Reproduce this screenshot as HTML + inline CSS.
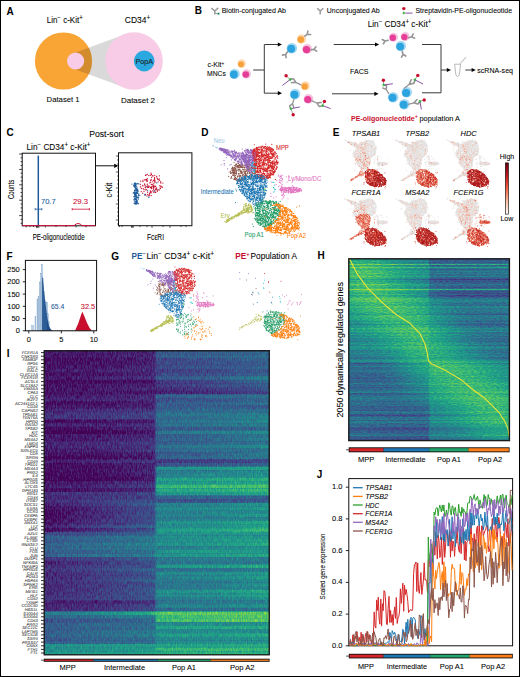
<!DOCTYPE html>
<html><head><meta charset="utf-8"><title>Figure</title>
<style>
html,body{margin:0;padding:0;background:#fff;}
body{width:520px;height:677px;overflow:hidden;}
svg{display:block;font-family:"Liberation Sans", sans-serif;}
</style></head><body>
<svg width="520" height="677" viewBox="0 0 520 677">
<rect x="0" y="0" width="520" height="677" fill="#fff"/>

<text x="6.6" y="15" font-size="10" font-weight="bold" fill="#000">A</text>
<text x="194.8" y="14" font-size="10" font-weight="bold" fill="#000">B</text>
<text x="6.6" y="136" font-size="10" font-weight="bold" fill="#000">C</text>
<text x="201.3" y="136" font-size="10" font-weight="bold" fill="#000">D</text>
<text x="332.8" y="136" font-size="10" font-weight="bold" fill="#000">E</text>
<text x="6.6" y="259.5" font-size="10" font-weight="bold" fill="#000">F</text>
<text x="111.3" y="259.5" font-size="10" font-weight="bold" fill="#000">G</text>
<text x="317.6" y="259" font-size="10" font-weight="bold" fill="#000">H</text>
<text x="6.8" y="357" font-size="10" font-weight="bold" fill="#000">I</text>
<text x="316.8" y="478" font-size="10" font-weight="bold" fill="#000">J</text>
<circle cx="63.5" cy="61" r="28.6" fill="#f8a536"/>
<path d="M75.6 52.4 L122.5 35.2 L122.5 86.8 L75.6 69.6 Z" fill="#000" fill-opacity="0.15"/>
<circle cx="134" cy="61" r="28.8" fill="#f8cce6"/>
<circle cx="75.6" cy="61" r="8.6" fill="#f8cce6"/>
<circle cx="144.2" cy="61" r="10.4" fill="#2ba8e0"/>
<text x="144.2" y="63.6" font-size="7.2" text-anchor="middle" fill="#1a1a1a" stroke="#1a1a1a" stroke-width="0.08">PopA</text>
<text x="46.7" y="22.7" font-size="8.4" stroke="#231f20" stroke-width="0.08" textLength="36" lengthAdjust="spacingAndGlyphs">Lin<tspan dy="-2.8" font-size="6.4">−</tspan><tspan dy="2.8"> </tspan>c-Kit<tspan dy="-2.8" font-size="6.4">+</tspan></text>
<text x="124.8" y="22.7" font-size="8.4" stroke="#231f20" stroke-width="0.08" textLength="25.4" lengthAdjust="spacingAndGlyphs">CD34<tspan dy="-2.8" font-size="6.4">+</tspan></text>
<text x="46.6" y="101.7" font-size="8.0" stroke="#231f20" stroke-width="0.08" textLength="33" lengthAdjust="spacingAndGlyphs">Dataset 1</text>
<text x="121" y="102.8" font-size="8.0" stroke="#231f20" stroke-width="0.08" textLength="34" lengthAdjust="spacingAndGlyphs">Dataset 2</text>
<path d="M211.4 8.2L214.8 11L218.2 7.9M214.8 11V14.4" stroke="#9a9a9a" stroke-width="1.5" fill="none"/>
<path d="M215.4 13.2L217.8 13.7" stroke="#555" stroke-width="0.6"/>
<rect x="217.6" y="12.7" width="1.9" height="1.9" fill="#138a6c"/>
<text x="221.7" y="13.3" font-size="7.4" stroke="#231f20" stroke-width="0.08" textLength="64.3" lengthAdjust="spacingAndGlyphs">Biotin-conjugated Ab</text>
<path d="M317.2 8.3L320.2 11.1L323.3 8.3M320.2 11.1V14.5" stroke="#9a9a9a" stroke-width="1.5" fill="none"/>
<text x="326.8" y="13.3" font-size="7.4" stroke="#231f20" stroke-width="0.08" textLength="52.9" lengthAdjust="spacingAndGlyphs">Unconjugated Ab</text>
<circle cx="403.8" cy="8.6" r="1.7" fill="#c8102e"/>
<rect x="402.7" y="11.9" width="2.2" height="2.2" fill="#3cb64a" transform="rotate(45 403.8 13)"/>
<path d="M405.3 13.1H412.5" stroke="#7e3f98" stroke-width="0.9"/>
<text x="415.5" y="13.3" font-size="7.4" stroke="#231f20" stroke-width="0.08" textLength="96.5" lengthAdjust="spacingAndGlyphs">Streptavidin-PE-oligonucleotide</text>
<text x="207.4" y="67.4" font-size="6.8" stroke="#231f20" stroke-width="0.08" textLength="16.8" lengthAdjust="spacingAndGlyphs">c-Kit<tspan dy="-2.8" font-size="4.5">+</tspan></text>
<text x="207.0" y="76.1" font-size="6.8" stroke="#231f20" stroke-width="0.08" textLength="18.8" lengthAdjust="spacingAndGlyphs">MNCs</text>
<circle cx="241.7" cy="63.6" r="4.3" fill="#fddcb5"/>
<circle cx="241.0" cy="64.2" r="3.0" fill="#f7a13b"/>
<circle cx="234.6" cy="73.9" r="5.2" fill="#a8d8f3"/>
<circle cx="233.9" cy="74.5" r="3.9" fill="#2aa3df"/>
<circle cx="246.5" cy="73.9" r="4.6" fill="#f6c3df"/>
<circle cx="245.8" cy="74.5" r="3.3" fill="#e63d97"/>
<path d="M253.2 70H264.3M264.3 44.5V93.2M264.3 44.5H278M264.3 93.2H278" stroke="#3a3a3a" stroke-width="1" fill="none"/>
<path d="M282 44.5l-4.2 -2.1v4.2z" fill="#000"/>
<path d="M282 93.2l-4.2 -2.1v4.2z" fill="#000"/>
<path d="M333.7 44.5H376M332 93.8H375" stroke="#3a3a3a" stroke-width="1" fill="none"/>
<path d="M379.2 44.5l-4.2 -2.1v4.2z" fill="#000"/>
<path d="M378.6 93.8l-4.2 -2.1v4.2z" fill="#000"/>
<circle cx="301.5" cy="39.0" r="4.7" fill="#fddcb5"/>
<circle cx="300.8" cy="39.6" r="3.4" fill="#f7a13b"/>
<circle cx="291.9" cy="48.2" r="5.3" fill="#a8d8f3"/>
<circle cx="291.2" cy="48.8" r="4.0" fill="#2aa3df"/>
<circle cx="307.2" cy="49.0" r="5.0" fill="#f6c3df"/>
<circle cx="306.5" cy="49.6" r="3.7" fill="#e63d97"/>
<path transform="translate(304.8 36.2) rotate(-38) scale(1.0)" d="M0 0H3.2M3.2 0L5.6-2.2M3.2 0L5.6 2.2" stroke="#959595" stroke-width="1.6" fill="none" stroke-linecap="round"/>
<path transform="translate(287.5 51.8) rotate(125) scale(1.0)" d="M0 0H3.2M3.2 0L5.6-2.2M3.2 0L5.6 2.2" stroke="#959595" stroke-width="1.6" fill="none" stroke-linecap="round"/>
<path transform="translate(310.8 49.8) rotate(-8) scale(1.0)" d="M0 0H3.2M3.2 0L5.6-2.2M3.2 0L5.6 2.2" stroke="#959595" stroke-width="1.6" fill="none" stroke-linecap="round"/>
<text x="367.7" y="27.2" font-size="8.5" stroke="#231f20" stroke-width="0.08" textLength="63.6" lengthAdjust="spacingAndGlyphs">Lin<tspan dy="-2.8" font-size="6.4">−</tspan><tspan dy="2.8"> </tspan>CD34<tspan dy="-2.8" font-size="6.4">+</tspan><tspan dy="2.8"> </tspan>c-Kit<tspan dy="-2.8" font-size="6.4">+</tspan></text>
<circle cx="393.5" cy="37.2" r="4.5" fill="#f6c3df"/>
<circle cx="392.8" cy="37.8" r="3.2" fill="#e63d97"/>
<circle cx="405.1" cy="36.5" r="4.5" fill="#f6c3df"/>
<circle cx="404.4" cy="37.1" r="3.2" fill="#e63d97"/>
<circle cx="400.9" cy="46.0" r="5.2" fill="#a8d8f3"/>
<circle cx="400.2" cy="46.6" r="3.9" fill="#2aa3df"/>
<path transform="translate(388.2 40.2) rotate(165) scale(1.0)" d="M0 0H3.2M3.2 0L5.6-2.2M3.2 0L5.6 2.2" stroke="#959595" stroke-width="1.6" fill="none" stroke-linecap="round"/>
<path transform="translate(408.6 37.8) rotate(-18) scale(1.0)" d="M0 0H3.2M3.2 0L5.6-2.2M3.2 0L5.6 2.2" stroke="#959595" stroke-width="1.6" fill="none" stroke-linecap="round"/>
<path transform="translate(402.2 51.2) rotate(75) scale(1.0)" d="M0 0H3.2M3.2 0L5.6-2.2M3.2 0L5.6 2.2" stroke="#959595" stroke-width="1.6" fill="none" stroke-linecap="round"/>
<text x="350" y="74" font-size="7.4" stroke="#231f20" stroke-width="0.08" textLength="18.5" lengthAdjust="spacingAndGlyphs">FACS</text>
<circle cx="305.4" cy="85.8" r="4.5" fill="#fddcb5"/>
<circle cx="304.7" cy="86.4" r="3.2" fill="#f7a13b"/>
<circle cx="295.1" cy="94.1" r="5.3" fill="#a8d8f3"/>
<circle cx="294.4" cy="94.7" r="4.0" fill="#2aa3df"/>
<circle cx="308.5" cy="98.9" r="4.9" fill="#f6c3df"/>
<circle cx="307.8" cy="99.5" r="3.6" fill="#e63d97"/>
<path transform="translate(300.5 84.6) rotate(-154.1) scale(1.64 1)" d="M0 0H3.2M3.2 0L5.4-2.2M3.2 0L5.4 2.2M5.4 2.2L7 0.3" stroke="#959595" stroke-width="1.3" fill="none" stroke-linecap="round"/>
<path d="M290.2 79.6L282.7 85.2" stroke="#7e3f98" stroke-width="0.9" stroke-linecap="round"/>
<path d="M290.2 79.6L286.1 75.7" stroke="#444" stroke-width="0.5"/>
<circle cx="286.1" cy="75.7" r="1.7" fill="#c8102e"/>
<rect x="289.09999999999997" y="78.5" width="2.2" height="2.2" fill="#3cb64a" transform="rotate(45 290.2 79.6)"/>
<path transform="translate(293.8 99.6) rotate(107.1) scale(1.36 1)" d="M0 0H3.2M3.2 0L5.4-2.2M3.2 0L5.4 2.2M5.4 2.2L7 0.3" stroke="#959595" stroke-width="1.3" fill="none" stroke-linecap="round"/>
<path d="M291.0 108.7L299.5 107.0" stroke="#7e3f98" stroke-width="0.9" stroke-linecap="round"/>
<path d="M291.0 108.7L293.2 114.8" stroke="#444" stroke-width="0.5"/>
<circle cx="293.2" cy="114.8" r="1.7" fill="#c8102e"/>
<rect x="289.9" y="107.60000000000001" width="2.2" height="2.2" fill="#3cb64a" transform="rotate(45 291.0 108.7)"/>
<path transform="translate(312.0 100.8) rotate(24.4) scale(1.66 1)" d="M0 0H3.2M3.2 0L5.4-2.2M3.2 0L5.4 2.2M5.4 2.2L7 0.3" stroke="#959595" stroke-width="1.3" fill="none" stroke-linecap="round"/>
<path d="M322.6 105.6L330.3 108.5" stroke="#7e3f98" stroke-width="0.9" stroke-linecap="round"/>
<path d="M322.6 105.6L324.4 101.4" stroke="#444" stroke-width="0.5"/>
<circle cx="324.4" cy="101.4" r="1.7" fill="#c8102e"/>
<rect x="321.5" y="104.5" width="2.2" height="2.2" fill="#3cb64a" transform="rotate(45 322.6 105.6)"/>
<circle cx="393.2" cy="97.2" r="5.3" fill="#a8d8f3"/>
<circle cx="392.5" cy="97.8" r="4.0" fill="#2aa3df"/>
<circle cx="406.8" cy="92.3" r="5.3" fill="#a8d8f3"/>
<circle cx="406.1" cy="92.9" r="4.0" fill="#2aa3df"/>
<circle cx="404.4" cy="104.2" r="5.3" fill="#a8d8f3"/>
<circle cx="403.7" cy="104.8" r="4.0" fill="#2aa3df"/>
<path transform="translate(388.5 93.2) rotate(-120.9) scale(1.36 1)" d="M0 0H3.2M3.2 0L5.4-2.2M3.2 0L5.4 2.2M5.4 2.2L7 0.3" stroke="#959595" stroke-width="1.3" fill="none" stroke-linecap="round"/>
<path d="M383.6 85.0L392.5 83.8" stroke="#7e3f98" stroke-width="0.9" stroke-linecap="round"/>
<path d="M383.6 85.0L383.4 80.3" stroke="#444" stroke-width="0.5"/>
<circle cx="383.4" cy="80.3" r="1.7" fill="#c8102e"/>
<rect x="382.5" y="83.9" width="2.2" height="2.2" fill="#3cb64a" transform="rotate(45 383.6 85.0)"/>
<path transform="translate(404.6 88.0) rotate(-38.8) scale(1.87 1)" d="M0 0H3.2M3.2 0L5.4-2.2M3.2 0L5.4 2.2M5.4 2.2L7 0.3" stroke="#959595" stroke-width="1.3" fill="none" stroke-linecap="round"/>
<path d="M414.8 79.8L422.7 83.8" stroke="#7e3f98" stroke-width="0.9" stroke-linecap="round"/>
<path d="M414.8 79.8L417.8 75.4" stroke="#444" stroke-width="0.5"/>
<circle cx="417.8" cy="75.4" r="1.7" fill="#c8102e"/>
<rect x="413.7" y="78.7" width="2.2" height="2.2" fill="#3cb64a" transform="rotate(45 414.8 79.8)"/>
<path transform="translate(409.0 104.2) rotate(-15.4) scale(1.62 1)" d="M0 0H3.2M3.2 0L5.4-2.2M3.2 0L5.4 2.2M5.4 2.2L7 0.3" stroke="#959595" stroke-width="1.3" fill="none" stroke-linecap="round"/>
<path d="M419.9 101.2L421.3 109.0" stroke="#7e3f98" stroke-width="0.9" stroke-linecap="round"/>
<path d="M419.9 101.2L424.2 100.0" stroke="#444" stroke-width="0.5"/>
<circle cx="424.2" cy="100.0" r="1.7" fill="#c8102e"/>
<rect x="418.79999999999995" y="100.10000000000001" width="2.2" height="2.2" fill="#3cb64a" transform="rotate(45 419.9 101.2)"/>
<path d="M422 44.5H441M441 44.5V92.8M422 92.8H441M441 70H447" stroke="#3a3a3a" stroke-width="1" fill="none"/>
<path d="M451 70l-4.2 -2.1v4.2z" fill="#000"/>
<path d="M454.6 64.2H460.6L459.4 74.5Q457.6 78.6 455.8 74.5Z" fill="#fff" stroke="#9a9a9a" stroke-width="0.7"/>
<path d="M460.2 63.6L466 57.2" stroke="#9a9a9a" stroke-width="0.8"/>
<path d="M465.3 70H472" stroke="#3a3a3a" stroke-width="1"/>
<path d="M475.8 70l-4.2 -2.1v4.2z" fill="#000"/>
<text x="477.3" y="72.7" font-size="7.2" stroke="#231f20" stroke-width="0.08" textLength="35.7" lengthAdjust="spacingAndGlyphs">scRNA-seq</text>
<text x="351" y="120.8" font-size="7.8" font-weight="bold" fill="#c8102e" textLength="66.8" lengthAdjust="spacingAndGlyphs">PE-oligonucleotide<tspan dy="-2.8" font-size="5.8">+</tspan></text>
<text x="419.5" y="120.8" font-size="7.2" stroke="#231f20" stroke-width="0.08" textLength="40.5" lengthAdjust="spacingAndGlyphs">population A</text>
<path d="M213.1 145.4h0m-.3 .5h0m.8 .1h0m1.9 1h0m.4 .2h0m1.7 0h0m-.9 .7h0m2.3 .7h0m.1 .9h0" stroke="#9ec9e6" stroke-width="1.15" stroke-linecap="round" fill="none"/>
<path d="M234.0 162.3h0m7.3 .1h0m5.1 .1h0m.1 0h0m-8.4 .9h0m.3 0h0m8.5 0h0m0-.6h0m.1 0h0m.2 .7h0m-11.5 .9h0m.5-.3h0m.1 .4h0m.4-.5h0m2.8 .3h0m.8 0h0m1.9-.5h0m3.2 .6h0m1.2-.6h0m1.4 .2h0m.9 0h0m.7 .6h0m2.5-.8h0m.9 .1h0m-18.8 1.4h0m1.8 .1h0m.5-.6h0m2 .4h0m.2 .2h0m.7-.1h0m.1-.4h0m.5 .7h0m0 0h0m2.3-1h0m.4 .3h0m.2-.2h0m0 .9h0m1.4-.2h0m2-.6h0m0 .4h0m.4 0h0m.8 .2h0m.1-.6h0m.2 .1h0m.9 .1h0m.4 .2h0m3.6 0h0m.5 .3h0m.5 0h0m.1-.5h0m1.2 0h0m-19.9 1h0m.1 .1h0m1 .2h0m1.1-.3h0m.3-.4h0m.6 .7h0m.7 0h0m.1-.4h0m1.4 .3h0m.5-.5h0m.3 .3h0m4.9-.4h0m.6 .4h0m1.1 .4h0m.7 .1h0m.9-.3h0m2.7-.3h0m.8 .4h0m2.1-.2h0m-22.5 1.1h0m1.9 .3h0m.6-.1h0m1.7-.5h0m.8 0h0m.1 .2h0m1 .3h0m.2-.3h0m.1 .4h0m1.2 0h0m.2-.6h0m0-.1h0m.2 .1h0m.9 .6h0m0-.9h0m.6 .6h0m.3 .4h0m.5-.9h0m0 .3h0m.8 0h0m.8 .4h0m.5-.6h0m.1 .6h0m1.5-.1h0m.8-.8h0m.4 .4h0m1-.3h0m.1 0h0m2.5 .3h0m.4 0h0m0 0h0m.3 .4h0m1.7 0h0m-21.7 .9h0m.5-.5h0m.4 .4h0m.1 .1h0m.4-.3h0m1-.3h0m.2 .2h0m.3 .4h0m.7 .1h0m.4 .2h0m2.1-.6h0m1.2-.4h0m.5 .1h0m2-.1h0m1.1 .1h0m3.8 .6h0m.9 0h0m.3-.5h0m.6 .1h0m.1 .6h0m1.3-.7h0m.6 .5h0m1-.7h0m0 .7h0m.3-.2h0m.3 .1h0m.7 0h0m2.7 0h0m-24 .7h0m.2 .1h0m1-.3h0m.5 .2h0m.3 .4h0m1.1-.2h0m.4-.2h0m4.3 .3h0m.9 .2h0m2.6 0h0m1.9-.4h0m3 .4h0m.4-.2h0m0-.1h0m1.2 .3h0m.2-.4h0m1.8 .5h0m2.6-.2h0m-21.4 1.2h0m.3-.9h0m.8 .9h0m1-.6h0m.4 .1h0m.5-.1h0m.4 .1h0m.4 .3h0m.6-.2h0m1 0h0m.2-.4h0m.8 .2h0m.5 0h0m3.3-.1h0m1 0h0m.2 .1h0m1.7 0h0m.8 0h0m1.3 .1h0m.9-.2h0m1.3 .7h0m3.4-.5h0m.3-.1h0m1.4-.4h0m.2 .8h0m-24.1 .3h0m1.4 .5h0m.6-.1h0m0 0h0m.9 .4h0m.4-.1h0m.6 .2h0m0-.8h0m1.3 .2h0m2.1 .2h0m1.7-.3h0m.2 .7h0m.6-.5h0m.9 .2h0m2.2 .3h0m.7-.4h0m1 .4h0m.8-.5h0m.2-.1h0m.2 .3h0m.2 .1h0m0 0h0m0-.4h0m1.5 .3h0m.2 .5h0m.9-.8h0m.1 .2h0m1.4-.3h0m.2 .8h0m.5 0h0m3.3 .1h0m-26.1 .4h0m1.4-.3h0m.3 .4h0m1.6 .5h0m.4-.4h0m.2 .3h0m.6-.1h0m.8 .2h0m.6-.4h0m.3 .1h0m.1-.2h0m1.1-.2h0m3.8-.1h0m.8 .4h0m.7-.3h0m.2 0h0m1.6-.1h0m1.3 .4h0m.2-.2h0m.2-.3h0m2.3 .6h0m.2-.3h0m3.8-.2h0m.1 .4h0m.6-.3h0m1.8 .1h0m.6-.3h0m-24.2 1.5h0m.1 .3h0m.8-.4h0m.1-.2h0m.8-.2h0m.2 0h0m1.8 .9h0m.5-.5h0m.1 .3h0m1.1 0h0m.3 0h0m.2-.3h0m2.6 .3h0m1.5-.3h0m.7 0h0m.2 .4h0m.2-.7h0m.6-.1h0m2.1 .1h0m0 .5h0m.5-.6h0m.2 .3h0m.1 .4h0m.4-.1h0m.3 0h0m1.8 .1h0m.2 .2h0m1.6-.2h0m0-.8h0m.1 .8h0m2.6-.8h0m.5 .6h0m.2-.1h0m1.8 .1h0m.6-.4h0m.2 0h0m0 0h0m-22.3 .9h0m.1 0h0m.6-.2h0m0 0h0m.1 .2h0m2.5 .4h0m1.8-.4h0m4.1 .4h0m.5-.1h0m.8 .5h0m1.6-.1h0m.5-.2h0m.4 0h0m1.3-.6h0m2.7 .6h0m.7 .1h0m1.3-.3h0m1.6-.4h0m.4 .3h0m.2-.2h0m.8 .5h0m-22.7 1h0m.8 0h0m.3 .4h0m.2-.2h0m.5-.2h0m.1 .1h0m.6-.4h0m.7 .7h0m2.7-.6h0m1 .1h0m.6 .3h0m.4 0h0m.4 .1h0m1.6 .2h0m.1 0h0m1.5 0h0m.2 0h0m1.1-.5h0m0-.1h0m.4 0h0m.2 .4h0m0 0h0m.1 .3h0m.2-.9h0m.1 .9h0m.5-.3h0m3.2 .1h0m.1-.2h0m4.7 .4h0m.5 0h0m-26.6 .6h0m2.8 .1h0m3.1 .2h0m.3 .2h0m2.5-.7h0m.1 .8h0m0-.7h0m.6 .2h0m1.3 .1h0m.6 0h0m.3 0h0m3.5 .1h0m.2 .4h0m2-.6h0m4.3-.3h0m1.5 .3h0m2.1 .5h0m.3-.5h0m-22.8 .8h0m.5 .8h0m3.3-.8h0m.6 .6h0m5.5-.7h0m3.2 .2h0m.8 .7h0m4.2-.4h0m1 .3h0m.2 .2h0m.7-.5h0m.3-.4h0m-21 1h0m3.5 .3h0m.1 .4h0m.8 .2h0m0-1h0m1.3 .2h0m1.3 .6h0m1.6-.3h0m1.7-.4h0m.2 .4h0m2.1-.1h0m1.2 0h0m-10.7 .9h0m.9-.1h0m.7 .1h0m.2 .1h0m.6 .5h0m.5 .1h0m0-.3h0m1.2-.4h0m.6 .3h0m.9 .2h0m.4 0h0m1.9-.3h0m.7-.2h0m.8 .3h0m.6 .1h0m-5.8 .8h0m.6 0h0m1.1 .2h0m.4-.3h0m.3 .4h0m.8-.1h0m-3.4 .5h0m1-.1h0" stroke="#8c564b" stroke-width="1.15" stroke-linecap="round" fill="none"/>
<path d="M219.7 148.2h0m.4 .2h0m.1-.1h0m.1-.1h0m.6 0h0m1 .2h0m-2.3 1h0m.1-.8h0m.1-.2h0m.1 .6h0m.2 .1h0m.1-.2h0m.8-.3h0m.5 .2h0m.2 .6h0m.2-.2h0m.7-.5h0m.2 0h0m.1 .6h0m.7-.1h0m.1-.3h0m0 0h0m.5 0h0m.8 .4h0m17.3-.3h0m3.7 .2h0m-26 .5h0m.2 0h0m.4 .3h0m.3 .1h0m.3-.6h0m.1-.2h0m0 .6h0m0-.3h0m.3 0h0m.2 .6h0m.7-.6h0m.1 .3h0m.2-.2h0m.1 .1h0m.1 .2h0m.7 .2h0m.6-.1h0m.5-.4h0m0-.2h0m.1 .4h0m.1 0h0m.1-.2h0m.2 .1h0m.1 .4h0m0 0h0m.1-.8h0m1.1 .9h0m0 0h0m.1-.6h0m.3 .3h0m0-.4h0m.8 .5h0m.2 .1h0m.1-.3h0m18.1 .1h0m.1 .3h0m1-.3h0m.1 .3h0m0-.8h0m0 .3h0m.5-.4h0m.2 .4h0m.3 .4h0m.4 .1h0m1.6-.3h0m.1-.4h0m.1 .6h0m.7-.3h0m.3 .4h0m.5-.4h0m1 .3h0m0-.1h0m.2-.3h0m-32 .9h0m.4 0h0m.7-.4h0m.5 .7h0m.5 .2h0m.1-.8h0m.4 0h0m0 .7h0m.3 .2h0m.2-.7h0m.4 0h0m.1 .1h0m0 .5h0m1.1-.1h0m.5-.1h0m.4-.7h0m1 .6h0m2-.1h0m1.3 .4h0m.8 0h0m.4-.1h0m2.2-.7h0m10 .2h0m.1 0h0m1.3 .1h0m1.8 .4h0m.2-.2h0m.4-.2h0m2-.3h0m.7 0h0m.1 .6h0m1.2-.2h0m4 .3h0m-32.8 1.1h0m.2-.8h0m.3 .7h0m1 0h0m0-.1h0m.3-.3h0m.9-.2h0m.1-.2h0m1.2 .3h0m.2 .6h0m1.3-.6h0m.1 .1h0m3.3 .4h0m.8-.8h0m.8 .1h0m.1 .8h0m.2-.4h0m2.2 .2h0m.1 .1h0m5.8 0h0m2.4-.5h0m.8 .5h0m1.4-.9h0m1.9 .8h0m.3-.5h0m.4 .5h0m1.3-.4h0m1.3-.5h0m.3 0h0m1.3 .3h0m1 .5h0m.9 .1h0m-31.8 .5h0m0-.4h0m.4 .5h0m.4 .4h0m.2-.3h0m.2 .1h0m.1-.4h0m.9 0h0m.1 .1h0m.4-.1h0m.7 .3h0m.8-.7h0m0 .9h0m.7 0h0m.1-.6h0m.2-.2h0m2.4 0h0m.2 0h0m0 .1h0m.4 .4h0m.4-.5h0m1.5 0h0m1.1 .7h0m0-.4h0m.1-.1h0m.5-.2h0m.4 .3h0m.4-.3h0m.2 .4h0m2 .3h0m4.5 .1h0m2.2-.7h0m.1 .1h0m1.5 .1h0m.6-.3h0m.2 0h0m.5 0h0m0 .7h0m0-.2h0m1.8-.3h0m.3 .2h0m.4 .3h0m.8-.8h0m.2-.1h0m0 .6h0m.4-.6h0m.4 .7h0m.5-.2h0m.7 .2h0m.2 .1h0m.5-.7h0m1.1 .4h0m.1-.2h0m-29.5 1h0m.2 .3h0m.1-.7h0m0 .7h0m0-.4h0m.6 .1h0m.6-.2h0m1.3 .7h0m1.2-.8h0m2.4 .7h0m.6-.1h0m.1 .2h0m1.5-.2h0m.4 0h0m.5 .1h0m1.3-.2h0m.9 .3h0m.9 .1h0m.6-.8h0m.8 0h0m1 0h0m.6 .7h0m0-.1h0m.7-.6h0m0 0h0m0 .9h0m.8-.1h0m.3-.2h0m.2 .2h0m2.2-.6h0m.7 .3h0m1.8 .1h0m1.1-.7h0m.1 .4h0m1-.3h0m.5 .3h0m.7 .3h0m1.4 0h0m.5 .1h0m.7-.4h0m.9 .5h0m-29.4 .3h0m1.3 .2h0m.7 .5h0m.3-.5h0m.2 .2h0m.4 .2h0m1-.3h0m2.9 .2h0m0-.5h0m.3 .7h0m0 .1h0m.4 0h0m0-.3h0m.7 .1h0m1.3 .2h0m0 .2h0m1.2-.1h0m.6 .1h0m1.6-.2h0m.7-.2h0m1.3 .3h0m0-.5h0m.1 .5h0m2.3-.4h0m.3-.2h0m.7 .7h0m.5 .2h0m.1 0h0m.9-.9h0m.1 .7h0m.1-.1h0m.5-.6h0m.1 .6h0m.1-.2h0m.2 .4h0m.5-.6h0m0-.3h0m.4 .5h0m.2 .3h0m1.9-.8h0m.3 .8h0m.5-.1h0m1.3-.4h0m2.2-.2h0m.5 .3h0m.1 .3h0m.7-.3h0m.8-.2h0m-29.6 .7h0m2.3 .5h0m.1-.3h0m0 0h0m.7-.1h0m.6 .1h0m.5 .5h0m.1-.7h0m0 .2h0m.2 .4h0m.3-.5h0m.3-.2h0m1.4 .8h0m.8-.5h0m.7 .2h0m.1-.3h0m.1 .7h0m0-.7h0m0 .7h0m2.9 0h0m1.4 0h0m.4-.5h0m1.5 .2h0m.2-.5h0m.4 .7h0m.2-.1h0m0 .1h0m.1-.6h0m.9 0h0m.1 .3h0m.1 .5h0m.1-.9h0m.1 0h0m.4 .2h0m.6 .1h0m.1 .5h0m.6-.6h0m.2-.2h0m.4 .5h0m.1 0h0m0-.5h0m0 .3h0m0 .6h0m.5-.7h0m.3 .2h0m.8-.4h0m1.3 .9h0m.1-.9h0m.9 .1h0m.6 .4h0m1.1-.1h0m1.2-.2h0m.5 .4h0m.8-.2h0m.7 .1h0m.5 .2h0m.1-.2h0m-23.8 .7h0m.4 0h0m1.5-.4h0m.9 .7h0m.3-.1h0m.4 .1h0m.2-.4h0m.1 .1h0m.7 .3h0m.5-.2h0m.1-.2h0m.8 0h0m.7-.3h0m.7 .3h0m0 0h0m1.3 .6h0m1.1-.3h0m.2-.6h0m.1 .8h0m.6-.4h0m.8 .6h0m0-.8h0m.2 .1h0m.6-.1h0m.1-.1h0m.1 .9h0m.7-.5h0m.5-.2h0m0 .7h0m.1-.4h0m.3-.1h0m.2 .1h0m.2 0h0m1.2-.6h0m2.8 .6h0m2.2 .2h0m.7-.4h0m.1 0h0m.4 .2h0m.5-.3h0m.4-.3h0m1.3 0h0m-29.2 1.7h0m4.5-.7h0m1.1 0h0m.3 .3h0m.9-.4h0m.4 .2h0m.1-.1h0m.7 .2h0m1.7-.4h0m.5 .1h0m.7 .4h0m1.3 .1h0m1.9-.4h0m.5-.2h0m.4 .3h0m.5 0h0m.4 .1h0m0 .4h0m.5-.8h0m.7 .9h0m1.7-.3h0m.8-.4h0m.1 0h0m.1 .2h0m.3-.5h0m.2 .3h0m.1 .4h0m.1-.7h0m.9 .5h0m.2-.2h0m.4-.4h0m.5 .7h0m0-.4h0m.4 .4h0m.1 .2h0m.4-.5h0m.1 .4h0m.4-.7h0m0 .6h0m.5-.5h0m.1 0h0m.7 .5h0m0 .1h0m.5-.4h0m.9 .6h0m.4-.8h0m.7 .6h0m.6-.3h0m.8 0h0m-22.6 1.1h0m.3 .1h0m2.2-.1h0m.2 0h0m1.1 0h0m1.5 0h0m1.8 .2h0m1.3-.3h0m.8 .2h0m0-.1h0m.9 .4h0m.2-.4h0m.3-.1h0m.6-.3h0m.1 .5h0m.1 .1h0m.2 0h0m.6 0h0m.1 .3h0m.1-.1h0m.3 .1h0m0-.9h0m.1 .7h0m.1-.6h0m1.1 .7h0m.9 .1h0m.7-.7h0m.3 .7h0m1.2-.5h0m.9-.4h0m.3 .1h0m.8-.1h0m.6 .7h0m.3 0h0m.2 0h0m0-.5h0m.2 .7h0m.2-.7h0m0 .1h0m.5 .1h0m0 .5h0m0-.6h0m.6 .1h0m.3 .7h0m-23.3 .9h0m2.9-.4h0m.7-.2h0m0 .2h0m.6-.1h0m.5 .2h0m.2-.2h0m2.8 .6h0m.6-.3h0m0-.3h0m.5-.2h0m.4 .5h0m1.4 0h0m.8-.3h0m.3 .4h0m.1-.3h0m.1 .5h0m.1-.1h0m.1 0h0m.5-.6h0m.2-.1h0m.4 .6h0m.6-.3h0m.1-.1h0m.9 .6h0m.4 0h0m1.7-.4h0m.2-.5h0m.2 .7h0m0-.6h0m.1 .5h0m.5 .2h0m.3-.8h0m.4 .3h0m.1 .4h0m1-.1h0m0 .1h0m.2 .3h0m.6-.7h0m.3 .3h0m0 .2h0m.5 .1h0m.4-.7h0m.1 .5h0m.3 .2h0m.8-.4h0m.3-.5h0m-30.6 1.4h0m10.6-.3h0m.3 .1h0m.7 .4h0m.1-.4h0m3.4-.2h0m1.9 .4h0m2-.2h0m.7 .1h0m.3 0h0m.1 .1h0m.1 .5h0m.1-.2h0m.3-.5h0m.6-.1h0m0 .5h0m.3 .2h0m.2 .1h0m.6-.6h0m.1 .2h0m.1 .3h0m.1-.4h0m.3-.4h0m.9 .6h0m.6-.2h0m.1-.4h0m.1 .8h0m.2-.9h0m.3 .3h0m.1 .2h0m.4 .1h0m.8 .1h0m1.4-.4h0m.1 .1h0m.6 .2h0m.3-.7h0m.2 .2h0m1.1-.2h0m1 0h0m-17.9 1.2h0m.2 .6h0m.1-.4h0m.3 0h0m.7 .5h0m0-.6h0m1.3 .1h0m.3 .3h0m1.4-.2h0m1.5 0h0m.5 0h0m.1 .1h0m.6-.4h0m0 .6h0m0 0h0m.4-.4h0m.2 .6h0m.1-.3h0m.4-.1h0m1.1 .4h0m.8-.5h0m.5 .2h0m.6-.5h0m.1 .5h0m.1-.6h0m.1 .2h0m.1-.2h0m.1 .9h0m.3-.6h0m.2 .4h0m.1-.6h0m.4 .2h0m.2 .5h0m1.3 .1h0m.6 .2h0m.2-.5h0m.1-.3h0m0 .6h0m.1 .3h0m.4-.2h0m.2-.4h0m.1 .6h0m0-.9h0m1.9-.1h0m.2 .2h0m-17.2 1.4h0m1.9-.2h0m.1 0h0m.3 .3h0m.1-.7h0m1.6 .8h0m0-.6h0m2.3 0h0m.4 .1h0m0 .6h0m.5-.9h0m.4 .2h0m.2 .3h0m.6 .3h0m.2-.7h0m.1 .2h0m.1 .5h0m.8-.3h0m.1 .1h0m.1-.6h0m0 .9h0m.1-.1h0m.2-.5h0m0 .4h0m.6-.6h0m0 .2h0m.1-.2h0m.2 0h0m.8-.1h0m.2 1h0m.2-.9h0m1.2 .6h0m.1-.5h0m.3 .4h0m0-.3h0m2.1 .3h0m1.5-.1h0m.2 .3h0m-31.3 .5h0m16.8 .8h0m.4-.8h0m.7 0h0m.2-.1h0m2.7 .7h0m.3-.3h0m.3 .4h0m1.2-.3h0m.9-.6h0m.7 .2h0m.7 .5h0m1.8 0h0m.8-.2h0m.5-.5h0m.1 .6h0m.1-.6h0m0 .6h0m0 .2h0m-31.2 .7h0m8.8 .2h0m1.4-.7h0m9.9 .9h0m.4-.2h0m.2 .2h0m.3-.9h0m4.8 .1h0m.9 .5h0m.1 .1h0m.2-.5h0m1.8 0h0m.7-.1h0m2.9 .1h0m.1 .4h0m2.1 .2h0m-31.6 .1h0m17.5 .3h0m3.2 0h0m.2 .1h0m.6 .2h0m.4-.7h0m.9 .9h0m2.6-.8h0m.6 .6h0m.4-.6h0m.7 .2h0m.1 .5h0m1.1-.5h0m.6 0h0m2.4 .4h0m-9.6 1.1h0m.7 0h0m1.9 .2h0m.5-.5h0m2.2-.3h0m.8 .5h0m.2-.3h0m.4 .3h0m.4-.4h0m1.4 .5h0m1-.3h0m-9.3 .7h0m.4 .4h0m.9 .2h0m.1-.6h0m1.5 .2h0m5.1-.1h0m.1 0h0m-26.6 1.5h0m19.9 0h0m.1-.7h0m.6 .2h0m.3 .4h0m2.2 .2h0m.5-.7h0m.2 .8h0m1.3-.5h0m.7 .4h0m.9-.4h0m.1 .3h0m-6.7 .5h0m.5 0h0m.5 .9h0m2.6-.7h0m1.4 .2h0m1.2-.1h0m0 .6h0m.3-.5h0m-5.6 1.4h0m.4-.5h0m.2 .2h0m1-.4h0m1.4 .7h0m.2-.7h0m1.7 .5h0m.2 .2h0m.5-.3h0m-5.6 .6h0m1.8 .7h0m.8-.3h0m0 .3h0m.4-.3h0m-.8 1h0" stroke="#9467bd" stroke-width="1.15" stroke-linecap="round" fill="none"/>
<path d="M265.8 144.1h0m6 .3h0m-17.5 .3h0m5.8 1.6h0m1.6 0h0m.2-.1h0m0 .2h0m.7 .1h0m.3-.4h0m1.6 .4h0m0 0h0m1.2-.3h0m-9.1 1.2h0m1.1 .1h0m.6-.5h0m1.7-.4h0m1.8 .5h0m2.3-.2h0m.9-.3h0m.8-.1h0m.3 .5h0m1.4-.2h0m1.1 .4h0m.8-.4h0m-13.1 .8h0m.1 .5h0m0-.5h0m.2 .8h0m.4-.2h0m2-.7h0m.3 .2h0m1.4 0h0m0-.2h0m.5 .8h0m.2-.5h0m1.8 .5h0m.1-.2h0m.1-.5h0m.7 .2h0m.3-.1h0m.2 .4h0m.6 0h0m.9 .3h0m.5-.5h0m0 .3h0m.2-.5h0m.7 .8h0m.6-.4h0m.1 .2h0m.3-.6h0m.9 .5h0m0 .1h0m.5-.5h0m.1-.2h0m0 .3h0m.4-.2h0m.6 .2h0m.8 .3h0m.6 .5h0m-18.8 .8h0m.5 0h0m.1-.7h0m.5 .5h0m.6-.5h0m0 .1h0m.6 .1h0m.2 .2h0m.7 .6h0m0-.4h0m.4-.5h0m.3 .7h0m.3-.7h0m.3 .1h0m.1 .7h0m.2-.6h0m.2 .6h0m.4 0h0m.5-.1h0m.4-.2h0m1.2 .3h0m.4-.7h0m.8 .2h0m.4-.2h0m3.5 .5h0m0-.1h0m0 .4h0m.9-.6h0m.6 .2h0m.9 .4h0m.1-.2h0m.8 0h0m.4-.1h0m.2 .4h0m.2-.2h0m0-.6h0m.9 .2h0m0 .2h0m.3 0h0m1.2 .4h0m.3-.7h0m.6 .3h0m-20.4 1.2h0m.1 0h0m.8-.5h0m.8 .1h0m.5 .5h0m.1-.1h0m2.3-.2h0m1.8-.4h0m1.6 .2h0m.7-.2h0m.2 .1h0m.6 .2h0m1.7-.2h0m.2-.2h0m.3 0h0m1.4 .6h0m.9 .1h0m1.5-.1h0m.2 0h0m.1-.3h0m1.2-.4h0m.1 .3h0m1 0h0m.4-.2h0m.7 .3h0m1.2 0h0m-20.5 1.3h0m.9-.7h0m.4 .2h0m.8 .6h0m1.2-.3h0m.8-.6h0m.8 .6h0m3.4-.5h0m.2 .8h0m1.3-.7h0m.1 .4h0m.4-.6h0m.9 .9h0m1.4-.6h0m.7 .3h0m.7-.3h0m2.8 .4h0m.2-.2h0m.2 0h0m.8 .5h0m.4-.3h0m.2 0h0m.5 .1h0m2-.1h0m-21.7 .6h0m.6 0h0m1.2-.3h0m2.5 .3h0m.7 .5h0m.8-.2h0m.6-.2h0m.1 .2h0m1-.3h0m0 .2h0m.4-.5h0m.2 .8h0m1.1 0h0m.1-.5h0m1.2 .2h0m2.6-.2h0m.4-.2h0m.6 0h0m.6-.1h0m3.2 .2h0m.3 .4h0m.5-.6h0m1.3-.1h0m1.5 .7h0m1.6-.3h0m-23.4 1.5h0m1.1-.8h0m2.4 .1h0m0-.1h0m.1 .7h0m1-.7h0m.9 1h0m.4-.2h0m.2 0h0m.7-.1h0m.5-.5h0m1.9 .2h0m.2-.2h0m4.4 0h0m.5 .3h0m2.2-.5h0m.4 1h0m1.6-.1h0m.2-.6h0m.1 .4h0m.4 .2h0m.6-.6h0m1.7 .3h0m1.2-.6h0m.2 .5h0m1.5 .3h0m-23.5 .6h0m.4 .1h0m0-.4h0m.3 .4h0m.5-.5h0m1.5 .9h0m.2-.1h0m.3-.7h0m.1-.1h0m1.3 .1h0m.2 .5h0m.2-.1h0m.2-.1h0m2.8-.5h0m.2 .5h0m.7 0h0m.7 0h0m.2 .1h0m.2-.5h0m1.1 .7h0m.2 .1h0m.5-.8h0m1.9 .8h0m0-.6h0m0-.1h0m.5 .4h0m.3 .3h0m.6-.6h0m.2 .1h0m1.4 .2h0m1.1-.5h0m.4 0h0m.3 .4h0m.1 .3h0m.9-.6h0m.5 .5h0m.5 .2h0m1.4-.5h0m-21.8 1.5h0m.5-.6h0m2.4 .3h0m.4-.6h0m.6 .1h0m.5 .4h0m3.6 .3h0m.3-.6h0m.4 .4h0m.5-.1h0m.8 .1h0m.7-.2h0m.5 0h0m.3 .5h0m.8-.5h0m0-.1h0m.4-.1h0m0 .3h0m1 .1h0m.9-.3h0m.1 0h0m.7 .5h0m.1-.2h0m3.6-.4h0m.4 .2h0m.4 .1h0m.1-.6h0m.3 .4h0m.4 .1h0m.8-.2h0m.5 .1h0m-22.2 .7h0m.7 0h0m0 .1h0m.6 .5h0m1.3-.3h0m1-.4h0m.4 .7h0m0 .1h0m.3-.8h0m1 .4h0m.3 .4h0m0-.6h0m.6-.2h0m.3 .1h0m.3 .4h0m.1-.3h0m.6 .5h0m0-.3h0m1.1 .2h0m.2 .1h0m.8 .1h0m.6 .2h0m.3-.9h0m.3 .2h0m1.2-.2h0m.1 .3h0m.9 .2h0m1.6 .2h0m.8-.5h0m.9 .5h0m.1 .1h0m1 .1h0m1.4-.3h0m.8-.7h0m.7 .9h0m.1-.7h0m1.2 .8h0m2.1-.5h0m.4-.2h0m.1 .1h0m.4-.1h0m.1 .4h0m-23.4 .7h0m.5 .1h0m1.7-.4h0m1 0h0m1.7 .5h0m.4 .2h0m2-.3h0m1.4 .2h0m2.1 .3h0m1-.1h0m.4-.2h0m.2-.5h0m.1 .6h0m.4-.6h0m.6 .5h0m.1-.6h0m.8 .8h0m1.2-.2h0m1-.3h0m.1 .6h0m1.7-.4h0m1.8-.4h0m.9 .9h0m1.3-.4h0m.2 0h0m-23.2 1h0m1.4 .4h0m0-.8h0m1 .1h0m.3-.2h0m.2 .2h0m1.5 .6h0m.6-.2h0m.3-.1h0m1.7-.1h0m.5-.3h0m.9 .9h0m2-.9h0m.2 .6h0m.3-.4h0m.1 .3h0m.2 .4h0m.9-.1h0m0-.6h0m2.2-.2h0m.2 .2h0m.8 .3h0m.6 .1h0m.8 0h0m.1 .1h0m.9-.6h0m.2 0h0m0 .4h0m.1-.5h0m0 .2h0m1-.2h0m2.7 .3h0m2.2-.1h0m.2 .4h0m-23.5 .4h0m1.3 .8h0m.5-.1h0m.7-.2h0m.2 .5h0m.3-.5h0m1 0h0m1.2 .3h0m.1-.3h0m.4 .1h0m.5-.5h0m1.7 .5h0m1.4 .2h0m1.2-.1h0m2.2-.4h0m.5 .4h0m1-.3h0m.7-.1h0m5-.2h0m.1 .1h0m1.6 .5h0m-22.2 .9h0m.1 .1h0m0-.3h0m.7 .5h0m.8 .2h0m.3-.5h0m.6-.1h0m2.2-.3h0m1 .3h0m1.1 .4h0m0 .2h0m.1-.3h0m0-.3h0m1 .4h0m0-.7h0m1.7 .4h0m.3 .2h0m1.2-.3h0m.5-.3h0m.5 .1h0m.8-.1h0m.5 .1h0m.5 .6h0m.3 0h0m.7 0h0m.3-.6h0m.6 .9h0m0-.8h0m.5 .4h0m.5-.1h0m0 .2h0m2.1 .3h0m1.3-.6h0m2.7-.2h0m.2 .6h0m-22.3 .3h0m.3 0h0m0 .2h0m1.7 .5h0m.1-.4h0m.4 .1h0m.2-.2h0m1.8 .6h0m0-.4h0m.2 .2h0m.3-.4h0m0 .3h0m3.3 .1h0m0 .1h0m.4-.1h0m.1 .3h0m.3-.6h0m.4 0h0m.2 .7h0m1.3-.4h0m2.1 .2h0m.4 .1h0m.6 .2h0m.1-.3h0m1 .1h0m1.8 0h0m.7-.5h0m.2 .2h0m.8 .3h0m1-.4h0m.3 .3h0m1.5-.3h0m.2-.2h0m.8 .8h0m0-.5h0m1.2 .3h0m-23.9 1h0m1.1 0h0m1.5-.3h0m0 .3h0m.2-.1h0m.5-.1h0m.7 .4h0m.7-.7h0m.4 .4h0m0 .3h0m.6-.2h0m.8 0h0m.1-.5h0m.2-.1h0m.1-.1h0m1.4 .6h0m.1-.5h0m.3 .4h0m1.1 .1h0m3.7-.4h0m.1-.2h0m.1 .2h0m.2 .5h0m.1-.6h0m.1 .2h0m.7-.3h0m1.2 .5h0m.3 0h0m.2-.3h0m1.3 0h0m.1 .6h0m1.3 .1h0m.2 0h0m.3-.1h0m1.3-.4h0m.7-.3h0m.4 .3h0m.6-.1h0m.6 0h0m.3 .5h0m-24 1.1h0m.8-.5h0m.1-.2h0m.3 0h0m.8 .1h0m.3-.2h0m.1 .1h0m.2 .5h0m.1-.8h0m2.1 .6h0m3.6 0h0m.2 .1h0m.5 .2h0m.4 0h0m1.2 0h0m.2-.7h0m.3 0h0m.1 .1h0m1 .2h0m.3 .1h0m.6 .1h0m.7 .1h0m3.1 .1h0m.9-.8h0m.7 .1h0m.1 .4h0m.1-.5h0m.3 .3h0m.6 .1h0m1.2-.4h0m.1 .1h0m1.9 .6h0m.5-.7h0m-23.1 1.6h0m.5-.5h0m.7 .2h0m1.5-.5h0m1.4 .7h0m.9 0h0m.3-.1h0m2.3 .2h0m.9-.4h0m.9-.3h0m.7 .5h0m2.1 .3h0m.1-.9h0m.1 .1h0m1.4 .2h0m0 .4h0m.2-.1h0m.1 0h0m.5 0h0m.9 .4h0m.3-.1h0m.1-.3h0m.3 .1h0m.3-.1h0m1.9-.3h0m.3 .4h0m0 .2h0m1.5-.8h0m.7 .7h0m.3-.3h0m.2 .3h0m1.5-.5h0m-21.7 1.7h0m.2-.7h0m.3-.1h0m.2-.1h0m.5-.1h0m.4 .5h0m0 .3h0m2.5-.4h0m.7-.5h0m.9 .7h0m1.3-.5h0m.7 .4h0m1.2 .1h0m1.7 0h0m0-.1h0m2.4 .1h0m.4-.6h0m1.4 .2h0m.9 0h0m.2 .1h0m1 .6h0m.5-.9h0m0 .2h0m1.4 .5h0m.4 .2h0m.4-.5h0m-20.1 .8h0m.1 .6h0m2.1 0h0m0-.7h0m.1 .9h0m0-.1h0m.3-.8h0m.4 .7h0m.3-.1h0m.5-.4h0m.2 .5h0m.1-.3h0m.1 0h0m.6 0h0m.2-.2h0m.3-.3h0m0 .5h0m1.1 0h0m1.9 .4h0m0-.7h0m0 .5h0m4.4 .1h0m0 0h0m.4 0h0m.3-.3h0m.5-.1h0m.7 .2h0m.5 .2h0m.3-.6h0m.5 .7h0m.3-.5h0m.3 .2h0m.2-.1h0m.1 .5h0m.5-.3h0m.6-.2h0m0-.1h0m.4 0h0m.5 .4h0m1 .1h0m2.1-.6h0m0-.1h0m.1 .9h0m-24 .8h0m1.5 .1h0m.7-.1h0m.2 .4h0m.6-.2h0m1 0h0m.6-.4h0m.3 .5h0m2.2-.3h0m1.1 .3h0m.5-.2h0m.6 .2h0m1.4-.2h0m.4 .1h0m.8-.4h0m1.2 .1h0m1.3 .1h0m.5-.4h0m0-.3h0m.1 .5h0m0-.4h0m.2 .3h0m.7-.1h0m.2-.1h0m.1-.2h0m2.2 .9h0m.5-.1h0m.7-.4h0m.4 .5h0m.9 0h0m0-.9h0m.3 .3h0m.3-.1h0m2 .6h0m.4-.3h0m.6-.6h0m-22.1 1.8h0m0-.4h0m1.9-.3h0m1.5 .5h0m.4-.2h0m.8-.1h0m.5 .4h0m.1-.8h0m1.4 .8h0m.3-.9h0m.9 .9h0m2.2-.5h0m.3 .3h0m.3-.5h0m1.1 .7h0m.2-.4h0m.4-.1h0m1 .3h0m.8 0h0m2.5-.2h0m.4 .3h0m1.2 .4h0m.3 0h0m1.9-.2h0m.1 .1h0m.7-.1h0m-21.9 1h0m2.6-.1h0m0 .1h0m.1-.2h0m0-.2h0m5.1 .2h0m.6-.4h0m.5 0h0m.2 .1h0m.8 .1h0m.3-.1h0m1.3 .1h0m1.4-.3h0m3.1 .6h0m0 .2h0m2.7-.8h0m.3 .1h0m1.2 .6h0m-19.4 .9h0m.2-.3h0m1.1 .2h0m.2 .1h0m.4-.3h0m.4 .2h0m.2-.6h0m1.5 0h0m.2 .3h0m.2 0h0m.7-.4h0m.2 .7h0m3.2-.4h0m.2 .4h0m.7-.7h0m.3 .8h0m.1 .1h0m.4-.2h0m.3 0h0m0-.3h0m.8-.4h0m.6 .6h0m0 .1h0m.4 .2h0m1.2-.4h0m.6 .4h0m.1-.4h0m1-.3h0m.9 .6h0m.1 0h0m.2-.8h0m.3 .2h0m.1 .6h0m.1 .1h0m.6 0h0m1.3 .1h0m.6-.6h0m.1 .1h0m.2-.1h0m.2 .1h0m-19.5 .6h0m.5 .6h0m1.3-.1h0m0-.3h0m.1-.1h0m.1 .9h0m.7-.4h0m.2 0h0m.9 .4h0m.5 0h0m.1-.6h0m.4-.3h0m2.6 .1h0m2.5-.1h0m.8 .2h0m.4 .4h0m.3-.3h0m.5 .1h0m3 .1h0m.1 .3h0m1.9 .1h0m.3 .1h0m.1-.4h0m.5-.1h0m0 .5h0m0-.2h0m.8 .2h0m.2-.7h0m.6-.1h0m-19.9 1.7h0m.1-.3h0m1.5-.3h0m1.5-.1h0m2.7 .1h0m.1-.2h0m.9 1h0m1.2-.1h0m.1-.7h0m.7 .8h0m.2 0h0m3.5-.4h0m0 .5h0m2.2-.9h0m.4 .8h0m.4-.5h0m.3 .1h0m2.3 .4h0m-16 .8h0m.3 0h0m.9 0h0m.4-.3h0m0 .4h0m2 0h0m1.2-.4h0m0-.1h0m.1 0h0m.1-.2h0m1.5 .3h0m.3-.4h0m.5 .5h0m.3-.3h0m1.8 .3h0m.1 .2h0m1.7-.6h0m.4 .1h0m.1 .2h0m0 .6h0m1.9-.5h0m.3-.3h0m.6 .5h0m.2-.7h0m.1 .7h0m.9 .1h0m.3-.8h0m.1 .6h0m.5-.5h0m-17.6 .9h0m1.1 .9h0m2.5-.5h0m.5 .1h0m.6 0h0m.2 .2h0m.7-.5h0m.3 .3h0m.1 .1h0m1.4 .5h0m.2-.6h0m.4-.3h0m1.1 .7h0m.9 .2h0m1.2-.3h0m1.3-.4h0m.1 .3h0m.6-.5h0m.8-.1h0m.4 .1h0m.2-.1h0m1 0h0m.8-.1h0m.4 .3h0m-16.5 1.2h0m.9-.3h0m.2 0h0m.6 .6h0m.5-.2h0m1.6 .2h0m.5-.3h0m0 0h0m1.2-.4h0m.3 .1h0m0 .4h0m.2-.4h0m1.1 .7h0m1.6-.9h0m.8 .7h0m.3 .1h0m.1-.6h0m1.1 .3h0m.3-.7h0m1 .9h0m.5-.2h0m1-.2h0m.2-.4h0m-13.7 1.1h0m1.1-.1h0m.4 .1h0m.4 .6h0m0-.7h0m1.6 .9h0m.2-.4h0m0 .1h0m.7 .2h0m.2-.6h0m.2 .1h0m2.1 .2h0m1.1 0h0m1.8-.1h0m1 .4h0m.7 .1h0m.6-.4h0m.3 .3h0m-9.6 1h0m.2 .2h0m.2-.7h0m.4 .6h0m.2-.1h0m1.2-.4h0m1.2 .5h0m1.1 0h0m.7-.9h0m1.3 .1h0m.4 .4h0m.4-.2h0m1.1 .6h0m.4-.8h0m1.1-.2h0m.9 .4h0m-9.5 1.2h0m.9-.6h0m.4 .6h0m.8-.4h0m1.3 .5h0m2.6-.7h0m0 .1h0m.5 0h0m7.8 .9h0m-17.7 2.1h0" stroke="#d62728" stroke-width="1.15" stroke-linecap="round" fill="none"/>
<path d="M251.2 173.9h0m.3 1.1h0m.1 .1h0m.4-.2h0m.7-.2h0m1.9 .3h0m1.1 .3h0m.1 .2h0m.3-.7h0m.1 .2h0m.7 0h0m1-.3h0m1.3 .8h0m.9-.2h0m1.5 .1h0m-18.6 1.1h0m1.6 0h0m1.1-.1h0m1.3-.4h0m.4 .1h0m1.1 .2h0m.6 .1h0m.4-.9h0m.1 .4h0m2 0h0m.8-.5h0m.6 .8h0m.4 0h0m.6-.3h0m.8-.2h0m.1 .2h0m.4 .4h0m.4 0h0m1.7-.5h0m.3 .4h0m5.2-.2h0m0 .2h0m.4-.1h0m-21.9 1.1h0m1.1 .1h0m1.6 .1h0m.6-.9h0m.4 .8h0m2.4-.6h0m.3-.1h0m.8 .7h0m0-.7h0m.9-.1h0m.2 .4h0m1.6 0h0m.4-.4h0m1.5 0h0m.4 .2h0m.4-.1h0m1.4 .2h0m.1-.3h0m1.2 .5h0m.5 .3h0m.4-.7h0m.2 .1h0m.5 .5h0m1.1-.4h0m3.1 .5h0m.5 0h0m.5-.7h0m.9 .1h0m2.6 .1h0m-27.5 .9h0m3.1 .3h0m1.4 .1h0m.3 0h0m.1-.7h0m1.2-.1h0m.1 .4h0m.5 .4h0m.7-.1h0m1.2-.4h0m1.4 .6h0m.4-.3h0m1.8 .1h0m.2-.5h0m.2 0h0m.6 .7h0m1 0h0m.3-.3h0m0-.6h0m.9 .4h0m.1 .3h0m.9-.6h0m.3 .7h0m1-.6h0m.1 .5h0m.5 0h0m1-.2h0m.3-.1h0m.5-.5h0m.6 .6h0m.8-.5h0m.4-.1h0m-22.4 1.5h0m2.7-.3h0m.6 .7h0m0-.7h0m2-.2h0m0 .6h0m.4-.4h0m.4 .4h0m.1 .3h0m.2-.5h0m.1 .4h0m3-.3h0m.4 0h0m.3 .4h0m.3-.4h0m1.3-.5h0m2 1h0m.3-.6h0m.2 .3h0m.2 .2h0m1.5-.4h0m.5 0h0m.9 .2h0m.7 .2h0m.8-.1h0m0-.5h0m1.7 .6h0m.2-.7h0m1.2 .1h0m.1 .3h0m1.3 .1h0m2.3 0h0m.1-.7h0m.6 .9h0m1.1-.4h0m-28.5 .8h0m.2 .5h0m1.1-.7h0m.9 .7h0m.2-.5h0m.4 .1h0m1.8 .3h0m.2-.6h0m.2 .7h0m0-.1h0m.1-.4h0m1.3 .3h0m.4-.7h0m.4 .3h0m.3 .4h0m.1-.7h0m1.2 .2h0m.5 .2h0m.6-.1h0m2.6-.1h0m.9-.1h0m1.3 .2h0m.3 .4h0m.1 0h0m1.3 0h0m1.6 .2h0m.7-.9h0m3 .4h0m.3 .2h0m0 .3h0m.4-.5h0m1.1-.1h0m.2 .5h0m.5 0h0m1.5-.3h0m1.3 .4h0m.6-.7h0m1.1 1h0m0 0h0m.3-.1h0m-30 .7h0m.6 0h0m1.7-.3h0m.1 .1h0m.4-.2h0m.8 0h0m1.4 0h0m.4-.2h0m.8 .2h0m1.8-.2h0m1.3 .3h0m0 .4h0m.1-.3h0m2.1 .4h0m2.5-.3h0m.1 .2h0m1.4-.4h0m.6 .5h0m.4-.2h0m1.3-.5h0m1 .9h0m.8-.6h0m.2-.1h0m1.9 .1h0m0 0h0m.1 .5h0m.7-.1h0m.6-.2h0m.5-.2h0m.4 .1h0m.8 .5h0m.2-.8h0m2.7 .2h0m.1 .6h0m.5-.6h0m-27.9 1h0m.5 .2h0m1.9-.1h0m.3 .2h0m.1 .2h0m.8-.4h0m.1 0h0m0-.2h0m.3-.2h0m1.7 .4h0m.7-.2h0m.9 .6h0m.2-.7h0m.2 .8h0m.5-.1h0m1.5-.4h0m.2-.4h0m.2 .5h0m.4 .3h0m4.9-.2h0m.5 .2h0m.2-.3h0m.5 .2h0m1.2 .1h0m1.3-.8h0m.3 .5h0m.7-.4h0m.5 .4h0m1.1-.6h0m.6 .6h0m.8 .2h0m.3-.4h0m.2 .1h0m1.4 .2h0m.3 .3h0m1.4-.1h0m0-.6h0m1.4 0h0m.1-.1h0m1.5 .7h0m-30.4 1.1h0m.2 .1h0m.6-.9h0m.2 .8h0m2.6-.4h0m.1 .2h0m0-.2h0m1.6 .3h0m.6-.1h0m.2-.4h0m2.6 .3h0m.2-.1h0m.6 0h0m1-.1h0m.5 .3h0m.4-.7h0m2.1 .2h0m.4 .2h0m.8 .5h0m.8-.4h0m0 .1h0m.2 0h0m.2 .3h0m0-.5h0m.7-.4h0m0 .8h0m1.2-.5h0m.5 .6h0m1-.8h0m.8 .1h0m.9 .1h0m4.3 .1h0m.1-.2h0m1.5 .2h0m.9 .2h0m.9-.5h0m.2 .5h0m.5 .2h0m-29.5 .8h0m1.2-.4h0m1 0h0m1.3 .5h0m.9-.4h0m.2 .4h0m.5 .4h0m.2-.5h0m.5-.1h0m.5 .2h0m1.5-.2h0m.1 .4h0m.6 .1h0m.2-.5h0m.1 .6h0m.6 .1h0m.1-.8h0m.2 .4h0m.3 .1h0m1.6-.1h0m.6 .1h0m2.3-.2h0m.8 0h0m.3 0h0m0 .2h0m1.3-.6h0m0 .4h0m1.8 .3h0m1.6-.2h0m2-.1h0m1.8-.1h0m.1-.1h0m.1-.2h0m.2 .6h0m1.9 0h0m1.6 .1h0m1.8-.8h0m-27.7 1.9h0m1.7-.7h0m3.7-.1h0m1.9 .1h0m.6 .3h0m.1-.6h0m0 .2h0m.6 .5h0m.7-.1h0m1.6-.2h0m1.1-.1h0m.5-.4h0m.9 .4h0m1.4-.3h0m.1 0h0m.3 .3h0m.1-.2h0m1.6 .5h0m5.2 .2h0m.3 .1h0m4-.6h0m.1 .5h0m1.8-.1h0m0 .1h0m-28.8 .3h0m1.1 .6h0m0-.2h0m.1 0h0m0 .2h0m.2 .1h0m2.3-.4h0m.1-.1h0m.4 .1h0m.2 .5h0m.4-.1h0m.5 .1h0m1.7-.6h0m.8 .2h0m.6 .1h0m.6 .2h0m.7-.2h0m.8 .1h0m.7 0h0m.5-.5h0m.7 .6h0m.1 .3h0m1.4-.9h0m.2 .6h0m1.2-.2h0m2.4-.2h0m.4 .2h0m.6-.1h0m.2-.4h0m.5 .8h0m.3-.5h0m.4 0h0m.1 .3h0m1.5-.3h0m.5 .6h0m1.1-.4h0m.4 .1h0m.6-.4h0m.9 .1h0m1.3-.3h0m.2 .5h0m.2-.1h0m.2 .1h0m.4 .2h0m.2 .3h0m.8-.5h0m-28.2 1.3h0m1.5-.2h0m.7-.5h0m.8 .8h0m.7-.7h0m.4 .5h0m.5-.6h0m1.2 .2h0m4.6 0h0m.2-.1h0m.5 .8h0m3-.8h0m.6 .7h0m3.9-.8h0m2.7 .7h0m.5 0h0m.6 0h0m.6-.6h0m1.1 .6h0m.4-.6h0m.8 .8h0m1.5-.5h0m1.7 .2h0m-25.3 .6h0m.4 .1h0m1.3 .4h0m.6 .3h0m.8-.4h0m.3-.1h0m.2 0h0m.1 .5h0m0-.2h0m.8-.5h0m2.1-.1h0m.2 .8h0m.6-.3h0m.8-.5h0m.1 0h0m.1 .1h0m1.5 .6h0m.3-.5h0m.4-.3h0m.7 0h0m.1 .6h0m.6 .1h0m.2 .2h0m.1 0h0m1.3-.5h0m2 .4h0m.4-.3h0m1.2 .5h0m.1-.7h0m.8 .5h0m.3-.3h0m.4-.2h0m2-.1h0m.3 .5h0m.3 .3h0m.1-.8h0m.4 .1h0m0 .7h0m-27.7 .3h0m3.4 .2h0m0 .3h0m.1-.2h0m1 .2h0m1.1-.4h0m2.6 .1h0m1.8-.1h0m1.3 .1h0m.2-.3h0m1.4 .8h0m.1-.1h0m.4-.3h0m1.2 0h0m1.1 .6h0m0-1h0m.4 .5h0m.2 .4h0m.1-.6h0m.8-.3h0m.1 .6h0m.5 .2h0m.2-.7h0m.1 .7h0m1-.9h0m0 .2h0m.7-.1h0m1.8 .8h0m2.1-.3h0m.3-.2h0m.1-.2h0m.1 .7h0m.8-.7h0m.6 .1h0m2.2 .4h0m1-.5h0m.1 .4h0m.3-.2h0m-25.2 .7h0m.5 .8h0m1.3-.9h0m.7 0h0m.9 0h0m.2 1h0m1.5-.4h0m1.4-.6h0m1.6-.1h0m.1 .5h0m.1 0h0m1 .4h0m.7-.9h0m1.3 0h0m.1 .8h0m.4-.8h0m.5 .5h0m.4 .4h0m0 0h0m1.8 0h0m1.6 0h0m1.3-.4h0m1.8-.3h0m.6 .5h0m1.3-.2h0m1.8-.5h0m.2 .2h0m.1 .6h0m1.1-.5h0m.5 0h0m.4 .1h0m.6-.1h0m.5 .5h0m.2 0h0m-30 .3h0m4.5 .6h0m1.2-.5h0m.7 .2h0m0-.4h0m.1 .8h0m0-.2h0m.5 .4h0m.4-.5h0m1.7 0h0m1.5 .1h0m0 0h0m.4 .1h0m1 .3h0m1.9-.8h0m.3 .4h0m.8-.5h0m.2 1h0m2.1-.6h0m0 .4h0m0-.2h0m.4-.3h0m.4 .4h0m.3 .3h0m1-.3h0m.2-.2h0m.2-.1h0m1.6-.2h0m0 0h0m.8 0h0m.1-.1h0m2.2 .3h0m2.1 .6h0m-20.3 .6h0m.3-.1h0m.5 .5h0m.4-.1h0m0-.7h0m1.8 .5h0m.8 0h0m.3 .3h0m1.1-.6h0m1.6 .6h0m1.7-.2h0m.7-.7h0m.1 .3h0m.6 .3h0m.5 0h0m1.3 0h0m.3-.6h0m.3 0h0m.8 .1h0m.9 .1h0m.1 0h0m.1 .2h0m.6-.2h0m1 .1h0m1 .1h0m.6 .2h0m.4 .2h0m1.1-.4h0m0-.1h0m.4-.3h0m1.4 .1h0m.1 .3h0m0-.4h0m.7 .4h0m.1 .4h0m-22.7 .2h0m.6 .7h0m0-.6h0m.3 0h0m.8-.2h0m1.2 .6h0m.9-.6h0m1.3 .5h0m2.6-.5h0m.2 .5h0m.7 .3h0m.2-.4h0m.8 .1h0m.2-.5h0m.3-.1h0m1-.1h0m1.7 .9h0m.1-.8h0m.2 .2h0m.5 .4h0m.5 .1h0m1.6-.8h0m.3 0h0m.2 .5h0m.4-.2h0m.3 0h0m.1-.4h0m.1 .3h0m1.3 .7h0m.4-.9h0m2.7 .7h0m2.5-.5h0m.1 .8h0m-21.7 .8h0m.5-.4h0m1.5-.1h0m1-.2h0m.4 .3h0m2.8 .2h0m2-.4h0m1.7-.1h0m0 .6h0m.5-.6h0m1.7 .8h0m.6-.6h0m.9 .8h0m.4-.9h0m.3 .9h0m1.7-.5h0m3.1-.2h0m1.6-.2h0m.4 .3h0m.1-.2h0m.5-.2h0m-21.6 1.4h0m.1-.3h0m.5 .3h0m.4 .5h0m1.2-.6h0m1.7-.1h0m1.4 .5h0m0-.8h0m.6 .8h0m1.5-.6h0m.7-.2h0m1.5 .8h0m.1-.7h0m1 .7h0m1.2-.8h0m2.2 .2h0m2.3-.2h0m.1 .8h0m.1-.6h0m.3 .7h0m.8-.7h0m1.1 .3h0m.8-.2h0m0 .3h0m.4-.6h0m.7 .8h0m.1-.4h0m-19.6 1.2h0m.3-.1h0m1.2 0h0m.6 .2h0m1.9-.3h0m.9 .6h0m.2-.1h0m2-.2h0m.4-.4h0m.3 .4h0m.5-.3h0m.9-.3h0m2.5 .3h0m1.4-.3h0m1.1 .1h0m.4-.2h0m.6 .2h0m1.8 .4h0m0 .1h0m-15.6 .9h0m.1-.3h0m1.3 .2h0m.9-.4h0m0 .4h0m.7 0h0m0 .4h0m2.2 0h0m2.3-.5h0m0-.3h0m.5 .3h0m0 .6h0m.4-.6h0m1.4 .7h0m0-.6h0m.6-.2h0m.1 .3h0m.2 0h0m.9-.4h0m.8 .6h0m1.4-.4h0m.3-.3h0m0 .9h0m.1 0h0m1.1 0h0m2.2-.7h0m.5 0h0m-17.7 1.2h0m.5 0h0m1.2-.2h0m.6 .8h0m.5-.6h0m.2 .4h0m1 .2h0m1.3-.6h0m1.1 .2h0m1.5-.1h0m1.6-.4h0m.1 .1h0m.3 0h0m.7 0h0m.2 0h0m.2 .3h0m1.3-.4h0m0 0h0m.1 .7h0m1-.5h0m1.8-.3h0m.6 .2h0m1-.2h0m.2 .2h0m-17.2 .8h0m.6 0h0m1.8 .2h0m1.2 .5h0m.5-.2h0m.3-.2h0m.2 .5h0m.2-.2h0m0 .2h0m.6-.8h0m.8 .4h0m2.2-.5h0m1.3 .5h0m.3-.6h0m.5 .1h0m.5-.1h0m2.3 .9h0m.4 0h0m.4-.7h0m1.1 .7h0m.4-.3h0m.7-.1h0m-15 1.1h0m3.3-.3h0m1.6-.2h0m.1 .6h0m1-.6h0m1.5 0h0m.6 .5h0m.5 0h0m.9 .2h0m1.6-.8h0m.2 .8h0m1.5-.2h0m.2 .2h0m.5-.5h0m-13.1 .8h0m1.3 .7h0m.3 .1h0m0-.9h0m.1 .6h0m3.1 .2h0m2.2-.3h0m3.1 .1h0m1.9-.7h0m1.5 .7h0m.8-.3h0m-12.9 .8h0m.7-.1h0m2.9 0h0m2.6 .7h0m2.2-.6h0m2.2 .8h0m.1-.1h0m.1-.2h0m.1 .2h0m.6-.7h0m.4 .2h0m.4 .1h0m.3-.3h0m.1 .3h0m-27.1 .6h0m17.2 .3h0m2.4 .2h0m1.1 .4h0m1.1-.9h0m1.1 .4h0m.2 .2h0m.4-.2h0m1-.3h0m1.2 .1h0m1.1 .6h0m.3 0h0m-9.4 .7h0m.1 .3h0m1.8-.7h0m1.1 .8h0m0-.8h0m3.8 .8h0m1.1-.4h0m3.1-.5h0m-9.3 1.9h0m0 .1h0m0-.5h0m.2 0h0m2.2-.2h0m1.1-.1h0m.2 .1h0m1.1-.2h0m-3 1.2h0m.6-.1h0m0 .6h0m.5-.1h0m1.4 .2h0m.2-.2h0m9.2 .4h0m-10.5 .1h0m-10.4 1.8h0m11.6 0h0" stroke="#1f77b4" stroke-width="1.15" stroke-linecap="round" fill="none"/>
<path d="M246.4 203.4h0m-2.4 1.1h0m1.5-.6h0m3 .5h0m.5-.2h0m0-.3h0m-3.2 1.1h0m.5 0h0m2.1 .5h0m1.5-.1h0m.3-.5h0m-6.4 1.4h0m1.2-.4h0m.2 .1h0m.4-.3h0m.9 .5h0m.6-.3h0m1.9 .4h0m1.4-.2h0m1.2 0h0m-7.8 1.1h0m1.8-.2h0m4.8-.2h0m.8 .5h0m.1-.5h0m.1 .1h0m.3 .6h0m.1-.6h0m-8.3 1.2h0m.3 .4h0m1.3 0h0m1.6-.1h0m.7-.8h0m.8 .2h0m.3 .4h0m.2-.5h0m.7 .2h0m.5-.4h0m1.8 .6h0m-7.6 1.2h0m.1 0h0m.1 0h0m2 0h0m.5-.5h0m.9 .5h0m.2 .2h0m1.7-.7h0m.7 .4h0m1 0h0m.1-.4h0m.4 .1h0m1.1 .2h0m-10.1 1.3h0m.1 .1h0m.3-.6h0m1.4 0h0m.5 0h0m1.4-.1h0m.1 0h0m.7-.2h0m.1 .6h0m1.1-.1h0m.3-.6h0m2.9 .4h0m.4 0h0m.2 .6h0m-11.1 .6h0m.1 .2h0m.5 .1h0m1.7-.8h0m1.3 .5h0m.1-.5h0m.1 .8h0m.1-.4h0m.3 .3h0m.7 .1h0m.2-.5h0m.1 .1h0m.2 .4h0m.2-.3h0m.5-.3h0m.4 .1h0m.2 .3h0m.1 .5h0m.6-.4h0m.3 0h0m0-.3h0m1.3 .7h0m.2-.3h0m.2-.2h0m.4-.1h0m0 .3h0m1.1-.5h0m0 0h0m-11.3 1h0m.5 .6h0m.6-.6h0m.2 .4h0m.4-.1h0m.1 .2h0m.1 .2h0m.8-.3h0m.4 .2h0m.6-.2h0m.8-.2h0m.2 .2h0m.3-.4h0m.2 .2h0m.3-.1h0m.1-.3h0m4.8 0h0m-12.8 1.8h0m.5-.6h0m.2 .4h0m.6-.3h0m.2-.2h0m.1 .3h0m2.1-.4h0m1.5 .6h0m.4-.5h0m3.1-.2h0m1 .4h0m.4-.2h0m1.1-.3h0m2.6 .3h0m-14.9 1.3h0m1-.7h0m1 .6h0m.1 .1h0m1-.4h0m.1 .3h0m.8 .1h0m.6 0h0m.1-.3h0m-6.5 1h0m1 .4h0m.4-.4h0m1.5-.2h0m.4 .3h0m.1 .1h0m.6-.3h0m-4.9 1.4h0m1-.8h0m0 .7h0m.7 .2h0m.8-.7h0m.4-.1h0m.1 .4h0m.2-.6h0m.3 .7h0m.6-.3h0m.1 .1h0m-7.3 1.4h0m1.5-.7h0m.1 .2h0m.9-.3h0m.3 0h0m.4 .4h0m1.6 .2h0m-6.1 1.1h0m1-.2h0m.1-.3h0m1.2 .3h0m.5-.1h0m.2 .5h0m.9-.3h0m-5.7 1.3h0m1-.4h0m0 0h0m.4 .1h0m.3-.3h0m.6-.4h0m.4 .2h0m.6 .3h0m.3-.1h0m.2 .2h0m-5.7 1.3h0m1.2-.5h0m.5 .4h0m.1-.5h0m.5 .7h0m.3-.2h0m1.8-.6h0m-4.3 1h0m.3 .5h0m.3-.4h0m1.2-.2h0m0 .1h0m.1 .1h0m1 0h0m-4.6 1h0m.5 .2h0m1.6-.1h0m0 .2h0m0-.5h0m.8 .1h0m.2 0h0m.1 0h0m-1.9 1h0m.4-.1h0" stroke="#b5bd4c" stroke-width="1.15" stroke-linecap="round" fill="none"/>
<path d="M278.5 175.0h0m2.5 0h0m-2.7 1.1h0m1.7-.1h0m2.3-.5h0m6.3 .4h0m-8.7 1.3h0m.6-.8h0m1.1 .5h0m4.8-.2h0m2.9 .2h0m-8.4 1.3h0m.8 0h0m-2.1 1h0m2.7-.4h0m-5.4 1.5h0m4-.1h0m1.5-.7h0m6.7 .7h0m10.4-.4h0m.6-.1h0m-20.3 1.1h0m2.1 0h0m.1 .4h0m10.5-.5h0m-21.2 1.3h0m8.2 .4h0m1.3-.1h0m6.4-.3h0m-6.3 1.3h0m-4.7 1.1h0m5.9 0h0m.1 .2h0m-2.3 1.2h0m1.5 .3h0m11.2-.5h0m-13.9 1h0m2.6 .7h0m.1 .1h0m.1-.4h0m1.1 .2h0m.1-.2h0m2 .1h0m4.6 0h0m2.6 .1h0m.2-.1h0m.2 .1h0m1.1-.1h0m.6 .3h0m.1 .2h0m.2-.3h0m-13.7 1h0m1.1 .2h0m1.2-.5h0m.1-.1h0m.2 .6h0m.2-.6h0m1 .1h0m.1 .1h0m.6-.5h0m.5 .4h0m0-.4h0m.2 .3h0m.3-.1h0m.9 .2h0m.2 .4h0m.2-.6h0m.1 0h0m.5 0h0m.2-.3h0m.2 .1h0m.2 0h0m.7 .6h0m.4-.3h0m.4-.4h0m.2 .6h0m.2-.2h0m.1 .1h0m.1-.4h0m.9 0h0m1.9 .2h0m.1-.4h0m0 .6h0m.8-.7h0m.9 .4h0m1.2 0h0m.2-.1h0m.1 .2h0m.1-.1h0m.7 0h0m1.1 .5h0m-18.3 .7h0m.1-.3h0m1.4-.1h0m.1-.1h0m.6 .5h0m0-.5h0m.1 .6h0m3 0h0m.2-.4h0m.7 .3h0m1.6-.4h0m0-.2h0m1.1 .2h0m.5 .4h0m.1 .2h0m0-.7h0m.1 .3h0m.1 0h0m.5 .1h0m.4-.2h0m0 .4h0m.3 0h0m.1 .2h0m1.5-.8h0m.4 .3h0m.1-.1h0m.1 .1h0m.3 .3h0m1 .2h0m.3-.8h0m.2 .7h0m.6 0h0m.7-.8h0m.4 .8h0m2.1-.1h0m.1-.5h0m.2 .1h0m.9 .1h0m.1-.2h0m-20.6 1.1h0m.5 .1h0m.6-.3h0m.2 .5h0m.6-.7h0m.5 .2h0m.2 .6h0m.2-.6h0m.1 .2h0m.2 .3h0m.9-.4h0m.6-.1h0m.1 .5h0m.7-.5h0m0-.1h0m.2 .8h0m.6-.8h0m0-.2h0m.3 .6h0m.1-.2h0m.2 .2h0m1 .5h0m.8-.6h0m.1 .5h0m.1-.5h0m.7-.1h0m.5 0h0m.4 .4h0m.1-.3h0m.5 .3h0m.2-.3h0m.1 .1h0m.2 .6h0m.5-.8h0m.2 .3h0m0-.3h0m.8 .5h0m0-.3h0m.2 .3h0m.6 .1h0m.2 .1h0m.2-.7h0m.2 .2h0m0 .1h0m.2 .3h0m.4 0h0m.3-.1h0m.4-.3h0m0 .1h0m0 .5h0m1-.1h0m.5-.6h0m.4-.1h0m.2 0h0m0 .6h0m0-.4h0m.2 .3h0m.2 .3h0m0-.3h0m.4 .3h0m0-.2h0m.1 0h0m.1-.5h0m.6 .7h0m.5-.6h0m.4 .4h0m.2-.5h0m1.2 .3h0m-21.3 .6h0m.1-.2h0m.3 .3h0m.3-.3h0m.3 .1h0m.5 .4h0m.2 0h0m.1-.5h0m.2 .4h0m.8-.4h0m1 .3h0m.4 .6h0m0 .1h0m1.3-.1h0m.1-.1h0m0-.7h0m.1 .5h0m.6-.3h0m.8 .4h0m.1-.1h0m.4-.2h0m.3 .3h0m.8-.1h0m.4 .3h0m.8-.7h0m.1 .1h0m0-.1h0m.7 .3h0m.3-.1h0m.1-.4h0m1.3 .8h0m.7 .1h0m.7-.2h0m.6-.6h0m.1 .1h0m.5 0h0m1.3 .2h0m.6-.2h0m.4 .2h0m.3-.3h0m.7 .7h0m0-.6h0m.7 .9h0m0-.8h0m.2 .1h0m0-.2h0m.8 .2h0m.4 .1h0m.4-.2h0m.4 .3h0m-20.1 1.1h0m.4 .1h0m1.6-.4h0m.1 .3h0m.1 .2h0m.4-.3h0m.3 .3h0m.4-.1h0m.4 .2h0m.6-.1h0m.9-.1h0m1.7 .3h0m.3-.9h0m1.7 .5h0m.2 .3h0m.3-.2h0m.5-.2h0m.5-.1h0m.1-.2h0m.7 .7h0m.8-.4h0m.1-.2h0m.1 .3h0m.4-.4h0m1.6 .7h0m.1 0h0m.7-.5h0m1-.2h0m.4 .5h0m.3-.2h0m-27.2 1.6h0m12.7 0h0m4.5-.9h0m.8 .3h0m2 0h0m.1-.3h0m.5 .3h0m.2-.1h0m2-.1h0m1.2-.2h0m-12.6 1.7h0m1.1 .2h0m-1.7 .9h0m2.9 0h0m-13.5 1.1h0m11.8-.7h0m-6.7 1h0m7.5 .1h0m-9.9 1h0m10.1-.1h0m-1.7 1.2h0m5.9-.2h0" stroke="#e377c2" stroke-width="1.15" stroke-linecap="round" fill="none"/>
<path d="M262.6 199.5h0m-8.7 1.5h0m8.9 0h0m.3 0h0m.2 .4h0m.7-.5h0m1.3 .1h0m.5 .2h0m.1-.4h0m.4 .1h0m1.9 .3h0m1.4-.5h0m.8-.2h0m.1 .7h0m1.8-.1h0m-11.6 1.2h0m.1-.4h0m2.1 .1h0m2.1-.4h0m1-.1h0m1.8 .8h0m.8-.4h0m0 .2h0m.9-.6h0m1 .4h0m.9-.1h0m.6-.1h0m1.2 0h0m.2 0h0m.2-.3h0m0 .6h0m1.9-.2h0m1.1-.3h0m3.6-.1h0m-21.8 1.7h0m1.5-.5h0m.4-.1h0m.2 .2h0m.6-.6h0m1.6 .1h0m3.3 .7h0m.8-.9h0m.3 .1h0m.1 .4h0m1.9 .1h0m.1-.5h0m.9 .3h0m.2-.1h0m1.4 0h0m1.9 .7h0m1-.7h0m0 .7h0m1.8-.6h0m.1 .6h0m-20.4 1h0m4.1-.3h0m0 .2h0m1.2-.4h0m.5 .5h0m.4-.5h0m.5-.3h0m1.9 .2h0m1.7 0h0m1.1 .2h0m.6 0h0m.1-.4h0m.1 0h0m.6 .4h0m1-.2h0m1.5 .4h0m2.1-.5h0m.3 .2h0m.2 0h0m1.1 .3h0m1.2-.5h0m2 .6h0m.4-.8h0m-22.1 1.6h0m.2-.8h0m1.5 0h0m1.4 .3h0m2.7 0h0m1.5-.2h0m3.2 .8h0m.6-.2h0m.2 .4h0m0-.4h0m2.4-.1h0m.7 .2h0m.2-.6h0m5.8 .2h0m.7 .5h0m1 0h0m.1-.7h0m-22.6 1.3h0m.2 .3h0m.2 .1h0m.4-.2h0m.8-.6h0m1.9 .1h0m1.2 .7h0m.9-.5h0m.4 .6h0m1.3-.2h0m3.1-.5h0m.2 .3h0m1.3 0h0m2.3 .5h0m.4-.8h0m1.1 .1h0m3.1 .3h0m1.7 .3h0m.2 0h0m1-.8h0m1.8 .4h0m.4-.2h0m.6 .7h0m-26.9 .7h0m4-.4h0m1.4 .3h0m0-.1h0m0 .4h0m.5-.8h0m.4 .8h0m.9-.3h0m0-.3h0m0 .6h0m2.5-.2h0m.6 0h0m.7-.5h0m.1 .4h0m.1-.4h0m2.2 .8h0m.3-.8h0m.3 .9h0m.5-.7h0m.2 .3h0m.5 .4h0m5.8-.8h0m.4 .1h0m.4 .1h0m2.9 .7h0m0-.9h0m.5 .2h0m0 .2h0m-23.7 .6h0m.2 .3h0m1.3 .6h0m.6-.4h0m.1-.5h0m.4 .2h0m3.1 .3h0m1.2 .1h0m1.8 .1h0m0 0h0m.6-.2h0m0-.1h0m1.1 .3h0m.7-.5h0m1.4 .6h0m.7 .2h0m2.2-.1h0m1.3-.4h0m.3-.1h0m.1-.3h0m1 .2h0m.1 .6h0m.9-.7h0m0 .4h0m1-.3h0m.1 .1h0m.3 .3h0m1.8 .2h0m1.8-.7h0m.8 .6h0m-25.3 .4h0m.8 .3h0m1.1 0h0m.4 .3h0m.6-.5h0m.6 0h0m1.2 0h0m.3-.1h0m3.1 .9h0m0-.6h0m.1-.1h0m.1 .4h0m5.8 0h0m0 0h0m1.3-.6h0m.3 .1h0m2.9 .5h0m.8 .3h0m0-.7h0m0-.1h0m2.1 .4h0m2.1 .1h0m-23.2 .4h0m.2 .9h0m3.2-.2h0m.2 0h0m.5-.5h0m1.2-.2h0m.2 .2h0m1.5 .4h0m2.3-.6h0m.1 .6h0m1.8-.3h0m1.2-.3h0m3 .6h0m.5-.6h0m.9 .2h0m1.9 .3h0m.1 .2h0m1.1-.8h0m1.2 .8h0m.7-.4h0m1.1 .4h0m.3-.5h0m.3 0h0m.3 .1h0m-23.4 1.4h0m.1-.7h0m1.6 .1h0m1-.2h0m.4 .4h0m.1 .3h0m.6-.1h0m.1 .1h0m.5 .1h0m1.9-.8h0m.3 .3h0m.7-.1h0m.1 .4h0m.4-.4h0m.1 0h0m1.2-.1h0m.5 .3h0m.1 0h0m.2-.5h0m3.6 .4h0m.4 0h0m.2-.1h0m0 .4h0m4.5 0h0m.1-.7h0m.6 .7h0m.2-.6h0m1 0h0m.6 .3h0m1.5 0h0m.5 0h0m.5 .2h0m.9 0h0m-20.6 .5h0m.1 .1h0m.3 .7h0m.5-.7h0m2.2 .2h0m.1 .4h0m.3 0h0m2.5-.2h0m.9-.4h0m1.2 .7h0m0-.5h0m3.4 .4h0m.6-.7h0m1.8 .4h0m.3 .3h0m.3-.1h0m3.1-.4h0m.3-.3h0m.1 .3h0m1.8 .6h0m.3-.7h0m.7 0h0m.4 .6h0m-27 .5h0m2.2-.1h0m.2 .6h0m0-.6h0m.1 .6h0m.1-.6h0m.3 .6h0m.4-.5h0m.5 .1h0m.5 .4h0m.3-.4h0m.9 .1h0m.5 .2h0m3.6 .2h0m.3-.7h0m1.3 .7h0m2-.8h0m.1 .2h0m1.8-.1h0m.8 .4h0m2.2-.1h0m1.3-.4h0m.8 .2h0m.8-.2h0m.7 .1h0m.9 0h0m2.1-.2h0m1.8 .3h0m-24.3 .6h0m1.1 .9h0m0-.3h0m.1 .3h0m.6-.6h0m1 0h0m.5-.2h0m1.1 .7h0m2.8-.6h0m.4 .7h0m.3-.4h0m.1-.5h0m1.4 .5h0m.1 .3h0m0-.6h0m.7 .1h0m.1 0h0m1.8-.1h0m.4 0h0m1.8 .5h0m1.4-.8h0m.2 .5h0m1.5-.2h0m1.1-.1h0m.9 .4h0m.2-.3h0m.1 0h0m.1-.2h0m.8 .1h0m.7 .1h0m.4 .2h0m2.2 .1h0m-24.8 .3h0m.4 .8h0m1.4 .1h0m.1 0h0m.1 0h0m.2 0h0m.5-.1h0m1.7-.2h0m.4 .3h0m.6-.5h0m.4 .4h0m.5-.5h0m.7 .1h0m0-.1h0m.4-.2h0m2.6 .9h0m1.4-.4h0m.5 .3h0m.2 .1h0m1.1-.6h0m2.1 .5h0m.2-.2h0m1 .2h0m.7-.7h0m.1-.1h0m.3 .9h0m.2-.9h0m.1 .9h0m0-.7h0m.3 .2h0m1.7-.3h0m.2-.1h0m1.3 0h0m1.3 .8h0m1.1-.8h0m.8 .4h0m.4-.3h0m-24.5 1.4h0m0 0h0m.8 .1h0m.9-.4h0m.4 .2h0m.6 .5h0m.6-.8h0m.4 0h0m.2 .2h0m2.3 0h0m1.1 .6h0m.8-.4h0m1 .1h0m1.1-.3h0m.4 .5h0m3.8-.7h0m.7 .3h0m.6-.1h0m2.3 .1h0m.1 .3h0m3.4-.7h0m.4 .3h0m1.1-.4h0m.9 0h0m-23.9 1.6h0m1.5-.5h0m1.1 .8h0m2-.4h0m.1 0h0m.4 .4h0m.9-.8h0m.3 .2h0m1 .2h0m1.6 .2h0m1.7 .1h0m1.1-.6h0m.2 0h0m.7 .5h0m2.3 .1h0m1.6-.3h0m.6-.2h0m.3-.3h0m1.2 .3h0m1.7-.1h0m2.7 .1h0m.2 .1h0m-19.5 .4h0m3.8 .9h0m1.2-.8h0m1 .6h0m.5-.4h0m1.6 .1h0m.4 .3h0m.8 .1h0m.8-.5h0m.5 0h0m1.2 .1h0m.3 .1h0m1 .5h0m.3-.5h0m.5 .3h0m0-.6h0m.4 .1h0m.8 .4h0m.9-.4h0m.2 .2h0m.5-.5h0m-21.7 1.5h0m2.5-.5h0m.1 .7h0m.2-.1h0m.9-.3h0m1.8-.2h0m0 .7h0m1-.4h0m.4 .2h0m.4-.7h0m.1 0h0m0 .2h0m.2 .3h0m.3-.1h0m.3 .5h0m1-.3h0m1.8-.6h0m.2 .5h0m1.4-.3h0m.5 .6h0m.3-.3h0m1.1-.5h0m.4 .6h0m.4-.1h0m2.2 .4h0m1.4-.9h0m1.2 .5h0m1.4 .2h0m-20.3 .5h0m.5 .1h0m1.2 .2h0m1.2 .3h0m.4-.1h0m1.3-.4h0m.1-.3h0m.3 .7h0m1.7-.7h0m.5 .2h0m.2 0h0m.9-.1h0m.3 .1h0m.1 .6h0m1.6 0h0m2.9-.2h0m1.1-.6h0m1.2 .8h0m2.7 0h0m3.5 .1h0m-21.8 .3h0m.3 .1h0m.3-.1h0m1.4 0h0m1.4-.1h0m.4 .1h0m.1 .4h0m.5-.2h0m2-.1h0m.6 .3h0m.1-.3h0m1.1-.4h0m.7 0h0m.2 .4h0m.9 .1h0m.3-.6h0m.6 .4h0m1.8-.2h0m.6 .6h0m1.5-.2h0m1.1-.1h0m2.2 .2h0m1.9-.1h0m.4-.4h0m.7 .4h0m.2-.5h0m-20 1.6h0m.1 0h0m.6-.1h0m.5-.5h0m1-.2h0m1.6 .4h0m.2 .1h0m.8 .4h0m0-.6h0m1.4 .6h0m1-.3h0m.3 .1h0m1.1-.2h0m.8-.2h0m.3 .6h0m2.2-.5h0m3.2 .2h0m.4 .3h0m1.1-.7h0m-16.2 1.7h0m.5 0h0m.6-.1h0m.3-.2h0m2.3 .4h0m2.2-.6h0m.7 0h0m1.6 .5h0m.4-.4h0m.8 .1h0m.7 .2h0m.2-.8h0m.5 .1h0m1.3 .6h0m1.3 .1h0m.3-.8h0m.4 .2h0m.7 .3h0m1.2 .2h0m1.6-.1h0m.7 0h0m-17.1 .3h0m.4 0h0m.5 .1h0m1.2 .5h0m1.9 .1h0m.3-.2h0m.3 .4h0m.4-1h0m.8 0h0m.5 .4h0m1.2-.2h0m2.1 .5h0m2.7 0h0m.8-.1h0m2.2-.1h0m-15.1 .4h0m.3 .7h0m.3 0h0m1.4-.4h0m.3-.2h0m.5 .5h0m.7 0h0m3 .3h0m.4-.5h0m.8 .4h0m1.5-.1h0m0-.1h0m1.4 .1h0m.9-.4h0m.6 .5h0m1.1-.6h0m.6 .2h0m1.2-.5h0m.5 .3h0m-21.7 .7h0m5.8 .1h0m1.8-.1h0m.3 .1h0m.5 .2h0m1-.1h0m.3 0h0m1.7-.2h0m1.8 .7h0m.1-.4h0m.4-.4h0m2.1 .4h0m.3-.1h0m.3 0h0m.2 0h0m.2 .7h0m.3-.4h0m.8 .3h0m0-.3h0m1.2-.4h0m.6 .3h0m-12.1 1.1h0m.8-.4h0m.2 0h0m.2-.3h0m2 .8h0m2.4-.5h0m.7 .1h0m1.3-.3h0m.9-.2h0m1.8 .9h0m.2-.3h0m.7-.2h0m-17.7 1.5h0m9.2-.3h0m.5-.2h0m.1 .3h0m1.1-.4h0m.1 .4h0m.6-.6h0m.1 .8h0m1.2-.4h0m.2-.1h0m1.8-.4h0m.3 0h0m1 .3h0m-5.1 .9h0m.2-.2h0m.3 .6h0m1.2-.5h0m.2 2.2h0" stroke="#279e68" stroke-width="1.15" stroke-linecap="round" fill="none"/>
<path d="M276.0 203.6h0m1.1 .4h0m.8 .2h0m-5.2 1.2h0m1-.8h0m.1 .2h0m1.6-.2h0m.3 .3h0m.7-.1h0m.4 .6h0m.3-.5h0m.1 .5h0m1.2-.6h0m.4-.2h0m.6 .7h0m.3-.8h0m.9 .7h0m.6-.3h0m1.7 .2h0m-8.6 .3h0m1.6 0h0m.9 .1h0m.6 .4h0m.3 0h0m2.5 0h0m2.2 .1h0m.3-.4h0m.2 .3h0m16.5 0h0m-21.4 .6h0m.5 .4h0m1.8-.4h0m.2 .8h0m.8-.8h0m.8-.2h0m.6 .4h0m.6 .3h0m0-.4h0m13.2 .4h0m-18.2 .6h0m.4 .5h0m.1-.3h0m.2-.3h0m1.1 .3h0m3.7-.3h0m1-.1h0m.9 .2h0m.6 .1h0m.4-.2h0m-20.7 1.1h0m7.1-.1h0m2.1 .2h0m3.9-.5h0m.8 .5h0m.1 .2h0m1.9-.1h0m.5 .1h0m1.5-.6h0m.8 .3h0m.8-.1h0m.5 0h0m.6 .5h0m1.4-.7h0m.1 .2h0m-6.7 .8h0m3 .6h0m.2-.2h0m.4-.1h0m.1 .3h0m.2-.8h0m2.2 .9h0m0-.5h0m0 .5h0m1.3-.1h0m.6 0h0m.3-.4h0m.6 .4h0m-9.9 .3h0m.3 .8h0m1.4-.6h0m.3 .5h0m.6-.2h0m1.6 .2h0m.6-.1h0m1-.5h0m.2 .4h0m0 .3h0m1.7-.8h0m2.6 .3h0m-10 .9h0m.8-.1h0m1.1 .2h0m1.2 .3h0m.1-.4h0m.1 .2h0m1.4 .5h0m.1-1h0m.2 .7h0m1.2-.2h0m.2 .1h0m.3 .2h0m1.8 .2h0m.3 0h0m0 0h0m.1-.2h0m.4-.5h0m.2 0h0m1.1 .2h0m.3-.3h0m.5 .5h0m-12.4 .8h0m.1 .1h0m.7-.3h0m1.9-.2h0m.3 .6h0m.9-.6h0m0 .1h0m1.9 .1h0m.6 .1h0m.3 0h0m.6 .6h0m.2-.8h0m4.6 .2h0m-12.1 .8h0m2.4 .5h0m1-.4h0m.2 .3h0m.8 0h0m1.2 .3h0m.7-.3h0m4.8 .1h0m.8-.1h0m1.5-.3h0m.9 .2h0m-14.9 .8h0m.8-.1h0m.6 .2h0m1.6 .6h0m1.6 0h0m.1-.7h0m.7 .1h0m.2-.3h0m1.5 .4h0m.1-.1h0m.8-.3h0m1.1 .9h0m.3-.7h0m0 0h0m.3 .1h0m.1 0h0m1.9 .3h0m.1-.1h0m.4-.1h0m.4 .1h0m.2-.2h0m-11.4 1.1h0m1.5-.3h0m.3-.1h0m2.2 .3h0m.4 .2h0m.5-.4h0m2 .5h0m.4-.3h0m.2 .6h0m.6-.3h0m.8-.5h0m1.5-.1h0m.7 .6h0m0-.2h0m.7-.2h0m.5 .3h0m.3 .2h0m.6-.3h0m.5 .3h0m.2 0h0m.6-.2h0m.2-.1h0m.1 .3h0m-29.9 .7h0m12.9 .1h0m.5 .1h0m0-.4h0m1-.1h0m.7 .2h0m.8 .1h0m.8-.3h0m.1 .2h0m0 .5h0m.8 .1h0m.4-.2h0m1.3 .1h0m.7 .2h0m1.8-.8h0m.4 .7h0m5.6-.1h0m.1 0h0m.3 .1h0m.4-.4h0m.2 0h0m.5 .6h0m.4 .1h0m.6-.7h0m0 .7h0m.3-.2h0m.7 .1h0m-19.5 1.2h0m.4-.3h0m1.2 .2h0m2-.6h0m1.2 0h0m.2 .5h0m.7-.7h0m.4 .4h0m1.9-.4h0m.3 .5h0m1.5 0h0m1.7-.5h0m.7 .7h0m0 .2h0m3.3-.2h0m.6-.3h0m.7-.3h0m1.1 0h0m1.3-.2h0m.2 .1h0m.2 .1h0m.3 .3h0m.2 .3h0m-23.5 .9h0m3.9-.4h0m.9 .6h0m1.2 0h0m.1 0h0m1-.4h0m.1-.3h0m.8-.2h0m.3 .6h0m.1-.5h0m.7 .1h0m0 .5h0m.2-.4h0m1.7 .6h0m0 0h0m.1-.2h0m1.7 .2h0m.5-.8h0m.5 .9h0m.5-.7h0m.6 .8h0m.3-.1h0m0-.1h0m1.8-.6h0m.2 .2h0m.4 .6h0m2.7-.2h0m0 .2h0m1.3-.5h0m.2 .5h0m.6-.1h0m.1-.4h0m.1 .5h0m-21.9 1.4h0m1.4-.6h0m0 .5h0m.1-.1h0m.3-.5h0m.2 .4h0m.9-.1h0m.8 .1h0m.4 0h0m2.8-.4h0m2.3 .5h0m0-.6h0m.7 .4h0m.6-.6h0m0 .7h0m2.1-.1h0m.1 .3h0m.8-.5h0m.8-.2h0m3.1-.2h0m.9 .5h0m.7-.2h0m1-.3h0m.1 .7h0m1.3-.2h0m1.9 0h0m.2-.5h0m-23 1.8h0m.4-.2h0m.1-.4h0m3.6-.3h0m1.3 .8h0m1.9 0h0m2-.6h0m.3-.2h0m.6 .1h0m0 0h0m.5 .3h0m.6-.4h0m1.2 .8h0m0-.5h0m.9 .5h0m2.2-.3h0m.1-.3h0m.9-.1h0m.6 .9h0m1.8-.5h0m.9 0h0m1.1-.1h0m.2 .1h0m1.4-.1h0m-22.2 .9h0m1.6 .8h0m.1-.8h0m.6 .4h0m.5-.3h0m0 .1h0m.8 .6h0m.8-.5h0m.6-.3h0m.2 .7h0m.3-.2h0m1.1 .3h0m.4-.9h0m.1 .5h0m.2 .4h0m2.7-.6h0m.7 .4h0m.1-.5h0m1 .2h0m.5 0h0m.2-.1h0m.8 .6h0m.3-.3h0m1-.5h0m.6-.1h0m.3 .5h0m.3 0h0m.2 .3h0m1.2 .1h0m2.6-.6h0m0 .5h0m.4 .1h0m.1-.7h0m1.6 .3h0m.1 .3h0m.2-.1h0m1-.5h0m.5 0h0m-26.7 .9h0m1.4 .2h0m.2 .1h0m2.6 .1h0m1.3-.2h0m0 .4h0m.2-.2h0m1-.2h0m.9 .2h0m.5 .5h0m1.2-.2h0m1.3 .2h0m.3-.5h0m1.4-.1h0m.1 .7h0m3 0h0m1.4-.1h0m.5-.5h0m.2 .4h0m.4-.8h0m.8 .5h0m3.4 0h0m.3 0h0m.6 .3h0m.3 .2h0m.2-.8h0m.4 .4h0m.7-.3h0m2.2 .1h0m.1 .5h0m-28.7 .7h0m4.3 0h0m1.6 .3h0m.4-.5h0m1.9 0h0m.3 .2h0m1.6 .1h0m.2 .1h0m0-.6h0m1.7 .8h0m0 0h0m.4-.1h0m.4-.3h0m.2-.5h0m.2 0h0m.5 .8h0m.1 0h0m.4-.2h0m2.4-.6h0m1.1 .3h0m1.3 .1h0m2-.2h0m1.5-.2h0m1.2 .7h0m.4-.5h0m.4 .2h0m2.3 .1h0m.2 .3h0m.1-.6h0m-28.4 1.6h0m.9-.2h0m1.2 .1h0m.1-.7h0m3.5 1h0m.3-.2h0m.8-.6h0m.5 .5h0m0 .1h0m.8 0h0m.1-.1h0m1.8 .1h0m.1-.9h0m1.1 .4h0m1.6 .2h0m0-.6h0m.7 .8h0m.2-.5h0m.1-.2h0m1 .8h0m2.1-.9h0m1.3 0h0m1.5 .2h0m3 .4h0m.5-.2h0m.4 .5h0m1.8-.3h0m.3-.1h0m.8 .2h0m.3-.3h0m1-.4h0m.2 .1h0m.4 .7h0m.4-.3h0m.2 .4h0m0-.1h0m.4-.4h0m-31 1.4h0m.7-.2h0m.4 .1h0m.3 .3h0m.5-.7h0m0-.1h0m.6 .6h0m2.1 .1h0m.1 .2h0m2.1-.9h0m2 .6h0m2-.2h0m.2 0h0m.3 .4h0m.3-.1h0m3.4-.7h0m.5 .3h0m.5 0h0m.3 .2h0m0-.4h0m1 0h0m1.4-.2h0m1 .7h0m0-.6h0m.6 .5h0m3.5 .2h0m.1 0h0m.4-.6h0m2.7-.1h0m.6 .7h0m4.1 .2h0m-35.3 0h0m3 .3h0m.4 .4h0m.7-.5h0m.7 .4h0m.1 .3h0m.4-.5h0m.6-.2h0m1.1 .1h0m.4-.3h0m.3 .2h0m1.6 .2h0m1.1 .1h0m1.6-.2h0m.3-.3h0m1.1 .1h0m.7 .5h0m0-.5h0m.2 0h0m.3-.3h0m.2 .8h0m1.3-.2h0m.8 .2h0m.1-.3h0m.1-.1h0m1.2 .1h0m2.7-.1h0m.3 .3h0m0 0h0m1.2-.6h0m.4 .4h0m1.3-.1h0m0-.1h0m4.2 .3h0m.4-.6h0m.8 .7h0m.4-.7h0m.1 .2h0m.4 0h0m1.5 0h0m.6 0h0m.1-.2h0m.3 .5h0m.6-.4h0m-33.3 1.7h0m.6-.7h0m.5 .3h0m1.1 0h0m1.1 .4h0m0-.3h0m.1 .2h0m.9-.7h0m0 .8h0m1.2 0h0m.1-.4h0m1-.1h0m.5 .2h0m.2-.4h0m2.1 .1h0m.1 .3h0m1.3-.3h0m1.3-.2h0m.1 .8h0m.6-.7h0m.9 0h0m.5 .8h0m1.7-.8h0m2.5 .7h0m1.6-.4h0m.6 .4h0m1.2-.2h0m.2 0h0m.9-.4h0m.1-.2h0m.5 0h0m.2-.1h0m2.1 .3h0m.7-.1h0m.4-.1h0m.8 .1h0m.6 .1h0m1.1 0h0m.3-.2h0m1.7 0h0m.2 .1h0m1 0h0m.6 .3h0m.2 .1h0m.8-.4h0m0 .6h0m.4-.5h0m-34.2 1h0m.3 .1h0m.3 0h0m.2-.2h0m.1 .1h0m1.8 .1h0m.6-.5h0m.1 0h0m1.2 .1h0m.4 .6h0m.1-.3h0m.9 .2h0m.5-.4h0m.2 0h0m.1 .6h0m2.1-.8h0m1.6 .2h0m.5-.2h0m.1 0h0m1.3 .1h0m.4-.1h0m.4 .7h0m.7-.1h0m1.4 0h0m.5 0h0m1 .1h0m2.2-.7h0m.2 .3h0m.7 .2h0m.5-.3h0m.4 .4h0m.5 0h0m.6-.1h0m1.5-.6h0m0 .2h0m.5 .2h0m.7-.1h0m1.9-.1h0m.2-.1h0m.1 0h0m1.4 .4h0m1.3-.5h0m1.2 .8h0m.5-.5h0m.8-.1h0m-29.4 1.2h0m.1 .2h0m.5-.5h0m.1 0h0m.1 .3h0m.4 .3h0m.4 0h0m1.6-.6h0m0-.1h0m1 .5h0m.8-.2h0m1.1 .4h0m2.1-.5h0m.7 .4h0m.4-.3h0m.6 .3h0m.1-.1h0m.3 0h0m.1-.1h0m1.8 0h0m.1 0h0m.6 .1h0m.5-.5h0m5.9 .8h0m.5-.4h0m.1-.2h0m1.1 .4h0m1.8-.6h0m.9 .3h0m2.1-.4h0m.4 .4h0m1.2 .2h0m4.3-.2h0m-33 .8h0m.7 .1h0m.3 0h0m1.6-.5h0m.6 .4h0m.2-.5h0m.2 .4h0m1.4 .4h0m.3-.7h0m0 .7h0m2.5-.2h0m.5-.5h0m1.1 .1h0m.1 .8h0m.5-.2h0m1.4 .3h0m.5-.3h0m2.2-.4h0m1.1-.2h0m.3 .2h0m3.8 .4h0m.1 .1h0m4.3-.4h0m.5 .6h0m.7-.5h0m2 .7h0m1.5-.4h0m-24 .7h0m.6 .2h0m1.2 .3h0m.5-.5h0m1.5 .5h0m.9 0h0m1.3-.2h0m.4-.3h0m.6-.2h0m.6 .6h0m.4 .2h0m.1 .1h0m.2-.2h0m.2 .2h0m.4-.1h0m4.9-.5h0m.3 .3h0m.1-.6h0m.3 .7h0m.2-.2h0m.2-.3h0m.1 .4h0m.5-.5h0m2.6 .2h0m.5-.2h0m-15.1 1h0m1.5 .3h0m.4-.3h0m2.2-.1h0m.6-.1h0m0-.1h0m.1 .5h0m1.3 .1h0m0-.6h0m.1 .2h0m.6-.1h0m2 .7h0m1.4-.5h0m.3 .1h0m.7-.2h0m.2 .3h0m.8-.2h0m.9 0h0m2.5-.1h0m8.5 .5h0m-17.6 .3h0m.9 0h0m.2 .2h0m2 .5h0m-6.6 1.2h0m3.9-.4h0m16 .6h0" stroke="#ff7f0e" stroke-width="1.15" stroke-linecap="round" fill="none"/>
<path d="M253.5 162.1h0m-.9 .8h0m3.2-.3h0m-3.9 1.5h0m-.6 1.5h0m.7 .4h0m1.1-.3h0m1.4 .6h0m1.3 .8h0m-2.2 2.3h0m-1.8 .2h0m3.2 0h0m.3 .3h0m-.9 .8h0m-1.4 .9h0m1.5 .1h0m.1-.1h0m.3 1h0m18 9.7h0m1.1-.1h0m.5 2.8h0m-1.1 2.6h0m.3 0h0m1 1.2h0m.3 .2h0m.3 .4h0m-.5 1.6h0m-1 1.1h0" stroke="#17becf" stroke-width="1.15" stroke-linecap="round" fill="none"/>
<path d="M264.8 188.2h0m-.1 1h0m.8 0h0m-1 .5h0m0 1.5h0m.4 .3h0" stroke="#98df8a" stroke-width="1.15" stroke-linecap="round" fill="none"/>
<text x="213.8" y="143.4" font-size="6.6" fill="#9ec9e6" stroke="#9ec9e6" stroke-width="0.08" textLength="10.7" lengthAdjust="spacingAndGlyphs">Neu</text>
<text x="276" y="149.5" font-size="6.6" fill="#d62728" stroke="#d62728" stroke-width="0.08" textLength="12.8" lengthAdjust="spacingAndGlyphs">MPP</text>
<text x="288" y="180.5" font-size="6.6" fill="#e377c2" stroke="#e377c2" stroke-width="0.08" textLength="33.3" lengthAdjust="spacingAndGlyphs">Ly/Mono/DC</text>
<text x="200.8" y="194.3" font-size="6.6" fill="#1f77b4" stroke="#1f77b4" stroke-width="0.08" textLength="33" lengthAdjust="spacingAndGlyphs">Intermediate</text>
<text x="220.8" y="218" font-size="6.6" fill="#b5bd4c" stroke="#b5bd4c" stroke-width="0.08" textLength="8.8" lengthAdjust="spacingAndGlyphs">Ery</text>
<text x="244.6" y="237.2" font-size="6.6" fill="#279e68" stroke="#279e68" stroke-width="0.08" textLength="19.2" lengthAdjust="spacingAndGlyphs">Pop A1</text>
<text x="286.8" y="238" font-size="6.6" fill="#ff7f0e" stroke="#ff7f0e" stroke-width="0.08" textLength="19.4" lengthAdjust="spacingAndGlyphs">Pop A2</text>
<path transform="scale(0.5)" d="M689 280h0m1 0h0m2 1h0m37-2h0m5 2h0m1 0h0m1 0h0m0 0h0m0 0h0m1 0h0m1 0h0m1 0h0m0 0h0m1 0h0m2 0h0m4-2h0m-51 5h0m1-1h0m0 0h0m0 1h0m0-1h0m1 1h0m0-1h0m1 1h0m0-1h0m0 1h0m1 0h0m0 0h0m0-1h0m1 1h0m0 0h0m0 0h0m1 0h0m0 0h0m0 0h0m2 0h0m15 0h0m3 0h0m2 0h0m0 0h0m3 0h0m2 0h0m1 0h0m0-1h0m2-1h0m0 0h0m0 1h0m0 0h0m1-1h0m0 1h0m0 0h0m1-1h0m0 2h0m0-1h0m0 1h0m0-1h0m1-1h0m0 2h0m0 0h0m1 0h0m1 0h0m0-1h0m2-1h0m1 1h0m0 1h0m1-1h0m1 0h0m1 0h0m0 0h0m1-1h0m0 2h0m1 0h0m0-1h0m0-1h0m0 2h0m0-2h0m0 2h0m1-2h0m0 1h0m1 1h0m0 0h0m0-1h0m0 1h0m1-1h0m0 1h0m0-1h0m1 1h0m-52 1h0m1 0h0m0 0h0m0 0h0m1 0h0m1 0h0m0 0h0m1 1h0m0 1h0m0 0h0m0-2h0m0 0h0m0 0h0m1 0h0m0 1h0m0-1h0m0 2h0m0-1h0m0-1h0m0 0h0m1 0h0m0 2h0m0-1h0m0 0h0m2-1h0m0 2h0m0-2h0m2 1h0m2 0h0m0 0h0m0 1h0m1-1h0m1 0h0m0 1h0m2 0h0m8-1h0m1 0h0m0 1h0m2-2h0m2 2h0m1-2h0m0 0h0m1 0h0m1 1h0m0-1h0m0 2h0m0 0h0m0 0h0m1-2h0m0 0h0m1 2h0m0-1h0m0-1h0m2 1h0m0 1h0m0 0h0m0-2h0m1 2h0m0-2h0m0 1h0m1 1h0m1 0h0m0 0h0m1-2h0m0 2h0m0 0h0m1-2h0m0 1h0m0-1h0m1 2h0m1-1h0m1 1h0m1-2h0m0 2h0m0-1h0m1-1h0m0 1h0m0 0h0m1-1h0m0 0h0m0 0h0m2 2h0m0-1h0m0-1h0m0 1h0m0 1h0m1-1h0m0 0h0m0-1h0m2 2h0m1 0h0m-48 1h0m0 0h0m1 0h0m1 0h0m0 0h0m0 1h0m0 0h0m1 0h0m0-1h0m0 2h0m1-2h0m0 2h0m0 0h0m0-2h0m0 1h0m1 1h0m1-2h0m1 0h0m0 0h0m1 2h0m0 0h0m0 0h0m0 0h0m1 0h0m0 0h0m0-2h0m1 0h0m0 1h0m0-1h0m1 2h0m0-2h0m0 0h0m1 0h0m1 2h0m1-1h0m0-1h0m1 1h0m0 1h0m1 0h0m0 0h0m1-1h0m0 0h0m1-1h0m0 1h0m0 0h0m1 1h0m0 0h0m0-1h0m1-1h0m0 0h0m1 2h0m1 0h0m1-2h0m0 1h0m0 1h0m0-2h0m0 2h0m0 0h0m0-2h0m1 0h0m1 2h0m0-2h0m0 1h0m0-1h0m1 1h0m0-1h0m0 0h0m1 1h0m0-1h0m0 2h0m0-1h0m1-1h0m0 0h0m0 0h0m0 2h0m0-2h0m0 1h0m1 1h0m0 0h0m0-1h0m1-1h0m0 2h0m0-1h0m0 1h0m0-1h0m0 0h0m0 0h0m0-1h0m0 2h0m0-1h0m1 1h0m0-2h0m0 2h0m0 0h0m0-1h0m1 0h0m0-1h0m0 0h0m0 1h0m1-1h0m0 0h0m2 0h0m0 1h0m0 1h0m1 0h0m0-1h0m1 1h0m0-1h0m1 1h0m0 0h0m0-1h0m1-1h0m0 2h0m1 0h0m0 0h0m0-1h0m0 0h0m0 0h0m1 1h0m0-1h0m1 1h0m0-1h0m0 1h0m0-1h0m0 1h0m1-1h0m1-1h0m1 1h0m0-1h0m0 1h0m0-1h0m1 2h0m0-1h0m0 1h0m1 0h0m0-2h0m0 2h0m1-1h0m-45 2h0m2 0h0m1 0h0m1 0h0m0 0h0m0 1h0m0-1h0m0 0h0m0 2h0m1 0h0m0-1h0m1-1h0m0 1h0m1-1h0m0 2h0m0-1h0m1 0h0m0-1h0m0 1h0m0 0h0m0 0h0m1 1h0m0-1h0m0 1h0m0-1h0m1-1h0m0 1h0m1 0h0m1-1h0m0 0h0m2 2h0m0 0h0m0 0h0m0-2h0m0 2h0m0-2h0m0 1h0m1-1h0m0 2h0m0-1h0m0 1h0m1 0h0m0-2h0m0 1h0m0 0h0m0-1h0m1 1h0m0-1h0m0 1h0m0-1h0m0 0h0m1 0h0m0 2h0m0 0h0m0-2h0m0 0h0m0 1h0m0 1h0m1 0h0m0-2h0m0 2h0m1 0h0m0-1h0m0 1h0m1-1h0m0 1h0m1-1h0m1 1h0m0 0h0m1 0h0m0 0h0m0 0h0m0 0h0m0-2h0m1 0h0m0 1h0m0 0h0m0-1h0m0 2h0m0-1h0m1 0h0m0-1h0m0 2h0m0-1h0m0 0h0m1-1h0m0 2h0m1 0h0m0-1h0m1-1h0m0 0h0m1 0h0m0 1h0m1-1h0m1 2h0m0-2h0m0 2h0m1-2h0m1 1h0m0-1h0m0 1h0m1 1h0m0-2h0m0 2h0m1 0h0m0-2h0m0 0h0m1 1h0m0 0h0m0 1h0m0-1h0m1 0h0m0 0h0m0 0h0m1-1h0m1 1h0m0-1h0m0 2h0m1-1h0m1-1h0m0 2h0m0 0h0m0 0h0m0 0h0m1-1h0m1 0h0m3-1h0m0 0h0m0 1h0m0-1h0m1 0h0m0 2h0m0 0h0m-43 3h0m1-2h0m2 2h0m0-1h0m0-1h0m1 1h0m0 0h0m3 1h0m0 0h0m1-1h0m0 0h0m1-1h0m1 0h0m1 1h0m0 0h0m0-1h0m0 2h0m0-2h0m0 0h0m1 1h0m0 1h0m0 0h0m0-1h0m0 1h0m0 0h0m0-2h0m0 0h0m0 2h0m0-2h0m1 1h0m0 0h0m0 0h0m1 1h0m0 0h0m0-2h0m3 0h0m0 0h0m1 1h0m1 1h0m0-2h0m0 2h0m0-1h0m0 1h0m1 0h0m0 0h0m0-2h0m0 2h0m0-2h0m0 1h0m0 0h0m0 1h0m0-2h0m1 2h0m0-1h0m0-1h0m0 1h0m0 0h0m0 1h0m0 0h0m0 0h0m0 0h0m1-1h0m0 0h0m0 1h0m0-1h0m0 0h0m0 0h0m1 1h0m0-2h0m1 0h0m1 1h0m0 0h0m1 1h0m0-2h0m1 1h0m0 1h0m0 0h0m1-1h0m0 1h0m0-2h0m1 1h0m0 0h0m1 1h0m1-2h0m0 1h0m1 0h0m1 0h0m0-1h0m0 0h0m1 2h0m1-1h0m0 1h0m0-2h0m1 1h0m0 0h0m2 1h0m2-2h0m0 1h0m0 1h0m2 0h0m0-1h0m0 1h0m0 0h0m1 0h0m-39 1h0m2 0h0m0 2h0m2 0h0m0-2h0m0 1h0m0 1h0m0 0h0m2-1h0m0 1h0m0 0h0m1-2h0m0 0h0m1 1h0m0 0h0m0-1h0m1 1h0m0 1h0m0-1h0m0 0h0m0-1h0m0 1h0m0 0h0m0 0h0m0 1h0m1-2h0m0 1h0m0 1h0m1 0h0m0 0h0m0-1h0m0 1h0m0 0h0m1-1h0m0 0h0m0 1h0m0-2h0m0 1h0m0-1h0m1 0h0m0 1h0m0 0h0m0 0h0m1 1h0m0-1h0m0 1h0m1 0h0m0-1h0m0 1h0m0-1h0m0 0h0m0 0h0m0 0h0m1-1h0m0 1h0m0 0h0m0-1h0m0 2h0m0-1h0m1-1h0m0 2h0m0-1h0m0 0h0m1-1h0m0 1h0m0 0h0m1 1h0m0-2h0m0 2h0m0 0h0m0 0h0m0-1h0m0 0h0m0-1h0m1 1h0m1 0h0m0-1h0m0 0h0m0 1h0m1 0h0m1-1h0m0 1h0m0-1h0m1 1h0m0 1h0m1 0h0m0-1h0m0-1h0m0 0h0m2 1h0m0 1h0m0-1h0m1 1h0m0 0h0m1 0h0m1-2h0m0 0h0m0 0h0m0 2h0m0-1h0m0-1h0m1 0h0m0 0h0m1 0h0m0 0h0m1 2h0m1-1h0m0 1h0m1-1h0m0 0h0m0 1h0m1-1h0m0 0h0m2-1h0m0 0h0m0 2h0m1-1h0m0-1h0m0 0h0m1 0h0m-54 4h0m3 0h0m5 0h0m4 1h0m0-1h0m1-1h0m0 0h0m0 0h0m1 1h0m1 1h0m0-1h0m0 1h0m0 0h0m0-1h0m1 0h0m0 0h0m1 0h0m1 1h0m1-1h0m0 1h0m0-2h0m1 1h0m0 1h0m0-2h0m0 1h0m0 0h0m2-1h0m0 1h0m0 0h0m1 1h0m0-1h0m0-1h0m0 0h0m0 2h0m1 0h0m0-2h0m0 0h0m0 1h0m1 1h0m0 0h0m0 0h0m1-2h0m0 1h0m0-1h0m1 1h0m0-1h0m1 0h0m1 2h0m0 0h0m0-1h0m1 1h0m0-2h0m0 0h0m0 2h0m1 0h0m0-1h0m0 0h0m0-1h0m0 1h0m0 0h0m0 1h0m1-2h0m0 0h0m1 1h0m0 1h0m0 0h0m0-2h0m0 2h0m0-1h0m0 0h0m1-1h0m0 2h0m0-1h0m1 1h0m1 0h0m0-1h0m1 1h0m0-1h0m1-1h0m1 0h0m0 1h0m1-1h0m2 1h0m0-1h0m1 2h0m0 0h0m1 0h0m0 0h0m0-1h0m0-1h0m0 0h0m1 0h0m1 0h0m0 2h0m0-2h0m1 2h0m0-2h0m0 2h0m1 0h0m0-1h0m0-1h0m0 0h0m0 0h0m1 2h0m0 0h0m0 0h0m1 0h0m0-1h0m1 0h0m1 0h0m0 0h0m1 1h0m-45 3h0m0-1h0m1 0h0m1 1h0m0-1h0m1 0h0m0 0h0m0-1h0m0 1h0m0 1h0m2-2h0m1 0h0m1 0h0m1 0h0m0 0h0m1 0h0m1 0h0m0 0h0m0 0h0m1 0h0m2 0h0m0 2h0m1-2h0m2 2h0m0-2h0m0 1h0m0-1h0m0 1h0m0 0h0m1 1h0m0-1h0m0-1h0m1 1h0m0 0h0m0-1h0m0 2h0m0 0h0m1-2h0m0 1h0m0-1h0m0 1h0m1-1h0m0 0h0m0 1h0m0 0h0m1 0h0m0-1h0m0 1h0m0 1h0m0 0h0m0-2h0m1 2h0m0-2h0m1 2h0m0 0h0m0 0h0m0-2h0m1 1h0m0 1h0m0-1h0m0-1h0m0 1h0m0-1h0m1 0h0m0 0h0m1 0h0m0 2h0m0 0h0m1-1h0m0 0h0m1-1h0m0 1h0m1 0h0m1-1h0m0 1h0m1-1h0m1 2h0m0-2h0m0 2h0m0-2h0m1 2h0m0 0h0m0-2h0m1 1h0m0 0h0m0-1h0m1 1h0m0 0h0m1 0h0m0 0h0m0-1h0m1 1h0m0 0h0m2 1h0m0-2h0m1 0h0m0 0h0m0 1h0m0 0h0m1-1h0m0 1h0m1 0h0m0 1h0m1 0h0m1-1h0m0 0h0m0-1h0m0 0h0m-46 5h0m3-2h0m0 1h0m1 0h0m0 0h0m0 0h0m1 0h0m0-1h0m0 1h0m0 1h0m1 0h0m0-2h0m0 1h0m1-1h0m1 0h0m1 0h0m0 0h0m2 1h0m0 1h0m0-1h0m1 0h0m0 1h0m2-2h0m0 2h0m1-1h0m1 0h0m0-1h0m0 2h0m1-1h0m0 0h0m0-1h0m1 1h0m0-1h0m1 0h0m0 1h0m0 1h0m1-1h0m0 0h0m0 0h0m0-1h0m0 0h0m1 1h0m1 1h0m0-1h0m0 1h0m0-1h0m1 1h0m0-2h0m0 2h0m0 0h0m0-1h0m0 1h0m1 0h0m0 0h0m0 0h0m0-1h0m1-1h0m0 0h0m0 2h0m0 0h0m0-1h0m0-1h0m0 0h0m1 0h0m0 0h0m0 1h0m0-1h0m1 0h0m1 1h0m0-1h0m0 2h0m1 0h0m0 0h0m0-1h0m1-1h0m0 0h0m1 2h0m0-2h0m0 0h0m0 1h0m0 0h0m1 1h0m3-2h0m0 0h0m1 0h0m0 0h0m0 1h0m0-1h0m2 1h0m0-1h0m0 0h0m0 2h0m0-1h0m2-1h0m1 2h0m0 0h0m0-1h0m0-1h0m1 0h0m0 0h0m0 2h0m1-2h0m0 1h0m0-1h0m1 2h0m1-2h0m0 0h0m0 0h0m0 2h0m1-1h0m0-1h0m-44 3h0m1 0h0m0 0h0m0 0h0m1 1h0m0-1h0m0 0h0m0 1h0m1 0h0m0 1h0m0-1h0m0 0h0m0 0h0m1 1h0m1-2h0m0 0h0m0 0h0m2 1h0m0 1h0m1 0h0m0-2h0m1 2h0m1-1h0m1-1h0m1 1h0m0 1h0m1-2h0m1 0h0m0 2h0m0-2h0m0 2h0m0-1h0m0 1h0m0-2h0m0 2h0m1-2h0m0 2h0m1-1h0m0 0h0m3 1h0m0-1h0m1 1h0m1-2h0m0 0h0m0 0h0m0 1h0m0-1h0m1 1h0m1 0h0m0-1h0m0 0h0m1 0h0m1 1h0m1 1h0m1 0h0m1-1h0m0-1h0m1 1h0m1 0h0m0 0h0m0 1h0m0 0h0m1-2h0m0 0h0m0 2h0m0-1h0m0 0h0m0 1h0m1 0h0m1-2h0m0 1h0m0-1h0m0 0h0m1 2h0m0-2h0m1 2h0m1-2h0m1 2h0m0-2h0m1 1h0m0 0h0m0-1h0m0 1h0m0 0h0m1 1h0m0-1h0m0 0h0m1-1h0m0 0h0m0 0h0m1 1h0m1-1h0m0 0h0m0 0h0m0 1h0m1-1h0m-45 3h0m2 2h0m1-1h0m2-1h0m0 2h0m1-1h0m1 1h0m0-2h0m1 0h0m1 1h0m1-1h0m1 0h0m2 0h0m0 1h0m0 1h0m1 0h0m1-1h0m0-1h0m0 1h0m0 1h0m1 0h0m0-1h0m1-1h0m0 0h0m0 0h0m0 0h0m1 1h0m0 0h0m1 0h0m1 1h0m0-1h0m1-1h0m0 0h0m1 0h0m0 2h0m0 0h0m0 0h0m1-1h0m0 0h0m0 0h0m0 0h0m2-1h0m0 0h0m0 1h0m0 0h0m1-1h0m0 0h0m1 2h0m0 0h0m0-1h0m0 0h0m1-1h0m1 0h0m0 0h0m0 0h0m0 0h0m0 1h0m1-1h0m0 2h0m1-2h0m0 1h0m0 1h0m0-2h0m0 1h0m0 0h0m0 1h0m1-2h0m0 1h0m1 0h0m0 1h0m0-1h0m1 1h0m0-1h0m2 0h0m0 1h0m1 0h0m0-2h0m0 1h0m1 1h0m0 0h0m1-1h0m0 1h0m1-1h0m0 0h0m0-1h0m0 0h0m1 1h0m6 0h0m3 0h0m1-1h0m0 2h0m4-1h0m-49 2h0m0 0h0m1 0h0m1 1h0m0 1h0m1 0h0m0-2h0m0 2h0m0-2h0m1 0h0m0 1h0m0 1h0m1-1h0m1 1h0m0-1h0m0-1h0m1 0h0m0 0h0m1 0h0m0 2h0m1-1h0m0 1h0m0-1h0m0 1h0m0-1h0m0 1h0m1-1h0m0-1h0m1 2h0m1-1h0m1-1h0m0 1h0m0 0h0m1-1h0m2 2h0m0-1h0m1-1h0m0 1h0m1 1h0m0-2h0m1 1h0m0-1h0m0 2h0m1-1h0m0-1h0m0 1h0m1-1h0m2 2h0m0-2h0m0 0h0m1 0h0m0 1h0m1 1h0m1-1h0m1-1h0m0 2h0m1 0h0m0-2h0m1 1h0m0 0h0m1 1h0m10 0h0m4-2h0m1 1h0m7 1h0m11-1h0m-62 3h0m1-1h0m1 2h0m0-2h0m1 1h0m0-1h0m1 1h0m0 0h0m1 1h0m1-1h0m2-1h0m0 2h0m0-1h0m1-1h0m0 0h0m1 0h0m0 2h0m0-1h0m1 0h0m2 1h0m0 0h0m0-2h0m1 2h0m1 0h0m0 0h0m0-2h0m1 0h0m0 1h0m0 0h0m1 1h0m1-1h0m1-1h0m0 2h0m0-2h0m0 0h0m1 1h0m1-1h0m0 0h0m0 0h0m1 0h0m1 0h0m1 1h0m2 0h0m0 1h0m0-1h0m1-1h0m0 1h0m0 1h0m0-2h0m1 2h0m0-1h0m6 0h0m2 0h0m6-1h0m2 0h0m-43 5h0m0 0h0m1 0h0m0 0h0m0 0h0m0 0h0m1-2h0m1 2h0m0-2h0m1 0h0m0 2h0m0-2h0m0 2h0m1 0h0m0-2h0m1 0h0m1 0h0m0 1h0m1-1h0m0 0h0m1 1h0m0 1h0m1-2h0m0 2h0m0-2h0m1 1h0m1 0h0m0 0h0m1 0h0m2-1h0m0 0h0m0 1h0m0 0h0m1 0h0m1 1h0m1 0h0m0-2h0m1 2h0m0 0h0m2-1h0m1-1h0m0 2h0m1 0h0m2-2h0m0 2h0m0 0h0m1-1h0m0 1h0m0 0h0m1 0h0m16-1h0m-42 4h0m0-2h0m1 2h0m0-2h0m1 1h0m0 0h0m0-1h0m0 2h0m1-2h0m0 0h0m1 2h0m0 0h0m1-1h0m0 0h0m1 0h0m0 0h0m2 1h0m1-2h0m1 1h0m1 1h0m0-2h0m1 2h0m1-1h0m0 0h0m0 1h0m0 0h0m1 0h0m0 0h0m1 0h0m1 0h0m3-1h0m0 1h0m1-2h0m1 0h0m0 2h0m1-2h0m0 1h0m1 1h0m1 0h0m0 0h0m1-2h0m9 1h0m1 1h0m7 0h0m0 0h0m0 0h0m0-1h0m0 0h0m1 0h0m0-1h0m2 1h0m0-1h0m0 1h0m1 0h0m0 1h0m0-1h0m1 1h0m0-1h0m1 0h0m0 0h0m0 0h0m1 1h0m0 0h0m1-1h0m0 1h0m0-1h0m0 0h0m0 0h0m0 1h0m1-1h0m0 0h0m0 1h0m1-2h0m1 2h0m0 0h0m0-1h0m0 1h0m1-1h0m0-1h0m0 1h0m2 0h0m0 0h0m1 0h0m1 1h0m1 0h0m1 0h0m-60 1h0m1 2h0m1-1h0m1-1h0m0 1h0m0 1h0m1 0h0m0-1h0m2-1h0m1 2h0m1-2h0m0 0h0m0 2h0m2-1h0m0 0h0m0-1h0m1 0h0m0 2h0m0-1h0m1-1h0m0 1h0m0 1h0m1-1h0m1 0h0m0-1h0m0 2h0m1 0h0m1 0h0m1-2h0m0 2h0m0-1h0m0 0h0m0-1h0m1 1h0m0 1h0m1-2h0m0 1h0m2 1h0m2 0h0m2-2h0m0 2h0m1-1h0m9 0h0m5-1h0m1 1h0m0-1h0m0 0h0m0 1h0m0 1h0m1 0h0m0 0h0m0 0h0m0-2h0m0 0h0m1 2h0m0-2h0m0 2h0m0-1h0m0-1h0m0 1h0m0-1h0m1 2h0m0-1h0m0-1h0m0 0h0m1 0h0m1 2h0m0 0h0m0-2h0m0 0h0m0 1h0m0-1h0m0 0h0m1 0h0m0 2h0m1-2h0m0 2h0m1 0h0m0 0h0m0-2h0m1 1h0m0 0h0m0-1h0m1 0h0m0 0h0m0 1h0m0 0h0m0 1h0m0-2h0m0 1h0m0-1h0m1 0h0m0 0h0m0 0h0m1 2h0m0 0h0m0 0h0m0-1h0m0-1h0m1 1h0m0 1h0m0-1h0m0-1h0m1 1h0m0-1h0m0 0h0m0 0h0m1 2h0m0-1h0m1-1h0m0 1h0m0 1h0m0 0h0m0-2h0m0 1h0m0-1h0m0 0h0m0 1h0m0-1h0m1 1h0m0-1h0m0 1h0m0 1h0m0-1h0m1-1h0m0 1h0m0 0h0m0 0h0m0 1h0m1-1h0m0 0h0m0-1h0m0 1h0m0 0h0m1-1h0m-59 3h0m1 0h0m0 0h0m1 0h0m0 0h0m2 0h0m0 1h0m1 0h0m0 0h0m2-1h0m0 2h0m1-1h0m0 0h0m0 1h0m1-1h0m0 1h0m0-1h0m1-1h0m0 0h0m0 1h0m0-1h0m2 0h0m0 2h0m0-1h0m1-1h0m2 0h0m0 2h0m1-1h0m2-1h0m0 0h0m0 2h0m0-1h0m1 1h0m2-2h0m0 1h0m1-1h0m0 1h0m1 0h0m0 0h0m17 1h0m1-2h0m0 1h0m0 1h0m1-2h0m1 0h0m0 0h0m1 0h0m2 0h0m1 0h0m1 0h0m0 0h0m1 0h0m0 0h0m1 0h0m1 0h0m1 0h0m1 0h0m0 0h0m-51 3h0m1 1h0m1-1h0m0 1h0m1 1h0m0-1h0m0 1h0m1-2h0m0 2h0m1 0h0m0 0h0m0-2h0m1 1h0m0 1h0m0 0h0m2-1h0m1 0h0m0 0h0m1 1h0m1-2h0m0 2h0m2-1h0m0 1h0m0-1h0m0 1h0m1-1h0m1 1h0m0-2h0m1 0h0m0 2h0m0-2h0m1 2h0m1-1h0m0 1h0m0-1h0m1-1h0m0 0h0m1 1h0m7 0h0m13-1h0m-36 3h0m0 1h0m1 1h0m1-2h0m0 0h0m1 1h0m1 0h0m0 0h0m0 0h0m1 1h0m0-1h0m1-1h0m1 1h0m0-1h0m1 2h0m1-1h0m0-1h0m0 2h0m1-2h0m0 2h0m0-2h0m0 1h0m0-1h0m1 0h0m1 1h0m2 0h0m1-1h0m19 1h0m6 0h0m-38 3h0m1 0h0m0 0h0m0-1h0m4 2h0m1-1h0m2 1h0m1-1h0m2 1h0m0 0h0m0 0h0m0-1h0m2 0h0m-18 3h0m8-1h0m1 1h0m1 0h0m0 1h0m0-2h0m1 1h0m2 0h0m1 0h0m1 0h0m1-1h0m-13 5h0m4-1h0m7-1h0m9 0h0m-24 4h0m2 1h0m1-2h0m2 2h0m1-2h0m1 2h0m1-2h0m-12 5h0m3 0h0m1-2h0m-4 3h0m-9 4h0m1-1h0m0 2h0m1-1h0" stroke="#e4e4e4" stroke-width="1.84" stroke-linecap="round" fill="none"/>
<path transform="scale(0.5)" d="M692 282h0m5 2h0m2 1h0m1 1h0m4 0h0m0-1h0m8 2h0m8 0h0m3-2h0m1 0h0m3 0h0m7 2h0m-34 1h0m1 0h0m18 1h0m9-1h0m9 1h0m3 1h0m-30 3h0m5-1h0m2 1h0m5-1h0m9-1h0m0 2h0m2-1h0m2-1h0m-18 5h0m0-1h0m2-1h0m0 1h0m2-1h0m1 0h0m0 1h0m7 1h0m0-2h0m2 1h0m1 1h0m-18 3h0m1-2h0m1 1h0m6-1h0m1 2h0m1-1h0m0 1h0m1-2h0m1 0h0m3 0h0m1 2h0m16-2h0m3 1h0m1-1h0m2 0h0m-41 5h0m5 0h0m8-2h0m3 0h0m1 0h0m6 2h0m0-1h0m-27 4h0m8-2h0m0 0h0m8 0h0m3 0h0m3 0h0m8 0h0m4 0h0m-30 5h0m12-1h0m0 1h0m3-1h0m0 0h0m6 0h0m3 1h0m0-1h0m14 0h0m-40 4h0m1-2h0m1 0h0m9 0h0m5 1h0m1 1h0m5-2h0m0 2h0m17-2h0m1 1h0m-41 2h0m3 1h0m9-1h0m4 1h0m5 0h0m1-1h0m7 2h0m0 0h0m4-1h0m1-1h0m-32 3h0m0 0h0m5 2h0m2 0h0m1 0h0m7-1h0m4 1h0m7 0h0m5 0h0m14 0h0m-42 2h0m0 1h0m2-1h0m0 1h0m8-2h0m3 0h0m1 1h0m1 0h0m0-1h0m0 1h0m8 1h0m3-2h0m1 2h0m15-1h0m-36 2h0m8 0h0m1 1h0m2-1h0m3 0h0m1 2h0m1-1h0m5 0h0m9 0h0m-39 4h0m3-2h0m7 2h0m3-2h0m3 2h0m8-1h0m1-1h0m1 1h0m1 1h0m25 0h0m-44 2h0m7 0h0m4 1h0m1-1h0m1 1h0m8-2h0m18 1h0m1 1h0m1-1h0m6 1h0m6-1h0m1 0h0m1 0h0m-49 2h0m5 1h0m1 1h0m1-2h0m4 0h0m-16 3h0m0 0h0m4 1h0m0 0h0m5 0h0m1 1h0m7 0h0m-15 1h0m3 0h0m1 0h0m2 2h0m3 0h0m1-2h0m3 0h0m1 2h0m2-1h0m-27 4h0m25-2h0m2 1h0m5 1h0m-21 2h0m1 1h0m1 0h0m1-2h0m1 2h0m-6 1h0m4 1h0m3 1h0m-8 2h0m2 1h0m1 0h0m0 0h0m0 0h0m1 0h0m3 0h0m2 0h0m18 0h0m-32 2h0m1 0h0m1 0h0m0 1h0m2-2h0m0 0h0m1 1h0m1-1h0m0 1h0m1-1h0m1 0h0m2 1h0m0 0h0m-14 4h0m0 0h0m2-1h0m1 0h0m0 0h0m1 0h0m0 0h0m0 0h0m-10 4h0m0 0h0m2-1h0m1 0h0m1 0h0m1-1h0m1 0h0m24 1h0m-32 2h0m1 1h0m44 3h0" stroke="#f6cbbd" stroke-width="1.84" stroke-linecap="round" fill="none"/>
<path transform="scale(0.5)" d="M733 283h0m-23 2h0m21 2h0m-28 2h0m6 0h0m3 1h0m0-2h0m11 1h0m1-1h0m6 1h0m13 4h0m-28 1h0m7 1h0m3 1h0m2 2h0m-5 4h0m-4 3h0m7 0h0m-11 2h0m7 1h0m6-2h0m1 0h0m1 1h0m-13 5h0m1 2h0m4 0h0m9-2h0m0 0h0m1 2h0m6 0h0m-23 2h0m18 0h0m0-1h0m2 2h0m0 0h0m2 0h0m-24 2h0m5 1h0m2-1h0m3 1h0m7 0h0m26 0h0m-44 1h0m5 2h0m0-2h0m4 0h0m1 2h0m5 0h0m1 0h0m5 0h0m-8 2h0m0 0h0m10-1h0m0 2h0m3-1h0m2 1h0m0-1h0m1-1h0m-29 4h0m28 1h0m1-2h0m-22 5h0m9-2h0m1 0h0m0 1h0m4 0h0m2-1h0m-6 3h0m4 0h0m-8 4h0m3 0h0m8 0h0m2 0h0m-14 2h0m11 2h0m1 0h0m1-2h0m0 1h0m1-1h0m6 0h0m3 1h0m-26 4h0m3-1h0m1-1h0m1 2h0m20-1h0m-26 4h0m2-2h0m1 1h0m2-1h0m1 1h0m1 1h0m0 0h0m0-2h0m5 0h0m14 2h0m-29 3h0m1 0h0m1-1h0m3-1h0m1 0h0m0 0h0m0 1h0m3 1h0m0-2h0m0 2h0m1-1h0m0 1h0m1-1h0m0 1h0m13-1h0m4 1h0m2-1h0m5-1h0m-36 4h0m0 1h0m1-2h0m1 0h0m0 0h0m3 0h0m2 1h0m10 1h0m5 0h0m1-2h0m8 2h0m1-1h0m16-1h0m0 0h0m-55 5h0m3 0h0m0 0h0m3-2h0m17 2h0m4-2h0m12 2h0m-43 2h0m1 0h0m1 0h0m0-1h0m29 2h0m11-2h0m2 0h0m1 0h0m-48 5h0m2-1h0m0-1h0m38 0h0m7 1h0m2-1h0m1 0h0m-13 3h0m3 0h0m4 0h0m3 1h0m21 1h0m-26 1h0m1 0h0m-5 3h0m13 3h0" stroke="#f19a84" stroke-width="1.84" stroke-linecap="round" fill="none"/>
<path transform="scale(0.5)" d="M697 285h0m33 21h0m1 5h0m-19 7h0m8 1h0m11 0h0m-2 7h0m-1 2h0m37 2h0m-30 5h0m-2 6h0m2-2h0m0 2h0m2 0h0m1-2h0m2 1h0m3 0h0m2-1h0m1 0h0m0 2h0m2-1h0m-27 2h0m10 2h0m4-2h0m1 0h0m1 0h0m4 2h0m1 0h0m3 0h0m0-1h0m0 1h0m3-2h0m2 0h0m1 2h0m1-1h0m1-1h0m0 1h0m3 1h0m1 0h0m-38 2h0m9 0h0m2 1h0m3-1h0m1 1h0m0-2h0m4 0h0m0 2h0m7 0h0m0 0h0m3 0h0m2-1h0m1-1h0m2 0h0m1 1h0m-34 4h0m0 0h0m2-1h0m1 1h0m9-2h0m2 1h0m1 1h0m2 0h0m2 0h0m1-2h0m3 0h0m3 2h0m2-2h0m1 1h0m2 0h0m1 0h0m1-1h0m0 1h0m1 1h0m0-2h0m0 1h0m5 1h0m-47 3h0m2 0h0m3-2h0m14 1h0m0 0h0m1 0h0m0 1h0m1-1h0m1 1h0m1 0h0m3-2h0m1 1h0m1-1h0m0 1h0m0 1h0m2-2h0m1 2h0m1-1h0m2 0h0m3 1h0m1-1h0m2 1h0m-41 1h0m1 0h0m2 0h0m17 1h0m1 1h0m0-1h0m0-1h0m2 1h0m1 1h0m2-2h0m4 2h0m1 0h0m0-2h0m5 0h0m5 2h0m6-2h0m6 0h0m-61 5h0m1-1h0m3 0h0m24 1h0m3-2h0m1 2h0m0 0h0m1-1h0m0 1h0m1 0h0m1-1h0m0 0h0m1 1h0m5-2h0m0 1h0m2-1h0m1 1h0m1 0h0m5 1h0m-51 1h0m1 0h0m1 0h0m0 0h0m30 0h0m0 1h0m2 0h0m3 1h0m2 0h0m5 0h0m1 0h0m4 0h0m5 0h0m3-1h0m1 1h0m10-1h0m-36 2h0m3 2h0m0-1h0m0 0h0m3 1h0m4 0h0m2 0h0m0-1h0m3 1h0m4-2h0m-17 4h0m4 0h0m3-1h0m0 0h0m1 2h0m1-1h0m5 1h0m2-1h0m0 0h0m9 1h0m7-2h0m3 2h0m-30 1h0m0 2h0m1-1h0m3-1h0m4 2h0m0-2h0m2 0h0m1 0h0m7 0h0m9 1h0m4 0h0m-14 2h0m13 1h0" stroke="#e4604a" stroke-width="1.84" stroke-linecap="round" fill="none"/>
<path transform="scale(0.5)" d="M738 340h0m3 1h0m4-1h0m0 1h0m1-1h0m2 0h0m0 0h0m1 1h0m1-1h0m0 1h0m-19 3h0m5-1h0m5 1h0m2-2h0m4 2h0m1-2h0m0 2h0m1-2h0m0 1h0m1-1h0m0 2h0m1-1h0m2 1h0m0 0h0m1 0h0m0-1h0m-24 3h0m1 1h0m1-1h0m2 0h0m0 0h0m2 1h0m1 0h0m1 0h0m1 0h0m0-1h0m0-1h0m0 1h0m0 1h0m2-1h0m1 1h0m0-1h0m1 1h0m2-2h0m2 1h0m0 1h0m2-2h0m0 2h0m0-1h0m3 1h0m1 0h0m0 0h0m-34 1h0m12 1h0m3 1h0m1-1h0m3 1h0m1 0h0m1-1h0m1 0h0m5-1h0m1 1h0m2-1h0m0 1h0m0 1h0m1-1h0m4 0h0m4 0h0m0 0h0m2 1h0m1-1h0m1 0h0m2 1h0m0 0h0m-31 2h0m1 1h0m0-2h0m1 1h0m3 0h0m0 1h0m2 0h0m1-2h0m1 0h0m0 0h0m5 2h0m1-2h0m1 1h0m1 1h0m0 0h0m1-2h0m1 0h0m0 2h0m2-2h0m1 1h0m1-1h0m0 0h0m1 1h0m3 0h0m1-1h0m4 0h0m-35 3h0m1 1h0m0 0h0m1-1h0m0 1h0m0-1h0m0 0h0m1 2h0m1-1h0m0-1h0m1 2h0m1-2h0m2 1h0m4-1h0m3 0h0m1 1h0m0 1h0m1 0h0m0-2h0m3 0h0m0 2h0m2-1h0m0 1h0m2-2h0m2 2h0m1 0h0m4 0h0m3-2h0m1 0h0m0 1h0m2 0h0m2 1h0m0 0h0m-34 1h0m1 1h0m1 0h0m0 1h0m0-1h0m0 0h0m1 1h0m2-2h0m0 0h0m3 1h0m0-1h0m3 2h0m2-2h0m2 0h0m0 0h0m0 0h0m5 1h0m1 0h0m0 0h0m1 1h0m0-2h0m1 2h0m1-2h0m5 1h0m1 1h0m0 0h0m1-2h0m1 1h0m3 0h0m0-1h0m-38 5h0m1-2h0m2 1h0m3 1h0m1-1h0m0-1h0m4 1h0m0-1h0m2 2h0m0-1h0m1-1h0m3 0h0m1 1h0m0-1h0m1 1h0m2 1h0m1-1h0m0 1h0m0-1h0m0 0h0m2 1h0m2-2h0m1 0h0m0 0h0m1 0h0m1 1h0m0 0h0m1 1h0m2 0h0m1-1h0m0-1h0m3 0h0m1 2h0m1 0h0m0-2h0m-42 5h0m5-2h0m1 0h0m1 2h0m1 0h0m2 0h0m2-2h0m1 2h0m1-2h0m0 1h0m2-1h0m1 1h0m3-1h0m0 2h0m1-1h0m4 0h0m5-1h0m3 0h0m0 1h0m1-1h0m1 0h0m2 0h0m3 0h0m0 2h0m1-2h0m2 2h0m-35 1h0m0 0h0m1 2h0m1 0h0m1 0h0m1 0h0m1 0h0m0 0h0m1-2h0m1 1h0m0 0h0m0 0h0m1 0h0m1-1h0m0 2h0m1-2h0m2 1h0m3 1h0m0 0h0m1-2h0m0 0h0m2 1h0m0 0h0m2 1h0m0-1h0m2 0h0m1 0h0m1-1h0m5 0h0m2 1h0m-27 4h0m3 0h0m2 0h0m2-1h0m1 0h0m3 0h0m1 0h0m2-1h0m1 0h0m2 0h0m1 0h0m1 0h0m0 2h0m3-2h0m3 1h0m1-1h0m2 0h0m0 2h0m-24 1h0m4 1h0m1 0h0m2-1h0m1 1h0m0 0h0m0-1h0m0 1h0m0 0h0m2 0h0m4 0h0m1-1h0m0 0h0m-9 4h0m20 0h0" stroke="#cf3326" stroke-width="1.84" stroke-linecap="round" fill="none"/>
<path transform="scale(0.5)" d="M738 339h0m1 1h0m1-1h0m0 0h0m3 1h0m2-1h0m9 1h0m-23 3h0m0 0h0m1 1h0m3-1h0m2 0h0m5 0h0m2 0h0m4 0h0m1 0h0m1 0h0m1-1h0m0 2h0m0-1h0m3 1h0m1 0h0m-25 2h0m4-1h0m1 1h0m0 1h0m0-2h0m1 1h0m2 0h0m5 0h0m3 1h0m2-1h0m1-1h0m1 2h0m0-1h0m2 0h0m0-1h0m1 0h0m0 1h0m1 1h0m0-2h0m2 0h0m0 0h0m1 0h0m0 0h0m1 1h0m1 0h0m11 0h0m-35 4h0m0 0h0m1-2h0m0 1h0m1 0h0m1-1h0m2 2h0m4-2h0m5 2h0m0-2h0m2 2h0m4-2h0m0 2h0m3 0h0m0-2h0m1 2h0m0-2h0m1 0h0m0 2h0m1-1h0m2 1h0m0-1h0m0 0h0m1 0h0m-33 3h0m0 0h0m6-1h0m1 1h0m10 1h0m1-1h0m2 1h0m2-2h0m0 1h0m2-1h0m0 0h0m1 1h0m1-1h0m0 0h0m0 0h0m0 2h0m2-2h0m0 0h0m0 1h0m0 1h0m1-2h0m1 1h0m2-1h0m0 0h0m1 2h0m1 0h0m1 0h0m-30 3h0m3 0h0m4-2h0m3 0h0m1 0h0m1 1h0m4 0h0m0 1h0m1-1h0m0 1h0m0-2h0m0 2h0m1 0h0m0-1h0m1 1h0m1 0h0m0 0h0m0 0h0m0-1h0m1 0h0m0-1h0m1 1h0m0 1h0m0-2h0m2 0h0m0 0h0m1 2h0m0-1h0m1 0h0m1 0h0m2-1h0m0 1h0m1 1h0m0-1h0m2 0h0m0 0h0m-33 3h0m4 1h0m3-1h0m0 0h0m5-1h0m1 1h0m2 1h0m1-1h0m0 0h0m0-1h0m1 1h0m3-1h0m0 1h0m0 1h0m0-1h0m2 0h0m1 1h0m0-1h0m1-1h0m2 1h0m0 1h0m1 0h0m0 0h0m1-1h0m0-1h0m3 1h0m1 1h0m1 0h0m1-1h0m0 1h0m0-2h0m0 0h0m1 0h0m0 0h0m1 2h0m-33 1h0m1 2h0m0 0h0m1-1h0m1-1h0m5 0h0m2 0h0m0 2h0m1-1h0m1-1h0m3 0h0m0 2h0m1 0h0m1 0h0m1-1h0m0 1h0m1 0h0m0-2h0m1 2h0m0-2h0m1 0h0m0 0h0m1 1h0m1-1h0m0 1h0m0-1h0m1 1h0m1 1h0m0 0h0m1-2h0m2 2h0m0-1h0m1-1h0m1 1h0m1 1h0m0-2h0m2 0h0m0 2h0m1-1h0m0 0h0m1 1h0m-40 3h0m2 0h0m6-2h0m3 2h0m3 0h0m3-1h0m1 1h0m0 0h0m0 0h0m0 0h0m1-2h0m2 0h0m0 2h0m1-1h0m1 1h0m1-1h0m0 0h0m0-1h0m1 2h0m1-2h0m0 1h0m1 1h0m0-1h0m1 1h0m1-2h0m2 0h0m1 2h0m1 0h0m2 0h0m0-1h0m1 0h0m0 1h0m2-1h0m0 1h0m0-2h0m0 2h0m-43 3h0m7-1h0m2-1h0m1 0h0m1 2h0m0 0h0m1 0h0m0 0h0m1 0h0m0-1h0m1 0h0m0 1h0m1-2h0m0 1h0m0-1h0m2 2h0m0-1h0m0-1h0m1 0h0m0 0h0m1 2h0m0 0h0m3-2h0m0 1h0m0 1h0m2 0h0m0-1h0m0 1h0m1-2h0m4 0h0m2 2h0m1 0h0m1-1h0m0 0h0m0-1h0m0 1h0m2 1h0m1 0h0m1-2h0m1 1h0m0 1h0m1-2h0m1 0h0m1 2h0m0 0h0m0-2h0m0 1h0m1 1h0m0-1h0m0 1h0m1 0h0m0 0h0m1-2h0m-33 3h0m0 0h0m1 0h0m0 0h0m1 0h0m1 1h0m0 0h0m1 0h0m1-1h0m0 0h0m0 2h0m1-2h0m0 1h0m0 1h0m0-2h0m1 1h0m2 1h0m0 0h0m2-1h0m0 0h0m1 0h0m0 0h0m1-1h0m0 2h0m2 0h0m0-1h0m0 0h0m0 0h0m1 1h0m0-1h0m4-1h0m1 1h0m1 0h0m1 0h0m0-1h0m1 2h0m1 0h0m1-2h0m2 1h0m0 0h0m2-1h0m0 0h0m-22 3h0m1 0h0m1 1h0m1-1h0m1 0h0m0 0h0m1 1h0m0 0h0m1-1h0m4 1h0m0 1h0m2-1h0m0-1h0m1 1h0m2-1h0m0 0h0m1 1h0" stroke="#ac1a1b" stroke-width="1.84" stroke-linecap="round" fill="none"/>
<text x="366.0" y="135.9" font-size="7.4" text-anchor="middle" font-style="italic" stroke="#231f20" stroke-width="0.08">TPSAB1</text>
<path transform="scale(0.5)" d="M843 278h0m-52 2h0m1 0h0m40-1h0m7 2h0m0 0h0m1 0h0m1 0h0m3 0h0m2 0h0m3-2h0m-55 3h0m1 0h0m1 0h0m1 1h0m1 1h0m0 0h0m0 0h0m0-1h0m0 0h0m1 1h0m0-1h0m1 0h0m0 1h0m0-1h0m0 1h0m1 0h0m0 0h0m0-1h0m2 1h0m0 0h0m0 0h0m2 0h0m0 0h0m15 0h0m4 0h0m1 0h0m6 0h0m0-1h0m1 1h0m1-1h0m0 1h0m1-1h0m0 1h0m0-1h0m0 0h0m0 0h0m0-1h0m1 0h0m0 0h0m0 1h0m0 1h0m0-1h0m1-1h0m0 2h0m0-1h0m1 1h0m0 0h0m1 0h0m0-1h0m0-1h0m0 0h0m0 0h0m1 2h0m0-2h0m1 0h0m1 0h0m0 1h0m0-1h0m2 0h0m0 2h0m0-1h0m1-1h0m0 1h0m1 0h0m0 1h0m0-2h0m1 1h0m0 1h0m0 0h0m1 0h0m0 0h0m0-2h0m0 0h0m0 2h0m0 0h0m0-2h0m1 1h0m0-1h0m0 2h0m1-1h0m0 0h0m0 1h0m0 0h0m1 0h0m1 0h0m-52 1h0m0 0h0m1 0h0m0 0h0m0 1h0m1-1h0m0 0h0m0 0h0m0 0h0m1 0h0m0 0h0m1 2h0m0-1h0m0-1h0m0 0h0m1 1h0m0-1h0m0 2h0m0-2h0m0 1h0m0 0h0m0 1h0m1-2h0m0 0h0m0 1h0m1-1h0m0 0h0m0 2h0m0-2h0m1 1h0m0 1h0m1 0h0m2-1h0m0 0h0m1 0h0m1 0h0m0 0h0m1-1h0m2 2h0m0 0h0m9-2h0m0 2h0m0-2h0m1 0h0m1 1h0m0 0h0m2 1h0m0-2h0m0 0h0m1 1h0m0-1h0m0 2h0m1-1h0m0-1h0m0 1h0m0 1h0m1-2h0m0 0h0m0 0h0m0 0h0m0 2h0m1-1h0m0-1h0m0 0h0m0 0h0m1 2h0m0-1h0m1 1h0m0-1h0m0-1h0m1 1h0m0 1h0m1 0h0m0 0h0m0 0h0m1 0h0m0 0h0m1-1h0m1 1h0m0-2h0m0 2h0m1-1h0m0-1h0m1 0h0m1 0h0m1 0h0m0 2h0m1-2h0m0 1h0m0 0h0m0 0h0m0 1h0m2-2h0m0 0h0m0 2h0m0-2h0m1 1h0m0 0h0m0 0h0m1 1h0m0-2h0m1 1h0m0 0h0m0 0h0m0 0h0m1-1h0m1 2h0m1 0h0m0 0h0m-48 1h0m0 0h0m0 0h0m1 2h0m0-2h0m0 1h0m0 0h0m0-1h0m0 1h0m0-1h0m1 1h0m1 0h0m0 1h0m1-2h0m0 2h0m0-2h0m2 0h0m0 0h0m1 1h0m1 1h0m0 0h0m0 0h0m0-1h0m0 1h0m1-2h0m1 1h0m0-1h0m1 0h0m0 0h0m1 2h0m1-1h0m0 0h0m0-1h0m1 2h0m1-1h0m1 1h0m0 0h0m0-1h0m0 0h0m1 0h0m0 0h0m1 0h0m0 0h0m0-1h0m0 2h0m1 0h0m1-2h0m1 2h0m0-1h0m0 1h0m0-1h0m0 1h0m0-2h0m1 0h0m0 2h0m0 0h0m1-2h0m0 2h0m0-2h0m1 1h0m0-1h0m1 0h0m0 1h0m0-1h0m0 2h0m1-1h0m0-1h0m0 1h0m0 1h0m0-2h0m1 0h0m0 0h0m0 2h0m0-1h0m0 0h0m0 0h0m1 0h0m0-1h0m1 2h0m0-2h0m0 1h0m0-1h0m1 0h0m0 2h0m0-1h0m0 1h0m0-1h0m1 0h0m0 1h0m0-1h0m1 0h0m0-1h0m1 0h0m1 0h0m1 2h0m0-2h0m0 2h0m1 0h0m0-1h0m0 0h0m1 1h0m0-1h0m1 1h0m0 0h0m0-1h0m1 1h0m0 0h0m0-2h0m1 2h0m0-1h0m1 1h0m0 0h0m0-1h0m1 1h0m0 0h0m1-1h0m1 0h0m0 0h0m0-1h0m1 1h0m0 1h0m1 0h0m0 0h0m0 0h0m0 0h0m2-2h0m0 2h0m0-1h0m1-1h0m-45 3h0m2 0h0m0 0h0m0 2h0m1 0h0m0-2h0m1 2h0m1 0h0m0-2h0m0 2h0m1-2h0m0 1h0m0-1h0m1 1h0m0 0h0m1 0h0m0 1h0m1 0h0m0-1h0m1-1h0m0 2h0m1 0h0m1 0h0m0-2h0m0 2h0m0-1h0m0-1h0m1 2h0m0-2h0m0 0h0m0 2h0m0-2h0m0 1h0m1-1h0m0 0h0m0 1h0m0 0h0m0-1h0m1 2h0m0-1h0m0-1h0m1 0h0m0 1h0m0 0h0m1-1h0m0 0h0m0 0h0m0 1h0m0 1h0m0-2h0m0 1h0m0 1h0m0 0h0m1-2h0m0 1h0m0 1h0m1 0h0m0 0h0m1 0h0m0-2h0m0 2h0m1 0h0m0 0h0m0-1h0m1 1h0m0 0h0m1-2h0m0 0h0m0 0h0m1 1h0m0 0h0m0 0h0m0 0h0m0 1h0m0-1h0m1-1h0m0 2h0m1-1h0m0-1h0m0 0h0m0 1h0m0 1h0m0-1h0m0-1h0m0 2h0m1-2h0m0 1h0m1-1h0m1 0h0m0 0h0m0 1h0m0-1h0m1 2h0m1-2h0m0 0h0m1 1h0m0 0h0m1-1h0m0 2h0m1 0h0m0-2h0m0 0h0m1 2h0m0-2h0m1 1h0m0 0h0m0 0h0m1 0h0m0 1h0m0-2h0m0 1h0m1-1h0m1 1h0m0 1h0m1 0h0m1-2h0m0 2h0m1-1h0m0-1h0m0 2h0m0-1h0m0-1h0m2 2h0m0 0h0m2-1h0m0-1h0m0 0h0m0 2h0m1 0h0m-51 3h0m2-2h0m6 0h0m1 0h0m1 2h0m1 0h0m0-1h0m0 0h0m0-1h0m0 0h0m1 0h0m2 0h0m1 2h0m0 0h0m0-1h0m2 1h0m0-1h0m0-1h0m1 1h0m1 0h0m0 1h0m0-2h0m0 2h0m0 0h0m0-2h0m0 2h0m1-2h0m0 0h0m0 1h0m0 1h0m1-2h0m0 1h0m0-1h0m0 1h0m0 1h0m1 0h0m0 0h0m0 0h0m0 0h0m0 0h0m0-2h0m2 1h0m0 1h0m0 0h0m0 0h0m0 0h0m0-1h0m0-1h0m1 0h0m0 0h0m0 2h0m1-2h0m0 2h0m0-2h0m0 1h0m1 1h0m0 0h0m1-1h0m0-1h0m0 0h0m0 0h0m0 0h0m0 2h0m0-1h0m0 0h0m0 0h0m0 0h0m0 0h0m0-1h0m0 2h0m0 0h0m1-1h0m0-1h0m0 0h0m1 1h0m0 0h0m0 1h0m0 0h0m0-1h0m1 1h0m0 0h0m0-1h0m1 0h0m1 1h0m0-1h0m0-1h0m0 2h0m0-1h0m1 0h0m0 1h0m0 0h0m0 0h0m1-1h0m0 1h0m1-2h0m0 0h0m1 1h0m0 1h0m1-2h0m0 0h0m0 1h0m1 0h0m0 1h0m0-2h0m0 1h0m1 0h0m1 0h0m1 0h0m0-1h0m0 2h0m1-1h0m0 0h0m1 1h0m0-2h0m0 1h0m3 1h0m2 0h0m1-1h0m0 1h0m-42 2h0m3-1h0m1 2h0m1-2h0m0 0h0m1 0h0m0 1h0m0 1h0m1-1h0m0-1h0m1 2h0m1 0h0m0-2h0m1 1h0m0 1h0m0 0h0m1-1h0m0-1h0m1 2h0m0-1h0m0 0h0m0-1h0m0 1h0m0-1h0m0 0h0m1 1h0m0 0h0m0 1h0m0-2h0m0 1h0m0 0h0m0 0h0m0 1h0m1 0h0m0-1h0m0 0h0m0 0h0m1 1h0m0 0h0m0-2h0m0 2h0m0-2h0m0 1h0m0 1h0m0 0h0m1-1h0m0-1h0m0 0h0m0 1h0m0-1h0m0 1h0m0-1h0m1 1h0m0 0h0m0-1h0m0 1h0m1 1h0m0-1h0m1 0h0m0 0h0m0-1h0m0 1h0m0 0h0m1 0h0m0 1h0m0-2h0m0 2h0m0-1h0m1 1h0m0-1h0m1-1h0m0 0h0m0 2h0m0-1h0m0 0h0m0 0h0m1 1h0m0-2h0m0 1h0m0 0h0m1 0h0m0 1h0m1-2h0m0 0h0m1 0h0m1 0h0m1 1h0m0 1h0m0 0h0m1-2h0m0 0h0m0 2h0m1-2h0m0 1h0m1 0h0m1 1h0m0 0h0m0 0h0m1-2h0m0 0h0m0 2h0m0 0h0m0-2h0m0 0h0m1 0h0m0 0h0m0 0h0m1 0h0m1 0h0m0 0h0m1 0h0m0 1h0m0-1h0m1 1h0m0 1h0m0-1h0m1 0h0m0 1h0m0 0h0m0-1h0m1-1h0m0 1h0m1-1h0m0 0h0m1 2h0m0-1h0m0-1h0m0 0h0m1 0h0m-54 4h0m9 0h0m2 0h0m1 1h0m1-2h0m0 0h0m0 0h0m2 2h0m1 0h0m0-1h0m1 0h0m0-1h0m3 1h0m0-1h0m0 1h0m1 0h0m0-1h0m1 0h0m1 2h0m0-1h0m0-1h0m0 1h0m0 0h0m0 1h0m0-2h0m1 2h0m0-2h0m0 2h0m0 0h0m0-1h0m0-1h0m1 2h0m0 0h0m1 0h0m0-1h0m2 0h0m0 1h0m0-1h0m0 0h0m1 1h0m0-2h0m1 1h0m0 0h0m0 1h0m0-2h0m0 1h0m1 0h0m0 1h0m0 0h0m0-2h0m0 0h0m0 2h0m1-1h0m0 0h0m0-1h0m0 1h0m0-1h0m0 2h0m1-2h0m1 1h0m0 1h0m0-1h0m0 1h0m0-1h0m0 0h0m1-1h0m0 2h0m1-2h0m0 2h0m1 0h0m1 0h0m0-1h0m1-1h0m0 0h0m1 1h0m0 1h0m0-1h0m1-1h0m1 1h0m1-1h0m1 2h0m0 0h0m0 0h0m0 0h0m1-1h0m0 1h0m0-2h0m0 0h0m0 2h0m1-2h0m0 2h0m0-2h0m0 0h0m0 0h0m1 1h0m0 1h0m1-1h0m0 1h0m1 0h0m0 0h0m0-1h0m0-1h0m0 2h0m0-2h0m0 0h0m1 2h0m0 0h0m1-2h0m0 0h0m2 2h0m0-1h0m-44 3h0m1-1h0m0 1h0m0 0h0m0 0h0m2 0h0m0 1h0m1-1h0m1-1h0m0 0h0m1 0h0m1 2h0m0-2h0m0 0h0m1 2h0m0-2h0m0 0h0m0 0h0m1 0h0m1 0h0m1 0h0m0 0h0m1 0h0m1 0h0m0 2h0m1-2h0m0 1h0m1 0h0m0 0h0m0 1h0m0-2h0m1 2h0m0-1h0m0 1h0m0-2h0m0 1h0m0 0h0m1 1h0m0 0h0m0-1h0m1 0h0m0-1h0m0 2h0m0 0h0m0-2h0m1 0h0m0 0h0m0 1h0m0 0h0m1 0h0m1-1h0m0 2h0m1-2h0m0 0h0m0 0h0m1 1h0m0 1h0m0-1h0m0-1h0m0 1h0m0 0h0m0-1h0m1 2h0m0-2h0m1 0h0m0 2h0m0 0h0m0 0h0m0-1h0m2 0h0m1-1h0m0 1h0m0-1h0m2 0h0m0 1h0m1-1h0m1 2h0m1 0h0m1-2h0m1 1h0m0-1h0m0 0h0m0 1h0m0-1h0m1 0h0m0 1h0m0-1h0m2 2h0m1-2h0m1 1h0m1 1h0m0 0h0m1 0h0m0-2h0m1 1h0m1 0h0m0-1h0m0 0h0m-46 5h0m1 0h0m0-1h0m2 0h0m0-1h0m0 0h0m1 1h0m0 0h0m1 0h0m1-1h0m0 2h0m0 0h0m0 0h0m1-1h0m0-1h0m3 1h0m1 1h0m1-1h0m0 1h0m2-2h0m0 0h0m1 2h0m1-2h0m1 1h0m0 0h0m0 0h0m0 0h0m1-1h0m0 2h0m1-1h0m1 0h0m1-1h0m0 1h0m0 0h0m1 1h0m0-1h0m0 1h0m0 0h0m0 0h0m0 0h0m1-2h0m0 0h0m0 1h0m0 1h0m0-1h0m1 1h0m0 0h0m0 0h0m1-2h0m0 1h0m0 0h0m1 1h0m1-2h0m0 0h0m1 1h0m0-1h0m0 0h0m0 2h0m0-1h0m1 0h0m1 1h0m0-2h0m2 2h0m2-2h0m0 0h0m1 0h0m0 0h0m1 0h0m0 0h0m1 1h0m0-1h0m1 0h0m2 0h0m0 2h0m0-1h0m2-1h0m1 2h0m0-1h0m1 1h0m0-1h0m0 1h0m1-2h0m-44 4h0m2-1h0m0 2h0m0-2h0m1 2h0m0-1h0m1-1h0m0 1h0m1-1h0m1 1h0m0-1h0m2 1h0m1 1h0m1 0h0m1-2h0m0 1h0m1 0h0m2-1h0m0 1h0m0-1h0m0 2h0m0-2h0m1 2h0m0 0h0m0-1h0m0-1h0m0 0h0m0 2h0m0 0h0m2-1h0m0 0h0m0 0h0m2-1h0m0 1h0m0 0h0m1 1h0m0 0h0m2-2h0m1 1h0m0 0h0m0 1h0m1-2h0m0 0h0m1 0h0m1 2h0m0-1h0m0 1h0m1-2h0m0 0h0m0 2h0m0 0h0m0 0h0m2-2h0m2 1h0m0 0h0m0 1h0m0 0h0m1-2h0m0 2h0m0-1h0m0 1h0m0-2h0m0 2h0m1-1h0m0-1h0m0 0h0m0 2h0m1-2h0m0 0h0m0 0h0m0 0h0m0 1h0m2 1h0m0-2h0m1 2h0m0 0h0m1-1h0m0 0h0m0-1h0m2 2h0m0-2h0m0 2h0m0-1h0m0-1h0m0 1h0m0-1h0m1 0h0m0 1h0m2-1h0m3 2h0m-47 1h0m2 2h0m0-1h0m0-1h0m3 2h0m1-1h0m0 0h0m0 1h0m2-2h0m1 0h0m0 2h0m2-2h0m1 1h0m0 1h0m1-2h0m0 0h0m0 1h0m1-1h0m0 2h0m0-1h0m1 1h0m0 0h0m0-1h0m1-1h0m0 2h0m0-2h0m0 0h0m0 0h0m1 1h0m0 0h0m0-1h0m1 1h0m0 1h0m1-2h0m0 0h0m0 1h0m1 1h0m1 0h0m0 0h0m0-2h0m1 0h0m1 0h0m0 1h0m0 0h0m0 0h0m1-1h0m1 0h0m0 0h0m0 0h0m0 1h0m0 0h0m0 0h0m0 0h0m1 1h0m0 0h0m1-2h0m0 1h0m0 0h0m1-1h0m0 2h0m1-1h0m0-1h0m0 0h0m0 0h0m0 2h0m0-1h0m1 1h0m0 0h0m0 0h0m1-2h0m0 1h0m0 1h0m0 0h0m0-2h0m0 1h0m0 0h0m0-1h0m1 1h0m0 0h0m0 1h0m0-1h0m1 1h0m0-1h0m1-1h0m0 2h0m1-1h0m0 1h0m2-2h0m0 2h0m0-2h0m0 1h0m0 1h0m1 0h0m0 0h0m0-2h0m1 1h0m0-1h0m0 1h0m0 0h0m1-1h0m1 1h0m6 0h0m2-1h0m0 1h0m2-1h0m4 1h0m-51 2h0m1 0h0m1 0h0m1 1h0m0 0h0m1 1h0m0 0h0m0-2h0m0 2h0m1 0h0m0 0h0m0-1h0m0 0h0m1 0h0m0 0h0m0 0h0m0 1h0m0 0h0m1-2h0m1 0h0m0 2h0m0 0h0m0 0h0m0-2h0m0 0h0m1 0h0m1 2h0m0-1h0m0-1h0m0 0h0m1 1h0m0 0h0m0 0h0m0-1h0m1 2h0m1 0h0m2-2h0m0 0h0m0 1h0m0 0h0m1 0h0m0-1h0m2 1h0m0 1h0m0-2h0m0 1h0m0 0h0m1 1h0m0-2h0m0 1h0m1-1h0m0 1h0m0-1h0m1 1h0m0 0h0m0 1h0m1-2h0m0 1h0m1 0h0m1 1h0m0-2h0m1 1h0m0 1h0m0 0h0m0 0h0m1-2h0m0 1h0m0 0h0m1-1h0m0 2h0m2-1h0m1 0h0m1-1h0m0 1h0m0 1h0m1 0h0m9-2h0m1 2h0m2-1h0m2-1h0m1 1h0m0 0h0m7 1h0m-52 3h0m1-1h0m0 1h0m0 0h0m1 0h0m1-1h0m0 0h0m0-1h0m0 0h0m1 2h0m0-2h0m0 1h0m0 0h0m0 1h0m1-2h0m0 0h0m1 2h0m0 0h0m2-1h0m1 0h0m0 1h0m0 0h0m0 0h0m1 0h0m0-1h0m0-1h0m1 1h0m0 1h0m2 0h0m1 0h0m0-2h0m1 2h0m0-2h0m1 2h0m0-1h0m0-1h0m1 2h0m0-1h0m1 1h0m0-1h0m1-1h0m0 1h0m0-1h0m1 1h0m0 0h0m0-1h0m1 2h0m1-2h0m0 0h0m0 0h0m3 1h0m2-1h0m0 1h0m0-1h0m1 2h0m0-1h0m1 1h0m0 0h0m1-1h0m5 0h0m1 0h0m7 0h0m1 1h0m1-2h0m0 0h0m5 1h0m5-1h0m-53 5h0m1-2h0m0 2h0m0-1h0m2-1h0m0 2h0m0 0h0m0 0h0m0-2h0m0 0h0m1 0h0m2 0h0m1 0h0m0 1h0m0 0h0m0-1h0m1 1h0m0-1h0m0 1h0m1-1h0m0 2h0m1-2h0m2 1h0m0-1h0m1 2h0m0 0h0m0-1h0m1 0h0m0 0h0m2 0h0m0-1h0m1 2h0m1 0h0m0-2h0m1 2h0m1 0h0m1-2h0m0 0h0m0 1h0m1-1h0m0 2h0m1 0h0m0 0h0m1-2h0m1 2h0m0-1h0m0 1h0m1 0h0m1-1h0m14 1h0m2-1h0m0 0h0m-44 2h0m1 2h0m0 0h0m1 0h0m1 0h0m0-1h0m1 0h0m0-1h0m1 0h0m0 1h0m2 1h0m0-1h0m0 0h0m1 0h0m0 1h0m1 0h0m0 0h0m1 0h0m1 0h0m0-1h0m1 0h0m0 0h0m1 0h0m0 1h0m0 0h0m1-1h0m0 0h0m0-1h0m1 2h0m0-1h0m0 0h0m0 0h0m0 1h0m0 0h0m1 0h0m1-1h0m2 0h0m1 0h0m0 1h0m1-1h0m0 0h0m0 1h0m1-2h0m0 1h0m1-1h0m0 2h0m1-2h0m0 1h0m0 0h0m1 0h0m0 0h0m0 1h0m1 0h0m0-2h0m0 2h0m1-2h0m8 1h0m0 0h0m2 1h0m4-2h0m1 2h0m0-1h0m0 1h0m1-2h0m0 1h0m1 1h0m0 0h0m0 0h0m0-2h0m1 1h0m0 1h0m1-2h0m0 1h0m0 0h0m2 1h0m1-1h0m0 1h0m0-1h0m1 1h0m1-1h0m0 1h0m1-1h0m0 1h0m0 0h0m0-1h0m0 1h0m0 0h0m1-1h0m1-1h0m1 2h0m0-2h0m0 2h0m0-2h0m1 1h0m1 0h0m1 0h0m0 0h0m0 1h0m0-1h0m1 0h0m1 1h0m2 0h0m0 0h0m-64 2h0m4 0h0m0-1h0m1 2h0m1-1h0m0-1h0m0 1h0m1 0h0m0 1h0m0-2h0m0 2h0m2-1h0m1 0h0m1 1h0m1 0h0m0-2h0m0 0h0m1 1h0m0-1h0m0 0h0m2 0h0m0 1h0m1-1h0m1 1h0m0 0h0m0 1h0m0-1h0m1 1h0m0-1h0m0 1h0m0 0h0m1-1h0m1 1h0m0 0h0m1-2h0m0 2h0m0-1h0m0-1h0m1 1h0m0 0h0m1-1h0m2 2h0m0 0h0m1-1h0m0-1h0m0 2h0m1-2h0m1 0h0m1 0h0m0 1h0m0 1h0m0 0h0m0-2h0m1 0h0m9 1h0m0-1h0m5 0h0m0 0h0m0 1h0m1 0h0m0-1h0m0 0h0m1 1h0m0 1h0m0-1h0m0-1h0m1 2h0m0 0h0m0-1h0m0-1h0m0 0h0m1 2h0m0 0h0m0-2h0m1 2h0m0 0h0m0-1h0m0-1h0m0 2h0m1-2h0m0 0h0m0 1h0m0-1h0m1 1h0m0 1h0m0 0h0m0 0h0m1 0h0m0 0h0m0-2h0m1 2h0m0-2h0m1 0h0m0 1h0m0 0h0m0 0h0m1 0h0m0-1h0m0 1h0m0 1h0m0-2h0m0 2h0m0-2h0m0 0h0m0 0h0m1 2h0m1-1h0m0 1h0m0-1h0m1 0h0m0 0h0m0-1h0m0 1h0m0 0h0m0 0h0m0-1h0m1 2h0m0-2h0m0 0h0m0 1h0m1-1h0m0 1h0m0 1h0m0-1h0m1 1h0m0-2h0m0 0h0m0 1h0m0-1h0m0 0h0m0 1h0m0 0h0m1-1h0m0 1h0m0 0h0m0 0h0m0 0h0m0 1h0m0-1h0m0 0h0m1 0h0m0-1h0m0 0h0m0 1h0m1 0h0m0 0h0m1-1h0m-59 3h0m0 1h0m2 0h0m0 1h0m0-1h0m1-1h0m1 0h0m0 0h0m1 1h0m0 0h0m2-1h0m0 1h0m1 0h0m0 0h0m1-1h0m0 0h0m0 2h0m0-1h0m1-1h0m0 0h0m0 0h0m1 2h0m1-2h0m0 1h0m1 0h0m0 0h0m0 1h0m0 0h0m1-2h0m1 2h0m0-2h0m0 0h0m1 1h0m0-1h0m0 0h0m0 2h0m1-2h0m0 1h0m0-1h0m1 0h0m0 2h0m1 0h0m0-2h0m1 1h0m1 1h0m1-2h0m0 1h0m0 1h0m10-2h0m10 0h0m0 0h0m1 0h0m1 0h0m1 0h0m1 0h0m2 0h0m0 0h0m0 0h0m1 0h0m1 0h0m1 0h0m2 0h0m0 0h0m-49 3h0m1 1h0m1 1h0m1 0h0m0-1h0m0 1h0m1-1h0m0 0h0m2 1h0m1-1h0m1-1h0m0 1h0m0-1h0m2 2h0m0 0h0m0 0h0m0-1h0m1 0h0m0 1h0m0 0h0m1-1h0m1 1h0m0-2h0m0 0h0m1 0h0m0 0h0m0 2h0m0-1h0m0 1h0m1-1h0m0 0h0m1-1h0m0 2h0m1 0h0m0-2h0m1 0h0m0 1h0m0 0h0m12 0h0m5-1h0m1 0h0m2 0h0m-37 3h0m0 1h0m1 1h0m1-2h0m1 0h0m0 1h0m2-1h0m0 1h0m1-1h0m0 1h0m0 1h0m1 0h0m1 0h0m0-1h0m0-1h0m1 0h0m0 2h0m1-2h0m0 2h0m0-2h0m0 1h0m0 1h0m1-2h0m1 2h0m0 0h0m0-2h0m1 1h0m0-1h0m1 2h0m1-2h0m0 1h0m0 0h0m12-1h0m8 1h0m5 0h0m-37 3h0m0-1h0m0 0h0m0 1h0m3-1h0m1 1h0m1 1h0m2 0h0m1-1h0m2 1h0m0-1h0m1 0h0m0 0h0m1 0h0m0 0h0m1-1h0m4 2h0m-22 2h0m1 1h0m0-1h0m1 1h0m2 0h0m3 0h0m1-2h0m0 1h0m2 1h0m0-1h0m1 0h0m0 1h0m0-2h0m1 2h0m1-1h0m1 0h0m1 0h0m1-1h0m1 0h0m17 2h0m-35 1h0m1 1h0m2 1h0m0 0h0m1-1h0m1-1h0m0 1h0m1 1h0m0-1h0m2 1h0m0 0h0m0-1h0m0-1h0m0 0h0m5 0h0m2 0h0m16 1h0m-33 4h0m0 0h0m0 0h0m1-1h0m2 0h0m0-1h0m0 0h0m1 2h0m0-1h0m0 1h0m1-2h0m0 2h0m0-2h0m1 0h0m0 2h0m0-2h0m1 2h0m0-2h0m0 1h0m0 1h0m1 0h0m1 0h0m0-2h0m0 2h0m1-1h0m0-1h0m1 1h0m24 1h0m-38 2h0m0 0h0m1 0h0m0 1h0m1 0h0m1 0h0m0 0h0m0-1h0m0-1h0m1 0h0m0 0h0m0 0h0m1 1h0m0-1h0m2 0h0m0 0h0m1 1h0m14 1h0m18-2h0m-46 5h0m1 0h0m1 0h0m0 0h0m1-2h0m1 0h0m0 2h0m0-2h0m1 1h0m0 0h0m0 0h0m1-1h0m0 1h0m0 0h0m0-1h0m-10 5h0m0 0h0m1-1h0m0 0h0m1 0h0m0 1h0m1-1h0m0-1h0m1 0h0m0 1h0m25 0h0m12 0h0m-45 3h0m1 0h0m1-1h0m0 1h0m1 0h0m0 0h0m0 0h0m1-1h0m0 0h0m0 1h0m0-1h0m0 0h0m0 0h0m1 0h0m29 5h0m2-1h0m4 4h0m4-1h0m4 1h0m0 3h0" stroke="#e4e4e4" stroke-width="1.84" stroke-linecap="round" fill="none"/>
<path transform="scale(0.5)" d="M792 280h0m2 1h0m48 0h0m-40 3h0m2 0h0m32 0h0m6 0h0m1 0h0m0-2h0m-43 3h0m8 1h0m19 1h0m1-2h0m4 2h0m3-2h0m-30 4h0m5-1h0m1 0h0m3 2h0m4-1h0m2 0h0m6 1h0m2-2h0m4 0h0m1 2h0m11-1h0m8 1h0m-38 2h0m4 0h0m4 1h0m2-2h0m10 2h0m3 0h0m1-2h0m4 0h0m4 2h0m8-2h0m-38 4h0m5-1h0m7 2h0m4 0h0m1-1h0m1 0h0m3-1h0m8 0h0m-21 3h0m1 0h0m2 2h0m1-1h0m0-1h0m3 2h0m0 0h0m7-1h0m2 0h0m3 0h0m7 0h0m0 1h0m1-1h0m-37 2h0m3 0h0m2 2h0m2-1h0m4 0h0m0-1h0m2 1h0m3 1h0m1-2h0m24 2h0m-44 2h0m2-1h0m1 1h0m14 0h0m1-1h0m8 1h0m14 0h0m-38 3h0m6 0h0m2-1h0m3 1h0m4 0h0m1-1h0m10 2h0m0-2h0m3 1h0m7 1h0m1-2h0m0 0h0m2 1h0m-33 2h0m2 1h0m1 1h0m7 0h0m4-2h0m7 0h0m11 1h0m-38 3h0m3-1h0m3 0h0m3 2h0m0-1h0m4 1h0m11-2h0m3 0h0m2 1h0m16 1h0m-43 2h0m7-1h0m8 2h0m3-1h0m3 1h0m7 0h0m-29 3h0m8-1h0m3-1h0m12 0h0m0 0h0m20 0h0m-35 3h0m4 1h0m4-1h0m2 2h0m2 0h0m19-1h0m-34 3h0m8 1h0m12 0h0m2 0h0m1-1h0m18 0h0m5 0h0m3-1h0m4 2h0m-47 1h0m3 2h0m1-1h0m29 1h0m1-1h0m7-1h0m3 1h0m1 1h0m0-2h0m2 0h0m-43 5h0m5 0h0m-9 1h0m5 0h0m1 2h0m6-2h0m4 0h0m-14 3h0m2 1h0m9 1h0m2-1h0m-27 4h0m18-2h0m5 2h0m1 0h0m0 0h0m1 0h0m4-2h0m4 1h0m1 1h0m6 0h0m-21 1h0m5 0h0m2 2h0m0-1h0m0-1h0m4 0h0m1 2h0m1-1h0m1-1h0m4 0h0m0 0h0m5 2h0m0-1h0m-29 4h0m8-2h0m3 1h0m0-1h0m5 2h0m6 0h0m3-1h0m1-1h0m4 0h0m-35 4h0m1 1h0m2 0h0m0-2h0m11 0h0m2 2h0m3 0h0m1 0h0m11-1h0m2-1h0m0 1h0m2 0h0m-40 3h0m1 0h0m2 1h0m2-1h0m4 0h0m9 0h0m1 1h0m9-1h0m2 0h0m3 1h0m7 0h0m1-1h0m-45 3h0m2 1h0m3-2h0m21 2h0m15 0h0m4-2h0m8 1h0m-56 2h0m2 0h0m26 1h0m1 1h0m4 0h0m3-2h0m7 2h0m7-1h0m6 1h0m6 0h0m-67 1h0m35 1h0m1 1h0m1-2h0m1 2h0m0-2h0m4 0h0m2 0h0m2 1h0m-13 2h0m5 2h0m4 0h0m4-2h0m24 2h0m0 0h0m-36 1h0m2 2h0m0 0h0m3-1h0m2 0h0m2-1h0m1 1h0m-2 3h0m1 0h0m11 1h0m5-1h0m2 2h0" stroke="#f6cbbd" stroke-width="1.84" stroke-linecap="round" fill="none"/>
<path transform="scale(0.5)" d="M826 285h0m-12 3h0m18 0h0m-21 3h0m14 2h0m26 8h0m-35 5h0m-4 3h0m10 3h0m0 4h0m10 1h0m9 3h0m-12 1h0m33 4h0m1 1h0m-36 2h0m8 1h0m2 3h0m-7 6h0m8 3h0m0 0h0m2 0h0m2-1h0m3-1h0m1 0h0m1 2h0m0-1h0m1 0h0m1 0h0m8 0h0m-30 2h0m6 1h0m2 0h0m6 0h0m3-1h0m1 0h0m0 2h0m2-2h0m0 1h0m1 0h0m0 0h0m6 1h0m0-2h0m0 2h0m1-1h0m1 0h0m-23 4h0m1-2h0m1 1h0m0 1h0m3 0h0m3 0h0m0 0h0m1-2h0m1 2h0m1-1h0m1 1h0m4-1h0m1 1h0m2-1h0m0-1h0m1 2h0m2-1h0m0 1h0m0 0h0m2-2h0m0 0h0m2 0h0m-35 5h0m10 0h0m2-1h0m1 1h0m3-1h0m1 1h0m1-2h0m0 1h0m1 1h0m8-1h0m5 1h0m0-1h0m0 0h0m6 1h0m-31 2h0m3 0h0m0 0h0m0 0h0m1 0h0m1 0h0m4 1h0m1-1h0m4-1h0m4 1h0m1 0h0m0 1h0m3-1h0m0 0h0m1-1h0m0 0h0m2 1h0m1-1h0m2 2h0m3-1h0m1 0h0m3-1h0m1 0h0m-34 4h0m0 1h0m2 0h0m0-2h0m0 1h0m1 1h0m2-2h0m1 1h0m1 1h0m8-1h0m0-1h0m2 0h0m1 1h0m1-1h0m3 1h0m0 0h0m0 1h0m1-2h0m2 1h0m1 1h0m2-1h0m4-1h0m3 1h0m1 1h0m0 0h0m1 0h0m2 0h0m-63 2h0m24 1h0m1 0h0m1 0h0m1-1h0m3 0h0m1 0h0m0 1h0m3-2h0m0 0h0m4 0h0m2 1h0m1-1h0m0 1h0m2-1h0m7 0h0m6 0h0m3 1h0m3-1h0m2 0h0m1 2h0m-68 2h0m27-1h0m2 2h0m0 0h0m3 0h0m1-2h0m2 2h0m1-1h0m2 1h0m0-2h0m1 2h0m3 0h0m1 0h0m3-1h0m1 0h0m4 0h0m2 0h0m2-1h0m1 1h0m1-1h0m1 1h0m0 0h0m1 0h0m2 1h0m4-2h0m2 2h0m-43 3h0m5-2h0m1 1h0m0 1h0m0-2h0m0 0h0m5 0h0m2 0h0m0 2h0m2 0h0m1-2h0m0 2h0m1 0h0m1 0h0m1-2h0m0 1h0m2 0h0m0 1h0m1-2h0m0 2h0m2 0h0m5 0h0m2-1h0m3-1h0m3 0h0m4 1h0m0 1h0m2 0h0m1 0h0m0 0h0m1-2h0m-38 4h0m3 0h0m1 0h0m1 1h0m1-1h0m0 1h0m2-2h0m0 0h0m0 0h0m2 2h0m0 0h0m0-2h0m1 2h0m6-1h0m1-1h0m4 0h0m1 2h0m1-1h0m3 0h0m3 1h0m1-1h0m5-1h0m1 2h0m1-2h0m-33 3h0m3 1h0m2 0h0m1 1h0m3 0h0m1-1h0m1-1h0m1 2h0m0-1h0m1-1h0m2 0h0m3 0h0m3 0h0m-14 3h0m5 0h0m1 1h0m0 0h0m0 0h0m6-1h0m0 0h0m1 1h0" stroke="#f19a84" stroke-width="1.84" stroke-linecap="round" fill="none"/>
<path transform="scale(0.5)" d="M838 340h0m0 1h0m2-2h0m1 0h0m2 0h0m0 0h0m1 2h0m2-1h0m4 0h0m0 0h0m-16 4h0m4-2h0m1 1h0m10 1h0m1-1h0m3-1h0m0 2h0m1 0h0m0-2h0m0 1h0m1-1h0m0 1h0m4 1h0m-28 2h0m3-1h0m1 0h0m1 1h0m1 1h0m1-2h0m1 2h0m2 0h0m0-2h0m0 2h0m1-2h0m2 1h0m1 0h0m1 1h0m2 0h0m3-1h0m0 1h0m1-2h0m0 0h0m1 0h0m1 2h0m1-1h0m1 0h0m1 1h0m1-2h0m1 0h0m4 1h0m12-1h0m-40 5h0m1-1h0m2-1h0m1 1h0m1 0h0m1-1h0m0 2h0m3-1h0m1-1h0m2 2h0m0 0h0m4-1h0m2 0h0m0-1h0m3 1h0m2-1h0m3 1h0m3 0h0m0-1h0m3 2h0m-32 2h0m0 1h0m2 0h0m3-2h0m1 2h0m0 0h0m2 0h0m2-2h0m2 2h0m4-1h0m0-1h0m1 2h0m5 0h0m3-2h0m0 0h0m1 0h0m1 2h0m1-2h0m0 1h0m0-1h0m2 0h0m0 0h0m2 2h0m1-2h0m-35 3h0m1 1h0m3-1h0m2 0h0m0 2h0m2-1h0m1-1h0m2 0h0m0 2h0m0-2h0m1 2h0m2-1h0m1 0h0m2-1h0m0 0h0m5 2h0m1 0h0m1-2h0m1 2h0m0-1h0m0 0h0m2-1h0m2 0h0m2 2h0m0-1h0m3 0h0m3 0h0m1 0h0m-35 2h0m2 1h0m1 0h0m1 1h0m0 0h0m1-1h0m1-1h0m1 1h0m0 0h0m2 1h0m0-1h0m0-1h0m0 0h0m2 0h0m0 1h0m4-1h0m2 2h0m1-1h0m2 1h0m1-2h0m0 1h0m1 1h0m3 0h0m0-2h0m2 1h0m2 1h0m0-2h0m4 2h0m1 0h0m1-2h0m0 0h0m1 0h0m0 1h0m0 1h0m-37 1h0m2 1h0m1-1h0m5 0h0m6 0h0m2 0h0m1 1h0m0-1h0m0 1h0m1-1h0m0 0h0m0 0h0m1 1h0m1 0h0m1 0h0m0-1h0m1 1h0m3 1h0m1 0h0m1-1h0m0 1h0m3 0h0m2-2h0m0 2h0m1-2h0m0 1h0m1 1h0m5-2h0m-38 3h0m0 2h0m2 0h0m0-2h0m1 2h0m1-1h0m0 0h0m0 0h0m1 1h0m0-2h0m7 0h0m0 1h0m0 1h0m4-2h0m0 2h0m1 0h0m0-1h0m1-1h0m2 2h0m1-2h0m0 2h0m1-2h0m0 1h0m0 0h0m1-1h0m1 2h0m3 0h0m3-1h0m2 1h0m0 0h0m0-2h0m2 2h0m1-2h0m0 0h0m0 0h0m1 2h0m0-2h0m1 1h0m1 0h0m-43 4h0m7-1h0m0 0h0m1-1h0m2 2h0m0-2h0m3 2h0m0-1h0m0 1h0m1-2h0m1 2h0m0-2h0m1 1h0m1 1h0m0-2h0m2 2h0m2-1h0m1-1h0m1 1h0m0 1h0m1 0h0m1-1h0m1 0h0m0 0h0m3-1h0m1 1h0m0 0h0m1-1h0m0 2h0m5 0h0m0-2h0m2 2h0m-27 1h0m0 0h0m1 2h0m1 0h0m1-1h0m0 0h0m1 1h0m1-2h0m1 2h0m0 0h0m0-1h0m0-1h0m5 1h0m3 1h0m2 0h0m3-2h0m3 1h0m0-1h0m1 1h0m1 1h0m1 0h0m2-1h0m1 1h0m3-2h0m2 1h0m-28 2h0m3 1h0m1-1h0m1 1h0m1-1h0m1 0h0m3 2h0m2 0h0m2-1h0m0-1h0m11 4h0" stroke="#e4604a" stroke-width="1.84" stroke-linecap="round" fill="none"/>
<path transform="scale(0.5)" d="M850 340h0m3 0h0m-18 4h0m2 0h0m8-1h0m0-1h0m8 1h0m0-1h0m1 1h0m3 1h0m2 0h0m-26 3h0m5-2h0m4 1h0m2-1h0m8 2h0m5 0h0m0-1h0m3 0h0m0 1h0m3 0h0m1 0h0m8-1h0m-35 3h0m5 0h0m4-1h0m1 2h0m11-2h0m1 2h0m2-1h0m0 0h0m1-1h0m2 1h0m1 0h0m1 1h0m0-1h0m0 0h0m2 1h0m-34 2h0m2 0h0m4-1h0m1 1h0m2-1h0m8 0h0m3 2h0m3-1h0m0-1h0m3 0h0m2 0h0m1 1h0m3-1h0m1 2h0m-32 1h0m3 2h0m2 0h0m3-1h0m7 1h0m4-1h0m2 0h0m0-1h0m1 2h0m2 0h0m1-1h0m1 0h0m0 0h0m2 0h0m2-1h0m2 0h0m0 1h0m1-1h0m1 1h0m1 1h0m0 0h0m1-1h0m0 0h0m-37 4h0m13-2h0m4 0h0m1 0h0m1 1h0m2 0h0m1 1h0m1-1h0m3 1h0m1-2h0m0 1h0m2 1h0m4-1h0m0 1h0m0-1h0m3-1h0m0 1h0m0 1h0m1-1h0m1 0h0m1-1h0m1 2h0m-38 2h0m0-1h0m7 0h0m11 1h0m1-1h0m0 2h0m0-1h0m0 1h0m1 0h0m5-2h0m0 0h0m5 1h0m1-1h0m0 1h0m4 1h0m2 0h0m1-1h0m-26 4h0m4-1h0m1-1h0m1 0h0m4 2h0m1 0h0m1-2h0m0 1h0m1 0h0m0-1h0m1 2h0m2-1h0m1-1h0m1 0h0m3 2h0m4-1h0m-31 4h0m3-2h0m0 1h0m0 0h0m1 0h0m5 1h0m0-1h0m3 0h0m1 0h0m3 0h0m5 0h0m4-1h0m1 2h0m2-2h0m2 2h0m0 0h0m0-2h0m-28 4h0m1 0h0m1-1h0m0 0h0m0 0h0m2 0h0m2 1h0m4 0h0m3 0h0m1-1h0m7 0h0m2 0h0m2 0h0m1 0h0m-21 3h0m6 1h0m1 1h0m0-2h0m0 2h0m1-1h0m4-1h0m1 0h0m1 1h0m6-1h0m4 1h0m-16 2h0" stroke="#cf3326" stroke-width="1.84" stroke-linecap="round" fill="none"/>
<path transform="scale(0.5)" d="M850 343h0m1-1h0m3 2h0m4 1h0m1 5h0m3-2h0m-19 5h0m15 0h0m12 0h0m-28 3h0m13-2h0m2 1h0m-2 4h0m6 0h0m-16 1h0m10 0h0m-7 4h0m12-1h0m-18 5h0m13-2h0m1 1h0m8 0h0m7-1h0m-14 4h0m-5 2h0" stroke="#ac1a1b" stroke-width="1.84" stroke-linecap="round" fill="none"/>
<text x="417.3" y="135.9" font-size="7.4" text-anchor="middle" font-style="italic" stroke="#231f20" stroke-width="0.08">TPSB2</text>
<path transform="scale(0.5)" d="M945 278h0m-51 2h0m1 0h0m2 1h0m37-2h0m6 2h0m1 0h0m1 0h0m2 0h0m0 0h0m0 0h0m1 0h0m0 0h0m6-2h0m-54 3h0m3 1h0m0 1h0m1 0h0m0-1h0m0 1h0m0 0h0m0-1h0m1 0h0m0 0h0m1 1h0m1 0h0m0 0h0m1 0h0m0 0h0m1 0h0m0 0h0m17 0h0m3 0h0m2 0h0m0 0h0m6-1h0m1 0h0m0 1h0m0-1h0m1-1h0m0 0h0m0 2h0m0-1h0m1-1h0m0 2h0m0-1h0m0 1h0m0 0h0m1-2h0m0 1h0m0 0h0m1-1h0m0 2h0m0-2h0m1 2h0m0-2h0m0 0h0m1 0h0m0 2h0m0-1h0m1 1h0m0-1h0m1 0h0m1-1h0m0 0h0m1 1h0m0 0h0m1 1h0m0-2h0m1 1h0m0 0h0m0 1h0m1-2h0m0 2h0m0 0h0m1-1h0m0 0h0m0-1h0m1 2h0m0-2h0m0 2h0m0-1h0m0-1h0m1 2h0m0 0h0m0-1h0m0 1h0m1 0h0m1-1h0m0 1h0m-52 1h0m3 0h0m0 0h0m0 0h0m0 0h0m0 1h0m1 0h0m0 0h0m0 1h0m0 0h0m0-2h0m0 0h0m1 0h0m0 0h0m0 0h0m0 0h0m0 1h0m0 0h0m0 1h0m1 0h0m1 0h0m0-2h0m0 0h0m1 0h0m0 0h0m0 2h0m0 0h0m0-2h0m1 2h0m0 0h0m2-1h0m1 0h0m0 0h0m1 0h0m1 1h0m0-1h0m0 1h0m1-2h0m1 2h0m1 0h0m5 0h0m3 0h0m1-2h0m0 1h0m0-1h0m1 1h0m0-1h0m0 0h0m0 1h0m1 0h0m1 1h0m0 0h0m1-2h0m0 2h0m1-2h0m0 0h0m0 0h0m1 1h0m0-1h0m0 0h0m0 2h0m1-2h0m0 1h0m0-1h0m0 0h0m1 2h0m0-1h0m0-1h0m1 2h0m0-2h0m0 1h0m1 1h0m0 0h0m1-2h0m0 1h0m1 1h0m1-1h0m0 1h0m0 0h0m1 0h0m0-1h0m1 1h0m0 0h0m1 0h0m0-1h0m0 0h0m2 0h0m1-1h0m0 1h0m1-1h0m0 1h0m0 0h0m1-1h0m0 2h0m0-2h0m2 1h0m0 1h0m1-1h0m0-1h0m1 1h0m0-1h0m1 0h0m0 2h0m1 0h0m0-1h0m1 1h0m-50 1h0m1 0h0m0 0h0m0 0h0m2 0h0m0 1h0m0 0h0m1 1h0m0-1h0m0 0h0m0-1h0m1 0h0m0 0h0m2 1h0m1-1h0m0 0h0m0 0h0m1 2h0m0 0h0m1-2h0m0 2h0m0-1h0m0 1h0m1-2h0m0 0h0m0 2h0m1-1h0m0 1h0m0-2h0m1 0h0m0 0h0m1 2h0m1 0h0m1-1h0m1 1h0m0 0h0m1-1h0m2 1h0m0-1h0m0 0h0m0 0h0m1 1h0m0-2h0m1 2h0m0 0h0m0 0h0m1 0h0m0-1h0m0 1h0m1-2h0m0 0h0m0 0h0m0 2h0m0 0h0m1-1h0m1 1h0m0-1h0m0 1h0m1-2h0m0 1h0m0-1h0m1 1h0m0-1h0m0 1h0m1-1h0m0 0h0m1 2h0m0-2h0m0 1h0m0-1h0m1 0h0m0 2h0m0-1h0m0-1h0m0 2h0m0-1h0m0 0h0m0 0h0m0-1h0m0 0h0m1 2h0m1-1h0m0 0h0m0-1h0m0 2h0m1-2h0m0 0h0m2 2h0m0-1h0m0 1h0m1 0h0m0-1h0m1 0h0m1 1h0m0 0h0m0-1h0m1 1h0m0-1h0m1-1h0m0 2h0m0-1h0m0 0h0m1 0h0m1 1h0m0 0h0m0-1h0m1 0h0m0-1h0m1 1h0m0-1h0m0 0h0m1 1h0m0 0h0m1 0h0m1 1h0m0-2h0m0 2h0m0 0h0m0-1h0m1-1h0m0 1h0m1 1h0m-46 1h0m2 0h0m0 0h0m2 0h0m0 0h0m0 0h0m1 1h0m0-1h0m1 2h0m0-1h0m1 1h0m0 0h0m1-1h0m0-1h0m0 1h0m0 0h0m0 0h0m1 0h0m0 1h0m1-1h0m1-1h0m0 1h0m0 1h0m1-1h0m0-1h0m0 0h0m0 1h0m2 1h0m0 0h0m0-1h0m0-1h0m0 0h0m1 2h0m0-2h0m0 2h0m0-1h0m1 0h0m0 1h0m0-2h0m0 1h0m0 1h0m1-2h0m1 0h0m0 0h0m0 1h0m0 0h0m0 0h0m0-1h0m0 1h0m1 1h0m0-1h0m0-1h0m0 2h0m1-1h0m0-1h0m1 0h0m0 1h0m0 1h0m0 0h0m1-2h0m0 2h0m0-1h0m1 1h0m0 0h0m2 0h0m0-1h0m0-1h0m0 2h0m0-2h0m0 1h0m1-1h0m0 1h0m0-1h0m0 1h0m0 0h0m0 1h0m0-1h0m1-1h0m0 0h0m1 0h0m0 2h0m0-2h0m0 2h0m0 0h0m2-1h0m0 1h0m0-2h0m1 0h0m0 0h0m0 0h0m1 2h0m0 0h0m0-2h0m1 0h0m0 0h0m1 1h0m0 0h0m1-1h0m0 2h0m1-2h0m0 0h0m1 2h0m0-2h0m0 1h0m1 0h0m1 0h0m0 1h0m0-2h0m0 2h0m1-2h0m1 2h0m1-1h0m0-1h0m0 2h0m0 0h0m0 0h0m1-1h0m0 1h0m1-1h0m1 0h0m0 0h0m1 1h0m1-1h0m0-1h0m0 1h0m1-1h0m0 0h0m-49 3h0m9 1h0m1 1h0m0-2h0m3 2h0m0 0h0m1 0h0m0-1h0m0 0h0m1 1h0m0-2h0m1 0h0m0 1h0m1 0h0m0 1h0m0-2h0m0 0h0m0 2h0m0-2h0m1 0h0m0 1h0m0 1h0m0-1h0m0 1h0m0-2h0m0 0h0m1 2h0m0-2h0m0 1h0m0 0h0m0 0h0m0 1h0m0-1h0m0 0h0m0-1h0m0 2h0m1 0h0m1 0h0m0 0h0m1-1h0m0 0h0m0-1h0m1 1h0m0 0h0m0 0h0m0 1h0m0 0h0m0 0h0m0-2h0m1 0h0m0 0h0m0 1h0m0 1h0m1-2h0m0 2h0m1-2h0m0 0h0m0 2h0m0-1h0m0 1h0m0 0h0m0-1h0m0 0h0m0-1h0m1 2h0m0-2h0m0 2h0m0-2h0m0 1h0m0 1h0m0-2h0m0 2h0m0 0h0m0 0h0m0 0h0m1 0h0m0-1h0m0 0h0m0-1h0m0 1h0m0 0h0m0 0h0m0 1h0m1 0h0m0-2h0m0 0h0m2 2h0m1 0h0m0 0h0m0-1h0m1 0h0m0 1h0m0 0h0m0 0h0m1 0h0m1-1h0m0 0h0m1 1h0m0 0h0m1-2h0m0 0h0m0 1h0m0 0h0m1 0h0m0 1h0m0-2h0m1 1h0m0-1h0m2 1h0m0 0h0m0 1h0m0-2h0m0 2h0m1 0h0m0-1h0m2 1h0m0 0h0m2-2h0m0 0h0m0 2h0m1-2h0m1 1h0m0 1h0m1 0h0m-39 1h0m1 2h0m0 0h0m0-1h0m1-1h0m2 1h0m0 1h0m0-2h0m0 1h0m0 1h0m2-1h0m0 1h0m1-2h0m1 1h0m0-1h0m0 1h0m1 1h0m0-1h0m0 0h0m0 1h0m0-2h0m0 0h0m0 0h0m1 0h0m0 1h0m1 1h0m0-2h0m1 2h0m0-1h0m0 0h0m0 1h0m0 0h0m0-2h0m0 1h0m0 1h0m0 0h0m0-2h0m0 2h0m1-2h0m0 1h0m0-1h0m0 1h0m0-1h0m0 0h0m0 1h0m1 1h0m0 0h0m0-2h0m0 0h0m1 1h0m0 0h0m1 0h0m0 0h0m0 1h0m0 0h0m0-1h0m0 1h0m1-2h0m0 1h0m0 0h0m0 1h0m1-1h0m0 0h0m0 0h0m1-1h0m0 2h0m0-2h0m0 2h0m0-1h0m0 1h0m0-1h0m0 0h0m1 0h0m1-1h0m0 0h0m0 1h0m0 1h0m2-2h0m0 0h0m0 1h0m0-1h0m2 0h0m0 2h0m0-2h0m0 2h0m1-2h0m0 2h0m0-2h0m0 1h0m1 1h0m0-1h0m1 1h0m0 0h0m1 0h0m0 0h0m0 0h0m1-2h0m0 0h0m0 0h0m0 0h0m0 0h0m1 0h0m0 0h0m2 0h0m1 1h0m0-1h0m0 2h0m1-2h0m0 1h0m1 0h0m0 0h0m1 0h0m0 0h0m2 0h0m0-1h0m0 0h0m0 2h0m1-1h0m-51 3h0m6 0h0m2 0h0m1 1h0m1 0h0m0-1h0m1 1h0m0-1h0m1 1h0m0-1h0m0 1h0m1-2h0m0 2h0m0-1h0m1 1h0m0-1h0m1 1h0m0 0h0m1-2h0m1 2h0m0-2h0m2 1h0m1 1h0m0-1h0m0-1h0m1 2h0m0-2h0m0 2h0m0-1h0m1 0h0m0 1h0m0-2h0m1 0h0m0 1h0m0 0h0m2 1h0m0-1h0m1 0h0m0 1h0m0-1h0m0-1h0m0 2h0m1-1h0m0 1h0m0-2h0m0 0h0m0 0h0m0 2h0m1 0h0m0-1h0m0 0h0m0 1h0m0-2h0m1 0h0m1 1h0m0 1h0m0-1h0m0 1h0m0-1h0m0 0h0m0 1h0m1 0h0m0-1h0m1 1h0m0-2h0m0 2h0m1-1h0m0-1h0m0 2h0m0-2h0m0 1h0m1 1h0m0-1h0m2 1h0m0 0h0m0-1h0m1 0h0m2 0h0m0-1h0m2 2h0m0-1h0m0-1h0m0 2h0m0 0h0m1-2h0m0 0h0m0 0h0m1 0h0m0 0h0m0 1h0m0-1h0m0 0h0m1 1h0m0 1h0m0 0h0m0 0h0m1-1h0m1-1h0m0 0h0m0 2h0m0 0h0m1 0h0m0 0h0m0-1h0m0 0h0m1 0h0m0-1h0m0 0h0m2 2h0m0-1h0m0 0h0m-47 4h0m3-2h0m1 2h0m0-1h0m0 1h0m0-1h0m1 0h0m0 1h0m1-2h0m0 1h0m1 0h0m0-1h0m1 0h0m0 0h0m1 1h0m0-1h0m0 0h0m1 2h0m0-2h0m0 0h0m1 0h0m1 0h0m2 0h0m1 0h0m0 0h0m2 1h0m1 1h0m0-2h0m0 1h0m1 0h0m0 0h0m0 0h0m1 1h0m0 0h0m0-1h0m1 0h0m0 0h0m0-1h0m1 0h0m0 1h0m1 0h0m0 1h0m0 0h0m1-2h0m0 2h0m0-2h0m0 2h0m1 0h0m0-2h0m0 2h0m0 0h0m0-2h0m1 1h0m0 1h0m0-1h0m0 0h0m0 0h0m0-1h0m0 0h0m1 0h0m1 0h0m0 0h0m0 2h0m1-1h0m1 0h0m0 0h0m1 0h0m2 1h0m1-1h0m0-1h0m1 2h0m0-2h0m1 1h0m0 0h0m0-1h0m0 0h0m1 1h0m0 1h0m1-1h0m0-1h0m0 0h0m0 1h0m0-1h0m1 0h0m0 1h0m0-1h0m1 1h0m1 1h0m0-2h0m1 1h0m1-1h0m1 2h0m0-1h0m0-1h0m0 0h0m2 1h0m0-1h0m1 1h0m0-1h0m-47 5h0m2 0h0m0 0h0m1-2h0m0 1h0m1 0h0m0 1h0m0-1h0m0-1h0m1 0h0m0 1h0m0 1h0m1 0h0m0-1h0m1 1h0m0-2h0m0 2h0m2-2h0m1 0h0m1 1h0m1 0h0m1 0h0m0 1h0m1-2h0m1 1h0m0 0h0m1 1h0m0-1h0m0-1h0m0 2h0m1-2h0m1 1h0m1-1h0m0 1h0m1-1h0m1 2h0m0-1h0m1 1h0m0-1h0m0-1h0m0 1h0m0-1h0m1 2h0m0 0h0m0 0h0m0 0h0m0 0h0m1-2h0m0 1h0m0 0h0m0 1h0m1 0h0m0 0h0m0 0h0m0-2h0m0 0h0m1 1h0m0 0h0m0 0h0m0-1h0m1 1h0m1-1h0m0 0h0m0 0h0m0 2h0m1-1h0m0-1h0m0 2h0m1-1h0m0 0h0m1 1h0m0-2h0m0 0h0m1 2h0m0-2h0m0 2h0m2 0h0m0-1h0m1-1h0m0 0h0m1 0h0m0 0h0m0 0h0m1 1h0m0-1h0m0 0h0m1 1h0m0-1h0m0 0h0m1 1h0m0 1h0m1-2h0m1 0h0m1 2h0m0-2h0m0 2h0m1-2h0m0 1h0m0-1h0m1 1h0m0 0h0m0 0h0m1 0h0m0-1h0m0 1h0m0-1h0m1 0h0m0 1h0m0-1h0m-42 3h0m0 1h0m1 1h0m0-1h0m0 1h0m0-1h0m0 0h0m1 0h0m0 1h0m1-2h0m1 1h0m0-1h0m1 2h0m1 0h0m1 0h0m1-2h0m0 1h0m0-1h0m1 1h0m0-1h0m2 2h0m1-1h0m0-1h0m0 2h0m0-2h0m1 2h0m0-2h0m0 2h0m2-1h0m1 0h0m1 0h0m1 1h0m0 0h0m0 0h0m0 0h0m1-2h0m0 0h0m0 1h0m0-1h0m1 0h0m0 2h0m1-1h0m0-1h0m1 0h0m0 2h0m1-2h0m0 2h0m1-1h0m1-1h0m0 0h0m0 2h0m0 0h0m3-1h0m0 0h0m0 0h0m0 1h0m1-2h0m0 2h0m0-1h0m0-1h0m0 0h0m1 2h0m0 0h0m1-2h0m0 0h0m0 1h0m0 1h0m1 0h0m0-2h0m0 0h0m1 2h0m1 0h0m1-2h0m0 2h0m1-1h0m0-1h0m0 1h0m0-1h0m1 2h0m0 0h0m1-2h0m0 0h0m0 1h0m1-1h0m0 1h0m0-1h0m1 1h0m0 0h0m0 0h0m1-1h0m3 2h0m2 0h0m-50 1h0m2 2h0m1-1h0m0 1h0m2-2h0m1 1h0m0 1h0m1-2h0m2 0h0m0 0h0m2 0h0m1 0h0m0 2h0m1-2h0m0 1h0m0 1h0m2 0h0m0-2h0m0 0h0m0 1h0m0 0h0m0 1h0m0-1h0m1 0h0m0 1h0m0-1h0m1-1h0m0 0h0m0 0h0m0 0h0m1 1h0m0 0h0m1 0h0m1 0h0m1-1h0m0 2h0m0-1h0m1 1h0m0 0h0m0-2h0m1 0h0m0 1h0m0 0h0m0 0h0m1 0h0m0 1h0m1-1h0m0-1h0m0 1h0m1-1h0m1 2h0m0 0h0m1-2h0m0 1h0m0 1h0m1-2h0m0 2h0m0-1h0m1 0h0m0-1h0m0 0h0m0 0h0m1 2h0m0-1h0m0 1h0m0 0h0m0-2h0m1 0h0m0 2h0m0-2h0m0 1h0m0 1h0m1-1h0m0-1h0m0 2h0m0-2h0m0 1h0m1 1h0m0 0h0m1-2h0m0 1h0m0 1h0m1-1h0m1-1h0m0 0h0m0 1h0m1-1h0m0 1h0m0 1h0m0 0h0m1-1h0m1 0h0m0-1h0m0 1h0m1 0h0m7 0h0m2 0h0m1 1h0m4-1h0m-49 2h0m1 0h0m0 0h0m1 1h0m0 1h0m0 0h0m1 0h0m0-2h0m0 2h0m0-1h0m0 0h0m1 0h0m0 1h0m0 0h0m0-1h0m0 0h0m0 1h0m1-2h0m0 2h0m0-1h0m1-1h0m0 2h0m0 0h0m0-1h0m1 0h0m0 1h0m0-1h0m0 1h0m1 0h0m1-1h0m0 1h0m0-2h0m1 1h0m0 0h0m1-1h0m1 2h0m1-1h0m0 0h0m1-1h0m0 1h0m2-1h0m0 1h0m1-1h0m0 1h0m0 1h0m1-2h0m0 2h0m1-2h0m0 1h0m0 0h0m1 0h0m1 0h0m0-1h0m2 2h0m0 0h0m0 0h0m1-2h0m0 2h0m1-1h0m0 0h0m2-1h0m1 1h0m0-1h0m1 0h0m0 1h0m0 0h0m1 0h0m0 1h0m10 0h0m3-1h0m1 1h0m0-2h0m1 0h0m1 1h0m0 0h0m6 1h0m-51 2h0m0-1h0m0 2h0m1-1h0m0-1h0m0 2h0m0 0h0m1 0h0m0-2h0m1 1h0m0-1h0m1 1h0m0 1h0m1 0h0m0-2h0m1 1h0m0 1h0m1-1h0m1 1h0m0 0h0m0-1h0m1 1h0m0-2h0m2 1h0m2 1h0m1 0h0m0-2h0m1 2h0m0 0h0m0 0h0m0 0h0m0 0h0m0-1h0m1-1h0m0 1h0m0 1h0m1-1h0m1 1h0m0-1h0m1-1h0m0 2h0m0-2h0m1 1h0m0 0h0m1-1h0m0 0h0m1 0h0m2 1h0m0-1h0m1 1h0m1 0h0m0 1h0m0-1h0m1-1h0m1 2h0m0-1h0m0 0h0m0 0h0m0 1h0m1-1h0m5 0h0m1 0h0m1 0h0m6-1h0m1 2h0m2-2h0m5 1h0m5-1h0m-54 5h0m1 0h0m0 0h0m0 0h0m1-1h0m1 1h0m0-2h0m1 2h0m2-2h0m0 0h0m1 0h0m0 2h0m1 0h0m0-1h0m0 0h0m0-1h0m0 2h0m1-1h0m0 1h0m1-2h0m0 2h0m1 0h0m0 0h0m1-1h0m0 1h0m0-1h0m1-1h0m0 2h0m1-2h0m0 0h0m1 2h0m0-1h0m2 1h0m0-1h0m0 1h0m2 0h0m0 0h0m2 0h0m1 0h0m0-2h0m0 0h0m0 1h0m4 0h0m0-1h0m0 2h0m0 0h0m0-1h0m1 1h0m1-1h0m0 0h0m13 1h0m2 0h0m1-1h0m-46 4h0m3 0h0m1-2h0m1 1h0m0 0h0m0 1h0m1-2h0m1 2h0m1-1h0m0-1h0m0 1h0m1 1h0m0-1h0m0 0h0m2 1h0m1-2h0m0 0h0m0 2h0m1 0h0m0-1h0m0 0h0m1-1h0m1 1h0m0 1h0m0 0h0m0 0h0m1-2h0m0 1h0m0 0h0m0 1h0m1-1h0m1 1h0m1 0h0m1-1h0m0-1h0m1 1h0m1 1h0m1-1h0m0 1h0m0 0h0m0-2h0m1 0h0m0 2h0m1-2h0m1 1h0m0 0h0m0 0h0m1 0h0m1 1h0m0-2h0m0 1h0m10 1h0m0 0h0m6-1h0m1 1h0m0-2h0m1 2h0m0-1h0m0-1h0m0 0h0m1 2h0m1-1h0m0-1h0m0 1h0m0 0h0m1 0h0m0 0h0m0 1h0m0-1h0m1 1h0m0-1h0m1 1h0m0-1h0m0 1h0m1-1h0m0 1h0m1-1h0m0 1h0m0-2h0m0 2h0m1-1h0m0 1h0m1-1h0m0-1h0m1 1h0m0-1h0m0 2h0m1-1h0m0-1h0m0 2h0m0-2h0m0 2h0m0-2h0m1 2h0m2-1h0m0 1h0m1-1h0m1 1h0m-58 3h0m1-2h0m0 1h0m1 1h0m0-1h0m1 0h0m1 0h0m2 0h0m0 1h0m0-1h0m1 1h0m0-2h0m0 0h0m0 2h0m2-1h0m0-1h0m1 1h0m1-1h0m0 0h0m0 0h0m0 2h0m1-1h0m0 0h0m1-1h0m0 2h0m0-1h0m2 0h0m0 0h0m1-1h0m0 2h0m0 0h0m0-2h0m1 1h0m0 0h0m1-1h0m0 1h0m1-1h0m1 1h0m1 1h0m1 0h0m0-2h0m0 2h0m1-2h0m1 0h0m0 0h0m0 0h0m1 2h0m0-2h0m9 1h0m1-1h0m4 1h0m1 0h0m0-1h0m0 1h0m0 0h0m1 0h0m0 1h0m0-2h0m0 2h0m1-1h0m0-1h0m0 2h0m0-1h0m0-1h0m1 2h0m0 0h0m0 0h0m1-1h0m0-1h0m1 1h0m0-1h0m0 1h0m0-1h0m0 2h0m1-1h0m0 1h0m1-1h0m0 0h0m0 1h0m1 0h0m0 0h0m0-2h0m0 1h0m1 0h0m0 0h0m0 0h0m0 0h0m0-1h0m0 0h0m0 0h0m0 0h0m1 1h0m0-1h0m0 1h0m0 1h0m0-2h0m1 0h0m0 2h0m0-2h0m1 2h0m0-1h0m0 1h0m0-1h0m0-1h0m1 2h0m0-1h0m0 1h0m0-1h0m1 0h0m0 0h0m0-1h0m0 0h0m0 0h0m0 1h0m1 0h0m0-1h0m1 1h0m0 1h0m0-2h0m0 1h0m1 1h0m0-1h0m0 0h0m0 0h0m0 0h0m0 0h0m1 0h0m0 0h0m0-1h0m0 1h0m0 1h0m1-1h0m0-1h0m0 1h0m1 0h0m0 0h0m-58 2h0m0 1h0m1-1h0m0 2h0m0-2h0m0 0h0m1 1h0m0 1h0m1-2h0m1 0h0m0 1h0m1 0h0m2-1h0m0 1h0m0 1h0m0 0h0m1-1h0m0 0h0m1-1h0m0 2h0m0-1h0m1-1h0m1 2h0m0-1h0m1-1h0m0 1h0m0-1h0m1 2h0m0 0h0m1-1h0m1 1h0m0 0h0m1-2h0m1 1h0m2-1h0m1 1h0m1-1h0m0 1h0m1 0h0m0-1h0m0 1h0m0 1h0m0-1h0m9-1h0m9 2h0m1-1h0m1-1h0m2 0h0m3 0h0m0 0h0m1 0h0m0 0h0m1 0h0m1 0h0m2 0h0m0 0h0m0 0h0m-51 3h0m1 0h0m0 0h0m1 1h0m0 0h0m1 1h0m1-2h0m0 2h0m1 0h0m0 0h0m1 0h0m0-1h0m0-1h0m0 0h0m1 1h0m2 0h0m0 0h0m1-1h0m0 1h0m0 0h0m1-1h0m0 2h0m0 0h0m2-1h0m1 0h0m0-1h0m1 2h0m0-2h0m1 0h0m0 0h0m1 1h0m0 1h0m0 0h0m1 0h0m0 0h0m1-2h0m0 0h0m2 0h0m0 1h0m7 0h0m4 0h0m6-1h0m1 0h0m2 0h0m-37 3h0m0 0h0m0 1h0m1 1h0m1-1h0m1 0h0m1 0h0m0 0h0m0 0h0m1-1h0m0 1h0m1 0h0m0 1h0m1 0h0m0-2h0m1 2h0m0-1h0m1 0h0m0-1h0m1 2h0m0-2h0m0 1h0m0-1h0m0 0h0m2 0h0m0 0h0m0 1h0m1-1h0m0 2h0m3-2h0m18 1h0m6 0h0m-39 2h0m2 1h0m0-1h0m5 2h0m0-2h0m3 2h0m0 0h0m1 0h0m1 0h0m0-1h0m0-1h0m0 1h0m0-1h0m1 0h0m1 0h0m0 1h0m-17 4h0m1 0h0m1-2h0m0 2h0m2-2h0m3 2h0m1-1h0m1 1h0m1-1h0m0 0h0m1-1h0m2 1h0m1 0h0m2-1h0m1 0h0m-18 3h0m0 2h0m3 0h0m1-1h0m1 1h0m0-2h0m0 2h0m1 0h0m0-1h0m1-1h0m0 0h0m6 0h0m0 0h0m-16 5h0m3-1h0m0-1h0m0 0h0m0 0h0m1 1h0m0 1h0m0 0h0m0-1h0m0 0h0m1 1h0m0 0h0m0-1h0m0-1h0m0 2h0m0-2h0m1 1h0m0 0h0m0 0h0m1 1h0m0-2h0m0 1h0m1-1h0m0 2h0m0 0h0m2 0h0m1-1h0m0 0h0m0 0h0m0 1h0m1-2h0m-15 4h0m1 0h0m1 0h0m0 0h0m1-1h0m0 0h0m0 2h0m1-1h0m1-1h0m1 0h0m0 1h0m0 0h0m2-1h0m0 0h0m6 1h0m-18 4h0m1 0h0m1-1h0m0-1h0m0 2h0m0 0h0m1-1h0m0-1h0m1 1h0m0 0h0m0 0h0m1-1h0m0 1h0m0 0h0m0-1h0m-11 5h0m0 0h0m1 0h0m1-1h0m0 0h0m0 0h0m1-1h0m0 0h0m0 1h0m0 1h0m1-1h0m0 0h0m0-1h0m0 1h0m1 0h0m-7 4h0m1-1h0m0 1h0m0-2h0m0 1h0m0 0h0m1 0h0m0-1h0m0 1h0m1-1h0m0 0h0" stroke="#e4e4e4" stroke-width="1.84" stroke-linecap="round" fill="none"/>
<path transform="scale(0.5)" d="M901 283h0m4 1h0m3 0h0m33-1h0m5-1h0m-44 3h0m3 2h0m1-2h0m5 1h0m21 0h0m3-1h0m2 0h0m5 0h0m8 1h0m-42 4h0m2-2h0m14 1h0m0 0h0m1 1h0m2-1h0m4-1h0m1 2h0m2-1h0m1 0h0m6-1h0m4 2h0m1-1h0m1 1h0m5 0h0m-40 1h0m13 0h0m1 0h0m1 0h0m1 2h0m2 0h0m6 0h0m2-1h0m7 1h0m-38 3h0m10 0h0m0-1h0m3-1h0m8 0h0m2 2h0m3 0h0m2-2h0m2 1h0m1-1h0m14 2h0m5 0h0m-40 3h0m8-2h0m2 1h0m0 1h0m1-1h0m2 1h0m1-1h0m1 0h0m4 1h0m1 0h0m6-1h0m-27 2h0m0 2h0m11-2h0m1 0h0m1 2h0m3 0h0m1-2h0m9 0h0m6 0h0m2 2h0m1-2h0m4 0h0m-34 5h0m2-2h0m6 1h0m1-1h0m13 0h0m11 0h0m-36 5h0m3 0h0m5 0h0m2 0h0m2-1h0m1 0h0m1 0h0m14-1h0m2 1h0m-36 2h0m2 0h0m12 2h0m2-1h0m7-1h0m5 0h0m3 1h0m1-1h0m5 0h0m1 1h0m-37 2h0m7 2h0m3-2h0m2 0h0m3 1h0m1 0h0m1 0h0m2 0h0m1 0h0m2 0h0m3 0h0m1-1h0m2 2h0m2-1h0m0 1h0m3 0h0m-31 1h0m6 1h0m3-1h0m0 1h0m1 0h0m0 0h0m1-1h0m3 0h0m2 1h0m1 1h0m4-1h0m3 0h0m4 1h0m3 0h0m-26 2h0m1-1h0m0 1h0m0 0h0m6 0h0m1 0h0m0 1h0m8-1h0m4 0h0m4 1h0m1 0h0m-20 1h0m2 1h0m5-1h0m1 1h0m3-1h0m4 1h0m-21 4h0m2-1h0m1-1h0m9 2h0m1-1h0m0 1h0m1 0h0m6-2h0m3 2h0m1 0h0m1-2h0m17 2h0m8-1h0m3 1h0m1 0h0m-40 2h0m0 0h0m0 1h0m2-1h0m25-1h0m1 2h0m2-2h0m10 0h0m1 1h0m2 0h0m1-1h0m0 2h0m-55 1h0m4 1h0m5 1h0m2-2h0m0 1h0m4 0h0m0-1h0m2 2h0m4-2h0m27 0h0m-38 4h0m4 1h0m0 0h0m0 1h0m6 1h0m-26 4h0m14-1h0m8 0h0m4 0h0m-17 4h0m1-2h0m4 2h0m7-1h0m-12 4h0m13-2h0m-10 3h0m3 2h0m-12 3h0m2 0h0m1-2h0m7 0h0m-19 7h0m0 0h0m4-1h0m-6 3h0m0 0h0m0 1h0" stroke="#f6cbbd" stroke-width="1.84" stroke-linecap="round" fill="none"/>
<path transform="scale(0.5)" d="M907 285h0m9 3h0m1 2h0m10 2h0m-1 2h0m3 4h0m0 5h0m3 1h0m1 0h0m-17 2h0m31 0h0m7 3h0m-32 3h0m6 0h0m1 1h0m5-1h0m-12 3h0m15 1h0m-17 4h0m1-2h0m2 2h0m8-2h0m8 1h0m1-1h0m-7 3h0m9 0h0m-23 5h0m5 0h0m16-2h0m28 1h0m-34 4h0m3 0h0m-2 2h0m-6 3h0m1 6h0m2 1h0m5 0h0m3 0h0m1-1h0m0 0h0m-15 5h0m1 1h0m5 1h0m7-2h0m8 0h0m17 1h0m-36 4h0m25-2h0m-33 4h0m34 0h0m-18 3h0m0 0h0m9-1h0m4 4h0m2-1h0m5 0h0m4 0h0m-51 3h0m52 3h0" stroke="#f19a84" stroke-width="1.84" stroke-linecap="round" fill="none"/>
<path transform="scale(0.5)" d="M952 286h0m-27 30h0m8 2h0m7 23h0m0 0h0m1 0h0m1 0h0m3-1h0m2 1h0m1-2h0m2 2h0m-2 1h0m1 0h0m1 2h0m3-1h0m3 1h0m2-1h0m1 1h0m1 0h0m-21 2h0m2-1h0m6 1h0m1-1h0m8 0h0m3 1h0m1-1h0m-20 4h0m6-1h0m3 2h0m2-2h0m3 1h0m4 0h0m5 0h0m-29 3h0m3 0h0m2 0h0m7 1h0m7-1h0m1-1h0m3 0h0m2 2h0m1-2h0m2 1h0m6-1h0m-32 5h0m1-2h0m1 1h0m1 0h0m1 1h0m7 0h0m3-1h0m0 0h0m3-1h0m2 0h0m4 0h0m0 2h0m0-2h0m4 1h0m1 0h0m-22 3h0m0 0h0m3 0h0m0 0h0m3-1h0m5 1h0m2 1h0m9 0h0m1-2h0m2 2h0m4-1h0m2-1h0m0 0h0m-66 4h0m33 0h0m2 0h0m2 1h0m0-2h0m0 2h0m1-1h0m3 1h0m13-1h0m2-1h0m1 0h0m2 0h0m3 1h0m1-1h0m8 2h0m-45 3h0m5-2h0m10 2h0m1 0h0m0 0h0m8 0h0m7-1h0m2 1h0m6-2h0m3 1h0m-34 3h0m3 0h0m4 0h0m0-1h0m1 2h0m1-1h0m0-1h0m5 2h0m4-1h0m4 1h0m1-1h0m2-1h0m1 1h0m-21 2h0m1 1h0m0 0h0m3-1h0m13 4h0" stroke="#e4604a" stroke-width="1.84" stroke-linecap="round" fill="none"/>
<path transform="scale(0.5)" d="M942 339h0m1 0h0m0 1h0m1-1h0m2 1h0m2 0h0m3 1h0m2-1h0m0 0h0m2 0h0m-19 3h0m2 1h0m2 0h0m1 0h0m1-1h0m4 1h0m1-2h0m0 1h0m1 1h0m2 0h0m3-2h0m2 1h0m0 0h0m1 0h0m1 0h0m1-1h0m0 2h0m1 0h0m1-1h0m-26 3h0m1 0h0m1-1h0m1 2h0m0-2h0m0 2h0m2-1h0m0-1h0m4 1h0m0-1h0m1 2h0m0-1h0m3 1h0m1-1h0m2-1h0m2 2h0m1 0h0m1-2h0m0 2h0m0 0h0m1-2h0m2 1h0m0 0h0m0-1h0m1 2h0m0 0h0m1-2h0m2 0h0m1 1h0m1 1h0m4 0h0m-30 1h0m2 2h0m1 0h0m5-2h0m0 1h0m0 0h0m2 0h0m1-1h0m4 1h0m2 1h0m0-1h0m1 0h0m0-1h0m1 1h0m1 1h0m0-1h0m2 1h0m0-2h0m0 1h0m5 1h0m0-1h0m2 0h0m2 0h0m-32 3h0m1 1h0m0-1h0m1 0h0m1 1h0m0 0h0m2-2h0m1 2h0m1-1h0m0-1h0m1 1h0m1 1h0m1 0h0m2 0h0m1-1h0m2-1h0m4 2h0m0-1h0m0 1h0m2-2h0m0 2h0m1-2h0m1 1h0m1 0h0m2 1h0m1-2h0m0 2h0m1-1h0m1 1h0m1-2h0m4 0h0m0 2h0m1-2h0m-34 4h0m1-1h0m1 1h0m1-1h0m2 0h0m1 2h0m1 0h0m2-1h0m7 0h0m0 0h0m2-1h0m2 1h0m0 1h0m1 0h0m0-1h0m0 1h0m1-1h0m1 1h0m2 0h0m1-2h0m3 2h0m1 0h0m0-2h0m2 0h0m1 0h0m3 1h0m-36 4h0m1-2h0m1 0h0m1 2h0m3 0h0m4 0h0m2-1h0m1 1h0m1-2h0m1 2h0m1-2h0m0 0h0m0 1h0m2-1h0m1 1h0m0 0h0m1 1h0m2 0h0m2-1h0m0 0h0m1-1h0m2 0h0m0 2h0m0-2h0m0 1h0m3-1h0m4 2h0m0 0h0m3-1h0m0 1h0m1-2h0m-36 4h0m0-1h0m3 0h0m1 2h0m1 0h0m0-2h0m2 1h0m3 0h0m0-1h0m1 1h0m1 1h0m1 0h0m0 0h0m1-1h0m1-1h0m0 1h0m1-1h0m0 0h0m2 0h0m0 2h0m1 0h0m0 0h0m1-1h0m5-1h0m2 1h0m0 0h0m3 0h0m1 1h0m3-2h0m1 1h0m0 0h0m1 1h0m1-2h0m1 1h0m-38 2h0m1 2h0m2 0h0m1-1h0m1 0h0m2 1h0m3-2h0m1 2h0m0 0h0m1 0h0m1 0h0m3-1h0m2-1h0m1 2h0m2 0h0m2-1h0m0 0h0m0-1h0m0 2h0m1-2h0m3 1h0m5 1h0m2-2h0m0 2h0m1-2h0m1 0h0m2 2h0m0 0h0m-34 3h0m1 0h0m1 0h0m0 0h0m0 0h0m1-1h0m0 1h0m0-1h0m1 1h0m0-1h0m1 0h0m0-1h0m2 2h0m1-1h0m1-1h0m1 2h0m0 0h0m2-2h0m2 1h0m3 0h0m1 0h0m1-1h0m1 2h0m0-1h0m2 0h0m2 0h0m3-1h0m1 2h0m1 0h0m0 0h0m3-1h0m2 1h0m-33 1h0m1 0h0m0 0h0m2 2h0m1 0h0m0-2h0m1 0h0m0 2h0m0 0h0m5 0h0m3 0h0m0-1h0m2 0h0m6-1h0m1 1h0m1-1h0m0 0h0m1 0h0m0 2h0m1 0h0m0 0h0m1-1h0m0-1h0m2 1h0m1-1h0m-20 4h0m1-1h0m3 1h0m0 0h0m1-1h0m1 1h0m0 1h0m1 0h0m3-2h0m1 1h0m0-1h0m1 1h0m2-1h0m8 4h0" stroke="#cf3326" stroke-width="1.84" stroke-linecap="round" fill="none"/>
<path transform="scale(0.5)" d="M934 339h0m6 2h0m0 0h0m5-2h0m1 2h0m0-2h0m1 2h0m3-1h0m0 1h0m1-1h0m2 0h0m3 1h0m-20 3h0m2-1h0m1 0h0m1 0h0m0-1h0m1 0h0m1 1h0m4 1h0m1-1h0m0 1h0m0 0h0m1-2h0m0 0h0m3 1h0m1 1h0m1-2h0m0 1h0m1 0h0m0 1h0m1 0h0m0-2h0m1 1h0m0-1h0m0 1h0m1-1h0m1 1h0m1 0h0m0 1h0m3 0h0m0 0h0m-27 3h0m1 0h0m1-1h0m1 1h0m0-1h0m4 1h0m0-2h0m1 2h0m2-2h0m0 0h0m4 1h0m2 1h0m1-1h0m0 1h0m2-1h0m0 0h0m2-1h0m2 0h0m0 0h0m1 0h0m1 0h0m1 0h0m1 0h0m3 2h0m1-1h0m-30 4h0m0-2h0m3 2h0m0-1h0m1 1h0m0 0h0m1-2h0m0 1h0m2 1h0m0 0h0m0-1h0m1 1h0m5-2h0m1 2h0m0 0h0m1-1h0m3 0h0m1 1h0m1-1h0m0-1h0m3 0h0m1 2h0m1-2h0m3 2h0m0-2h0m0 1h0m0 1h0m0-2h0m1 2h0m0 0h0m1-1h0m1 0h0m1 0h0m1 1h0m0 0h0m0-1h0m-33 3h0m1 1h0m1 0h0m2-2h0m0 0h0m3 2h0m1 0h0m0 0h0m3-2h0m0 0h0m1 2h0m2-1h0m0 1h0m2-1h0m0 1h0m1 0h0m0-2h0m2 2h0m1 0h0m0-1h0m1 1h0m2-2h0m0 2h0m1-2h0m0 0h0m1 2h0m0-2h0m1 1h0m0-1h0m0 2h0m1-2h0m3 0h0m0 1h0m2-1h0m0 0h0m1 2h0m3 0h0m-37 1h0m4 1h0m1-1h0m2 1h0m0 1h0m1 0h0m1-1h0m1 0h0m0 1h0m6-2h0m1 2h0m1-2h0m2 2h0m3-2h0m1 0h0m0 1h0m2 1h0m0 0h0m0-1h0m0 0h0m1 1h0m0-1h0m1 1h0m0-2h0m1 1h0m2 1h0m0-2h0m0 1h0m1-1h0m0 1h0m0 0h0m0-1h0m1 1h0m1-1h0m1 0h0m0 1h0m1 0h0m1 1h0m0-1h0m0 1h0m1-1h0m0 1h0m0-1h0m0 0h0m1 1h0m-38 3h0m1 0h0m3 0h0m2-1h0m0 0h0m1 0h0m0 1h0m1-1h0m0-1h0m0 2h0m3-2h0m1 1h0m0 0h0m1-1h0m1 0h0m2 0h0m3 2h0m1 0h0m1-1h0m1 0h0m2 0h0m0 0h0m1-1h0m0 1h0m0 0h0m1 0h0m0 0h0m0 0h0m1 1h0m0 0h0m1 0h0m0-2h0m3 2h0m0-1h0m1 1h0m0-1h0m1 0h0m1 0h0m2-1h0m0 0h0m1 2h0m2-2h0m0 0h0m0 0h0m0 1h0m1 1h0m-40 1h0m1 2h0m2-2h0m0 0h0m0 0h0m3 2h0m1-2h0m10 2h0m1-2h0m1 1h0m1-1h0m0 1h0m1-1h0m0 1h0m0 0h0m2 0h0m1 1h0m0 0h0m1 0h0m1 0h0m0 0h0m2-2h0m1 1h0m2 1h0m1 0h0m1 0h0m0-2h0m0 0h0m1 2h0m3-2h0m1 0h0m1 0h0m1 2h0m0 0h0m0 0h0m-39 1h0m1 1h0m0-1h0m0 2h0m3 0h0m0-2h0m2 1h0m5 1h0m1 0h0m1-2h0m1 1h0m0 0h0m1-1h0m1 1h0m1 0h0m0 0h0m0 1h0m1-2h0m0 2h0m2 0h0m3-2h0m2 1h0m1 1h0m0-1h0m0 0h0m1-1h0m1 2h0m1-2h0m1 0h0m1 0h0m0 1h0m2 1h0m1 0h0m0 0h0m2 0h0m0-1h0m0-1h0m0 2h0m1 0h0m0-1h0m0-1h0m0 0h0m2 1h0m0 1h0m0-1h0m2-1h0m-37 3h0m1 2h0m0-2h0m0 0h0m1 0h0m2 0h0m2 0h0m0 2h0m1-1h0m0-1h0m0 0h0m0 1h0m1-1h0m0 0h0m0 0h0m1 2h0m0-1h0m1 0h0m1 0h0m1 0h0m0 1h0m1 0h0m1-1h0m0 1h0m0 0h0m1 0h0m0 0h0m1-2h0m0 1h0m0 0h0m1-1h0m0 0h0m0 0h0m1 1h0m2 1h0m1-2h0m2 1h0m1 1h0m0 0h0m1-2h0m0 2h0m0 0h0m4 0h0m1-2h0m1 1h0m1-1h0m1 2h0m0-2h0m1 0h0m1 0h0m1 0h0m0 2h0m-32 1h0m2 1h0m0-1h0m1 1h0m0 0h0m1 1h0m0-2h0m1 1h0m0 0h0m0-1h0m1 2h0m0 0h0m0-2h0m1 1h0m1 0h0m1-1h0m1 2h0m0 0h0m1-1h0m0 0h0m0 0h0m1-1h0m0 0h0m0 1h0m2-1h0m0 0h0m1 2h0m0-2h0m0 1h0m3-1h0m1 0h0m0 2h0m0-2h0m1 0h0m1 1h0m0 0h0m3 0h0m1-1h0m0 0h0m2 0h0m1 1h0m0 1h0m1-2h0m-24 3h0m4 1h0m1-1h0m0 0h0m1 0h0m0 0h0m1 1h0m0 0h0m0 0h0m1 0h0m0-1h0m1 2h0m0-1h0m1 1h0m2 0h0m1-2h0m0 0h0m1 1h0m0-1h0m0 0h0m1 1h0m2-1h0m1 1h0m3-1h0m5 1h0" stroke="#ac1a1b" stroke-width="1.84" stroke-linecap="round" fill="none"/>
<text x="468.59999999999997" y="135.9" font-size="7.4" text-anchor="middle" font-style="italic" stroke="#231f20" stroke-width="0.08">HDC</text>
<path transform="scale(0.5)" d="M689 397h0m0 1h0m1 0h0m39-2h0m6 2h0m1 0h0m1 0h0m2 0h0m1-2h0m0 2h0m-48 1h0m1 1h0m2 0h0m1 1h0m0-1h0m0 0h0m0 1h0m0-1h0m1 1h0m1 0h0m0 0h0m0-1h0m1 1h0m0 0h0m1 0h0m0 0h0m18 0h0m3 0h0m7 0h0m1 0h0m0 0h0m1 0h0m1-1h0m0 0h0m0 1h0m0 0h0m1 0h0m0-1h0m0 1h0m1-2h0m0 2h0m0 0h0m0 0h0m0 0h0m0 0h0m1-1h0m0 1h0m0-2h0m0 2h0m1-1h0m0 0h0m1-1h0m0 1h0m0 1h0m0-1h0m1 1h0m0 0h0m1-2h0m0 1h0m0 0h0m1-1h0m0 1h0m0 0h0m0 0h0m1-1h0m1 2h0m0-1h0m0 1h0m0 0h0m1-1h0m0 0h0m1 0h0m0-1h0m1 1h0m0-1h0m0 1h0m1 1h0m0-2h0m0 2h0m0-1h0m1 1h0m0 0h0m1 0h0m-51 1h0m0 0h0m1 1h0m0-1h0m1 0h0m0 0h0m0 0h0m1 0h0m0 0h0m0 0h0m0 0h0m0 1h0m1-1h0m0 1h0m0 1h0m0-1h0m0 0h0m1-1h0m0 1h0m0 1h0m0-1h0m0-1h0m0 0h0m1 1h0m0 0h0m0-1h0m1 0h0m0 1h0m1 0h0m0-1h0m0 0h0m0 2h0m0-2h0m1 2h0m0 0h0m2 0h0m2 0h0m11 0h0m1-1h0m0-1h0m2 0h0m0 0h0m0 1h0m0-1h0m0 0h0m0 1h0m1 0h0m2-1h0m0 0h0m0 1h0m0 1h0m1-2h0m0 2h0m1-1h0m0 0h0m0 1h0m0-2h0m0 0h0m0 1h0m0-1h0m0 2h0m0 0h0m1 0h0m0-1h0m0-1h0m1 1h0m0 1h0m0-1h0m0-1h0m2 2h0m0-1h0m1-1h0m0 1h0m1-1h0m0 2h0m0 0h0m1 0h0m0 0h0m0 0h0m1-2h0m0 2h0m0-2h0m0 2h0m1-1h0m1 0h0m1 1h0m2-2h0m0 2h0m1 0h0m1-2h0m0 0h0m1 1h0m1 0h0m0-1h0m0 2h0m0 0h0m0-2h0m1 1h0m0 0h0m0-1h0m1 0h0m0 2h0m1-2h0m1 1h0m-49 2h0m0 0h0m1 0h0m0 0h0m0 1h0m1-1h0m1 0h0m0 1h0m0 1h0m1 0h0m0-1h0m0 0h0m0-1h0m1 0h0m0 2h0m0 0h0m1-1h0m0 1h0m2-2h0m0 0h0m0 0h0m1 2h0m0 0h0m0 0h0m1 0h0m0-2h0m0 0h0m1 2h0m0-1h0m0-1h0m0 2h0m1 0h0m0-2h0m1 1h0m3 0h0m0 1h0m1-1h0m0 1h0m1 0h0m0 0h0m1 0h0m0-1h0m0 0h0m0 1h0m1 0h0m0 0h0m1-2h0m0 0h0m1 1h0m0 1h0m1-2h0m0 2h0m0 0h0m1-2h0m0 2h0m0-2h0m0 2h0m2-1h0m0 0h0m1 0h0m0 0h0m0 0h0m1 0h0m0-1h0m0 0h0m0 1h0m0 0h0m1 1h0m0-2h0m0 2h0m0-1h0m1 1h0m0-2h0m0 1h0m0-1h0m0 0h0m1 0h0m0 2h0m0 0h0m1 0h0m0-1h0m0 1h0m0-1h0m1 0h0m0 0h0m0 0h0m0 1h0m1-1h0m1-1h0m1 1h0m0-1h0m1 1h0m0 1h0m2 0h0m0-1h0m1 1h0m1 0h0m0-2h0m1 2h0m0 0h0m1-1h0m0-1h0m1 2h0m1-2h0m0 1h0m0 0h0m1 0h0m0 1h0m0-2h0m1 2h0m0 0h0m1-2h0m0 2h0m0-2h0m0 2h0m1-2h0m0 0h0m0 2h0m0 0h0m2-1h0m-47 2h0m1 0h0m1 0h0m0 0h0m0 1h0m2-1h0m0 1h0m0 0h0m0-1h0m1 2h0m0 0h0m1-1h0m0 0h0m1 0h0m0 1h0m0-2h0m0 2h0m1-2h0m0 1h0m0 0h0m0 0h0m0-1h0m1 2h0m0-2h0m0 2h0m1-1h0m0-1h0m1 1h0m0 0h0m1-1h0m1 0h0m1 2h0m0-1h0m0 0h0m0 0h0m0 0h0m1-1h0m0 2h0m0 0h0m1-2h0m0 0h0m0 1h0m0-1h0m0 0h0m0 1h0m0-1h0m1 1h0m0 0h0m0-1h0m1 1h0m0 1h0m0-2h0m0 0h0m0 1h0m0 1h0m0 0h0m0 0h0m1-2h0m0 2h0m0-2h0m0 0h0m0 2h0m1-2h0m0 0h0m1 2h0m2 0h0m0-2h0m0 2h0m1 0h0m0 0h0m0-2h0m1 2h0m0-2h0m1 1h0m0 0h0m0 0h0m0 1h0m0 0h0m0 0h0m0-1h0m1 0h0m0-1h0m0 2h0m0-1h0m0-1h0m0 2h0m2-1h0m1 1h0m0-2h0m1 1h0m1 0h0m0-1h0m0 1h0m1 0h0m1 0h0m0-1h0m1 0h0m0 2h0m1-2h0m0 1h0m1-1h0m1 1h0m0-1h0m0 2h0m1-2h0m0 2h0m0-2h0m0 2h0m1 0h0m1-1h0m1 1h0m0 0h0m0 0h0m0 0h0m0 0h0m1-2h0m0 0h0m1 0h0m0 1h0m0-1h0m1 1h0m0 0h0m1 1h0m1 0h0m0-1h0m0-1h0m0 2h0m0-2h0m1 0h0m-49 3h0m6 2h0m1-1h0m2 0h0m0 1h0m0-1h0m1 1h0m1-2h0m1 1h0m1 1h0m1 0h0m1 0h0m0-2h0m0 1h0m1 0h0m0 0h0m0 1h0m0-2h0m1 2h0m0 0h0m0 0h0m0-1h0m0 1h0m0-1h0m0-1h0m1 1h0m0 1h0m0-2h0m1 0h0m0 0h0m0 0h0m0 1h0m0-1h0m0 1h0m0-1h0m1 2h0m0 0h0m0-2h0m0 0h0m0 0h0m1 0h0m0 2h0m0-1h0m0 0h0m1 1h0m0-2h0m0 2h0m1-2h0m0 1h0m0 1h0m1-2h0m1 0h0m0 0h0m1 1h0m0 1h0m0 0h0m0-2h0m0 2h0m0-2h0m0 0h0m0 2h0m1 0h0m0-1h0m0-1h0m0 2h0m0 0h0m0 0h0m0 0h0m0 0h0m1-1h0m0 1h0m0 0h0m0-2h0m0 1h0m0 1h0m1-1h0m1 0h0m0-1h0m1 2h0m0-2h0m0 1h0m0 0h0m0 0h0m1 1h0m0-1h0m0-1h0m1 2h0m1-1h0m0 1h0m2-2h0m1 1h0m2 0h0m1 0h0m1-1h0m0 1h0m0 1h0m0-2h0m1 0h0m0 0h0m0 2h0m6 0h0m1-2h0m-43 4h0m3-1h0m0 0h0m2 2h0m0-1h0m0 0h0m1 0h0m0 0h0m1 0h0m1 1h0m0-1h0m1 0h0m1 1h0m0 0h0m1-1h0m0 0h0m0-1h0m1 0h0m0 2h0m0-2h0m0 1h0m0-1h0m0 1h0m1 1h0m0-1h0m0 1h0m0 0h0m0-2h0m0 2h0m0-1h0m0 0h0m0 0h0m0-1h0m1 0h0m0 0h0m0 2h0m0-2h0m0 0h0m1 2h0m1 0h0m0 0h0m0-2h0m0 0h0m0 1h0m0 0h0m0 1h0m0-2h0m0 1h0m0 1h0m1-2h0m0 0h0m0 1h0m0-1h0m0 1h0m0 0h0m0 0h0m1 0h0m0-1h0m1 2h0m0 0h0m0-1h0m0 1h0m0-2h0m0 0h0m1 0h0m0 0h0m0 1h0m0 0h0m0 0h0m0 1h0m1 0h0m0-1h0m0-1h0m0 1h0m0 1h0m1-1h0m1 1h0m0-2h0m0 0h0m0 0h0m0 1h0m0 1h0m0-1h0m0-1h0m2 1h0m0 0h0m0 1h0m0-2h0m0 1h0m2-1h0m1 1h0m0 1h0m1-2h0m0 0h0m0 0h0m0 1h0m0 1h0m1-2h0m0 0h0m0 1h0m1 1h0m2 0h0m1-2h0m0 0h0m0 0h0m0 1h0m0 1h0m0-1h0m0-1h0m2 1h0m1-1h0m0 2h0m0-2h0m0 2h0m1-1h0m0 1h0m0 0h0m0-2h0m0 2h0m1-2h0m0 1h0m0 1h0m1 0h0m0-2h0m0 1h0m2 0h0m0 0h0m1 1h0m0-1h0m0 0h0m0-1h0m1 0h0m-54 4h0m3 1h0m5-1h0m2 0h0m1 0h0m1-1h0m1 0h0m0 1h0m0-1h0m1 2h0m1 0h0m0 0h0m1-1h0m0-1h0m1 2h0m1-1h0m1 0h0m0 1h0m0-2h0m1 2h0m0-1h0m0-1h0m2 0h0m1 0h0m0 1h0m0 1h0m0 0h0m0 0h0m1-1h0m0 0h0m0-1h0m1 1h0m0 1h0m0-2h0m0 1h0m1 0h0m0-1h0m0 1h0m0 0h0m2-1h0m0 1h0m0 0h0m0 1h0m1-1h0m0 1h0m0-2h0m1 0h0m0 2h0m0-2h0m0 0h0m1 1h0m0 0h0m0 1h0m0 0h0m0-2h0m1 1h0m1 0h0m1 1h0m1 0h0m0-1h0m1 1h0m0 0h0m1 0h0m0-1h0m1 0h0m0-1h0m1 0h0m0 2h0m3-1h0m1 1h0m1-1h0m0-1h0m0 0h0m0 0h0m0 1h0m0-1h0m2 0h0m0 0h0m0 0h0m0 2h0m0-2h0m1 1h0m0 1h0m1-2h0m0 0h0m0 1h0m0-1h0m1 2h0m0 0h0m0 0h0m1 0h0m0-2h0m1 0h0m0 1h0m0-1h0m1 0h0m-44 5h0m1 0h0m1 0h0m0-1h0m1 0h0m0 0h0m0 0h0m0 1h0m0 0h0m1 0h0m0 0h0m2-2h0m1 0h0m1 0h0m0 1h0m0-1h0m0 1h0m1-1h0m1 1h0m0 0h0m0-1h0m1 1h0m0-1h0m0 0h0m2 0h0m0 2h0m0-1h0m2 1h0m0-2h0m1 1h0m0 0h0m0-1h0m0 1h0m1 1h0m0-2h0m0 1h0m0-1h0m0 2h0m1 0h0m0 0h0m1-2h0m0 0h0m0 1h0m0 0h0m1 0h0m1 0h0m0-1h0m0 0h0m0 2h0m1-2h0m1 0h0m0 0h0m0 0h0m1 1h0m0 0h0m0 1h0m0 0h0m0-1h0m0-1h0m0 1h0m1-1h0m0 0h0m0 0h0m1 2h0m0-2h0m0 0h0m0 1h0m1 1h0m0-1h0m1-1h0m1 1h0m0 1h0m1-1h0m0 1h0m1 0h0m0 0h0m0-1h0m1-1h0m1 2h0m0 0h0m1 0h0m1-2h0m0 2h0m0-1h0m1-1h0m0 0h0m0 0h0m1 0h0m0 1h0m0-1h0m2 0h0m0 0h0m1 1h0m0-1h0m0 1h0m1 1h0m1 0h0m0-1h0m2 1h0m0-1h0m1-1h0m0 0h0m-44 4h0m1 0h0m0 0h0m0-1h0m1 0h0m1 2h0m0 0h0m0-1h0m1-1h0m1 0h0m1 1h0m0-1h0m2 1h0m1 1h0m1-2h0m1 0h0m1 1h0m0 1h0m1 0h0m0 0h0m0 0h0m1-1h0m0 1h0m1-1h0m0-1h0m1 0h0m0 0h0m0 1h0m0-1h0m1 1h0m0 0h0m0-1h0m1 0h0m0 2h0m0 0h0m0-1h0m1 1h0m0-1h0m0 0h0m1-1h0m1 0h0m0 0h0m0 1h0m1-1h0m0 2h0m0 0h0m0-2h0m0 0h0m1 0h0m0 0h0m0 2h0m0-2h0m0 1h0m1 0h0m0 1h0m0-1h0m1 1h0m0-1h0m1 1h0m0-1h0m0 1h0m0-1h0m1-1h0m0 2h0m0-2h0m0 2h0m1-2h0m0 1h0m3-1h0m0 2h0m1-2h0m1 1h0m0 0h0m0 0h0m1 0h0m0-1h0m1 1h0m1-1h0m2 2h0m0 0h0m0 0h0m0-2h0m0 0h0m1 0h0m0 0h0m1 2h0m0-1h0m0 0h0m1 1h0m0 0h0m1-1h0m0-1h0m0 0h0m0 0h0m0 0h0m0 2h0m1-2h0m-44 4h0m1-1h0m0 0h0m2 0h0m0 1h0m0 0h0m0 0h0m1 0h0m0 0h0m0 1h0m0-2h0m1 2h0m0-1h0m0 0h0m5 0h0m0-1h0m1 0h0m1 2h0m2 0h0m1 0h0m1-1h0m0-1h0m2 1h0m0 0h0m1 1h0m0 0h0m2-1h0m0-1h0m0 1h0m0-1h0m1 1h0m1 0h0m1-1h0m0 0h0m1 1h0m2 1h0m0 0h0m1-1h0m0 0h0m1 1h0m0 0h0m1 0h0m1 0h0m0 0h0m0 0h0m0-1h0m0 0h0m1 1h0m1-2h0m0 2h0m0-2h0m0 1h0m1 1h0m0-1h0m0 1h0m0-2h0m2 1h0m0 1h0m0-2h0m0 1h0m1 1h0m0-2h0m1 2h0m0-1h0m0 0h0m0 0h0m1 0h0m1 0h0m0 0h0m0-1h0m1 1h0m-43 3h0m3 0h0m0 1h0m0-1h0m1-1h0m0 0h0m1 0h0m0 0h0m1 1h0m0 0h0m0 0h0m1-1h0m1 0h0m1 0h0m2 1h0m1 0h0m0-1h0m3 1h0m0-1h0m1 2h0m1-2h0m0 0h0m4 0h0m0 2h0m1-1h0m3-1h0m3 0h0m0 1h0m1-1h0m1 0h0m0 0h0m1 0h0m0 2h0m0 0h0m0 0h0m1 0h0m0-1h0m0-1h0m1 2h0m0-1h0m1 1h0m1-1h0m0 1h0m1-1h0m0 0h0m1 1h0m0-2h0m0 0h0m0 2h0m1-1h0m0-1h0m1 1h0m0 1h0m0 0h0m1-1h0m0 0h0m0 0h0m1-1h0m0 2h0m6-1h0m2 1h0m1-1h0m5 1h0m2-1h0m1 1h0m-56 1h0m3 0h0m2 0h0m1 1h0m0 1h0m1 0h0m0 0h0m0-1h0m2 1h0m0 0h0m1 0h0m0-1h0m2 0h0m0 0h0m1 1h0m5-1h0m6 1h0m1-2h0m2 2h0m3-2h0m2 0h0m1 0h0m11 1h0m4 1h0m0-2h0m2 2h0m6 0h0m10 0h0m1 0h0m-62 1h0m3 0h0m18 0h0m18 0h0m4 2h0m1-2h0m0 0h0m10 0h0m-28 5h0m13-1h0m4-1h0m1 1h0m0 0h0m10 1h0m-52 1h0m3 0h0m14 2h0m18 0h0m4-2h0m2 2h0m1-2h0m0 1h0m0 0h0m1 1h0m0-1h0m0 0h0m2 0h0m0 0h0m0 1h0m1 0h0m0-1h0m2 1h0m0-1h0m0 0h0m0 1h0m1 0h0m0-1h0m0 1h0m1 0h0m0-1h0m0 1h0m0 0h0m1-1h0m1 0h0m1 1h0m0 0h0m0 0h0m0-1h0m0 1h0m0-1h0m1 0h0m0 0h0m1 1h0m1-1h0m1 1h0m1 0h0m2 0h0m-47 3h0m12 0h0m1-2h0m14 2h0m1-1h0m0-1h0m0 1h0m0 0h0m0-1h0m0 1h0m0 1h0m1 0h0m0-2h0m1 0h0m0 1h0m0-1h0m0 1h0m0-1h0m1 2h0m0 0h0m0 0h0m1-1h0m0-1h0m1 2h0m0-1h0m0-1h0m0 0h0m0 1h0m0 1h0m0-2h0m0 1h0m1-1h0m0 2h0m0 0h0m1 0h0m0-1h0m0 1h0m1 0h0m0 0h0m0-1h0m1 1h0m0 0h0m0-1h0m0-1h0m0 0h0m1 0h0m0 1h0m0 1h0m0-1h0m0 0h0m0-1h0m0 2h0m1-2h0m0 1h0m0 1h0m1 0h0m0-1h0m0-1h0m1 1h0m0 1h0m0 0h0m0-1h0m0-1h0m1 1h0m0 1h0m0-1h0m0 0h0m0-1h0m0 0h0m1 0h0m1 0h0m0 2h0m0-1h0m0 1h0m0-2h0m0 1h0m1 0h0m0 0h0m0-1h0m0 1h0m0 0h0m1-1h0m0 2h0m0-1h0m0 0h0m0 0h0m0 1h0m1-1h0m0-1h0m1 1h0m0 1h0m-51 2h0m6 1h0m25-2h0m2 0h0m0 0h0m0 0h0m1 0h0m1 0h0m1 0h0m2 0h0m2 0h0m0 0h0m1 1h0m0-1h0m0 1h0m1-1h0m1 0h0m0 1h0m2-1h0m2 0h0m-50 4h0m10 1h0m19 0h0m6-2h0m2 0h0m0 2h0m-10 1h0m8 1h0m2-1h0m4 1h0m-35 2h0m9 1h0m-15 4h0m3-1h0m1 1h0m-5 1h0m5 0h0m1 1h0m-5 5h0m2 1h0m-11 2h0m-6 4h0m2 0h0m-6 4h0m37 7h0" stroke="#e4e4e4" stroke-width="1.84" stroke-linecap="round" fill="none"/>
<path transform="scale(0.5)" d="M694 399h0m3 2h0m0-1h0m32 1h0m9-1h0m8 1h0m-49 1h0m4 0h0m1 1h0m4 0h0m2 0h0m2 1h0m13 0h0m2 0h0m11-1h0m6-1h0m-40 4h0m1 0h0m9-1h0m11 1h0m0-1h0m3 0h0m4 0h0m6 1h0m4-1h0m5 0h0m2 1h0m-43 2h0m5 0h0m1 2h0m8 0h0m0-1h0m3-1h0m1 0h0m6 1h0m13 1h0m-31 2h0m3 1h0m8-1h0m0 0h0m4 0h0m0 1h0m1-1h0m0-1h0m3 0h0m1 0h0m0 1h0m6 1h0m0-2h0m1 0h0m2 2h0m2-2h0m2 2h0m-28 2h0m2 1h0m4-2h0m3 1h0m2-1h0m1 2h0m1-1h0m0 0h0m1-1h0m3 1h0m1 0h0m2 0h0m8 0h0m-32 3h0m1-1h0m7 2h0m3-1h0m5 1h0m0 0h0m4-1h0m4 0h0m3-1h0m-30 4h0m2 0h0m3-1h0m1 0h0m3 0h0m7 0h0m2 2h0m1-1h0m4-1h0m-26 5h0m2-1h0m1 0h0m6-1h0m4 2h0m1 0h0m4-2h0m5 0h0m2 1h0m0-1h0m16 0h0m2 1h0m-41 2h0m7 2h0m8 0h0m5-2h0m0 0h0m6 1h0m14 0h0m2-1h0m0 1h0m1-1h0m-36 4h0m6-1h0m1 0h0m1 1h0m0-1h0m1 1h0m1-1h0m0 2h0m1 0h0m1-2h0m1 2h0m0-1h0m1 1h0m1 0h0m2-2h0m0 0h0m1 0h0m4 1h0m-22 2h0m0 1h0m5 1h0m0 0h0m1-1h0m0 1h0m2 0h0m2-1h0m4 0h0m4-1h0m0 1h0m2 1h0m3-1h0m17 0h0m-40 2h0m1 1h0m0-1h0m1 1h0m1 1h0m3 0h0m5-2h0m2 2h0m1 0h0m0-2h0m1 2h0m0-2h0m1 2h0m3-2h0m2 1h0m1 1h0m0-1h0m2 1h0m0 0h0m1-2h0m-24 4h0m1-1h0m0 1h0m1-1h0m1 1h0m1-1h0m2 0h0m0 2h0m1 0h0m6-2h0m0 1h0m2 0h0m1 1h0m6-1h0m2 0h0m1-1h0m-27 4h0m1-1h0m3 0h0m1 0h0m1 2h0m3-1h0m5 0h0m1 1h0m0 0h0m3-2h0m1 0h0m1 1h0m1 1h0m22 0h0m2-1h0m15 1h0m-57 1h0m1 0h0m1 1h0m0 1h0m0 0h0m1 0h0m3-1h0m1-1h0m1 0h0m1 0h0m0 2h0m1-2h0m0 1h0m1 1h0m6-2h0m1 0h0m2 2h0m2-2h0m1 0h0m0 1h0m0 1h0m10-2h0m0 0h0m5 1h0m11 1h0m3-2h0m-49 5h0m1-1h0m6 1h0m0-2h0m1 0h0m1 2h0m0-1h0m2-1h0m5 0h0m2 1h0m19 1h0m12-2h0m-45 4h0m0-1h0m8 1h0m2 0h0m-11 3h0m3 1h0m8-1h0m0-1h0m3 0h0m-13 3h0m7 2h0m4 0h0m1-2h0m0 0h0m-14 4h0m3 0h0m3 0h0m2 1h0m1-2h0m2 0h0m1 0h0m1 1h0m3-1h0m-16 3h0m2 2h0m1 0h0m2-1h0m6-1h0m1 0h0m-14 3h0m0 0h0m1 2h0m0 0h0m1 0h0m0 0h0m1-1h0m1 1h0m1-2h0m1 2h0m0 0h0m2 0h0m-14 3h0m2 0h0m0 0h0m2-2h0m0 1h0m2 0h0m6-1h0m9 0h0m8 1h0m-29 3h0m-10 4h0m1 0h0m2-2h0m1 2h0m44-1h0m-49 3h0m0 0h0m1-1h0m-2 3h0m34 3h0" stroke="#f6cbbd" stroke-width="1.84" stroke-linecap="round" fill="none"/>
<path transform="scale(0.5)" d="M720 403h0m-17 3h0m8-1h0m12 3h0m-1 4h0m6-1h0m2 0h0m-8 5h0m1 0h0m2-2h0m-3 5h0m0-2h0m1 1h0m3 1h0m3-2h0m-16 4h0m4 0h0m10 0h0m2-1h0m-20 3h0m2 0h0m18 2h0m-11 3h0m2-2h0m3 1h0m7-1h0m-12 4h0m0 1h0m1 0h0m1 0h0m1 0h0m2 0h0m1-1h0m2-1h0m6 1h0m5 0h0m0 1h0m1 0h0m-26 2h0m3 1h0m0-2h0m2 1h0m0 1h0m1 0h0m1-1h0m1-1h0m0 2h0m2 0h0m2-1h0m1-1h0m0 2h0m1 0h0m3-1h0m1 0h0m0-1h0m1 0h0m0 1h0m2-1h0m1 0h0m1 0h0m4 1h0m-26 3h0m1-1h0m1 2h0m0 0h0m1-1h0m2-1h0m0 2h0m1-1h0m0 1h0m1-1h0m1 1h0m1 0h0m0-1h0m6-1h0m2 0h0m1 0h0m3 0h0m4 1h0m1 0h0m0 0h0m0 1h0m1 0h0m1 0h0m0-2h0m0 0h0m7 1h0m-37 2h0m2 0h0m1 0h0m2 2h0m0-2h0m4 1h0m0 0h0m1 0h0m2-1h0m2 2h0m1 0h0m1-2h0m0 0h0m0 0h0m2 2h0m1 0h0m1 0h0m1 0h0m3-2h0m2 2h0m2 0h0m10-1h0m-35 2h0m0 1h0m4 1h0m1 0h0m3 0h0m1 0h0m1-1h0m1-1h0m1 0h0m0 2h0m1-2h0m0 2h0m2 0h0m1 0h0m4-1h0m0 1h0m0-2h0m1 0h0m0 0h0m1 1h0m1 0h0m0 1h0m2-2h0m0 2h0m-28 2h0m4 1h0m2-1h0m4 1h0m1-2h0m2 1h0m0 1h0m2-2h0m0 0h0m0 1h0m0-1h0m1 0h0m1 2h0m0-2h0m1 2h0m1 0h0m0-1h0m1 0h0m3-1h0m4 1h0m1 0h0m0-1h0m-23 4h0m1-1h0m1 0h0m1 1h0m1 1h0m1 0h0m1-2h0m3 0h0m1 0h0m2 0h0m0 2h0m2-2h0m1 1h0m1 0h0m0 0h0m0 0h0m2-1h0m0 1h0m4-1h0m0 0h0m19 1h0m-39 2h0m1 0h0m0 1h0m1-1h0m1 1h0m0 1h0m2 0h0m1-2h0m1 0h0m2 1h0m1 1h0m1 0h0m0 0h0m1 0h0m1 0h0m1 0h0m0-2h0m2 1h0m0-1h0m0 0h0m2 0h0m1 0h0m1 0h0m0 2h0m-15 1h0m4 2h0m0-2h0m2 0h0m2 0h0m0 1h0m1-1h0m1 2h0m2-2h0m3 0h0m-13 4h0m0 0h0m7-1h0m2 0h0m1 2h0m0 0h0m0 0h0m0 0h0m0 0h0m1-1h0m1-1h0m0 2h0m7-2h0m7 1h0m-28 3h0m0 1h0m2 0h0m3-1h0m1 1h0m0-2h0m0 2h0m1-1h0m4 0h0m2-1h0m13 1h0m3 1h0m-33 1h0m0 2h0m0 0h0m3 0h0m0-2h0m0 2h0m2 0h0m1-1h0m1 0h0m0 0h0m5-1h0m1 0h0m9 0h0m10 0h0m0 0h0m-33 4h0m1 0h0m0-1h0m1 2h0m1-1h0m0 1h0m0 0h0m1-2h0m1 2h0m7-2h0m8 1h0m-24 4h0m1-1h0m1 0h0m1-1h0m14 1h0m4 1h0m5 0h0m8 0h0m7-2h0m-46 5h0m0 0h0m2 0h0m0 0h0m0-1h0m1 0h0m0-1h0m0 2h0m1-1h0m0 0h0m4-1h0m18 2h0m23-2h0m9 2h0m-62 2h0m1 0h0m1 0h0m24 1h0m27-2h0m1 2h0m10 0h0m-69 3h0m0 0h0m2 0h0m1-1h0m0-1h0m31 1h0m-1 4h0m6-1h0m7 1h0m2-2h0m15 2h0m-22 2h0m3-1h0m2 0h0m0 0h0m2 1h0m8 0h0m4-1h0m1 1h0m5 1h0m3-1h0m3 0h0m-1 2h0m-23 3h0m6 1h0m4 0h0m2 0h0" stroke="#f19a84" stroke-width="1.84" stroke-linecap="round" fill="none"/>
<path transform="scale(0.5)" d="M727 428h0m6 0h0m-13 2h0m1-1h0m0 1h0m4 1h0m2-1h0m0-1h0m1 1h0m1 1h0m1-2h0m0 2h0m0-1h0m2 1h0m0-1h0m1 1h0m1-2h0m1 0h0m3 1h0m-26 3h0m1 1h0m4-1h0m0 1h0m1-2h0m1 0h0m5 1h0m3 1h0m1 0h0m1-2h0m3 0h0m3 1h0m0 0h0m1 1h0m3-1h0m-27 3h0m1-1h0m1 0h0m3 0h0m1 1h0m3-1h0m1 1h0m1 1h0m2 0h0m1-2h0m1 2h0m5-1h0m0 1h0m0-1h0m4-1h0m1 2h0m3-1h0m-28 2h0m1 0h0m5 0h0m1 0h0m0 2h0m2-1h0m0 0h0m3 1h0m0 0h0m1-1h0m1 0h0m2 0h0m5-1h0m1 2h0m1-1h0m0 1h0m4 0h0m1 0h0m0 0h0m-24 2h0m0-1h0m0 2h0m2-2h0m1 2h0m1 0h0m1-2h0m2 0h0m0 0h0m1 1h0m0 0h0m2 0h0m0 1h0m1-1h0m0 1h0m2-1h0m8 1h0m0-2h0m1 0h0m-23 3h0m2 2h0m2-1h0m2-1h0m2 0h0m2 1h0m1 0h0m0-1h0m2 2h0m0-1h0m0 1h0m1 0h0m7-1h0m1 1h0m2-2h0m10 2h0m-32 2h0m0 0h0m1 0h0m8 0h0m0 0h0m2 0h0m0 1h0m1-1h0m1 1h0m1-2h0m0 0h0m1 1h0m0-1h0m2 0h0m3 0h0m2 2h0m0 0h0m0 0h0m-17 3h0m2 0h0m0 0h0m2-2h0m0 1h0m2-1h0m3 0h0m0 2h0m4-2h0m0 1h0m-11 2h0m0 1h0m1 0h0m0 0h0m1 1h0m1-1h0m1-1h0m1 0h0m1 2h0m2-1h0m3 0h0m2 1h0m1-2h0m-15 3h0m1 1h0m4 0h0m3 1h0m2-1h0m2-1h0m2 2h0m0-2h0m6 2h0m3-1h0m8 0h0m-23 4h0m2-1h0m3 0h0m2 0h0m3 0h0m1 0h0m0 0h0m0 1h0m2-2h0m1 1h0m3 0h0m0 1h0m3 0h0m0 0h0m2 0h0m0 0h0m2 0h0m-28 2h0m5 0h0m1 1h0m1-2h0m0 1h0m1-1h0m1 0h0m1 2h0m1-1h0m0-1h0m2 2h0m2-2h0m0 0h0m7 0h0m4 1h0m0 1h0m1-2h0m0 1h0m2-1h0m3 2h0m1 0h0m0 0h0m-42 2h0m0 1h0m4 0h0m0 0h0m3 0h0m2-1h0m4 0h0m2-1h0m1 1h0m1 1h0m2 0h0m8-2h0m0 2h0m1-1h0m5-1h0m0 2h0m3-1h0m0 1h0m8-2h0m1 1h0m-49 3h0m1 0h0m2 1h0m0-1h0m3-1h0m0 0h0m1 0h0m2 1h0m8 0h0m0 0h0m2 0h0m0 1h0m2-2h0m3 1h0m0 1h0m4-1h0m2 0h0m2 1h0m0 0h0m3-1h0m1 0h0m0 1h0m1 0h0m0-1h0m1-1h0m1 1h0m1 0h0m2 1h0m1-1h0m7-1h0m1 0h0m0 0h0m-55 4h0m4-1h0m0 0h0m18 0h0m0 1h0m2 0h0m3 1h0m0-2h0m0 0h0m1 0h0m7 0h0m1 1h0m1 0h0m3 1h0m2-2h0m2 1h0m2 1h0m3-2h0m2 2h0m1 0h0m0-2h0m5 2h0m0 0h0m-63 3h0m1 0h0m1 0h0m1 0h0m29 0h0m1-1h0m0 1h0m0 0h0m1-2h0m0 1h0m2-1h0m2 2h0m0 0h0m2-1h0m3 0h0m1 0h0m3 0h0m5-1h0m0 1h0m1 0h0m1 1h0m1-2h0m1 1h0m6 0h0m1-1h0m0 0h0m1 0h0m1 0h0m0 0h0m1 1h0m-67 3h0m1-1h0m0 1h0m28-1h0m7 2h0m0 0h0m2 0h0m2-1h0m2 0h0m2 1h0m1-2h0m1 1h0m0-1h0m1 0h0m1 0h0m0 2h0m2-2h0m0 2h0m3-1h0m3-1h0m2 0h0m6 0h0m2 0h0m-36 3h0m0 1h0m1 1h0m1 0h0m1-2h0m4 1h0m1-1h0m4 0h0m0 1h0m1 1h0m3-1h0m2 1h0m2-1h0m1 1h0m0-2h0m1 1h0m1 1h0m2-1h0m1 0h0m9 1h0m0-1h0m1 0h0m1-1h0m0 2h0m0 0h0m2 0h0m-44 1h0m8 1h0m0-1h0m1 0h0m2 2h0m1 0h0m1 0h0m0-1h0m3-1h0m1 2h0m0-1h0m1 0h0m6 1h0m5-2h0m3 1h0m0 0h0m5-1h0m2 1h0m2 1h0m2 0h0m0 0h0m-32 1h0m0 0h0m2 0h0m1 1h0m0 1h0m1 0h0m1-2h0m0 0h0m5 0h0m1 0h0m1 2h0m1-1h0m2 0h0m2-1h0m2 0h0m9 1h0m-17 3h0m4 1h0m0-1h0m4 0h0m4 0h0" stroke="#e4604a" stroke-width="1.84" stroke-linecap="round" fill="none"/>
<path transform="scale(0.5)" d="M715 423h0m7 7h0m1 1h0m-5 3h0m2 0h0m8-1h0m6 0h0m5 1h0m-24 1h0m5 2h0m7 0h0m3-1h0m1 2h0m9 4h0m-26 2h0m13 2h0m9-2h0m-19 3h0m17 0h0m4 2h0m-4 2h0m3 3h0m0 3h0m1-1h0m1 1h0m2 1h0m4 0h0m0 0h0m1 0h0m0 0h0m0 0h0m1-1h0m2 1h0m1 0h0m-19 2h0m1 1h0m3-1h0m2 1h0m5 0h0m0 0h0m6-2h0m2 0h0m1 2h0m1-1h0m0 0h0m1-1h0m4 2h0m-29 2h0m2 0h0m0 1h0m1-2h0m0 0h0m1 2h0m7-2h0m0 2h0m3-1h0m1 0h0m2 1h0m1 0h0m4 0h0m0 0h0m2 0h0m0-1h0m1 0h0m1 1h0m0-2h0m0 2h0m0 0h0m2-1h0m1 0h0m13 0h0m-47 2h0m8 2h0m3 0h0m0-1h0m1-1h0m0 2h0m3 0h0m0-2h0m1 2h0m1 0h0m0-2h0m2 1h0m2-1h0m1 0h0m2 1h0m0-1h0m2 2h0m0-2h0m0 1h0m0-1h0m4 0h0m0 2h0m1-1h0m0-1h0m2 2h0m2-2h0m0 0h0m1 0h0m1 0h0m1 2h0m0 0h0m1 0h0m0-1h0m2 0h0m-47 2h0m0 1h0m1 1h0m11-1h0m2 1h0m0 0h0m0 0h0m3-1h0m0 1h0m1-2h0m3 1h0m1 1h0m1 0h0m2-2h0m2 1h0m2 0h0m2 0h0m0-1h0m1 1h0m0 1h0m1 0h0m0 0h0m0 0h0m3-1h0m1 0h0m0-1h0m1 1h0m0-1h0m0 1h0m1 0h0m1 1h0m0-2h0m0 0h0m0 1h0m2 0h0m1 0h0m0-1h0m1 1h0m2 0h0m0 0h0m2-1h0m-57 5h0m22-2h0m1 2h0m1-1h0m0-1h0m3 0h0m0 1h0m1-1h0m0 1h0m1-1h0m1 2h0m1 0h0m0 0h0m1-1h0m0 0h0m2 1h0m0-1h0m1-1h0m1 1h0m1 0h0m2 1h0m1-2h0m0 2h0m1-2h0m2 0h0m0 1h0m2 0h0m0-1h0m1 0h0m0 0h0m0 2h0m1 0h0m1-2h0m0 2h0m3-2h0m0 1h0m1-1h0m1 0h0m0 2h0m1-2h0m1 1h0m2-1h0m0 1h0m2 1h0m1-1h0m-36 3h0m1-1h0m2 2h0m2 0h0m2-2h0m1 1h0m0 0h0m2 0h0m0 0h0m4 0h0m0-1h0m2 1h0m2-1h0m1 1h0m1 0h0m0-1h0m0 2h0m1-2h0m3 2h0m2 0h0m3-2h0m0 2h0m1 0h0m3 0h0m0 0h0m1-1h0m1 1h0m1-2h0m2 0h0m0 2h0m0-2h0m1 2h0m-70 1h0m30 0h0m1 2h0m1 0h0m0 0h0m2-2h0m1 0h0m1 2h0m0-1h0m0 1h0m1 0h0m1-2h0m2 1h0m1 1h0m1-2h0m3 2h0m0 0h0m2 0h0m0-1h0m3 1h0m0-2h0m1 0h0m0 2h0m0 0h0m2 0h0m2 0h0m0-1h0m4-1h0m1 2h0m0-1h0m0 1h0m0-2h0m1 0h0m0 2h0m2-1h0m2 1h0m0-1h0m2 1h0m1 0h0m1-1h0m1-1h0m-38 3h0m3 2h0m1 0h0m0-1h0m2-1h0m1 0h0m2 1h0m0 1h0m2-2h0m0 2h0m1 0h0m1-2h0m0 1h0m1 1h0m1 0h0m1 0h0m1-2h0m1 2h0m1-2h0m0 0h0m4 2h0m1-1h0m0 1h0m0-2h0m0 2h0m1-2h0m0 1h0m2 1h0m1 0h0m1-2h0m1 0h0m2 0h0m0 1h0m3-1h0m0 2h0m1-2h0m0 0h0m4 0h0m0 0h0m-38 4h0m1 0h0m1 1h0m2 0h0m2-2h0m0 1h0m1-1h0m0 2h0m0-1h0m1-1h0m0 2h0m0-2h0m0 1h0m0 0h0m0 0h0m0-1h0m1 0h0m1 1h0m2 0h0m0 1h0m2-2h0m1 1h0m0 0h0m1 1h0m1-2h0m0 2h0m1-1h0m3-1h0m1 0h0m4 1h0m0 1h0m2 0h0m3-1h0m0 0h0m1 1h0m1-2h0m1 2h0m0-1h0m2 0h0m-43 2h0m12 2h0m0-2h0m0 0h0m1 2h0m0 0h0m1 0h0m0-1h0m1 1h0m2-1h0m0 0h0m0-1h0m6 0h0m1 0h0m2 1h0m1 0h0m0 0h0m2-1h0m0 0h0m2 0h0m3 0h0m0 0h0m1 2h0m1 0h0m0-1h0m1 0h0m0-1h0m2 1h0m1 1h0m4-1h0m-27 3h0m4 1h0m0 0h0m2-2h0m1 1h0m0 0h0m1 0h0m2 1h0m2 0h0m2 0h0m0-2h0m3 0h0m4 0h0m4 4h0" stroke="#cf3326" stroke-width="1.84" stroke-linecap="round" fill="none"/>
<path transform="scale(0.5)" d="M729 456h0m6 2h0m0 0h0m5-1h0m3 0h0m1 0h0m1 0h0m0-1h0m3 2h0m2 0h0m-19 2h0m2-1h0m2 0h0m2 0h0m3 0h0m3 0h0m1 2h0m1 0h0m0-1h0m3 0h0m0 0h0m1-1h0m1 2h0m0 0h0m0-1h0m1 0h0m2 0h0m1 0h0m-15 4h0m2-2h0m1 0h0m1 1h0m7 0h0m2 0h0m1 1h0m0 0h0m6 0h0m-28 1h0m1 0h0m0 0h0m1 2h0m1-2h0m0 2h0m4-2h0m2 1h0m3 0h0m1 1h0m2-1h0m6 0h0m1 1h0m0-1h0m1-1h0m1 1h0m1-1h0m2 2h0m1-1h0m1 1h0m2-2h0m1 1h0m-31 3h0m0 1h0m3-1h0m5 1h0m1 0h0m1-1h0m1 1h0m5-2h0m5 2h0m0-1h0m6-1h0m1 0h0m1 2h0m2-2h0m0 0h0m2 1h0m1 1h0m-35 2h0m1 0h0m6 1h0m4-1h0m3 0h0m2-1h0m0 1h0m5 1h0m2-2h0m0 2h0m2-1h0m1 0h0m0-1h0m3 0h0m1 1h0m1 0h0m2 0h0m1-1h0m0 0h0m1 2h0m0 0h0m2-1h0m-39 4h0m6-1h0m4 1h0m1 0h0m2-1h0m1 0h0m1 1h0m0 0h0m1-2h0m0 2h0m1 0h0m2-2h0m0 2h0m1-1h0m1 0h0m5-1h0m0 1h0m0 1h0m0-1h0m1-1h0m0 2h0m0-2h0m1 2h0m0-2h0m2 1h0m2 0h0m1 1h0m0 0h0m0-1h0m1 0h0m0 0h0m1 0h0m2-1h0m0 0h0m2 2h0m1-1h0m0-1h0m1 2h0m-39 2h0m0 0h0m1 1h0m3-1h0m1 1h0m1-1h0m4-1h0m2 2h0m7-1h0m0-1h0m4 1h0m4-1h0m0 0h0m1 1h0m1 1h0m2-1h0m1 1h0m1 0h0m0-1h0m0 1h0m1-2h0m0 2h0m2-1h0m1 1h0m0-1h0m2 1h0m1 0h0m1-1h0m-37 3h0m3-1h0m2 2h0m1-2h0m0 2h0m3 0h0m2-2h0m5 2h0m0-1h0m1-1h0m3 0h0m0 1h0m2 0h0m0 0h0m1-1h0m1 0h0m3 1h0m1-1h0m0 1h0m2 1h0m1 0h0m1-1h0m1 0h0m1 1h0m1-2h0m1 1h0m0 1h0m-38 1h0m3 1h0m1-1h0m1 2h0m0 0h0m2-2h0m1 2h0m1-1h0m1-1h0m0 2h0m2 0h0m0 0h0m5-2h0m1 1h0m3 0h0m0 0h0m3-1h0m1 1h0m3-1h0m6 2h0m-28 1h0m1 0h0m1 0h0m1 0h0m2 2h0m1 0h0m2-2h0m0 1h0m1 1h0m3-1h0m0 1h0m1 0h0m2-1h0m1 1h0m3-2h0m1 0h0m0 1h0m3 1h0m4-1h0m2-1h0m1 1h0m0-1h0m-24 3h0m1 1h0m1-1h0m1 1h0m3-1h0m1 2h0m0-1h0m0 0h0m2 1h0m2 0h0m2-2h0m0 2h0m0-1h0m1-1h0m0 1h0m0-1h0m4 1h0m1-1h0m7 2h0m-21 2h0" stroke="#ac1a1b" stroke-width="1.84" stroke-linecap="round" fill="none"/>
<text x="366.0" y="194.6" font-size="7.4" text-anchor="middle" font-style="italic" stroke="#231f20" stroke-width="0.08">FCER1A</text>
<path transform="scale(0.5)" d="M791 398h0m1 0h0m40-2h0m5 2h0m0 0h0m3 0h0m0 0h0m3 0h0m0-2h0m0 2h0m6-2h0m-54 4h0m3 1h0m0 0h0m0 0h0m1 0h0m0 0h0m0-1h0m1 1h0m0 0h0m0-1h0m0 1h0m1 0h0m0 0h0m1 0h0m0 0h0m22 0h0m7 0h0m0 0h0m2 0h0m0 0h0m1-1h0m1-1h0m0 2h0m1 0h0m1 0h0m1-1h0m0 0h0m1-1h0m0 2h0m1 0h0m0-1h0m1-1h0m0 1h0m0 0h0m1-1h0m0 1h0m1 0h0m0 1h0m0-1h0m0 1h0m0-2h0m1 1h0m0 0h0m1 0h0m0 0h0m0-1h0m1 1h0m0-1h0m0 2h0m1-1h0m0-1h0m0 2h0m1 0h0m0-1h0m0 1h0m0 0h0m1-1h0m0 0h0m1 1h0m-51 1h0m0 0h0m1 0h0m0 1h0m0 0h0m1 0h0m0-1h0m0 0h0m0 0h0m0 0h0m1 2h0m0-1h0m0 0h0m1-1h0m0 1h0m0-1h0m0 2h0m0-2h0m0 1h0m0-1h0m1 1h0m0 1h0m0 0h0m0-2h0m0 1h0m0 1h0m1-1h0m0-1h0m0 1h0m0 0h0m0-1h0m1 0h0m0 1h0m0 1h0m2-1h0m2 1h0m0 0h0m2 0h0m11 0h0m0-1h0m0 0h0m1-1h0m1 2h0m0-2h0m0 0h0m1 0h0m0 2h0m0-1h0m0 0h0m1 0h0m1-1h0m0 0h0m0 1h0m1 0h0m0 0h0m0-1h0m1 0h0m0 2h0m0 0h0m1-1h0m0-1h0m0 1h0m0 1h0m1 0h0m0 0h0m0-2h0m1 1h0m1 1h0m0-1h0m2 1h0m0 0h0m1 0h0m1 0h0m1-2h0m0 0h0m1 2h0m0-2h0m2 0h0m0 0h0m1 2h0m0 0h0m0-1h0m1-1h0m0 1h0m0 1h0m2-2h0m1 1h0m0-1h0m2 1h0m0 0h0m0 0h0m0-1h0m0 2h0m0-2h0m1 0h0m0 0h0m-47 3h0m0 0h0m0 0h0m1 0h0m0 1h0m0-1h0m1 2h0m0-2h0m0 1h0m0 0h0m0 1h0m0 0h0m1 0h0m1-1h0m0 0h0m0 0h0m1-1h0m0 0h0m1 1h0m0 1h0m1-2h0m0 0h0m0 0h0m1 0h0m0 2h0m1 0h0m0 0h0m1 0h0m1 0h0m0-1h0m0-1h0m1 0h0m0 0h0m0 0h0m1 1h0m1 1h0m2-1h0m1 0h0m0 1h0m1-2h0m0 2h0m0-1h0m0 0h0m1 1h0m0 0h0m0-1h0m0 1h0m2-2h0m0 0h0m0 0h0m1 1h0m0 1h0m0-1h0m0 1h0m1-2h0m0 2h0m0 0h0m1 0h0m0-1h0m0-1h0m1 0h0m0 1h0m0-1h0m1 1h0m0 0h0m1 1h0m0-2h0m0 0h0m0 1h0m0 1h0m0-1h0m0 0h0m1 0h0m0 1h0m0-2h0m0 1h0m1 0h0m0 1h0m0-1h0m0 0h0m1 1h0m0-2h0m0 0h0m0 1h0m0 1h0m0 0h0m0-2h0m1 0h0m0 2h0m0-1h0m0 1h0m0-1h0m1 1h0m0-1h0m0 0h0m0 0h0m0 1h0m0-1h0m0-1h0m2 0h0m1 0h0m1 0h0m0 1h0m0 1h0m0-2h0m0 1h0m1 0h0m0 1h0m1 0h0m1 0h0m0 0h0m1-2h0m0 2h0m0 0h0m0 0h0m1 0h0m0-1h0m0 0h0m1 0h0m0 1h0m0-1h0m1-1h0m0 1h0m2 0h0m0 0h0m0 0h0m0 0h0m0 0h0m0 0h0m1 0h0m0 1h0m0-2h0m1 0h0m0 2h0m1-2h0m1 0h0m0 0h0m0 2h0m0 0h0m-44 1h0m0 1h0m1-1h0m1 0h0m0 0h0m0 2h0m1-2h0m0 1h0m0 1h0m1-2h0m0 0h0m0 2h0m1-1h0m0 1h0m0-2h0m0 2h0m1 0h0m0-2h0m0 1h0m0-1h0m0 2h0m0-2h0m2 1h0m0 1h0m0 0h0m0-2h0m0 0h0m1 1h0m0 0h0m0 1h0m1-1h0m0 0h0m0-1h0m1 0h0m0 2h0m1-2h0m0 0h0m0 2h0m0-1h0m0-1h0m1 0h0m0 1h0m0 1h0m1 0h0m0-2h0m0 1h0m0-1h0m0 1h0m0 1h0m0-2h0m1 1h0m0-1h0m0 2h0m0-1h0m1-1h0m0 1h0m0-1h0m1 0h0m0 1h0m0 1h0m0-2h0m0 2h0m0 0h0m1 0h0m0-1h0m0-1h0m0 0h0m1 2h0m2-2h0m0 0h0m1 2h0m1-2h0m0 2h0m0-2h0m0 0h0m0 0h0m1 1h0m0 0h0m0 1h0m0 0h0m0 0h0m0-1h0m0 0h0m1-1h0m0 1h0m0 1h0m1-1h0m0 0h0m0-1h0m0 0h0m0 1h0m0 1h0m1-2h0m0 1h0m1-1h0m0 1h0m1 0h0m0 1h0m1-1h0m0 0h0m1 1h0m0-1h0m0-1h0m0 1h0m0 0h0m1 1h0m1-2h0m0 0h0m0 0h0m0 2h0m1 0h0m0 0h0m1 0h0m0 0h0m1 0h0m0-2h0m0 2h0m0-1h0m1 0h0m0 1h0m0 0h0m0-1h0m1 0h0m0-1h0m2 1h0m0 1h0m0 0h0m1 0h0m0 0h0m1-2h0m0 0h0m0 0h0m0 2h0m0-1h0m0-1h0m1 0h0m1 1h0m2 0h0m0-1h0m0 2h0m-43 3h0m3-2h0m1 2h0m0-1h0m0 1h0m0-1h0m0 0h0m1 0h0m0 1h0m1-2h0m1 0h0m0 1h0m1 1h0m0 0h0m0-1h0m0 1h0m1 0h0m1-2h0m0 1h0m0-1h0m0 1h0m0-1h0m1 1h0m1 1h0m0 0h0m0-1h0m0 1h0m0-1h0m0-1h0m0 0h0m1 1h0m0-1h0m0 1h0m0 0h0m0 0h0m1-1h0m0 2h0m0-1h0m0 0h0m0-1h0m0 1h0m1 1h0m0 0h0m1-2h0m1 0h0m0 1h0m0 0h0m0 1h0m0-2h0m1 1h0m0 1h0m0 0h0m0-2h0m0 2h0m1-2h0m0 0h0m0 2h0m1-2h0m0 2h0m0 0h0m0 0h0m0 0h0m1-1h0m0 1h0m0-2h0m0 2h0m0-1h0m0 1h0m0 0h0m0 0h0m1-2h0m0 2h0m0-2h0m0 2h0m0-1h0m0 1h0m0-2h0m1 1h0m0-1h0m0 2h0m0-2h0m0 1h0m1 0h0m0 0h0m1-1h0m0 1h0m0-1h0m1 2h0m0-2h0m1 0h0m3 2h0m0-1h0m0 1h0m1-1h0m0-1h0m0 0h0m1 0h0m0 1h0m1 0h0m0-1h0m1 2h0m1-2h0m0 1h0m1 1h0m0 0h0m1 0h0m2 0h0m1-2h0m1 0h0m1 1h0m0 1h0m1 0h0m-50 1h0m8 1h0m2-1h0m1 0h0m0 0h0m1 2h0m0 0h0m1-1h0m0 0h0m0 0h0m1 0h0m0 0h0m1 0h0m0 0h0m0 1h0m1 0h0m1-1h0m1 0h0m1 0h0m0-1h0m1 1h0m0-1h0m0 2h0m0-2h0m0 2h0m0-1h0m0 1h0m1 0h0m0 0h0m0 0h0m0-2h0m0 0h0m0 1h0m0-1h0m1 0h0m0 0h0m0 2h0m0-2h0m0 2h0m0 0h0m0-1h0m0 1h0m1-1h0m0 1h0m0-1h0m0 1h0m0 0h0m0 0h0m0 0h0m1 0h0m0 0h0m0-2h0m0 0h0m0 0h0m0 1h0m0 1h0m0-2h0m0 1h0m0-1h0m1 1h0m0 0h0m0 0h0m1 0h0m0-1h0m0 2h0m1-2h0m0 2h0m0 0h0m0-1h0m0 0h0m0 1h0m0-1h0m0 0h0m1-1h0m0 1h0m0 0h0m0-1h0m0 1h0m0 0h0m0 0h0m1-1h0m0 2h0m0 0h0m0-1h0m1-1h0m0 1h0m0 1h0m0 0h0m0-2h0m1 2h0m0-2h0m0 1h0m1 1h0m1-1h0m0-1h0m0 0h0m1 1h0m0 0h0m1 0h0m1-1h0m0 0h0m0 0h0m0 2h0m1-2h0m0 2h0m0-2h0m0 2h0m0-2h0m1 2h0m2 0h0m0 0h0m1-2h0m0 1h0m0 1h0m0-2h0m0 1h0m1-1h0m0 1h0m1-1h0m1 1h0m1-1h0m0 1h0m1 1h0m0-2h0m0 2h0m1-1h0m0-1h0m0 2h0m1 0h0m0 0h0m1-1h0m1 1h0m0-2h0m1 1h0m0 0h0m-54 3h0m3 1h0m0-2h0m8 1h0m1 1h0m0 0h0m1 0h0m0-2h0m0 0h0m1 2h0m0-2h0m1 2h0m0 0h0m1-1h0m0 0h0m0 1h0m0-1h0m1 1h0m1 0h0m2-2h0m0 1h0m0 0h0m1 0h0m0 0h0m0-1h0m2 2h0m0-1h0m0 0h0m0 1h0m0-2h0m1 1h0m0 0h0m0-1h0m1 1h0m0-1h0m0 1h0m0-1h0m1 2h0m0-2h0m0 1h0m0 0h0m0 0h0m1-1h0m1 2h0m0 0h0m0-2h0m0 2h0m0 0h0m1-2h0m0 2h0m0 0h0m0-1h0m0 0h0m0 1h0m0-2h0m1 2h0m0-1h0m0-1h0m0 0h0m0 0h0m0 2h0m1 0h0m0 0h0m0 0h0m1-1h0m0-1h0m0 2h0m0 0h0m0-1h0m1 0h0m0 0h0m1 1h0m0 0h0m0 0h0m0 0h0m0-1h0m0 0h0m1 1h0m1 0h0m0-2h0m0 2h0m0-2h0m0 2h0m1 0h0m0 0h0m1 0h0m0-1h0m0-1h0m2 2h0m0-2h0m0 2h0m0-1h0m1-1h0m1 1h0m1 0h0m1 1h0m0-2h0m0 0h0m0 2h0m1 0h0m0-1h0m0 1h0m0-2h0m1 1h0m0-1h0m0 2h0m0-1h0m0 1h0m1 0h0m0-1h0m1 0h0m0 1h0m0 0h0m0 0h0m1 0h0m0 0h0m0-2h0m1 2h0m0 0h0m1 0h0m0-2h0m0 0h0m1 0h0m1 2h0m-44 3h0m0 0h0m1-1h0m0 1h0m1-1h0m0 0h0m1 1h0m0 0h0m1 0h0m0 0h0m1-2h0m2 1h0m1-1h0m0 1h0m0 0h0m0-1h0m1 1h0m1-1h0m1 1h0m0-1h0m0 0h0m1 1h0m1 1h0m1-1h0m0 1h0m1-2h0m0 0h0m1 2h0m0-1h0m0-1h0m0 0h0m0 1h0m1 1h0m0-1h0m0 1h0m0 0h0m1 0h0m0-1h0m0 1h0m0 0h0m0-2h0m1 0h0m0 0h0m0 1h0m0 0h0m1 0h0m1 0h0m0-1h0m0 0h0m0 2h0m0-2h0m0 0h0m1 0h0m0 0h0m0 2h0m0-2h0m0 0h0m1 1h0m0 0h0m0-1h0m0 2h0m0-1h0m0-1h0m0 1h0m0-1h0m1 1h0m0 1h0m0 0h0m0-2h0m1 0h0m0 2h0m0-2h0m0 0h0m0 0h0m0 2h0m1-2h0m1 0h0m1 1h0m2-1h0m0 2h0m0-1h0m0 1h0m1 0h0m0-2h0m0 2h0m0 0h0m1 0h0m0 0h0m0-1h0m1 0h0m0 1h0m0-1h0m1 0h0m0 1h0m1 0h0m0-2h0m0 0h0m2 0h0m2 1h0m0-1h0m2 2h0m0-2h0m0 2h0m2 0h0m1-2h0m1 0h0m-46 4h0m2 0h0m0 0h0m0 0h0m1 1h0m0-2h0m1 0h0m0 2h0m0-1h0m1-1h0m0 0h0m1 0h0m0 1h0m2-1h0m2 1h0m1 1h0m0 0h0m1-2h0m1 0h0m0 2h0m0-2h0m0 2h0m1-1h0m0 1h0m1 0h0m0-2h0m0 0h0m1 2h0m0-1h0m0 0h0m0 0h0m0-1h0m1 0h0m0 0h0m1 1h0m0-1h0m0 0h0m1 1h0m0 0h0m1 0h0m0 0h0m0-1h0m1 2h0m0 0h0m0 0h0m0-1h0m0-1h0m0 2h0m1-2h0m0 0h0m0 0h0m0 1h0m0-1h0m0 2h0m1-2h0m0 0h0m0 2h0m1-2h0m0 2h0m0 0h0m0-2h0m0 0h0m0 2h0m0-2h0m0 0h0m1 0h0m0 0h0m0 1h0m1 0h0m0 0h0m0 1h0m1 0h0m0-2h0m0 2h0m0 0h0m0-1h0m1 1h0m0 0h0m0 0h0m1-2h0m0 2h0m1 0h0m0-2h0m0 1h0m1 1h0m0 0h0m3-1h0m1 0h0m1 1h0m0-1h0m0 0h0m0-1h0m0 1h0m0 0h0m1 0h0m1-1h0m1 0h0m0 2h0m0-1h0m0-1h0m1 2h0m0-2h0m1 1h0m0-1h0m0 1h0m1 0h0m1 1h0m0 0h0m0 0h0m1-2h0m0 0h0m0 0h0m0 0h0m-44 4h0m0 0h0m1-1h0m0 1h0m1-1h0m0 0h0m1 1h0m0 0h0m1 0h0m1-1h0m0 1h0m0-1h0m1 2h0m0-1h0m0 0h0m2 0h0m0 1h0m2-2h0m1 1h0m1 1h0m2-1h0m0-1h0m0 0h0m1 2h0m0-1h0m0 0h0m2 0h0m0 0h0m0-1h0m2 0h0m0 2h0m0-1h0m0 0h0m2-1h0m0 2h0m1-1h0m0-1h0m0 0h0m1 2h0m0-2h0m1 0h0m0 0h0m1 0h0m0 0h0m1 2h0m1-1h0m0 0h0m0 1h0m3 0h0m1-2h0m0 1h0m0 0h0m0 1h0m0 0h0m1-2h0m0 2h0m0 0h0m0 0h0m0-1h0m0-1h0m1 1h0m0-1h0m0 2h0m1-1h0m0-1h0m0 0h0m0 1h0m3-1h0m0 2h0m0 0h0m0-2h0m1 2h0m0-1h0m0-1h0m0 1h0m0 1h0m1-1h0m1 0h0m0 0h0m0-1h0m1 1h0m1 0h0m1 0h0m0-1h0m-42 4h0m0 0h0m2-1h0m1 1h0m0-1h0m0 0h0m1 1h0m0 1h0m0-2h0m0 2h0m2-1h0m0-1h0m0 0h0m1 1h0m2-1h0m0 0h0m1 1h0m1-1h0m1 0h0m0 2h0m1 0h0m0-1h0m0 1h0m1-2h0m0 0h0m0 0h0m0 1h0m0-1h0m1 0h0m0 0h0m0 2h0m0-1h0m1 0h0m1 1h0m0-1h0m0 0h0m0 0h0m1-1h0m0 2h0m1 0h0m0-2h0m0 0h0m0 0h0m0 2h0m1-1h0m0 1h0m0 0h0m0-2h0m0 1h0m1 0h0m0 0h0m0 0h0m0 1h0m1-1h0m0 0h0m0-1h0m0 1h0m1 0h0m0 1h0m0-2h0m0 1h0m0-1h0m1 2h0m0-2h0m1 0h0m0 1h0m0 0h0m0 0h0m0 1h0m1-2h0m1 1h0m0-1h0m0 0h0m0 0h0m0 0h0m0 2h0m1 0h0m1-2h0m0 1h0m0 1h0m0 0h0m0-1h0m0-1h0m1 1h0m0 1h0m0-1h0m0 1h0m0-1h0m0-1h0m0 0h0m0 1h0m0 1h0m1 0h0m3 0h0m0 0h0m1-1h0m0 1h0m0 0h0m0-2h0m1 2h0m1-1h0m0 0h0m1 0h0m7 0h0m2 0h0m0 1h0m0-1h0m1-1h0m0 2h0m1-2h0m4 2h0m-51 2h0m1 0h0m0-1h0m1 1h0m0 0h0m1 0h0m0 0h0m0 1h0m1 0h0m0-1h0m1 1h0m0-1h0m1 1h0m0-1h0m0 1h0m0 0h0m0 0h0m1 0h0m0-1h0m1-1h0m0 2h0m0-1h0m0-1h0m0 2h0m0 0h0m0 0h0m1-1h0m1 0h0m0-1h0m0 0h0m0 2h0m0-1h0m1-1h0m0 2h0m0-1h0m0 1h0m1 0h0m0 0h0m2-1h0m0-1h0m0 1h0m1-1h0m0 0h0m0 2h0m1 0h0m2 0h0m0 0h0m0 0h0m1 0h0m0 0h0m1-2h0m1 0h0m0 1h0m0 0h0m1-1h0m0 0h0m1 1h0m0-1h0m0 1h0m1-1h0m0 2h0m0-2h0m1 1h0m0 1h0m0 0h0m0-1h0m1 0h0m0 0h0m0 1h0m1-2h0m3 2h0m0 0h0m1-1h0m3-1h0m7 1h0m5 1h0m0-2h0m1 1h0m0 1h0m7 0h0m10 0h0m-61 1h0m0 0h0m1 0h0m1 1h0m0-1h0m1 2h0m0-2h0m0 1h0m0 1h0m0 0h0m0 0h0m1-2h0m1 1h0m0 1h0m1-2h0m1 0h0m0 2h0m1 0h0m0 0h0m1-2h0m1 1h0m0 1h0m0 0h0m1-2h0m1 2h0m2-2h0m1 2h0m0-2h0m1 2h0m1-2h0m1 2h0m0-1h0m0-1h0m1 2h0m0-1h0m0-1h0m1 2h0m1-2h0m0 1h0m0 0h0m1-1h0m0 2h0m1-1h0m0-1h0m0 1h0m0 0h0m1 1h0m0 0h0m0-2h0m0 1h0m1 1h0m1-1h0m0 0h0m0-1h0m1 2h0m0-1h0m1-1h0m0 2h0m1-2h0m5 1h0m1 0h0m7-1h0m0 2h0m1 0h0m11-2h0m-55 3h0m0 0h0m1 0h0m0 0h0m0 2h0m1-2h0m0 2h0m1-2h0m0 1h0m1-1h0m1 2h0m0 0h0m0 0h0m0-2h0m2 1h0m1-1h0m0 0h0m1 0h0m0 1h0m0 0h0m0 1h0m0-2h0m1 2h0m0-1h0m0 0h0m0-1h0m1 2h0m1 0h0m0 0h0m0-1h0m2-1h0m1 0h0m0 1h0m0 0h0m1 1h0m0-2h0m0 0h0m0 1h0m0 0h0m0 0h0m2-1h0m0 2h0m0-1h0m1 1h0m1 0h0m0-2h0m1 2h0m2 0h0m0-2h0m1 1h0m1 1h0m1-1h0m1 1h0m0 0h0m2 0h0m0 0h0m8-1h0m2 0h0m4 1h0m12 0h0m-53 1h0m0 0h0m0 0h0m1 0h0m0 1h0m1 1h0m1-1h0m0-1h0m0 0h0m1 0h0m1 2h0m1 0h0m2-2h0m1 1h0m0 1h0m1-2h0m0 0h0m0 0h0m1 0h0m0 0h0m0 1h0m1 0h0m0 1h0m0 0h0m1-1h0m0-1h0m0 0h0m1 1h0m0 1h0m0 0h0m1 0h0m1-1h0m0 1h0m2 0h0m1-2h0m0 1h0m0 1h0m1 0h0m0-1h0m0 1h0m1-1h0m0 0h0m0 0h0m1-1h0m0 0h0m0 2h0m0-2h0m1 2h0m0-1h0m0 0h0m0 1h0m1-1h0m0 0h0m0 1h0m1 0h0m0-2h0m1 0h0m0 2h0m1-1h0m7 0h0m1 1h0m5-2h0m1 2h0m1 0h0m0-2h0m0 1h0m0 0h0m0 0h0m1 0h0m1 0h0m0 1h0m1-1h0m0 1h0m2 0h0m0-1h0m1 1h0m1 0h0m0-1h0m0 0h0m0 1h0m1-1h0m0 1h0m1 0h0m0-1h0m0 1h0m0 0h0m2 0h0m1 0h0m0 0h0m0-1h0m0 1h0m2 0h0m0 0h0m1 0h0m0-1h0m0 1h0m2 0h0m2 0h0m-64 2h0m3-1h0m2 2h0m1 0h0m0-1h0m0 1h0m0-2h0m0 2h0m1 0h0m0-2h0m0 2h0m1-2h0m1 1h0m1-1h0m1 2h0m1 0h0m0-1h0m0 0h0m0-1h0m0 0h0m1 1h0m0-1h0m1 1h0m0 1h0m1-2h0m0 1h0m0-1h0m0 2h0m0-1h0m1-1h0m0 1h0m1 1h0m0-2h0m0 2h0m1 0h0m0-2h0m0 1h0m0 1h0m0 0h0m1 0h0m2-1h0m1 0h0m1-1h0m0 1h0m0-1h0m1 2h0m2-1h0m0-1h0m0 2h0m1-1h0m0-1h0m1 1h0m0 0h0m0-1h0m1 1h0m0 0h0m0 1h0m0 0h0m0-2h0m10 2h0m5-2h0m0 2h0m0-1h0m1 1h0m0-1h0m0-1h0m0 1h0m1-1h0m0 2h0m0-1h0m0 0h0m0-1h0m0 1h0m1 0h0m0-1h0m0 1h0m1 1h0m0 0h0m0 0h0m0-1h0m0-1h0m1 2h0m0-2h0m0 1h0m0-1h0m0 0h0m1 1h0m0-1h0m0 2h0m0-2h0m0 1h0m1 1h0m0 0h0m1 0h0m0-1h0m0 0h0m1 1h0m0-1h0m0 1h0m0-1h0m0-1h0m1 2h0m0 0h0m0-1h0m0 0h0m0-1h0m0 0h0m0 2h0m0-2h0m1 1h0m0-1h0m0 1h0m0 0h0m0-1h0m0 0h0m1 1h0m0-1h0m0 1h0m0 1h0m0-1h0m1 1h0m0 0h0m0-1h0m1 0h0m0 0h0m0 1h0m0-1h0m0 0h0m0 0h0m0-1h0m1 1h0m0 0h0m0 0h0m0-1h0m1 0h0m0 0h0m0 2h0m0 0h0m1-2h0m0 0h0m0 1h0m0 0h0m1-1h0m0 2h0m0-1h0m0 0h0m0 0h0m0 0h0m0 1h0m1-1h0m0 0h0m0 0h0m1-1h0m0 1h0m-58 3h0m1 0h0m0-1h0m0 0h0m0 1h0m0-1h0m1 1h0m0 1h0m1-2h0m1 0h0m0 0h0m1 2h0m0 0h0m2-2h0m0 1h0m2-1h0m0 1h0m0-1h0m1 2h0m2 0h0m1-2h0m0 1h0m0 0h0m0 1h0m1 0h0m0-2h0m0 0h0m1 1h0m1 0h0m1-1h0m1 0h0m0 0h0m1 0h0m1 1h0m0 1h0m1-2h0m1 0h0m0 0h0m0 2h0m1-1h0m0 1h0m0-1h0m9-1h0m7 0h0m0 0h0m2 0h0m0 1h0m3-1h0m2 0h0m2 0h0m0 0h0m0 0h0m1 0h0m0 1h0m0-1h0m1 0h0m1 0h0m1 0h0m1 0h0m2 0h0m-53 3h0m0 0h0m0 0h0m1 1h0m0 0h0m0 0h0m3-1h0m1 1h0m0 1h0m0 0h0m0-2h0m0 0h0m1 0h0m1 0h0m1 0h0m0 1h0m0 0h0m1 0h0m0 0h0m1-1h0m0 1h0m0 1h0m1-2h0m2 0h0m0 0h0m0 2h0m0 0h0m1-2h0m2 1h0m0-1h0m0 0h0m0 0h0m1 1h0m0-1h0m0 1h0m2-1h0m0 0h0m1 0h0m0 2h0m0-2h0m12 2h0m5-2h0m2 0h0m-36 3h0m0 1h0m2-1h0m0 1h0m1-1h0m1 1h0m0 1h0m0 0h0m1 0h0m0-1h0m0-1h0m2 2h0m2-1h0m0-1h0m1 0h0m0 1h0m0 0h0m1-1h0m0 0h0m0 1h0m1-1h0m1 0h0m1 0h0m0 1h0m1 1h0m0-2h0m0 2h0m1-1h0m0-1h0m1 0h0m10 0h0m9 0h0m-47 5h0m14-1h0m0 0h0m6 1h0m1-2h0m0 0h0m1 1h0m2 1h0m0 0h0m0 0h0m0-2h0m1 1h0m1 0h0m0 0h0m1-1h0m-18 4h0m1 0h0m0 1h0m1-2h0m0 2h0m2-1h0m1 0h0m5-1h0m1 0h0m1 2h0m1-2h0m0 0h0m0 1h0m0 0h0m1 0h0m0-1h0m1 1h0m1 0h0m-17 4h0m0 0h0m2-1h0m0-1h0m0 2h0m1-2h0m0 2h0m2 0h0m0 0h0m1 0h0m1-2h0m0 0h0m1 1h0m0 1h0m0-1h0m0 0h0m0-1h0m0 1h0m5-1h0m1 0h0m1 0h0m0 2h0m-17 3h0m1-1h0m0 1h0m1-1h0m0 1h0m1-1h0m0-1h0m0 0h0m1 2h0m0-1h0m1 1h0m0 0h0m0-1h0m0 1h0m0-1h0m1-1h0m0 1h0m0-1h0m1 2h0m0-1h0m0 0h0m0 1h0m1-2h0m1 2h0m0-2h0m0 2h0m1-1h0m0 0h0m0-1h0m0 2h0m0-2h0m0 2h0m1-2h0m0 2h0m-14 2h0m0 1h0m1 0h0m1 0h0m1-2h0m0 0h0m1 1h0m0 0h0m1 1h0m2-2h0m0 0h0m0 0h0m1 0h0m1 0h0m1 1h0m2-1h0m1 1h0m-19 4h0m0 0h0m1 0h0m3-2h0m0 2h0m1-1h0m0 0h0m0 1h0m0-1h0m1 0h0m0 0h0m1-1h0m2 0h0m-13 5h0m1 0h0m1 0h0m1-1h0m0 1h0m0-1h0m1 1h0m1-1h0m1-1h0m2 0h0m-11 5h0m1-1h0m0-1h0m0 0h0m0 2h0m1 0h0m0-1h0m0 0h0m1 0h0m0-1h0m0 0h0m0 0h0m1 1h0m-3 2h0" stroke="#e4e4e4" stroke-width="1.84" stroke-linecap="round" fill="none"/>
<path transform="scale(0.5)" d="M841 398h0m-6 3h0m5-1h0m-37 4h0m2-1h0m0 1h0m2-1h0m24-1h0m1 1h0m7 1h0m2-1h0m-39 2h0m10 2h0m1-2h0m40 1h0m-45 2h0m6 1h0m7 0h0m0 0h0m2 0h0m2 0h0m1-1h0m2 1h0m2 0h0m1 1h0m2-1h0m1 0h0m3-1h0m3 1h0m6-1h0m0 2h0m-26 2h0m4 0h0m1-1h0m3 2h0m1-2h0m3 1h0m15 0h0m0-1h0m4 2h0m-27 2h0m0 0h0m1 1h0m4-2h0m0 2h0m2-2h0m0 2h0m0-2h0m2 2h0m2-1h0m13-1h0m2 2h0m-36 2h0m5 1h0m2 0h0m11-1h0m1 0h0m11-1h0m4 0h0m-23 4h0m19-1h0m1 0h0m6 0h0m0 1h0m-39 3h0m5 0h0m12 1h0m10-1h0m-17 4h0m14 0h0m5 0h0m-27 2h0m5 0h0m2-1h0m8 0h0m7 2h0m1 0h0m6 0h0m-28 1h0m1 0h0m7 1h0m2 1h0m2-1h0m1 0h0m2 1h0m0-1h0m1-1h0m3 2h0m3-2h0m19 1h0m-41 4h0m4-1h0m0 0h0m2 0h0m2 1h0m1 0h0m0-2h0m15 2h0m2 0h0m1-2h0m2 2h0m-30 1h0m9 2h0m0-1h0m1 1h0m5-2h0m1 0h0m0 1h0m2 1h0m4 0h0m7 0h0m-30 3h0m9 0h0m0 0h0m12-2h0m36 1h0m-53 2h0m2 0h0m8 0h0m1 0h0m1 1h0m5 0h0m7-1h0m16 1h0m5 1h0m2-1h0m11-1h0m2 2h0m-58 2h0m8 1h0m1-1h0m1-1h0m0 0h0m1 2h0m1-1h0m0 0h0m3-1h0m1 0h0m29 0h0m6 0h0m-47 5h0m0-1h0m4 0h0m3-1h0m9 0h0m-15 3h0m4 1h0m1 1h0m3-2h0m5 2h0m-11 1h0m1 1h0m9 0h0m-6 3h0m2 1h0m-3 2h0m4-1h0m3 0h0m-9 5h0m-5 1h0m2 1h0m17 1h0m18-2h0m-45 4h0m1 1h0m32-2h0m-40 5h0m1-1h0" stroke="#f6cbbd" stroke-width="1.84" stroke-linecap="round" fill="none"/>
<path transform="scale(0.5)" d="M825 408h0m7 3h0m-3 19h0m2 1h0m0 0h0m3-2h0m-12 3h0m17 1h0m19-1h0m-28 3h0m3 1h0m3-1h0m-13 11h0m34-1h0m11 3h0m-28 2h0m-10 5h0m-3 2h0m13-1h0m-10 4h0m-5 3h0m-1 4h0m13-2h0m1 1h0m24 2h0m8 2h0m-35 2h0m22 1h0m4-1h0m-14 2h0m14 2h0m8-2h0m-65 5h0m39 0h0m24-1h0m0 1h0m1-2h0m-17 5h0m3-2h0m-16 3h0m4 0h0m6 1h0m19 1h0m7 0h0m-17 2h0m11-1h0m-3 4h0" stroke="#f19a84" stroke-width="1.84" stroke-linecap="round" fill="none"/>
<path transform="scale(0.5)" d="M842 436h0m4 22h0m2 0h0m3 0h0m-14 2h0m6-1h0m1 0h0m4 2h0m0-1h0m3-1h0m0 1h0m2 1h0m-16 1h0m4 2h0m3-1h0m8 0h0m4 1h0m0-2h0m1 2h0m-21 1h0m0 1h0m1 1h0m9-2h0m0 0h0m1 2h0m1-2h0m3 2h0m3 0h0m2-1h0m1-1h0m1 1h0m1-1h0m2 2h0m0 0h0m2 0h0m1 0h0m1-1h0m-30 4h0m1-1h0m1 0h0m3 0h0m1 1h0m2 0h0m3 0h0m8-2h0m8 0h0m6 1h0m0-1h0m-34 4h0m1 0h0m5 1h0m5 0h0m11-2h0m1 0h0m1 2h0m2-2h0m3 2h0m0 0h0m-31 3h0m3 0h0m4-1h0m0 1h0m1-1h0m0 1h0m0 0h0m0 0h0m2-2h0m0 2h0m3-2h0m2 2h0m2 0h0m1-1h0m1 0h0m1 1h0m1 0h0m4 0h0m2-2h0m0 1h0m2-1h0m4 0h0m0 2h0m4-2h0m2 0h0m1 0h0m0 2h0m-37 3h0m0-2h0m1 1h0m0-1h0m2 0h0m1 2h0m3-2h0m1 1h0m1 0h0m2 0h0m3 1h0m5-2h0m1 0h0m1 2h0m2 0h0m3-2h0m1 1h0m1 1h0m5-1h0m3 1h0m3-1h0m-38 4h0m2 0h0m0-1h0m3-1h0m0 1h0m8-1h0m1 0h0m1 2h0m5-2h0m3 0h0m1 0h0m1 0h0m3 1h0m1-1h0m0 1h0m0 1h0m1-2h0m6 0h0m1 0h0m-32 3h0m1 2h0m5-1h0m1 0h0m2 1h0m5 0h0m1-1h0m4-1h0m1 1h0m2 1h0m1-1h0m-33 2h0m11 0h0m2 2h0m0-2h0m4 0h0m5 1h0m2-1h0m1 1h0m9 1h0m0-2h0m1 2h0m1-2h0m0 0h0m-13 3h0m0 1h0m1 1h0m0-1h0m1 1h0m9-2h0m8 2h0" stroke="#e4604a" stroke-width="1.84" stroke-linecap="round" fill="none"/>
<path transform="scale(0.5)" d="M841 456h0m1 1h0m1-1h0m0 1h0m2 0h0m1-1h0m1 1h0m0 1h0m2 0h0m0-1h0m1 0h0m2 1h0m-16 1h0m3 2h0m4-1h0m2-1h0m2 0h0m1 2h0m2-1h0m3 1h0m1 0h0m0 0h0m0-1h0m1 1h0m0-1h0m3 1h0m-25 1h0m2 1h0m0 1h0m0 0h0m1-1h0m0 0h0m2 1h0m0-2h0m0 1h0m1-1h0m2 1h0m1 1h0m0-2h0m0 2h0m2 0h0m0-2h0m1 1h0m0-1h0m1 1h0m3 1h0m0-1h0m3 1h0m0-1h0m1-1h0m1 0h0m1 2h0m1-1h0m0 1h0m1-1h0m3 0h0m1 1h0m11-1h0m-39 2h0m1 0h0m1 2h0m1 0h0m1-1h0m0 1h0m3 0h0m1-2h0m1 1h0m0 0h0m1 1h0m0 0h0m0-2h0m5 0h0m1 1h0m2 1h0m0-2h0m1 2h0m0-2h0m1 2h0m1-1h0m0 1h0m1 0h0m1 0h0m0-2h0m1 2h0m1-2h0m1 2h0m2-2h0m0 2h0m1-2h0m0 0h0m2 0h0m2 1h0m-32 3h0m0 1h0m3 0h0m0 0h0m0-2h0m1 0h0m3 2h0m0 0h0m1 0h0m1 0h0m1-1h0m2 0h0m3-1h0m2 0h0m2 2h0m1-2h0m0 2h0m3-2h0m0 1h0m1-1h0m1 2h0m0 0h0m1-2h0m3 1h0m2 0h0m-32 2h0m1 2h0m1-1h0m0 0h0m1 0h0m1 0h0m0 0h0m1-1h0m0 1h0m1-1h0m0 0h0m0 0h0m0 2h0m1-2h0m1 2h0m2-2h0m1 1h0m3 0h0m1 0h0m1 0h0m1-1h0m0 1h0m3-1h0m1 1h0m0 0h0m2 1h0m3-2h0m5 1h0m0 0h0m3-1h0m1 1h0m0 0h0m2 1h0m0 0h0m1-1h0m-38 2h0m1 1h0m2-1h0m0 2h0m1 0h0m1-2h0m1 1h0m0 1h0m1-2h0m0 2h0m3-2h0m1 1h0m1 1h0m1-1h0m1 1h0m2-1h0m1-1h0m0 1h0m3 1h0m2-2h0m0 0h0m0 2h0m1-2h0m0 2h0m2-2h0m0 2h0m1-2h0m0 1h0m2 1h0m0-2h0m0 0h0m3 0h0m0 1h0m1 0h0m2 1h0m2-1h0m1-1h0m0 2h0m0-2h0m1 1h0m0-1h0m0 2h0m1-1h0m0-1h0m-37 5h0m1 0h0m0-2h0m2 2h0m1-1h0m1 1h0m2-2h0m3 2h0m3-2h0m5 1h0m0-1h0m1 0h0m0 2h0m1 0h0m2-1h0m1-1h0m1 2h0m0 0h0m5 0h0m0-1h0m1 1h0m1 0h0m1 0h0m0 0h0m0-1h0m4-1h0m1 2h0m0-2h0m1 2h0m-37 3h0m0-2h0m0 1h0m0 1h0m0-2h0m0 1h0m4 0h0m0 0h0m2 0h0m1-1h0m0 2h0m2-2h0m1 2h0m1 0h0m1-2h0m0 0h0m0 0h0m0 1h0m0 0h0m2-1h0m2 2h0m1-1h0m1 0h0m1-1h0m1 2h0m1 0h0m1-1h0m0 1h0m1-1h0m1 0h0m2 1h0m2 0h0m3-2h0m1 2h0m0 0h0m0-1h0m3 0h0m2 1h0m0-1h0m0 1h0m1 0h0m0 0h0m-44 1h0m7 1h0m1-1h0m2 2h0m3-1h0m0-1h0m1 2h0m0-1h0m0 0h0m0 1h0m1-2h0m0 0h0m0 1h0m0 1h0m1-2h0m0 2h0m0-2h0m1 2h0m2-1h0m2-1h0m1 0h0m1 0h0m0 2h0m1 0h0m1-2h0m0 1h0m4-1h0m1 0h0m1 0h0m0 1h0m1 0h0m0 1h0m1-1h0m5 1h0m1 0h0m0 0h0m1-1h0m0-1h0m1 2h0m1 0h0m0 0h0m0-1h0m1 0h0m0 1h0m2-1h0m-33 2h0m0 0h0m1 0h0m1 2h0m2 0h0m2 0h0m4-1h0m0-1h0m0 0h0m2 1h0m0 1h0m3-1h0m1 1h0m0-1h0m0 1h0m4-1h0m2-1h0m0 1h0m1-1h0m1 1h0m-16 2h0m2 0h0m0 2h0m2-1h0m1 0h0m0 0h0m2 0h0m4 0h0m0-1h0m1 0h0m0 0h0m4 0h0" stroke="#cf3326" stroke-width="1.84" stroke-linecap="round" fill="none"/>
<path transform="scale(0.5)" d="M840 455h0m-9 1h0m7 2h0m0 0h0m2 0h0m3-2h0m1 2h0m3-2h0m1 2h0m2 0h0m3-1h0m4 0h0m-24 3h0m1 1h0m3-1h0m0-1h0m0 2h0m1-1h0m1 0h0m0 0h0m1-1h0m4 1h0m1 1h0m0 0h0m1-2h0m1 2h0m1-1h0m2 0h0m2 0h0m0 1h0m1-2h0m0 0h0m1 2h0m0-1h0m1-1h0m0 2h0m1-1h0m0 1h0m1 0h0m-23 1h0m4 0h0m1 0h0m0 2h0m2 0h0m2-2h0m6 0h0m1 2h0m2-2h0m0 0h0m3 1h0m1 0h0m1 0h0m1-1h0m0 1h0m1-1h0m0 0h0m0 0h0m3 2h0m-29 1h0m4 2h0m1-2h0m1 1h0m1 0h0m1 1h0m0 0h0m0-2h0m0 1h0m3 0h0m1 0h0m2 1h0m4-1h0m1-1h0m1 1h0m1-1h0m2 2h0m0-2h0m3 2h0m1-2h0m1 1h0m0 0h0m2 0h0m1 1h0m0-2h0m3 2h0m-36 2h0m3 0h0m0 0h0m0 1h0m0 0h0m0 0h0m3-1h0m0-1h0m3 0h0m3 2h0m1 0h0m1-1h0m2 0h0m1 0h0m1 1h0m0 0h0m1 0h0m1-1h0m1 1h0m0 0h0m4 0h0m1-1h0m0-1h0m2 1h0m1 0h0m1 0h0m2 1h0m0-1h0m0-1h0m3 0h0m0 0h0m0 1h0m1-1h0m1 0h0m-35 5h0m0 0h0m2 0h0m0-2h0m2 1h0m2 0h0m0 1h0m2-2h0m2 1h0m1 1h0m5-2h0m1 0h0m0 0h0m1 2h0m1-2h0m1 2h0m2-1h0m0 0h0m0-1h0m2 0h0m0 0h0m0 0h0m1 1h0m2 0h0m1 1h0m1-2h0m0 0h0m1 0h0m2 0h0m0 0h0m0 0h0m2 1h0m0-1h0m0 2h0m0-1h0m0 0h0m1 1h0m1-1h0m0 1h0m1 0h0m1 0h0m0 0h0m0-1h0m-37 4h0m3-2h0m0 1h0m1-1h0m0 2h0m2 0h0m1 0h0m4-1h0m1 0h0m1-1h0m1 0h0m1 0h0m1 2h0m1-2h0m0 0h0m1 1h0m1 0h0m1 0h0m0 0h0m3-1h0m2 1h0m0-1h0m1 2h0m3 0h0m0-1h0m1 1h0m1-1h0m0 1h0m0 0h0m3 0h0m0-1h0m2 1h0m2-2h0m2 2h0m-41 2h0m2 0h0m0 1h0m2-1h0m0 0h0m0 0h0m0 0h0m1-1h0m0 2h0m1 0h0m1-1h0m4 1h0m0 0h0m2-2h0m4 2h0m1-2h0m1 1h0m0 1h0m1-1h0m2-1h0m2 1h0m4-1h0m0 0h0m1 0h0m0 2h0m0 0h0m0 0h0m1-2h0m0 0h0m1 1h0m1 1h0m2-2h0m0 2h0m2-2h0m1 0h0m1 2h0m1-1h0m1 1h0m1-1h0m0-1h0m-37 4h0m1 1h0m0-2h0m1 2h0m1 0h0m3-1h0m0-1h0m2 1h0m0 1h0m1-2h0m2 2h0m0 0h0m0 0h0m1 0h0m3-2h0m0 0h0m1 0h0m0 2h0m1 0h0m4-2h0m1 2h0m1-1h0m0-1h0m6 1h0m3 1h0m2 0h0m0-2h0m0 1h0m0-1h0m1 2h0m0-2h0m1 2h0m1-1h0m1-1h0m-36 4h0m0-1h0m0 0h0m3 2h0m3-1h0m0 1h0m1-1h0m0-1h0m0 0h0m0 2h0m0-1h0m0-1h0m1 1h0m0 1h0m0-1h0m2-1h0m1 1h0m1 1h0m2-1h0m1 1h0m0-1h0m3 1h0m0-1h0m1 0h0m1-1h0m1 2h0m0-2h0m6 2h0m2-2h0m2 1h0m0 0h0m1-1h0m1 1h0m2 1h0m-32 1h0m0 0h0m0 0h0m2 2h0m0 0h0m0-2h0m1 1h0m0 0h0m0-1h0m1 0h0m0 2h0m0 0h0m1-1h0m0 0h0m0 0h0m1-1h0m1 1h0m1-1h0m2 0h0m1 0h0m0 0h0m1 2h0m0-2h0m3 1h0m3-1h0m1 0h0m0 0h0m1 0h0m0 1h0m1 0h0m0 1h0m4-1h0m0 1h0m2-1h0m1-1h0m1 1h0m3-1h0m1 1h0m-27 3h0m1 0h0m2 0h0m1 1h0m1-2h0m1 0h0m0 0h0m1 1h0m1 1h0m0 0h0m0-1h0m4 1h0m0 0h0m1-1h0m0-1h0m0 1h0m0 0h0m1 0h0m-9 3h0" stroke="#ac1a1b" stroke-width="1.84" stroke-linecap="round" fill="none"/>
<text x="417.3" y="194.6" font-size="7.4" text-anchor="middle" font-style="italic" stroke="#231f20" stroke-width="0.08">MS4A2</text>
<path transform="scale(0.5)" d="M894 397h0m0 1h0m1 0h0m39-2h0m6 2h0m1 0h0m1 0h0m1 0h0m1 0h0m0 0h0m1 0h0m6-2h0m-53 4h0m2 0h0m1 1h0m0-1h0m1 1h0m1 0h0m1 0h0m0 0h0m1 0h0m18 0h0m3 0h0m8 0h0m0 0h0m1 0h0m1-2h0m0 2h0m0-1h0m1-1h0m0 2h0m0-1h0m0 1h0m1-2h0m0 2h0m0 0h0m1-1h0m0 1h0m0 0h0m1-1h0m0 0h0m0 1h0m1-1h0m0 1h0m2-1h0m0 0h0m0 0h0m1-1h0m0 1h0m0 0h0m0 0h0m2 0h0m0 1h0m0 0h0m1-1h0m0-1h0m1 1h0m0 0h0m0 1h0m0-2h0m0 2h0m1-1h0m0 0h0m0-1h0m1 0h0m1 2h0m0 0h0m1-1h0m1 1h0m0 0h0m-51 1h0m0 0h0m0 0h0m0 0h0m1 0h0m1 1h0m0-1h0m0 0h0m1 2h0m0 0h0m0-2h0m1 0h0m0 1h0m0-1h0m0 0h0m0 1h0m0 0h0m0 1h0m0-2h0m0 0h0m0 0h0m1 1h0m1-1h0m0 1h0m0 0h0m0 0h0m0-1h0m1 1h0m0-1h0m0 0h0m0 2h0m1 0h0m1-1h0m14 0h0m2 0h0m0-1h0m1 0h0m0 0h0m0 1h0m0 1h0m0-1h0m1 0h0m0 0h0m2-1h0m0 0h0m0 1h0m0 1h0m1-1h0m0-1h0m0 1h0m0 0h0m0-1h0m1 2h0m0-2h0m0 2h0m0-1h0m0 1h0m0 0h0m1 0h0m0-2h0m0 0h0m0 1h0m1 0h0m0 1h0m0 0h0m1-1h0m1 0h0m1-1h0m0 1h0m1 1h0m0 0h0m1 0h0m0-2h0m0 2h0m1-2h0m0 1h0m1-1h0m1 2h0m0-1h0m0 0h0m1 1h0m2-2h0m0 2h0m0-1h0m1-1h0m0 1h0m0 1h0m1-2h0m2 1h0m0 0h0m0-1h0m1 2h0m0-1h0m0-1h0m1 0h0m0 1h0m0-1h0m3 2h0m-50 1h0m1 0h0m1 0h0m1 2h0m0-2h0m0 1h0m1 1h0m0-1h0m0 0h0m0 0h0m0-1h0m0 0h0m1 0h0m0 2h0m0-1h0m0 1h0m2-1h0m0 1h0m1-2h0m0 1h0m1 1h0m0 0h0m1 0h0m0 0h0m0-2h0m0 0h0m1 1h0m1 1h0m0 0h0m0-2h0m0 0h0m0 0h0m1 1h0m0-1h0m0 0h0m1 2h0m1-1h0m1 0h0m0 1h0m1-1h0m1 1h0m0 0h0m2 0h0m0 0h0m2 0h0m1-2h0m1 0h0m0 1h0m0 1h0m0-2h0m0 1h0m0 1h0m0 0h0m0-2h0m1 0h0m1 2h0m0-1h0m0 0h0m1 0h0m0 0h0m0-1h0m1 2h0m0-1h0m0-1h0m0 2h0m1-2h0m0 1h0m1 1h0m0-1h0m0-1h0m0 0h0m0 1h0m0 0h0m1-1h0m0 2h0m0 0h0m0-2h0m0 1h0m0-1h0m0 1h0m0 1h0m0-2h0m1 2h0m0 0h0m0 0h0m0 0h0m1-1h0m0 0h0m0 0h0m0 0h0m0 0h0m0-1h0m3 0h0m0 2h0m1-2h0m1 1h0m1 1h0m1 0h0m0 0h0m1-2h0m0 2h0m0 0h0m0-2h0m1 2h0m1-1h0m0 1h0m0 0h0m0-2h0m0 1h0m1 1h0m0-1h0m1-1h0m0 0h0m1 1h0m0 0h0m0 0h0m0 1h0m0-2h0m1 1h0m0 1h0m1 0h0m0 0h0m0-2h0m1 0h0m0 0h0m0 2h0m0-1h0m2 0h0m-47 2h0m2 0h0m0 0h0m0 0h0m0 1h0m1-1h0m0 0h0m1 0h0m0 0h0m1 2h0m0-1h0m0-1h0m1 0h0m0 0h0m0 1h0m1 1h0m1 0h0m0-1h0m0-1h0m0 1h0m0-1h0m0 2h0m0-2h0m1 2h0m0-1h0m0 1h0m0 0h0m0-2h0m0 2h0m2-1h0m0 0h0m0-1h0m1 1h0m0 0h0m1-1h0m0 0h0m1 2h0m0 0h0m0-1h0m0 0h0m1 0h0m0 1h0m1-1h0m0 1h0m0-2h0m0 0h0m0 1h0m0 0h0m0-1h0m1 0h0m0 0h0m0 2h0m1-2h0m0 2h0m0-1h0m0 0h0m0 1h0m0-1h0m0-1h0m0 0h0m1 0h0m0 0h0m0 2h0m1-2h0m1 0h0m0 2h0m1-2h0m0 0h0m0 2h0m0 0h0m1 0h0m1-1h0m0-1h0m1 2h0m0 0h0m0-2h0m0 2h0m0-2h0m0 1h0m1 0h0m0 1h0m0 0h0m1-1h0m0-1h0m1 0h0m0 1h0m0-1h0m0 2h0m1-1h0m0-1h0m0 1h0m1-1h0m1 0h0m0 1h0m0 1h0m1 0h0m1-1h0m0-1h0m0 1h0m0-1h0m1 0h0m0 2h0m1-2h0m0 2h0m1-2h0m2 1h0m0 0h0m1 1h0m0-2h0m0 0h0m1 1h0m0 0h0m1 1h0m0-1h0m1 1h0m0 0h0m0 0h0m1 0h0m0-2h0m0 0h0m0 2h0m1-2h0m0 0h0m1 1h0m3-1h0m-49 3h0m6 2h0m1-1h0m1-1h0m1 2h0m0-1h0m1 1h0m0 0h0m0-1h0m1 0h0m0 1h0m1-1h0m1 1h0m1-1h0m0 0h0m0 1h0m2-1h0m0 1h0m1 0h0m0 0h0m0 0h0m0-1h0m0 1h0m1-1h0m0 1h0m0-1h0m1 1h0m0 0h0m0-1h0m0 0h0m1-1h0m0 2h0m0-2h0m1 2h0m0-1h0m1-1h0m0 1h0m1-1h0m0 1h0m0 1h0m1 0h0m1-2h0m0 2h0m0 0h0m0 0h0m1-2h0m0 2h0m0-2h0m0 2h0m0 0h0m0-1h0m0 0h0m0 1h0m0 0h0m0-2h0m1 1h0m0-1h0m0 1h0m0 1h0m0 0h0m0 0h0m0 0h0m0 0h0m0-2h0m1 2h0m0-1h0m0 1h0m0-1h0m0-1h0m0 2h0m1-2h0m0 2h0m0-1h0m0 1h0m0-1h0m1 0h0m0-1h0m1 0h0m1 2h0m0-2h0m0 1h0m1 1h0m0-2h0m0 2h0m1-1h0m0 1h0m0-2h0m0 1h0m1 1h0m2-1h0m0-1h0m0 2h0m2-1h0m1 1h0m0-1h0m1 0h0m0 0h0m0 1h0m1-2h0m0 2h0m0 0h0m0-2h0m0 2h0m4 0h0m2-1h0m1-1h0m0 2h0m-50 1h0m10 0h0m1 0h0m1 2h0m0 0h0m0-1h0m1 0h0m0 1h0m1-1h0m1 1h0m0-1h0m0 1h0m2 0h0m0 0h0m1-1h0m0-1h0m0 1h0m1-1h0m0 0h0m0 0h0m0 0h0m0 1h0m1 1h0m0-1h0m0 1h0m0-1h0m0-1h0m0 2h0m0-2h0m0 1h0m1-1h0m0 0h0m0 2h0m0-1h0m1-1h0m0 1h0m0 1h0m1 0h0m0 0h0m0-2h0m0 0h0m0 1h0m0 1h0m0-2h0m1 0h0m0 2h0m0 0h0m0-2h0m0 1h0m0 1h0m0-2h0m0 1h0m1 0h0m0 0h0m0 0h0m0-1h0m2 1h0m0-1h0m0 2h0m0-2h0m0 1h0m0 1h0m1-2h0m0 0h0m0 2h0m0-1h0m1 1h0m0 0h0m0 0h0m1-2h0m0 2h0m0-1h0m0 1h0m0-2h0m0 1h0m0 1h0m0 0h0m0-1h0m0-1h0m2 1h0m0-1h0m0 2h0m1-2h0m0 1h0m1 0h0m0 0h0m0 0h0m2 0h0m0-1h0m0 1h0m0-1h0m0 2h0m1 0h0m0-2h0m1 2h0m0 0h0m1 0h0m2-2h0m0 1h0m0 1h0m0-1h0m0 0h0m0-1h0m1 0h0m1 1h0m1-1h0m0 1h0m1 1h0m0-1h0m0-1h0m0 2h0m1-2h0m0 1h0m0 1h0m1-1h0m1 0h0m0 1h0m0 0h0m1 0h0m0-2h0m1 1h0m0-1h0m1 0h0m-54 4h0m3-1h0m6 1h0m1 0h0m1 0h0m1-1h0m0 2h0m0 0h0m1-1h0m0-1h0m0 1h0m1 1h0m1 0h0m0-1h0m0 0h0m1 0h0m0 1h0m0 0h0m0 0h0m0-1h0m2 1h0m1-1h0m0-1h0m0 1h0m0 0h0m0 0h0m1 1h0m0-2h0m0 1h0m0-1h0m0 1h0m0-1h0m1 1h0m1-1h0m1 2h0m0-1h0m0-1h0m0 0h0m1 1h0m0 0h0m1 0h0m0-1h0m0 0h0m1 2h0m0-2h0m0 1h0m1 1h0m0-2h0m1 2h0m0-1h0m0 1h0m0 0h0m1-2h0m0 2h0m0-1h0m0 0h0m0-1h0m1 1h0m0 1h0m0-2h0m0 0h0m1 1h0m0 1h0m0-1h0m0 1h0m0-2h0m1 2h0m0-1h0m0 0h0m1 1h0m0-2h0m0 2h0m1 0h0m1-2h0m0 2h0m0 0h0m1-1h0m0-1h0m1 2h0m1-1h0m0-1h0m1 2h0m0 0h0m0-1h0m1-1h0m0 1h0m2 0h0m0 0h0m0 0h0m0-1h0m1 0h0m1 2h0m0 0h0m0-1h0m0-1h0m0 0h0m0 2h0m1 0h0m0-1h0m1 0h0m0 1h0m0-2h0m0 0h0m0 0h0m1 2h0m0-1h0m0 1h0m1 0h0m0 0h0m0-2h0m1 0h0m0 1h0m0 1h0m0-2h0m0 2h0m1 0h0m1-2h0m0 1h0m0-1h0m2 2h0m0-2h0m-44 3h0m0 2h0m0-1h0m1 0h0m1 1h0m1-1h0m1-1h0m1 0h0m1 0h0m1 1h0m2 0h0m0 0h0m0-1h0m1 1h0m0-1h0m1 0h0m1 1h0m2 0h0m1 0h0m0 1h0m0-1h0m0 0h0m1-1h0m0 0h0m0 1h0m0 0h0m1 1h0m0 0h0m1 0h0m0-2h0m1 0h0m0 1h0m0 0h0m0 1h0m0-1h0m1-1h0m1 0h0m0 0h0m0 0h0m1 0h0m0 0h0m1 1h0m0 0h0m0 0h0m0 1h0m0-1h0m0 1h0m0-1h0m0 0h0m1-1h0m0 0h0m1 2h0m3 0h0m1-1h0m0-1h0m1 1h0m0 1h0m0-1h0m1 1h0m0-1h0m1 1h0m0 0h0m1-1h0m0 0h0m0-1h0m0 1h0m1 1h0m0 0h0m1-2h0m0 0h0m0 1h0m1-1h0m0 1h0m1 0h0m2-1h0m1 1h0m1 1h0m0-1h0m0 1h0m2 0h0m0-1h0m1-1h0m0 0h0m0 0h0m-45 5h0m1-1h0m0 0h0m1-1h0m0 1h0m0-1h0m1 1h0m1 1h0m0-2h0m0 0h0m1 1h0m0 1h0m0-1h0m3-1h0m0 0h0m0 0h0m1 0h0m0 2h0m1-1h0m1 1h0m0 0h0m1-2h0m0 2h0m1-1h0m0 1h0m1 0h0m0-2h0m1 1h0m0 0h0m0-1h0m1 2h0m0-1h0m0 1h0m0-2h0m0 2h0m1 0h0m1-1h0m0 0h0m0-1h0m1 1h0m0 1h0m0 0h0m0-1h0m1 1h0m0 0h0m0-2h0m0 1h0m1 1h0m0 0h0m0-2h0m0 0h0m1 0h0m0 0h0m0 0h0m0 1h0m0 1h0m1-1h0m0 1h0m0-2h0m0 0h0m0 0h0m1 2h0m0-2h0m0 0h0m0 2h0m0 0h0m0-2h0m1 2h0m0-1h0m1 0h0m0 0h0m1-1h0m0 1h0m1-1h0m0 2h0m0-2h0m1 2h0m0 0h0m3 0h0m1-1h0m1-1h0m0 1h0m0 0h0m1 0h0m0-1h0m1 1h0m0 0h0m2-1h0m0 1h0m1 1h0m0 0h0m0-2h0m0 0h0m0 0h0m1 1h0m0 1h0m1-1h0m0 0h0m1 1h0m0 0h0m1-2h0m0 0h0m1 1h0m-44 2h0m0 1h0m0 0h0m1 0h0m1 0h0m0-1h0m0 0h0m0 1h0m1 0h0m0 0h0m1-1h0m0 0h0m0 1h0m0 0h0m1 0h0m0 0h0m1 1h0m0-1h0m1 0h0m0 1h0m1-1h0m2-1h0m1 0h0m0 2h0m0-2h0m2 1h0m0-1h0m1 1h0m0 1h0m0-1h0m1 1h0m0 0h0m1-1h0m0 0h0m0-1h0m1 1h0m1-1h0m0 1h0m2-1h0m0 2h0m1-2h0m0 1h0m0-1h0m0 0h0m0 2h0m1-1h0m2-1h0m0 2h0m0-2h0m1 0h0m0 0h0m1 1h0m1 0h0m0 0h0m0 1h0m0 0h0m1-1h0m1 1h0m1 0h0m1 0h0m0-1h0m0-1h0m1 0h0m0 2h0m0-2h0m0 2h0m1-2h0m0 2h0m0-2h0m0 1h0m1 1h0m0-1h0m0 1h0m0-2h0m3 0h0m0 0h0m0 0h0m1 2h0m0-1h0m0-1h0m0 1h0m1 0h0m1 0h0m0 0h0m0-1h0m1 0h0m1 0h0m0 1h0m0 0h0m0 0h0m1-1h0m-45 4h0m3 0h0m0 0h0m2-1h0m0 0h0m0 0h0m1 0h0m1 2h0m2-1h0m0 0h0m2 0h0m0 0h0m1 0h0m1-1h0m0 0h0m0 1h0m0 1h0m1 0h0m1-1h0m0 0h0m1 1h0m0-2h0m0 2h0m0-1h0m1-1h0m0 0h0m0 1h0m0-1h0m0 1h0m1 1h0m0-1h0m1 0h0m0 1h0m1 0h0m1-2h0m0 2h0m0 0h0m0-2h0m1 2h0m0-1h0m0-1h0m1 1h0m0 1h0m0-1h0m0 0h0m1 0h0m1 0h0m0 0h0m0-1h0m0 1h0m0 0h0m1-1h0m0 1h0m0-1h0m0 0h0m1 2h0m0-2h0m1 1h0m0 1h0m1-2h0m0 2h0m1-2h0m0 0h0m1 2h0m0 0h0m1 0h0m0-2h0m1 2h0m0 0h0m0-1h0m0 0h0m1 1h0m1-2h0m0 1h0m0 1h0m1-1h0m0 0h0m0 1h0m1-2h0m0 0h0m0 2h0m1 0h0m1-1h0m0 1h0m0-1h0m0-1h0m1 1h0m0 0h0m0 0h0m1-1h0m0 2h0m-36 2h0m1-1h0m0 1h0m0-1h0m1 1h0m1 0h0m0 0h0m0 1h0m1 0h0m0-2h0m0 1h0m0 1h0m0-1h0m1 0h0m0 1h0m0-1h0m0 1h0m1 0h0m0-1h0m1-1h0m0 2h0m1 0h0m0-2h0m0 2h0m0 0h0m1-2h0m0 0h0m0 2h0m1 0h0m0-2h0m0 2h0m0-1h0m0 1h0m1-1h0m0-1h0m1 2h0m1-2h0m0 2h0m1-1h0m0 0h0m2 0h0m1-1h0m0 2h0m0-2h0m1 2h0m1-2h0m1 1h0m0-1h0m1 2h0m0-2h0m1 0h0m0 2h0m0-1h0m1-1h0m0 0h0m1 2h0m0-1h0m1 0h0m1 1h0m0 0h0m1-2h0m0 1h0m1-1h0m1 0h0m0 2h0m1-2h0m0 2h0m0 0h0m11-1h0m-39 2h0m1 2h0m0-2h0m0 1h0m1-1h0m1 0h0m0 1h0m1 0h0m0 1h0m0-1h0m1-1h0m1 2h0m2 0h0m0-1h0m1-1h0m0 0h0m0 0h0m2 2h0m0 0h0m0-2h0m0 2h0m2 0h0m0 0h0m1-2h0m1 2h0m0 0h0m0 0h0m0-2h0m0 1h0m1 1h0m0-2h0m0 0h0m0 2h0m1 0h0m1 0h0m0 0h0m0-2h0m1 1h0m0-1h0m1 1h0m1 0h0m1-1h0m0 1h0m0-1h0m1 2h0m0-1h0m1 0h0m1 0h0m1 1h0m1 0h0m0-2h0m1 1h0m1-1h0m26 0h0m-55 3h0m0 0h0m0 0h0m1 2h0m3 0h0m1-2h0m2 0h0m0 0h0m1 2h0m1-1h0m0-1h0m0 1h0m0-1h0m0 2h0m1 0h0m2 0h0m0-1h0m1 1h0m1-2h0m0 0h0m0 2h0m2 0h0m0-2h0m0 1h0m0 0h0m0 0h0m0 0h0m2 1h0m0-1h0m0 1h0m1 0h0m0 0h0m0-2h0m1 2h0m0 0h0m1-2h0m1 2h0m1-1h0m0-1h0m1 2h0m1-1h0m1 1h0m1 0h0m0-1h0m1 1h0m1 0h0m-27 1h0m2 2h0m1-2h0m0 0h0m0 1h0m1-1h0m0 2h0m1 0h0m0-2h0m0 2h0m1 0h0m0 0h0m0 0h0m0 0h0m1-1h0m1 1h0m1-1h0m0-1h0m0 0h0m0 0h0m1 1h0m1-1h0m1 0h0m0 1h0m0 1h0m1-2h0m0 2h0m0 0h0m1 0h0m0 0h0m1-1h0m0 1h0m1 0h0m2 0h0m1-1h0m0 1h0m1-1h0m0 1h0m0-1h0m0 0h0m0 1h0m1-1h0m0 1h0m1-1h0m0-1h0m1 2h0m0-1h0m2-1h0m0 0h0m10 2h0m-38 2h0m3-1h0m0 0h0m0 0h0m0 0h0m1 0h0m0 1h0m1-1h0m0 2h0m1 0h0m0-2h0m0 2h0m0 0h0m1-1h0m0 1h0m0-2h0m1 1h0m1 1h0m1 0h0m0 0h0m1 0h0m0-1h0m1 0h0m1 0h0m1 0h0m0 1h0m0-1h0m1-1h0m0 0h0m0 2h0m1-1h0m1 1h0m0-2h0m1 2h0m0 0h0m1 0h0m0 0h0m1-1h0m1 0h0m0 0h0m0 0h0m1-1h0m1 0h0m0 0h0m1 1h0m1-1h0m0 2h0m1-1h0m0-1h0m0 2h0m1-2h0m1 0h0m0 1h0m1 0h0m16 0h0m4 1h0m2-1h0m1 1h0m0 0h0m10-1h0m-57 3h0m1 0h0m0-1h0m0 0h0m0 1h0m1 0h0m0 1h0m0-2h0m1 1h0m1 1h0m1-1h0m0 1h0m0-2h0m3 1h0m0-1h0m0 1h0m1 0h0m0-1h0m1 1h0m1-1h0m0 0h0m0 0h0m2 1h0m0 0h0m0 0h0m0 0h0m1 0h0m0 1h0m1-1h0m0 1h0m0-2h0m1 1h0m0 0h0m1 0h0m0 0h0m0-1h0m0 0h0m1 0h0m2 0h0m2 0h0m0 2h0m-20 1h0m1 0h0m2 0h0m1 0h0m0 2h0m1 0h0m1 0h0m0-1h0m0 1h0m2-2h0m1 1h0m1-1h0m0 2h0m0-1h0m1-1h0m0 2h0m2 0h0m0-1h0m1 1h0m0-2h0m2 1h0m0-1h0m1 1h0m0 1h0m1-1h0m1-1h0m0 0h0m2 0h0m-17 3h0m0 1h0m2-1h0m0 1h0m0-1h0m1 1h0m0 0h0m1 1h0m0-1h0m0 1h0m0-2h0m1 0h0m1 0h0m0 1h0m1-1h0m2 1h0m0-1h0m0 0h0m0 0h0m1 1h0m0-1h0m0 1h0m1-1h0m1 1h0m0 1h0m0-2h0m2 0h0m1 1h0m0-1h0m1 0h0m-27 5h0m12-2h0m0 0h0m2 1h0m0 0h0m0-1h0m6 2h0m0-2h0m2 1h0m0 0h0m1-1h0m1 2h0m0 0h0m0-2h0m0 2h0m1-1h0m1-1h0m0 2h0m0-1h0m-18 3h0m2 1h0m0 0h0m1-2h0m0 2h0m3 0h0m4 0h0m0-2h0m1 0h0m1 0h0m2 0h0m0 0h0m0 0h0m0 1h0m1 0h0m0 0h0m1 0h0m2-1h0m-18 3h0m0 1h0m1-1h0m0 0h0m0 2h0m4-2h0m0 2h0m1-1h0m0-1h0m1 1h0m1 1h0m0-1h0m5-1h0m0 0h0m1 0h0m1 0h0m8 0h0m-25 5h0m1-1h0m0 1h0m1-2h0m1 2h0m0 0h0m0 0h0m0-1h0m1-1h0m1 1h0m0 0h0m2 1h0m0 0h0m1 0h0m0 0h0m1 0h0m0-2h0m1 1h0m0-1h0m0 2h0m0 0h0m1-2h0m6 2h0m17 0h0m-38 3h0m1 0h0m0-1h0m0 1h0m1-1h0m1 0h0m0-1h0m0 2h0m1 0h0m0-2h0m0 0h0m1 1h0m2-1h0m1 0h0m2 1h0m1 0h0m2-1h0m1 1h0m-16 4h0m0 0h0m1-1h0m0-1h0m1 2h0m0-1h0m1 0h0m0 0h0m0-1h0m0 1h0m0-1h0m1 0h0m2 0h0m-13 5h0m1-1h0m0 1h0m1-1h0m0-1h0m4 0h0m35 0h0m14 2h0m7-1h0m-66 4h0m1 0h0m1-1h0m0 1h0m0 0h0m0-2h0m0 0h0m0 1h0m0 1h0m1-1h0m0 0h0m0-1h0m0 0h0m0 1h0m0-1h0m1 0h0m0 0h0m0 1h0m39 6h0" stroke="#e4e4e4" stroke-width="1.84" stroke-linecap="round" fill="none"/>
<path transform="scale(0.5)" d="M900 401h0m1 0h0m4 0h0m0 0h0m29 0h0m1 0h0m0 0h0m1-1h0m0 0h0m2 1h0m7-2h0m1 1h0m1 1h0m-46 1h0m2 1h0m0 0h0m1-1h0m0 0h0m3 1h0m2-1h0m3 2h0m16-2h0m7 0h0m1 1h0m4 1h0m5 0h0m5-1h0m0-1h0m3 0h0m-46 3h0m3 2h0m3-2h0m2 2h0m10 0h0m0 0h0m8-2h0m0 0h0m10 2h0m1 0h0m-34 1h0m5 2h0m1-2h0m1 1h0m5 1h0m1-1h0m2 0h0m0 0h0m1-1h0m1 1h0m1 1h0m0-2h0m4 1h0m3 1h0m1 0h0m1-1h0m3 0h0m0 0h0m5 1h0m1 0h0m-27 1h0m4 2h0m0-2h0m1 0h0m1 0h0m2 1h0m1 0h0m1 1h0m1 0h0m0-2h0m1 2h0m0-2h0m2 0h0m0 0h0m1 0h0m10 0h0m0 2h0m5-2h0m3 2h0m3-1h0m1 1h0m-30 2h0m1-1h0m1 0h0m0 2h0m3-2h0m2 2h0m1-1h0m1 0h0m1 0h0m0 0h0m1-1h0m3 1h0m0 0h0m3-1h0m7 0h0m2 1h0m4 0h0m-39 4h0m0-2h0m4 2h0m2 0h0m5-2h0m0 1h0m0 1h0m1-1h0m0 0h0m1-1h0m2 2h0m1 0h0m1 0h0m6 0h0m4-2h0m5 2h0m4-1h0m-38 3h0m1 1h0m3-1h0m0 0h0m1 0h0m1-1h0m8 2h0m1-1h0m3-1h0m1 1h0m3-1h0m1 0h0m2 1h0m4 1h0m4 0h0m0-2h0m1 0h0m2 1h0m5 1h0m-44 2h0m6-1h0m1 0h0m2 2h0m2-2h0m1 0h0m2 2h0m4 0h0m3 0h0m2 0h0m0-2h0m1 2h0m3 0h0m3 0h0m6 0h0m5 0h0m-26 3h0m8 0h0m0-1h0m1-1h0m4 1h0m5 0h0m0-1h0m3 2h0m2 0h0m1-2h0m-34 3h0m2 0h0m6 0h0m0 0h0m0 2h0m5-1h0m1 1h0m1-1h0m3 0h0m1-1h0m1 1h0m1 0h0m6 1h0m-32 1h0m6 2h0m2-2h0m4 1h0m0 0h0m1 0h0m0 0h0m8-1h0m0 2h0m6 0h0m0 0h0m2-2h0m7 0h0m12 0h0m8 2h0m11 0h0m-60 1h0m1 1h0m0 1h0m1-1h0m4 1h0m1 0h0m1-1h0m7 1h0m5-2h0m1 1h0m1 1h0m3-2h0m-24 3h0m5 0h0m1 1h0m2-1h0m4 1h0m0-1h0m3 0h0m7 2h0m-24 2h0m1-1h0m3 0h0m7 1h0m2 0h0m1 0h0m8-1h0m0 2h0m13-1h0m5-1h0m3 2h0m4-1h0m2 1h0m5-1h0m1 0h0m0 0h0m1 1h0m2 0h0m2 0h0m-47 1h0m2 0h0m2 1h0m4-1h0m4 1h0m2-1h0m9 2h0m6-2h0m0 1h0m2 0h0m0 0h0m1 1h0m1-2h0m1 0h0m0 1h0m0-1h0m1 0h0m3 0h0m1 2h0m2-1h0m2 0h0m0 0h0m6 1h0m-57 1h0m2 0h0m1 0h0m3 2h0m2 0h0m5-2h0m8 2h0m9-2h0m10 0h0m0 0h0m4 0h0m3 0h0m-46 4h0m2 1h0m11-1h0m3-1h0m1 1h0m10 1h0m11-2h0m-35 3h0m2 1h0m0 0h0m8-1h0m3 0h0m2 2h0m25-1h0m-34 3h0m6 1h0m2-1h0m0 0h0m8 1h0m-20 2h0m4 0h0m1 1h0m14-2h0m5 0h0m-26 4h0m0 1h0m2 0h0m7-2h0m3 1h0m1 0h0m1-1h0m13 2h0m5-2h0m-33 5h0m2-2h0m12 2h0m3-2h0m3 2h0m8 0h0m11 0h0m3-1h0m-46 2h0m0 1h0m2 0h0m3 0h0m3-1h0m22 2h0m14-2h0m-50 3h0m24 0h0m4 2h0m8-1h0m13-1h0m0 0h0m1 0h0m5 1h0m0 1h0m-61 3h0m0 0h0m4-1h0m22-1h0m7 0h0m8 0h0m5 2h0m2-2h0m3 0h0m-17 3h0m12 0h0m-12 3h0m2 2h0m6 0h0m10 0h0m1-1h0m-20 4h0m2 0h0m3-2h0m0 1h0m1-1h0m2 0h0m4 1h0m2-1h0m0 1h0m2 0h0m16 1h0m-5 2h0m-14 2h0m5 2h0" stroke="#f6cbbd" stroke-width="1.84" stroke-linecap="round" fill="none"/>
<path transform="scale(0.5)" d="M942 398h0m-41 3h0m48-1h0m-41 2h0m33 0h0m9 0h0m-34 3h0m0 2h0m21-2h0m7 2h0m-21 1h0m1 1h0m7 4h0m-4 3h0m3 0h0m0-1h0m14-1h0m-14 4h0m5 0h0m5 1h0m12 2h0m-34 4h0m3-1h0m7-1h0m4 0h0m2 0h0m0 1h0m18 3h0m-36 3h0m10-1h0m4 1h0m3-1h0m1 2h0m2-2h0m1 2h0m2 0h0m1-2h0m19 1h0m1 0h0m0-1h0m1 0h0m7 1h0m-44 2h0m6 2h0m30 0h0m2-1h0m0 1h0m16 0h0m-58 1h0m14 0h0m1 1h0m16 0h0m5-1h0m3 0h0m-41 3h0m3 2h0m0-2h0m4 2h0m1 0h0m7-2h0m2 2h0m5-2h0m0 0h0m20 0h0m2 1h0m-30 3h0m28 1h0m1-1h0m1 1h0m1-1h0m0 1h0m1-1h0m1 1h0m1 0h0m1-1h0m0 0h0m1 0h0m1 1h0m2-1h0m2 0h0m0 0h0m2 1h0m1-1h0m3 1h0m-56 3h0m17 0h0m20-2h0m1 2h0m0 0h0m1-1h0m1 0h0m2 1h0m2 0h0m1 0h0m0-1h0m1 1h0m0-2h0m1 1h0m1 1h0m0-2h0m1 2h0m0-2h0m1 0h0m0 2h0m0-1h0m1 0h0m1-1h0m1 1h0m0 1h0m2 0h0m-48 2h0m1-1h0m8 1h0m11 0h0m11-1h0m3 0h0m2 0h0m3 0h0m2 0h0m1 0h0m2 0h0m3 0h0m-38 4h0m-8 4h0m0 0h0m5-1h0m3-1h0m1 2h0m2 3h0m2-2h0m1 0h0m1 0h0m1 2h0m1 0h0m1-2h0m1 2h0m1 0h0m3 0h0m-22 1h0m4 1h0m2 0h0m0-1h0m9 2h0m1-1h0m4 1h0m2-2h0m2 2h0m1 0h0m1 0h0m-31 3h0m0-2h0m2 2h0m8-1h0m2 0h0m0 0h0m5 1h0m0-2h0m0 2h0m0 0h0m1 0h0m1 0h0m1 0h0m0-1h0m0-1h0m1 2h0m0-1h0m4 0h0m1 1h0m2 0h0m0-1h0m2 1h0m1-1h0m2-1h0m1 0h0m-35 5h0m1-1h0m9 1h0m2 0h0m1 0h0m4-1h0m0-1h0m6 0h0m1 2h0m0-2h0m2 1h0m0-1h0m3 1h0m4 1h0m1 0h0m1-2h0m3 1h0m3 1h0m-47 2h0m6-1h0m10 2h0m1-1h0m0 1h0m2-1h0m4 0h0m11 0h0m0 0h0m0-1h0m1 1h0m8-1h0m0 0h0m2 0h0m3 0h0m3 0h0m1 2h0m-37 1h0m2 0h0m0 0h0m0 1h0m0 0h0m1 0h0m1 0h0m2-1h0m1 1h0m0 1h0m3-1h0m0-1h0m0 2h0m1 0h0m1 0h0m3-1h0m3-1h0m0 0h0m2 0h0m2 1h0m1-1h0m0 0h0m1 0h0m0 0h0m2 0h0m1 1h0m1-1h0m6 1h0m3 1h0m2 0h0m-63 3h0m1-2h0m25 1h0m1-1h0m2 0h0m1 0h0m0 2h0m1 0h0m1-1h0m1-1h0m1 2h0m8-2h0m2 1h0m3 0h0m2-1h0m1 0h0m2 2h0m1 0h0m0-2h0m1 1h0m7-1h0m1 2h0m0 0h0m1 0h0m1 0h0m-39 2h0m1 1h0m0 0h0m2-1h0m0-1h0m3 2h0m1-1h0m1 1h0m0-2h0m1 1h0m1 1h0m0-1h0m1 1h0m2 0h0m0-1h0m0-1h0m3 2h0m0 0h0m2-2h0m0 1h0m1 0h0m0 0h0m0 0h0m1 1h0m6 0h0m3-1h0m0 1h0m1 0h0m1-1h0m1 1h0m3-2h0m0 1h0m1-1h0m3 0h0m1 2h0m0 0h0m-37 1h0m0 1h0m2 1h0m1 0h0m0-1h0m9-1h0m1 0h0m2 2h0m1-2h0m0 2h0m1 0h0m0 0h0m5 0h0m3-2h0m3 1h0m2-1h0m5 0h0m2 2h0m0-1h0m1 1h0m-44 1h0m7 0h0m0 0h0m2 0h0m3 2h0m1-1h0m0 1h0m1-1h0m1 1h0m1-2h0m0 2h0m1-1h0m1 1h0m1-2h0m2 2h0m1 0h0m2-1h0m0 0h0m1 0h0m3-1h0m3 1h0m6 1h0m2 0h0m0-1h0m2 1h0m0 0h0m0-1h0m1 0h0m2 1h0m-33 1h0m1 0h0m0 0h0m1 2h0m1 0h0m1 0h0m0 0h0m1 0h0m2 0h0m3 0h0m0-2h0m1 0h0m1 2h0m3-1h0m0 0h0m1 1h0m1-2h0m2 0h0m0 0h0m3 2h0m3 0h0m1-2h0m3 2h0m1-2h0m-24 3h0m4 2h0m3-1h0m1 0h0m2 1h0m4 0h0m3-1h0m1 0h0m5-1h0m-17 4h0" stroke="#f19a84" stroke-width="1.84" stroke-linecap="round" fill="none"/>
<path transform="scale(0.5)" d="M951 401h0m-18 14h0m0 1h0m1 4h0m2 0h0m17 16h0m14 0h0m5 4h0m-49 3h0m38-2h0m0 2h0m5 0h0m2 0h0m1 0h0m2-1h0m2 0h0m0 1h0m3 0h0m-45 2h0m29 0h0m0-1h0m0 1h0m0 1h0m1 0h0m1-1h0m2 0h0m0-1h0m4 1h0m1 0h0m3 0h0m1 0h0m0-1h0m0 0h0m1 2h0m2-2h0m0 0h0m0 0h0m1 1h0m0 0h0m0-1h0m0 1h0m0 0h0m0 0h0m1-1h0m1 1h0m0 1h0m0-2h0m1 1h0m-10 3h0m2-1h0m2 0h0m0 0h0m1 0h0m1 0h0m-21 5h0m7-1h0m1 1h0m1-2h0m-24 4h0m-6 2h0m9 2h0m2-2h0m0 1h0m1 1h0m1 0h0m1 0h0m0-1h0m2-1h0m1 2h0m8-1h0m-21 4h0m2-2h0m0 0h0m0 2h0m2 0h0m2-1h0m3-1h0m0 2h0m1-2h0m2 2h0m3-1h0m0 0h0m1 1h0m1-2h0m1 2h0m1-1h0m2 0h0m1 1h0m-25 2h0m0 1h0m1-2h0m1 0h0m0 2h0m1 0h0m1-2h0m7 0h0m8 0h0m1 1h0m0 1h0m1-2h0m1 0h0m1 1h0m0-1h0m0 2h0m1-1h0m1 1h0m0-1h0m2 0h0m0 0h0m0 0h0m3 1h0m13-2h0m-41 3h0m1 0h0m1 1h0m0 0h0m2 0h0m2-1h0m0 2h0m0 0h0m0-1h0m2 0h0m0 0h0m1 1h0m0-2h0m1 1h0m2-1h0m0 2h0m1 0h0m1-2h0m0 1h0m3-1h0m0 2h0m1 0h0m1 0h0m2-2h0m0 1h0m0-1h0m1 0h0m2 2h0m3-2h0m2 2h0m1-2h0m0 0h0m2 1h0m-35 3h0m2-1h0m0 2h0m2 0h0m1 0h0m0 0h0m1-2h0m0 2h0m3-2h0m1 1h0m1 1h0m2-1h0m5 0h0m1 0h0m0 1h0m1 0h0m1 0h0m1 0h0m0-1h0m3-1h0m0 2h0m1-2h0m0 1h0m0-1h0m0 0h0m2 2h0m2-1h0m2 1h0m2-1h0m0 0h0m2-1h0m-33 4h0m0 0h0m1 0h0m2-1h0m0 2h0m2 0h0m1 0h0m7-1h0m0-1h0m5 0h0m0 2h0m2-1h0m1 0h0m2 1h0m1-1h0m0 0h0m3-1h0m0 1h0m1-1h0m1 2h0m1 0h0m0-2h0m0 2h0m0-2h0m2 0h0m1 0h0m1 2h0m1 0h0m1 0h0m-61 2h0m23 1h0m7 0h0m1 0h0m0 0h0m1 0h0m4-1h0m0 1h0m0-2h0m1 2h0m1-2h0m2 2h0m2-1h0m1 0h0m0 1h0m1-2h0m0 1h0m1 1h0m2 0h0m0 0h0m1 0h0m1-1h0m1 0h0m1-1h0m1 2h0m2-1h0m4 0h0m2-1h0m1 2h0m1-1h0m1 0h0m0-1h0m0 2h0m1 0h0m-40 2h0m2 1h0m4-1h0m2 1h0m1 0h0m5-1h0m2 1h0m3 0h0m0-2h0m1 1h0m1 1h0m0 0h0m1-2h0m2 2h0m0 0h0m1-1h0m2-1h0m0 0h0m0 0h0m1 0h0m2 0h0m1 0h0m2 2h0m1 0h0m4 0h0m0-1h0m2-1h0m0 2h0m-38 3h0m1 0h0m0 0h0m0-1h0m1 0h0m3 1h0m0-1h0m5 1h0m1 0h0m1 0h0m0-2h0m0 2h0m3-1h0m0-1h0m0 0h0m4 0h0m3 1h0m0 1h0m2-1h0m0-1h0m1 1h0m1 0h0m0 0h0m4 1h0m5 0h0m1-1h0m0 1h0m-33 1h0m3 0h0m1 0h0m1 1h0m0-1h0m2 1h0m0-1h0m0 2h0m0-2h0m1 0h0m0 0h0m1 2h0m2-1h0m0 0h0m1 1h0m1-2h0m2 2h0m1 0h0m0 0h0m0 0h0m2 0h0m2-1h0m1-1h0m1 2h0m0-1h0m1-1h0m2 0h0m0 0h0m3 2h0m1-2h0m1 2h0m1-1h0m1 0h0m2 0h0m0 0h0m2 0h0m-43 2h0m9 0h0m2 0h0m1 0h0m1 0h0m1 1h0m1-1h0m0 1h0m0 1h0m2-1h0m4 0h0m0-1h0m1 0h0m1 2h0m0-1h0m2 0h0m1 0h0m4 0h0m2 0h0m1-1h0m0 0h0m3 0h0m2 1h0m5-1h0m-27 4h0m0-1h0m3 0h0m1 1h0m3 0h0m0 0h0m0-1h0m0 1h0m0 0h0m1 0h0m0 0h0m1 1h0m0 0h0m4-2h0m0 2h0m1-2h0m0 0h0m0 0h0m0 1h0m0 0h0m-5 3h0m16 0h0" stroke="#e4604a" stroke-width="1.84" stroke-linecap="round" fill="none"/>
<path transform="scale(0.5)" d="M962 435h0m2 7h0m4 1h0m1-1h0m0 0h0m9 1h0m-16 1h0m4 2h0m0-1h0m3-1h0m1 1h0m0-1h0m3 1h0m2 0h0m-11 2h0m-24 11h0m3-2h0m8 2h0m2 0h0m0-1h0m0 0h0m-16 3h0m10 1h0m6-1h0m2 1h0m1 0h0m0 0h0m0 0h0m1-1h0m2 1h0m1 0h0m-19 1h0m4 1h0m0-1h0m1 0h0m8 0h0m1 2h0m3 0h0m1-2h0m3 0h0m-27 3h0m4 2h0m6 0h0m9-2h0m0 1h0m3 0h0m4-1h0m1 2h0m1 0h0m1-1h0m0-1h0m1 0h0m0 2h0m-29 2h0m0 1h0m4-2h0m5 0h0m0 2h0m0 0h0m2-1h0m1 1h0m3-1h0m2 0h0m2 1h0m4-1h0m2-1h0m2 0h0m7 1h0m2 1h0m-33 2h0m0 0h0m8 0h0m3 0h0m2-1h0m1 2h0m0-1h0m4 0h0m0 1h0m2 0h0m0-2h0m2 2h0m3 0h0m3-2h0m2 1h0m1 0h0m0-1h0m0 1h0m-33 4h0m1 0h0m4-1h0m4-1h0m1 1h0m2 0h0m3-1h0m1 2h0m1 0h0m3-2h0m1 0h0m3 1h0m1 0h0m2-1h0m2 2h0m2 0h0m0 0h0m4-1h0m3 0h0m-36 3h0m0 0h0m6-1h0m1 0h0m7 1h0m1-1h0m2 0h0m0 2h0m1-2h0m1 2h0m2-2h0m1 1h0m0 1h0m4-2h0m0 2h0m1-1h0m0-1h0m3 1h0m1 1h0m4 0h0m1-1h0m2 0h0m-37 4h0m8 0h0m3-2h0m2 0h0m0 2h0m3-2h0m2 1h0m0 0h0m2 0h0m2 0h0m0-1h0m0 2h0m0-1h0m4 0h0m1-1h0m2 0h0m2 2h0m2-2h0m3 1h0m1 1h0m-39 1h0m6 2h0m0 0h0m2 0h0m0 0h0m1 0h0m1 0h0m2-2h0m3 2h0m3-1h0m4 0h0m2-1h0m1 0h0m0 0h0m3 0h0m0 2h0m1-1h0m2 1h0m2-1h0m-28 2h0m3 2h0m0 0h0m1-2h0m1 2h0m1 0h0m1-1h0m1-1h0m4 2h0m1 0h0m3-1h0m3-1h0m1 0h0m2 1h0m2 1h0m1-2h0m1 1h0m5 0h0m4 0h0m-27 2h0m0 1h0m4 0h0m0-1h0m0 2h0m2 0h0m0-1h0" stroke="#cf3326" stroke-width="1.84" stroke-linecap="round" fill="none"/>
<path transform="scale(0.5)" d="M968 431h0m2 13h0m-32 16h0m2 0h0m13 0h0m-17 2h0m12 0h0m9 1h0m2 4h0m-4 3h0m11-1h0m-29 3h0m24 0h0m-25 4h0m17-2h0m9 0h0m11 0h0m2 0h0m-17 3h0m1 1h0m8 1h0m-5 3h0m2-2h0m11 0h0m1 2h0m2-2h0m-35 5h0m17-1h0m12 1h0m-23 1h0m1 1h0m3-1h0m10 3h0m4 0h0" stroke="#ac1a1b" stroke-width="1.84" stroke-linecap="round" fill="none"/>
<text x="468.59999999999997" y="194.6" font-size="7.4" text-anchor="middle" font-style="italic" stroke="#231f20" stroke-width="0.08">FCER1G</text>
<defs><linearGradient id="redsg" x1="0" y1="1" x2="0" y2="0"><stop offset="0" stop-color="#ffffff"/><stop offset="0.25" stop-color="#fcbba1"/><stop offset="0.5" stop-color="#f2603f"/><stop offset="0.75" stop-color="#c0161c"/><stop offset="1" stop-color="#67000d"/></linearGradient></defs>
<rect x="505.4" y="162.9" width="3" height="51.2" fill="url(#redsg)" stroke="#000" stroke-width="0.6"/>
<text x="499.8" y="159" font-size="6.8" stroke="#231f20" stroke-width="0.08" textLength="14.4" lengthAdjust="spacingAndGlyphs">High</text>
<text x="500.4" y="221" font-size="6.8" stroke="#231f20" stroke-width="0.08" textLength="12.9" lengthAdjust="spacingAndGlyphs">Low</text>
<text x="89.2" y="137.3" font-size="8.6" stroke="#231f20" stroke-width="0.08" textLength="34.6" lengthAdjust="spacingAndGlyphs">Post-sort</text>
<text x="26.5" y="150.2" font-size="8.5" stroke="#231f20" stroke-width="0.08" textLength="63.9" lengthAdjust="spacingAndGlyphs">Lin<tspan dy="-2.8" font-size="6.4">−</tspan><tspan dy="2.8"> </tspan>CD34<tspan dy="-2.8" font-size="6.4">+</tspan><tspan dy="2.8"> </tspan>c-Kit<tspan dy="-2.8" font-size="6.4">+</tspan></text>
<rect x="22.2" y="153.2" width="73.3" height="72.6" fill="none" stroke="#111" stroke-width="1"/>
<path d="M19.2 154.0H22.2M20.6 157.8H22.2M20.6 161.7H22.2M20.6 165.5H22.2M19.2 169.4H22.2M20.6 173.2H22.2M20.6 177.1H22.2M20.6 180.9H22.2M19.2 184.8H22.2M20.6 188.6H22.2M20.6 192.5H22.2M20.6 196.3H22.2M19.2 200.2H22.2M20.6 204.0H22.2M20.6 207.9H22.2M20.6 211.7H22.2M19.2 215.6H22.2M20.6 219.4H22.2M20.6 223.3H22.2" stroke="#111" stroke-width="0.8"/>
<path d="M26.2 225.8v1.6M30 225.8v1.2M33.5 225.8v1.2M36.5 225.8v2M37.6 225.8v2M38.8 225.8v2M45.3 225.8v1.6M56 225.8v1.2M66 225.8v1.2M76 225.8v1.6M86 225.8v1.6" stroke="#111" stroke-width="0.8"/>
<path d="M38.3 225.8V155.6" stroke="#1d5b9c" stroke-width="1.5"/>
<path d="M22.5 225.6H74Q77 222.8 79 223.6T82 225.6H95.3" stroke="#d0103a" stroke-width="1" fill="none"/>
<path d="M35.2 209.2H41.8M35.2 208V210.4M41.8 208V210.4" stroke="#1d5b9c" stroke-width="0.8" fill="none"/>
<path d="M72.2 209.2H89.4M72.2 208V210.4M89.4 208V210.4" stroke="#d0103a" stroke-width="0.8" fill="none"/>
<text x="41.0" y="203.5" font-size="7.2" fill="#1d5b9c" stroke="#1d5b9c" stroke-width="0.08" textLength="14.6" lengthAdjust="spacingAndGlyphs">70.7</text>
<text x="73.0" y="203.5" font-size="7.2" fill="#d0103a" stroke="#d0103a" stroke-width="0.08" textLength="15" lengthAdjust="spacingAndGlyphs">29.3</text>
<text x="32.7" y="240.0" font-size="8.4" stroke="#231f20" stroke-width="0.08" textLength="51.9" lengthAdjust="spacingAndGlyphs">PE-oligonucleotide</text>
<text x="14.0" y="199.0" font-size="8.4" stroke="#231f20" stroke-width="0.08" textLength="19.2" lengthAdjust="spacingAndGlyphs" transform="rotate(-90 14 199)">Counts</text>
<path d="M95.5 165.8H114.5" stroke="#111" stroke-width="1"/>
<path d="M118.5 165.8l-4.3-2.1v4.2z" fill="#000"/>
<rect x="118.5" y="152.8" width="73.4" height="72.9" fill="none" stroke="#111" stroke-width="1"/>
<path d="M115.9 156.0H118.5M117.1 160.0H118.5M117.1 164.0H118.5M117.1 168.0H118.5M115.9 172.0H118.5M117.1 176.0H118.5M117.1 180.0H118.5M117.1 184.0H118.5M115.9 188.0H118.5M117.1 192.0H118.5M117.1 196.0H118.5M117.1 200.0H118.5M115.9 204.0H118.5M117.1 208.0H118.5M117.1 212.0H118.5M117.1 216.0H118.5M115.9 220.0H118.5M117.1 224.0H118.5M119.5 225.7v1.4M122 225.7v1.4M131.5 225.7v2M132.4 225.7v2M133.3 225.7v2M140 225.7v1.4M147 225.7v1.4M152 225.7v2.2M163 225.7v1.4M170 225.7v2.2M181 225.7v1.4M186 225.7v1.4" stroke="#111" stroke-width="0.7"/>
<path d="M134.4 183.2h0m.5-.2h0m.1 .5h0m.4-.1h0m.2-.4h0m21.2-.1h0m-24.8 1.1h0m2.7 .1h0m.6-.5h0m.8 .1h0m0 0h0m.4 .2h0m.6-.1h0m.7-.2h0m1.1 .3h0m-5.3 1.3h0m.6 0h0m.8 .1h0m.3-.8h0m.1 .8h0m.2-.2h0m.2-.3h0m-1.6 1.4h0m.2-.9h0m.4 .8h0m.2-.3h0m.4-.4h0m.4 .3h0m.5 .3h0m-2.3 .5h0m1.1-.1h0m.3 .6h0m1.4 .1h0m9.9-.4h0m-11.9 1h0m.7 .2h0m1.5 .3h0m16.5-.7h0m-17.7 1.6h0m0-.5h0m.1 .7h0m.5-.5h0m.1 .3h0m.4 .1h0m.1-.5h0m-2.3 1.3h0m.5 .1h0m.4-.6h0m.5 .1h0m1.1 .5h0m.5-.5h0m.3 .7h0m19.8-.5h0m-23.3 .7h0m.2 .2h0m.2-.3h0m.3 .6h0m1.2-.3h0m.6 0h0m10.7-.2h0m7 .3h0m-20.4 1.2h0m0 .3h0m.3-.3h0m1.8 .4h0m.7-.8h0m1 0h0m15.8-.1h0m-20.7 1.4h0m.7 .3h0m.1-.5h0m.6 .5h0m.8-.4h0m.3 .2h0m.1-.5h0m1.7 0h0m.1 .5h0m-2.3 .4h0m.1 .7h0m.5 .1h0m.4-.9h0m.4 0h0m.7 .1h0m1.2 .4h0m-4.1 .6h0m.4 .8h0m.1-.8h0m.1-.1h0m.7 .6h0m.2 .2h0m.3-.2h0m2.1 .4h0m.4-.9h0m6 0h0m-10 1.5h0m.6-.3h0m.2 .4h0m.4-.5h0m.1 .3h0m.5 .2h0m.1-.1h0m.3 .3h0m1.6-.3h0m1.3-.4h0m5.1-.1h0m-11.1 1.3h0m.6-.2h0m.3 .1h0m.3 .2h0m.3-.4h0m.6 .9h0m0-.5h0m.2 .3h0m0-.7h0m12.3 .8h0m.6-.1h0m-14.8 .9h0m.3 .3h0m2.1-.6h0m.5 0h0m.2 .1h0m.2-.1h0m1-.2h0m-3.6 1.4h0m0-.1h0m.3-.2h0m.3 .4h0m.6-.4h0m2.2 .5h0m-4.6 .7h0m.8 .2h0m.1-.4h0m.4 .1h0m.6-.3h0m.3 .6h0m.4 0h0m0 .3h0m.3-.7h0m-.4 1h0m.8 .1h0m.2-.1h0m-2.5 .9h0m.8 .5h0m0-.4h0m.9-.1h0m.3 .1h0m.8 .6h0m-3.6 1h0m.8-.1h0m.8 .2h0m.3-.8h0m.2 .1h0m0 .4h0m.4-.4h0m.5 .4h0m-1.9 1h0m.1-.1h0m.4-.5h0m.2 .4h0m.3 .2h0m.2 .1h0m.7-.6h0m1.1 .3h0m.4-.2h0" stroke="#1d5b9c" stroke-width="1.25" stroke-linecap="round" fill="none"/>
<path d="M151.0 173.2h0m-3.7 1.1h0m4.1 .2h0m-5.9 .9h0m.6-.4h0m4.1 .3h0m.9-.5h0m3.7 .5h0m-6.1 .3h0m3.7 .2h0m.4-.1h0m.2 .2h0m3.7 .5h0m2.7-.6h0m-7.8 1.5h0m3 .1h0m-7.3 1.2h0m9.6-.7h0m-10.6 1.6h0m8.3-.8h0m3 .3h0m.4 .5h0m1.3-.6h0m-16.4 1.2h0m1.6-.3h0m.8 .1h0m1.3 .3h0m.3-.4h0m4.2 .2h0m.2-.3h0m2.9 0h0m.4 .3h0m.3 .4h0m3.3-.7h0m1.3 .6h0m-18.8 .9h0m6.7-.2h0m3.3-.6h0m2.8 .2h0m-10.5 .9h0m3.9-.1h0m3.8 .8h0m0 0h0m2-.4h0m1.9-.1h0m.3-.2h0m.3 .8h0m2.9-.4h0m2.6-.2h0m-10.9 1.2h0m11 .1h0m2.1 .1h0m-18.2 .8h0m9.2-.3h0m-13.5 .7h0m4.3 .5h0m2.5-.6h0m4.2 .2h0m.9 .1h0m1.6 .6h0m-11.2 .3h0m.2 .5h0m2.4 .1h0m2.5-.5h0m1.4 .6h0m3.8-.1h0m.8 0h0m6-.3h0m-19.5 1.1h0m.3 0h0m8.4-.4h0m2.8 0h0m.1 .5h0m1.9-.5h0m.8 .5h0m.9-.8h0m.1 .5h0m5.3-.1h0m.1-.3h0m1.1 .7h0m-16.8 .5h0m.2 .4h0m1.8-.8h0m.7 .5h0m.1 0h0m.6-.2h0m1.7-.1h0m.2 .4h0m.7 0h0m.1-.3h0m.2 .7h0m2-.9h0m8.7 .3h0m-20.9 1.1h0m1.8 .1h0m8-.5h0m.5 .6h0m1.9-.1h0m3-.6h0m3.5 0h0m.3 .5h0m-16.4 1.1h0m2.6 0h0m7.1 0h0m1.8 .2h0m.2-.8h0m.7 .2h0m2.5 .4h0m-13.2 .3h0m6.8 .9h0m1.4-.7h0m3.3 .1h0m2 0h0m-18 1.4h0m2.8-.3h0m6.4-.3h0m.7 .6h0m6.3-.3h0m-9.8 .9h0m2.5 .1h0m1-.4h0m2.8 .5h0m1.5-.2h0m.3 0h0m0 .2h0m-13 .8h0m6.8 .4h0m1.5-.6h0m-5.5 1.4h0m2.2-.1h0m1.6 .3h0m-.5 1h0m.9-.4h0m1.5 .4h0m-4.2 .3h0" stroke="#c8102e" stroke-width="1.3" stroke-linecap="round" fill="none"/>
<text x="112.2" y="197.5" font-size="8.4" stroke="#231f20" stroke-width="0.08" textLength="14.8" lengthAdjust="spacingAndGlyphs" transform="rotate(-90 112.2 197.5)">c-Kit</text>
<text x="147" y="240.2" font-size="8.4" stroke="#231f20" stroke-width="0.08" textLength="17" lengthAdjust="spacingAndGlyphs">FcεRI</text>
<filter id="vfI" filterUnits="userSpaceOnUse" x="44.2" y="350.8" width="225.0" height="303.99999999999994" color-interpolation-filters="sRGB">
<feTurbulence type="fractalNoise" baseFrequency="0.8 0.26" numOctaves="2" seed="3" result="n"/>
<feColorMatrix in="n" type="matrix" values="1 0 0 0 0 1 0 0 0 0 1 0 0 0 0 0 0 0 0 1" result="g"/>
<feComposite in="SourceGraphic" in2="g" operator="arithmetic" k1="0.000" k2="1.000" k3="0.32" k4="-0.160" result="s"/>
<feComponentTransfer in="s"><feFuncR type="table" tableValues="0.267 0.282 0.255 0.208 0.165 0.129 0.133 0.267 0.478 0.741 0.992"/><feFuncG type="table" tableValues="0.004 0.141 0.267 0.373 0.471 0.569 0.659 0.749 0.820 0.875 0.906"/><feFuncB type="table" tableValues="0.329 0.459 0.529 0.553 0.557 0.549 0.518 0.439 0.318 0.149 0.145"/><feFuncA type="linear" slope="0" intercept="1"/></feComponentTransfer>
</filter>
<defs><linearGradient id="gi0"><stop offset="0.000" stop-color="#121212"/><stop offset="0.219" stop-color="#141414"/><stop offset="0.489" stop-color="#181818"/><stop offset="0.501" stop-color="#464646"/><stop offset="0.740" stop-color="#4d4d4d"/><stop offset="1.000" stop-color="#585858"/></linearGradient><linearGradient id="gi1"><stop offset="0.000" stop-color="#0f0f0f"/><stop offset="0.219" stop-color="#121212"/><stop offset="0.489" stop-color="#1c1c1c"/><stop offset="0.501" stop-color="#4a4a4a"/><stop offset="0.740" stop-color="#515151"/><stop offset="1.000" stop-color="#5b5b5b"/></linearGradient><linearGradient id="gi2"><stop offset="0.000" stop-color="#080808"/><stop offset="0.219" stop-color="#0b0b0b"/><stop offset="0.489" stop-color="#171717"/><stop offset="0.501" stop-color="#383838"/><stop offset="0.740" stop-color="#404040"/><stop offset="1.000" stop-color="#525252"/></linearGradient><linearGradient id="gi3"><stop offset="0.000" stop-color="#0b0b0b"/><stop offset="0.219" stop-color="#0d0d0d"/><stop offset="0.489" stop-color="#161616"/><stop offset="0.501" stop-color="#363636"/><stop offset="0.740" stop-color="#3e3e3e"/><stop offset="1.000" stop-color="#4a4a4a"/></linearGradient><linearGradient id="gi4"><stop offset="0.000" stop-color="#0d0d0d"/><stop offset="0.219" stop-color="#101010"/><stop offset="0.489" stop-color="#202020"/><stop offset="0.501" stop-color="#3b3b3b"/><stop offset="0.740" stop-color="#434343"/><stop offset="1.000" stop-color="#545454"/></linearGradient><linearGradient id="gi5"><stop offset="0.000" stop-color="#131313"/><stop offset="0.219" stop-color="#161616"/><stop offset="0.489" stop-color="#222222"/><stop offset="0.501" stop-color="#2e2e2e"/><stop offset="0.740" stop-color="#363636"/><stop offset="1.000" stop-color="#494949"/></linearGradient><linearGradient id="gi6"><stop offset="0.000" stop-color="#0a0a0a"/><stop offset="0.219" stop-color="#0c0c0c"/><stop offset="0.489" stop-color="#181818"/><stop offset="0.501" stop-color="#383838"/><stop offset="0.740" stop-color="#404040"/><stop offset="1.000" stop-color="#4f4f4f"/></linearGradient><linearGradient id="gi7"><stop offset="0.000" stop-color="#131313"/><stop offset="0.219" stop-color="#161616"/><stop offset="0.489" stop-color="#262626"/><stop offset="0.501" stop-color="#484848"/><stop offset="0.740" stop-color="#4f4f4f"/><stop offset="1.000" stop-color="#6e6e6e"/></linearGradient><linearGradient id="gi8"><stop offset="0.000" stop-color="#050505"/><stop offset="0.219" stop-color="#080808"/><stop offset="0.489" stop-color="#090909"/><stop offset="0.501" stop-color="#2a2a2a"/><stop offset="0.740" stop-color="#373737"/><stop offset="1.000" stop-color="#585858"/></linearGradient><linearGradient id="gi9"><stop offset="0.000" stop-color="#0d0d0d"/><stop offset="0.219" stop-color="#101010"/><stop offset="0.489" stop-color="#181818"/><stop offset="0.501" stop-color="#292929"/><stop offset="0.740" stop-color="#363636"/><stop offset="1.000" stop-color="#4b4b4b"/></linearGradient><linearGradient id="gi10"><stop offset="0.000" stop-color="#0e0e0e"/><stop offset="0.219" stop-color="#101010"/><stop offset="0.489" stop-color="#202020"/><stop offset="0.501" stop-color="#1f1f1f"/><stop offset="0.740" stop-color="#2c2c2c"/><stop offset="1.000" stop-color="#424242"/></linearGradient><linearGradient id="gi11"><stop offset="0.000" stop-color="#0d0d0d"/><stop offset="0.219" stop-color="#101010"/><stop offset="0.489" stop-color="#0e0e0e"/><stop offset="0.501" stop-color="#151515"/><stop offset="0.740" stop-color="#222222"/><stop offset="1.000" stop-color="#353535"/></linearGradient><linearGradient id="gi12"><stop offset="0.000" stop-color="#121212"/><stop offset="0.219" stop-color="#151515"/><stop offset="0.489" stop-color="#202020"/><stop offset="0.501" stop-color="#4f4f4f"/><stop offset="0.740" stop-color="#555555"/><stop offset="1.000" stop-color="#5f5f5f"/></linearGradient><linearGradient id="gi13"><stop offset="0.000" stop-color="#191919"/><stop offset="0.219" stop-color="#1b1b1b"/><stop offset="0.489" stop-color="#212121"/><stop offset="0.501" stop-color="#3e3e3e"/><stop offset="0.740" stop-color="#434343"/><stop offset="1.000" stop-color="#565656"/></linearGradient><linearGradient id="gi14"><stop offset="0.000" stop-color="#070707"/><stop offset="0.219" stop-color="#090909"/><stop offset="0.489" stop-color="#191919"/><stop offset="0.501" stop-color="#4a4a4a"/><stop offset="0.740" stop-color="#505050"/><stop offset="1.000" stop-color="#5f5f5f"/></linearGradient><linearGradient id="gi15"><stop offset="0.000" stop-color="#101010"/><stop offset="0.219" stop-color="#121212"/><stop offset="0.489" stop-color="#191919"/><stop offset="0.501" stop-color="#484848"/><stop offset="0.740" stop-color="#4d4d4d"/><stop offset="1.000" stop-color="#454545"/></linearGradient><linearGradient id="gi16"><stop offset="0.000" stop-color="#1a1a1a"/><stop offset="0.219" stop-color="#212121"/><stop offset="0.489" stop-color="#292929"/><stop offset="0.501" stop-color="#525252"/><stop offset="0.740" stop-color="#575757"/><stop offset="1.000" stop-color="#5d5d5d"/></linearGradient><linearGradient id="gi17"><stop offset="0.000" stop-color="#232323"/><stop offset="0.219" stop-color="#2a2a2a"/><stop offset="0.489" stop-color="#333333"/><stop offset="0.501" stop-color="#5f5f5f"/><stop offset="0.740" stop-color="#646464"/><stop offset="1.000" stop-color="#6b6b6b"/></linearGradient><linearGradient id="gi18"><stop offset="0.000" stop-color="#232323"/><stop offset="0.219" stop-color="#2a2a2a"/><stop offset="0.489" stop-color="#333333"/><stop offset="0.501" stop-color="#575757"/><stop offset="0.740" stop-color="#5c5c5c"/><stop offset="1.000" stop-color="#757575"/></linearGradient><linearGradient id="gi19"><stop offset="0.000" stop-color="#080808"/><stop offset="0.219" stop-color="#0a0a0a"/><stop offset="0.489" stop-color="#141414"/><stop offset="0.501" stop-color="#5f5f5f"/><stop offset="0.740" stop-color="#656565"/><stop offset="1.000" stop-color="#7a7a7a"/></linearGradient><linearGradient id="gi20"><stop offset="0.000" stop-color="#171717"/><stop offset="0.219" stop-color="#1a1a1a"/><stop offset="0.489" stop-color="#252525"/><stop offset="0.501" stop-color="#5c5c5c"/><stop offset="0.740" stop-color="#616161"/><stop offset="1.000" stop-color="#6b6b6b"/></linearGradient><linearGradient id="gi21"><stop offset="0.000" stop-color="#090909"/><stop offset="0.219" stop-color="#0b0b0b"/><stop offset="0.489" stop-color="#202020"/><stop offset="0.501" stop-color="#464646"/><stop offset="0.740" stop-color="#4b4b4b"/><stop offset="1.000" stop-color="#525252"/></linearGradient><linearGradient id="gi22"><stop offset="0.000" stop-color="#000000"/><stop offset="0.219" stop-color="#000000"/><stop offset="0.489" stop-color="#101010"/><stop offset="0.501" stop-color="#656565"/><stop offset="0.740" stop-color="#6a6a6a"/><stop offset="1.000" stop-color="#7a7a7a"/></linearGradient><linearGradient id="gi23"><stop offset="0.000" stop-color="#121212"/><stop offset="0.219" stop-color="#151515"/><stop offset="0.489" stop-color="#1c1c1c"/><stop offset="0.501" stop-color="#4c4c4c"/><stop offset="0.740" stop-color="#515151"/><stop offset="1.000" stop-color="#676767"/></linearGradient><linearGradient id="gi24"><stop offset="0.000" stop-color="#0f0f0f"/><stop offset="0.219" stop-color="#121212"/><stop offset="0.489" stop-color="#252525"/><stop offset="0.501" stop-color="#505050"/><stop offset="0.740" stop-color="#555555"/><stop offset="1.000" stop-color="#6d6d6d"/></linearGradient><linearGradient id="gi25"><stop offset="0.000" stop-color="#1b1b1b"/><stop offset="0.219" stop-color="#202020"/><stop offset="0.489" stop-color="#2b2b2b"/><stop offset="0.501" stop-color="#4b4b4b"/><stop offset="0.740" stop-color="#555555"/><stop offset="1.000" stop-color="#626262"/></linearGradient><linearGradient id="gi26"><stop offset="0.000" stop-color="#191919"/><stop offset="0.219" stop-color="#1e1e1e"/><stop offset="0.489" stop-color="#262626"/><stop offset="0.501" stop-color="#5f5f5f"/><stop offset="0.740" stop-color="#696969"/><stop offset="1.000" stop-color="#7b7b7b"/></linearGradient><linearGradient id="gi27"><stop offset="0.000" stop-color="#121212"/><stop offset="0.219" stop-color="#151515"/><stop offset="0.489" stop-color="#2b2b2b"/><stop offset="0.501" stop-color="#565656"/><stop offset="0.740" stop-color="#5d5d5d"/><stop offset="1.000" stop-color="#5d5d5d"/></linearGradient><linearGradient id="gi28"><stop offset="0.000" stop-color="#0d0d0d"/><stop offset="0.219" stop-color="#0f0f0f"/><stop offset="0.489" stop-color="#191919"/><stop offset="0.501" stop-color="#464646"/><stop offset="0.740" stop-color="#4e4e4e"/><stop offset="1.000" stop-color="#6e6e6e"/></linearGradient><linearGradient id="gi29"><stop offset="0.000" stop-color="#030303"/><stop offset="0.219" stop-color="#050505"/><stop offset="0.489" stop-color="#131313"/><stop offset="0.501" stop-color="#4f4f4f"/><stop offset="0.740" stop-color="#575757"/><stop offset="1.000" stop-color="#646464"/></linearGradient><linearGradient id="gi30"><stop offset="0.000" stop-color="#151515"/><stop offset="0.219" stop-color="#1a1a1a"/><stop offset="0.489" stop-color="#2a2a2a"/><stop offset="0.501" stop-color="#292929"/><stop offset="0.740" stop-color="#303030"/><stop offset="1.000" stop-color="#3b3b3b"/></linearGradient><linearGradient id="gi31"><stop offset="0.000" stop-color="#080808"/><stop offset="0.219" stop-color="#0d0d0d"/><stop offset="0.489" stop-color="#1a1a1a"/><stop offset="0.501" stop-color="#3e3e3e"/><stop offset="0.740" stop-color="#464646"/><stop offset="1.000" stop-color="#525252"/></linearGradient><linearGradient id="gi32"><stop offset="0.000" stop-color="#080808"/><stop offset="0.219" stop-color="#0a0a0a"/><stop offset="0.489" stop-color="#1a1a1a"/><stop offset="0.501" stop-color="#7e7e7e"/><stop offset="0.740" stop-color="#858585"/><stop offset="1.000" stop-color="#919191"/></linearGradient><linearGradient id="gi33"><stop offset="0.000" stop-color="#060606"/><stop offset="0.219" stop-color="#090909"/><stop offset="0.489" stop-color="#1f1f1f"/><stop offset="0.501" stop-color="#686868"/><stop offset="0.740" stop-color="#707070"/><stop offset="1.000" stop-color="#7e7e7e"/></linearGradient><linearGradient id="gi34"><stop offset="0.000" stop-color="#050505"/><stop offset="0.219" stop-color="#080808"/><stop offset="0.489" stop-color="#141414"/><stop offset="0.501" stop-color="#707070"/><stop offset="0.740" stop-color="#777777"/><stop offset="1.000" stop-color="#818181"/></linearGradient><linearGradient id="gi35"><stop offset="0.000" stop-color="#000000"/><stop offset="0.219" stop-color="#020202"/><stop offset="0.489" stop-color="#141414"/><stop offset="0.501" stop-color="#8e8e8e"/><stop offset="0.740" stop-color="#969696"/><stop offset="1.000" stop-color="#a0a0a0"/></linearGradient><linearGradient id="gi36"><stop offset="0.000" stop-color="#0f0f0f"/><stop offset="0.219" stop-color="#121212"/><stop offset="0.489" stop-color="#262626"/><stop offset="0.501" stop-color="#828282"/><stop offset="0.740" stop-color="#8a8a8a"/><stop offset="1.000" stop-color="#989898"/></linearGradient><linearGradient id="gi37"><stop offset="0.000" stop-color="#171717"/><stop offset="0.219" stop-color="#1d1d1d"/><stop offset="0.489" stop-color="#2a2a2a"/><stop offset="0.501" stop-color="#a9a9a9"/><stop offset="0.740" stop-color="#aeaeae"/><stop offset="1.000" stop-color="#b5b5b5"/></linearGradient><linearGradient id="gi38"><stop offset="0.000" stop-color="#0a0a0a"/><stop offset="0.219" stop-color="#0f0f0f"/><stop offset="0.489" stop-color="#1b1b1b"/><stop offset="0.501" stop-color="#979797"/><stop offset="0.740" stop-color="#9c9c9c"/><stop offset="1.000" stop-color="#a6a6a6"/></linearGradient><linearGradient id="gi39"><stop offset="0.000" stop-color="#232323"/><stop offset="0.219" stop-color="#282828"/><stop offset="0.489" stop-color="#343434"/><stop offset="0.501" stop-color="#858585"/><stop offset="0.740" stop-color="#858585"/><stop offset="1.000" stop-color="#989898"/></linearGradient><linearGradient id="gi40"><stop offset="0.000" stop-color="#1d1d1d"/><stop offset="0.219" stop-color="#272727"/><stop offset="0.489" stop-color="#343434"/><stop offset="0.501" stop-color="#515151"/><stop offset="0.740" stop-color="#515151"/><stop offset="1.000" stop-color="#4c4c4c"/></linearGradient><linearGradient id="gi41"><stop offset="0.000" stop-color="#202020"/><stop offset="0.219" stop-color="#2b2b2b"/><stop offset="0.489" stop-color="#3f3f3f"/><stop offset="0.501" stop-color="#404040"/><stop offset="0.740" stop-color="#404040"/><stop offset="1.000" stop-color="#4a4a4a"/></linearGradient><linearGradient id="gi42"><stop offset="0.000" stop-color="#141414"/><stop offset="0.219" stop-color="#292929"/><stop offset="0.489" stop-color="#4b4b4b"/><stop offset="0.501" stop-color="#6d6d6d"/><stop offset="0.740" stop-color="#727272"/><stop offset="1.000" stop-color="#878787"/></linearGradient><linearGradient id="gi43"><stop offset="0.000" stop-color="#0a0a0a"/><stop offset="0.219" stop-color="#1e1e1e"/><stop offset="0.489" stop-color="#3c3c3c"/><stop offset="0.501" stop-color="#767676"/><stop offset="0.740" stop-color="#7b7b7b"/><stop offset="1.000" stop-color="#878787"/></linearGradient><linearGradient id="gi44"><stop offset="0.000" stop-color="#060606"/><stop offset="0.219" stop-color="#1a1a1a"/><stop offset="0.489" stop-color="#3c3c3c"/><stop offset="0.501" stop-color="#6c6c6c"/><stop offset="0.740" stop-color="#717171"/><stop offset="1.000" stop-color="#777777"/></linearGradient><linearGradient id="gi45"><stop offset="0.000" stop-color="#020202"/><stop offset="0.219" stop-color="#1e1e1e"/><stop offset="0.489" stop-color="#3f3f3f"/><stop offset="0.501" stop-color="#707070"/><stop offset="0.740" stop-color="#757575"/><stop offset="1.000" stop-color="#8d8d8d"/></linearGradient><linearGradient id="gi46"><stop offset="0.000" stop-color="#040404"/><stop offset="0.219" stop-color="#202020"/><stop offset="0.489" stop-color="#3d3d3d"/><stop offset="0.501" stop-color="#696969"/><stop offset="0.740" stop-color="#6e6e6e"/><stop offset="1.000" stop-color="#747474"/></linearGradient><linearGradient id="gi47"><stop offset="0.000" stop-color="#070707"/><stop offset="0.219" stop-color="#232323"/><stop offset="0.489" stop-color="#3b3b3b"/><stop offset="0.501" stop-color="#7f7f7f"/><stop offset="0.740" stop-color="#848484"/><stop offset="1.000" stop-color="#9c9c9c"/></linearGradient><linearGradient id="gi48"><stop offset="0.000" stop-color="#151515"/><stop offset="0.219" stop-color="#313131"/><stop offset="0.489" stop-color="#545454"/><stop offset="0.501" stop-color="#787878"/><stop offset="0.740" stop-color="#7d7d7d"/><stop offset="1.000" stop-color="#959595"/></linearGradient><linearGradient id="gi49"><stop offset="0.000" stop-color="#020202"/><stop offset="0.219" stop-color="#1e1e1e"/><stop offset="0.489" stop-color="#3e3e3e"/><stop offset="0.501" stop-color="#8e8e8e"/><stop offset="0.740" stop-color="#939393"/><stop offset="1.000" stop-color="#aeaeae"/></linearGradient><linearGradient id="gi50"><stop offset="0.000" stop-color="#383838"/><stop offset="0.219" stop-color="#3d3d3d"/><stop offset="0.489" stop-color="#4d4d4d"/><stop offset="0.501" stop-color="#7e7e7e"/><stop offset="0.740" stop-color="#838383"/><stop offset="1.000" stop-color="#858585"/></linearGradient><linearGradient id="gi51"><stop offset="0.000" stop-color="#4c4c4c"/><stop offset="0.219" stop-color="#565656"/><stop offset="0.489" stop-color="#676767"/><stop offset="0.501" stop-color="#797979"/><stop offset="0.740" stop-color="#838383"/><stop offset="1.000" stop-color="#878787"/></linearGradient><linearGradient id="gi52"><stop offset="0.000" stop-color="#464646"/><stop offset="0.219" stop-color="#505050"/><stop offset="0.489" stop-color="#626262"/><stop offset="0.501" stop-color="#797979"/><stop offset="0.740" stop-color="#838383"/><stop offset="1.000" stop-color="#919191"/></linearGradient><linearGradient id="gi53"><stop offset="0.000" stop-color="#535353"/><stop offset="0.219" stop-color="#5d5d5d"/><stop offset="0.489" stop-color="#727272"/><stop offset="0.501" stop-color="#7e7e7e"/><stop offset="0.740" stop-color="#888888"/><stop offset="1.000" stop-color="#9e9e9e"/></linearGradient><linearGradient id="gi54"><stop offset="0.000" stop-color="#515151"/><stop offset="0.219" stop-color="#5b5b5b"/><stop offset="0.489" stop-color="#6c6c6c"/><stop offset="0.501" stop-color="#6b6b6b"/><stop offset="0.740" stop-color="#767676"/><stop offset="1.000" stop-color="#818181"/></linearGradient><linearGradient id="gi55"><stop offset="0.000" stop-color="#474747"/><stop offset="0.219" stop-color="#515151"/><stop offset="0.489" stop-color="#5d5d5d"/><stop offset="0.501" stop-color="#828282"/><stop offset="0.740" stop-color="#8c8c8c"/><stop offset="1.000" stop-color="#888888"/></linearGradient><linearGradient id="gi56"><stop offset="0.000" stop-color="#535353"/><stop offset="0.219" stop-color="#5d5d5d"/><stop offset="0.489" stop-color="#696969"/><stop offset="0.501" stop-color="#808080"/><stop offset="0.740" stop-color="#8b8b8b"/><stop offset="1.000" stop-color="#959595"/></linearGradient><linearGradient id="gi57"><stop offset="0.000" stop-color="#272727"/><stop offset="0.219" stop-color="#363636"/><stop offset="0.489" stop-color="#4a4a4a"/><stop offset="0.501" stop-color="#656565"/><stop offset="0.740" stop-color="#6a6a6a"/><stop offset="1.000" stop-color="#6b6b6b"/></linearGradient><linearGradient id="gi58"><stop offset="0.000" stop-color="#181818"/><stop offset="0.219" stop-color="#282828"/><stop offset="0.489" stop-color="#3f3f3f"/><stop offset="0.501" stop-color="#5f5f5f"/><stop offset="0.740" stop-color="#646464"/><stop offset="1.000" stop-color="#636363"/></linearGradient><linearGradient id="gi59"><stop offset="0.000" stop-color="#1f1f1f"/><stop offset="0.219" stop-color="#2e2e2e"/><stop offset="0.489" stop-color="#434343"/><stop offset="0.501" stop-color="#878787"/><stop offset="0.740" stop-color="#8c8c8c"/><stop offset="1.000" stop-color="#9d9d9d"/></linearGradient><linearGradient id="gi60"><stop offset="0.000" stop-color="#262626"/><stop offset="0.219" stop-color="#353535"/><stop offset="0.489" stop-color="#4f4f4f"/><stop offset="0.501" stop-color="#595959"/><stop offset="0.740" stop-color="#5e5e5e"/><stop offset="1.000" stop-color="#686868"/></linearGradient><linearGradient id="gi61"><stop offset="0.000" stop-color="#1c1c1c"/><stop offset="0.219" stop-color="#2c2c2c"/><stop offset="0.489" stop-color="#434343"/><stop offset="0.501" stop-color="#787878"/><stop offset="0.740" stop-color="#7d7d7d"/><stop offset="1.000" stop-color="#8a8a8a"/></linearGradient><linearGradient id="gi62"><stop offset="0.000" stop-color="#1c1c1c"/><stop offset="0.219" stop-color="#2b2b2b"/><stop offset="0.489" stop-color="#414141"/><stop offset="0.501" stop-color="#6f6f6f"/><stop offset="0.740" stop-color="#747474"/><stop offset="1.000" stop-color="#8f8f8f"/></linearGradient><linearGradient id="gi63"><stop offset="0.000" stop-color="#1e1e1e"/><stop offset="0.219" stop-color="#2e2e2e"/><stop offset="0.489" stop-color="#515151"/><stop offset="0.501" stop-color="#656565"/><stop offset="0.740" stop-color="#6a6a6a"/><stop offset="1.000" stop-color="#808080"/></linearGradient><linearGradient id="gi64"><stop offset="0.000" stop-color="#1d1d1d"/><stop offset="0.219" stop-color="#2a2a2a"/><stop offset="0.489" stop-color="#3d3d3d"/><stop offset="0.501" stop-color="#646464"/><stop offset="0.740" stop-color="#6a6a6a"/><stop offset="1.000" stop-color="#828282"/></linearGradient><linearGradient id="gi65"><stop offset="0.000" stop-color="#1d1d1d"/><stop offset="0.219" stop-color="#292929"/><stop offset="0.489" stop-color="#454545"/><stop offset="0.501" stop-color="#646464"/><stop offset="0.740" stop-color="#696969"/><stop offset="1.000" stop-color="#767676"/></linearGradient><linearGradient id="gi66"><stop offset="0.000" stop-color="#1e1e1e"/><stop offset="0.219" stop-color="#2b2b2b"/><stop offset="0.489" stop-color="#464646"/><stop offset="0.501" stop-color="#7f7f7f"/><stop offset="0.740" stop-color="#848484"/><stop offset="1.000" stop-color="#9d9d9d"/></linearGradient><linearGradient id="gi67"><stop offset="0.000" stop-color="#212121"/><stop offset="0.219" stop-color="#2e2e2e"/><stop offset="0.489" stop-color="#444444"/><stop offset="0.501" stop-color="#787878"/><stop offset="0.740" stop-color="#7d7d7d"/><stop offset="1.000" stop-color="#949494"/></linearGradient><linearGradient id="gi68"><stop offset="0.000" stop-color="#252525"/><stop offset="0.219" stop-color="#323232"/><stop offset="0.489" stop-color="#424242"/><stop offset="0.501" stop-color="#676767"/><stop offset="0.740" stop-color="#6c6c6c"/><stop offset="1.000" stop-color="#7f7f7f"/></linearGradient><linearGradient id="gi69"><stop offset="0.000" stop-color="#141414"/><stop offset="0.219" stop-color="#191919"/><stop offset="0.489" stop-color="#252525"/><stop offset="0.501" stop-color="#626262"/><stop offset="0.740" stop-color="#656565"/><stop offset="1.000" stop-color="#707070"/></linearGradient><linearGradient id="gi70"><stop offset="0.000" stop-color="#1b1b1b"/><stop offset="0.219" stop-color="#202020"/><stop offset="0.489" stop-color="#383838"/><stop offset="0.501" stop-color="#747474"/><stop offset="0.740" stop-color="#767676"/><stop offset="1.000" stop-color="#818181"/></linearGradient><linearGradient id="gi71"><stop offset="0.000" stop-color="#1e1e1e"/><stop offset="0.219" stop-color="#232323"/><stop offset="0.489" stop-color="#383838"/><stop offset="0.501" stop-color="#555555"/><stop offset="0.740" stop-color="#585858"/><stop offset="1.000" stop-color="#616161"/></linearGradient><linearGradient id="gi72"><stop offset="0.000" stop-color="#696969"/><stop offset="0.219" stop-color="#747474"/><stop offset="0.489" stop-color="#a0a0a0"/><stop offset="0.501" stop-color="#bbbbbb"/><stop offset="0.740" stop-color="#c0c0c0"/><stop offset="1.000" stop-color="#c0c0c0"/></linearGradient><linearGradient id="gi73"><stop offset="0.000" stop-color="#545454"/><stop offset="0.219" stop-color="#5c5c5c"/><stop offset="0.489" stop-color="#6d6d6d"/><stop offset="0.501" stop-color="#a9a9a9"/><stop offset="0.740" stop-color="#b3b3b3"/><stop offset="1.000" stop-color="#bcbcbc"/></linearGradient><linearGradient id="gi74"><stop offset="0.000" stop-color="#404040"/><stop offset="0.219" stop-color="#474747"/><stop offset="0.489" stop-color="#525252"/><stop offset="0.501" stop-color="#aeaeae"/><stop offset="0.740" stop-color="#b9b9b9"/><stop offset="1.000" stop-color="#c1c1c1"/></linearGradient><linearGradient id="gi75"><stop offset="0.000" stop-color="#4a4a4a"/><stop offset="0.219" stop-color="#555555"/><stop offset="0.489" stop-color="#5d5d5d"/><stop offset="0.501" stop-color="#757575"/><stop offset="0.740" stop-color="#7a7a7a"/><stop offset="1.000" stop-color="#7f7f7f"/></linearGradient><linearGradient id="gi76"><stop offset="0.000" stop-color="#4a4a4a"/><stop offset="0.219" stop-color="#545454"/><stop offset="0.489" stop-color="#5b5b5b"/><stop offset="0.501" stop-color="#919191"/><stop offset="0.740" stop-color="#969696"/><stop offset="1.000" stop-color="#999999"/></linearGradient><linearGradient id="gi77"><stop offset="0.000" stop-color="#4b4b4b"/><stop offset="0.219" stop-color="#565656"/><stop offset="0.489" stop-color="#696969"/><stop offset="0.501" stop-color="#757575"/><stop offset="0.740" stop-color="#7a7a7a"/><stop offset="1.000" stop-color="#787878"/></linearGradient><linearGradient id="gi78"><stop offset="0.000" stop-color="#505050"/><stop offset="0.219" stop-color="#5a5a5a"/><stop offset="0.489" stop-color="#6e6e6e"/><stop offset="0.501" stop-color="#898989"/><stop offset="0.740" stop-color="#8e8e8e"/><stop offset="1.000" stop-color="#9b9b9b"/></linearGradient><linearGradient id="gi79"><stop offset="0.000" stop-color="#474747"/><stop offset="0.219" stop-color="#515151"/><stop offset="0.489" stop-color="#5c5c5c"/><stop offset="0.501" stop-color="#767676"/><stop offset="0.740" stop-color="#7b7b7b"/><stop offset="1.000" stop-color="#838383"/></linearGradient><linearGradient id="gi80"><stop offset="0.000" stop-color="#4b4b4b"/><stop offset="0.219" stop-color="#555555"/><stop offset="0.489" stop-color="#5b5b5b"/><stop offset="0.501" stop-color="#7a7a7a"/><stop offset="0.740" stop-color="#7f7f7f"/><stop offset="1.000" stop-color="#7f7f7f"/></linearGradient><linearGradient id="gi81"><stop offset="0.000" stop-color="#818181"/><stop offset="0.219" stop-color="#868686"/><stop offset="0.489" stop-color="#8d8d8d"/><stop offset="0.501" stop-color="#909090"/><stop offset="0.740" stop-color="#959595"/><stop offset="1.000" stop-color="#9c9c9c"/></linearGradient><linearGradient id="gi82"><stop offset="0.000" stop-color="#7d7d7d"/><stop offset="0.219" stop-color="#828282"/><stop offset="0.489" stop-color="#8b8b8b"/><stop offset="0.501" stop-color="#a7a7a7"/><stop offset="0.740" stop-color="#acacac"/><stop offset="1.000" stop-color="#aaaaaa"/></linearGradient><linearGradient id="gi83"><stop offset="0.000" stop-color="#868686"/><stop offset="0.219" stop-color="#8c8c8c"/><stop offset="0.489" stop-color="#929292"/><stop offset="0.501" stop-color="#9e9e9e"/><stop offset="0.740" stop-color="#a3a3a3"/><stop offset="1.000" stop-color="#9f9f9f"/></linearGradient></defs>
<g filter="url(#vfI)"><rect x="44.2" y="350.80" width="225.0" height="3.92" fill="url(#gi0)"/><rect x="44.2" y="354.42" width="225.0" height="3.92" fill="url(#gi1)"/><rect x="44.2" y="358.04" width="225.0" height="3.92" fill="url(#gi2)"/><rect x="44.2" y="361.66" width="225.0" height="3.92" fill="url(#gi3)"/><rect x="44.2" y="365.28" width="225.0" height="3.92" fill="url(#gi4)"/><rect x="44.2" y="368.90" width="225.0" height="3.92" fill="url(#gi5)"/><rect x="44.2" y="372.51" width="225.0" height="3.92" fill="url(#gi6)"/><rect x="44.2" y="376.13" width="225.0" height="3.92" fill="url(#gi7)"/><rect x="44.2" y="379.75" width="225.0" height="3.92" fill="url(#gi8)"/><rect x="44.2" y="383.37" width="225.0" height="3.92" fill="url(#gi9)"/><rect x="44.2" y="386.99" width="225.0" height="3.92" fill="url(#gi10)"/><rect x="44.2" y="390.61" width="225.0" height="3.92" fill="url(#gi11)"/><rect x="44.2" y="394.23" width="225.0" height="3.92" fill="url(#gi12)"/><rect x="44.2" y="397.85" width="225.0" height="3.92" fill="url(#gi13)"/><rect x="44.2" y="401.47" width="225.0" height="3.92" fill="url(#gi14)"/><rect x="44.2" y="405.09" width="225.0" height="3.92" fill="url(#gi15)"/><rect x="44.2" y="408.70" width="225.0" height="3.92" fill="url(#gi16)"/><rect x="44.2" y="412.32" width="225.0" height="3.92" fill="url(#gi17)"/><rect x="44.2" y="415.94" width="225.0" height="3.92" fill="url(#gi18)"/><rect x="44.2" y="419.56" width="225.0" height="3.92" fill="url(#gi19)"/><rect x="44.2" y="423.18" width="225.0" height="3.92" fill="url(#gi20)"/><rect x="44.2" y="426.80" width="225.0" height="3.92" fill="url(#gi21)"/><rect x="44.2" y="430.42" width="225.0" height="3.92" fill="url(#gi22)"/><rect x="44.2" y="434.04" width="225.0" height="3.92" fill="url(#gi23)"/><rect x="44.2" y="437.66" width="225.0" height="3.92" fill="url(#gi24)"/><rect x="44.2" y="441.28" width="225.0" height="3.92" fill="url(#gi25)"/><rect x="44.2" y="444.90" width="225.0" height="3.92" fill="url(#gi26)"/><rect x="44.2" y="448.51" width="225.0" height="3.92" fill="url(#gi27)"/><rect x="44.2" y="452.13" width="225.0" height="3.92" fill="url(#gi28)"/><rect x="44.2" y="455.75" width="225.0" height="3.92" fill="url(#gi29)"/><rect x="44.2" y="459.37" width="225.0" height="3.92" fill="url(#gi30)"/><rect x="44.2" y="462.99" width="225.0" height="3.92" fill="url(#gi31)"/><rect x="44.2" y="466.61" width="225.0" height="3.92" fill="url(#gi32)"/><rect x="44.2" y="470.23" width="225.0" height="3.92" fill="url(#gi33)"/><rect x="44.2" y="473.85" width="225.0" height="3.92" fill="url(#gi34)"/><rect x="44.2" y="477.47" width="225.0" height="3.92" fill="url(#gi35)"/><rect x="44.2" y="481.09" width="225.0" height="3.92" fill="url(#gi36)"/><rect x="44.2" y="484.70" width="225.0" height="3.92" fill="url(#gi37)"/><rect x="44.2" y="488.32" width="225.0" height="3.92" fill="url(#gi38)"/><rect x="44.2" y="491.94" width="225.0" height="3.92" fill="url(#gi39)"/><rect x="44.2" y="495.56" width="225.0" height="3.92" fill="url(#gi40)"/><rect x="44.2" y="499.18" width="225.0" height="3.92" fill="url(#gi41)"/><rect x="44.2" y="502.80" width="225.0" height="3.92" fill="url(#gi42)"/><rect x="44.2" y="506.42" width="225.0" height="3.92" fill="url(#gi43)"/><rect x="44.2" y="510.04" width="225.0" height="3.92" fill="url(#gi44)"/><rect x="44.2" y="513.66" width="225.0" height="3.92" fill="url(#gi45)"/><rect x="44.2" y="517.28" width="225.0" height="3.92" fill="url(#gi46)"/><rect x="44.2" y="520.90" width="225.0" height="3.92" fill="url(#gi47)"/><rect x="44.2" y="524.51" width="225.0" height="3.92" fill="url(#gi48)"/><rect x="44.2" y="528.13" width="225.0" height="3.92" fill="url(#gi49)"/><rect x="44.2" y="531.75" width="225.0" height="3.92" fill="url(#gi50)"/><rect x="44.2" y="535.37" width="225.0" height="3.92" fill="url(#gi51)"/><rect x="44.2" y="538.99" width="225.0" height="3.92" fill="url(#gi52)"/><rect x="44.2" y="542.61" width="225.0" height="3.92" fill="url(#gi53)"/><rect x="44.2" y="546.23" width="225.0" height="3.92" fill="url(#gi54)"/><rect x="44.2" y="549.85" width="225.0" height="3.92" fill="url(#gi55)"/><rect x="44.2" y="553.47" width="225.0" height="3.92" fill="url(#gi56)"/><rect x="44.2" y="557.09" width="225.0" height="3.92" fill="url(#gi57)"/><rect x="44.2" y="560.70" width="225.0" height="3.92" fill="url(#gi58)"/><rect x="44.2" y="564.32" width="225.0" height="3.92" fill="url(#gi59)"/><rect x="44.2" y="567.94" width="225.0" height="3.92" fill="url(#gi60)"/><rect x="44.2" y="571.56" width="225.0" height="3.92" fill="url(#gi61)"/><rect x="44.2" y="575.18" width="225.0" height="3.92" fill="url(#gi62)"/><rect x="44.2" y="578.80" width="225.0" height="3.92" fill="url(#gi63)"/><rect x="44.2" y="582.42" width="225.0" height="3.92" fill="url(#gi64)"/><rect x="44.2" y="586.04" width="225.0" height="3.92" fill="url(#gi65)"/><rect x="44.2" y="589.66" width="225.0" height="3.92" fill="url(#gi66)"/><rect x="44.2" y="593.28" width="225.0" height="3.92" fill="url(#gi67)"/><rect x="44.2" y="596.90" width="225.0" height="3.92" fill="url(#gi68)"/><rect x="44.2" y="600.51" width="225.0" height="3.92" fill="url(#gi69)"/><rect x="44.2" y="604.13" width="225.0" height="3.92" fill="url(#gi70)"/><rect x="44.2" y="607.75" width="225.0" height="3.92" fill="url(#gi71)"/><rect x="44.2" y="611.37" width="225.0" height="3.92" fill="url(#gi72)"/><rect x="44.2" y="614.99" width="225.0" height="3.92" fill="url(#gi73)"/><rect x="44.2" y="618.61" width="225.0" height="3.92" fill="url(#gi74)"/><rect x="44.2" y="622.23" width="225.0" height="3.92" fill="url(#gi75)"/><rect x="44.2" y="625.85" width="225.0" height="3.92" fill="url(#gi76)"/><rect x="44.2" y="629.47" width="225.0" height="3.92" fill="url(#gi77)"/><rect x="44.2" y="633.09" width="225.0" height="3.92" fill="url(#gi78)"/><rect x="44.2" y="636.70" width="225.0" height="3.92" fill="url(#gi79)"/><rect x="44.2" y="640.32" width="225.0" height="3.92" fill="url(#gi80)"/><rect x="44.2" y="643.94" width="225.0" height="3.92" fill="url(#gi81)"/><rect x="44.2" y="647.56" width="225.0" height="3.92" fill="url(#gi82)"/><rect x="44.2" y="651.18" width="225.0" height="3.92" fill="url(#gi83)"/></g>
<rect x="44.2" y="350.8" width="225.0" height="303.99999999999994" fill="none" stroke="#1a1a1a" stroke-width="1.3"/>
<filter id="vfH" filterUnits="userSpaceOnUse" x="348.8" y="258.8" width="160.59999999999997" height="181.8" color-interpolation-filters="sRGB">
<feTurbulence type="fractalNoise" baseFrequency="0.35 0.9" numOctaves="2" seed="5" result="n"/>
<feColorMatrix in="n" type="matrix" values="1 0 0 0 0 1 0 0 0 0 1 0 0 0 0 0 0 0 0 1" result="g"/>
<feComposite in="SourceGraphic" in2="g" operator="arithmetic" k1="0.000" k2="1.000" k3="0.3" k4="-0.150" result="s"/>
<feComponentTransfer in="s"><feFuncR type="table" tableValues="0.267 0.282 0.255 0.208 0.165 0.129 0.133 0.267 0.478 0.741 0.992"/><feFuncG type="table" tableValues="0.004 0.141 0.267 0.373 0.471 0.569 0.659 0.749 0.820 0.875 0.906"/><feFuncB type="table" tableValues="0.329 0.459 0.529 0.553 0.557 0.549 0.518 0.439 0.318 0.149 0.145"/><feFuncA type="linear" slope="0" intercept="1"/></feComponentTransfer>
</filter>
<defs><linearGradient id="gh0"><stop offset="0.000" stop-color="#676767"/><stop offset="0.216" stop-color="#626262"/><stop offset="0.498" stop-color="#5d5d5d"/><stop offset="0.503" stop-color="#3b3b3b"/><stop offset="0.749" stop-color="#3d3d3d"/><stop offset="1.000" stop-color="#404040"/></linearGradient><linearGradient id="gh1"><stop offset="0.000" stop-color="#717171"/><stop offset="0.216" stop-color="#6c6c6c"/><stop offset="0.498" stop-color="#676767"/><stop offset="0.503" stop-color="#444444"/><stop offset="0.749" stop-color="#474747"/><stop offset="1.000" stop-color="#494949"/></linearGradient><linearGradient id="gh2"><stop offset="0.000" stop-color="#838383"/><stop offset="0.216" stop-color="#7e7e7e"/><stop offset="0.498" stop-color="#787878"/><stop offset="0.503" stop-color="#545454"/><stop offset="0.749" stop-color="#565656"/><stop offset="1.000" stop-color="#595959"/></linearGradient><linearGradient id="gh3"><stop offset="0.000" stop-color="#757575"/><stop offset="0.216" stop-color="#707070"/><stop offset="0.498" stop-color="#6b6b6b"/><stop offset="0.503" stop-color="#484848"/><stop offset="0.749" stop-color="#4a4a4a"/><stop offset="1.000" stop-color="#4d4d4d"/></linearGradient><linearGradient id="gh4"><stop offset="0.000" stop-color="#6a6a6a"/><stop offset="0.216" stop-color="#656565"/><stop offset="0.498" stop-color="#606060"/><stop offset="0.503" stop-color="#3e3e3e"/><stop offset="0.749" stop-color="#404040"/><stop offset="1.000" stop-color="#434343"/></linearGradient><linearGradient id="gh5"><stop offset="0.000" stop-color="#cccccc"/><stop offset="0.216" stop-color="#c7c7c7"/><stop offset="0.498" stop-color="#c2c2c2"/><stop offset="0.503" stop-color="#b2b2b2"/><stop offset="0.749" stop-color="#b5b5b5"/><stop offset="1.000" stop-color="#b8b8b8"/></linearGradient><linearGradient id="gh6"><stop offset="0.000" stop-color="#757575"/><stop offset="0.216" stop-color="#707070"/><stop offset="0.498" stop-color="#6b6b6b"/><stop offset="0.503" stop-color="#484848"/><stop offset="0.749" stop-color="#4b4b4b"/><stop offset="1.000" stop-color="#4d4d4d"/></linearGradient><linearGradient id="gh7"><stop offset="0.000" stop-color="#7b7b7b"/><stop offset="0.216" stop-color="#757575"/><stop offset="0.498" stop-color="#707070"/><stop offset="0.503" stop-color="#4d4d4d"/><stop offset="0.749" stop-color="#4f4f4f"/><stop offset="1.000" stop-color="#525252"/></linearGradient><linearGradient id="gh8"><stop offset="0.000" stop-color="#b8b8b8"/><stop offset="0.216" stop-color="#b2b2b2"/><stop offset="0.498" stop-color="#adadad"/><stop offset="0.503" stop-color="#999999"/><stop offset="0.749" stop-color="#9c9c9c"/><stop offset="1.000" stop-color="#9e9e9e"/></linearGradient><linearGradient id="gh9"><stop offset="0.000" stop-color="#8b8b8b"/><stop offset="0.216" stop-color="#868686"/><stop offset="0.498" stop-color="#818181"/><stop offset="0.503" stop-color="#636363"/><stop offset="0.749" stop-color="#666666"/><stop offset="1.000" stop-color="#696969"/></linearGradient><linearGradient id="gh10"><stop offset="0.000" stop-color="#787878"/><stop offset="0.216" stop-color="#737373"/><stop offset="0.498" stop-color="#6e6e6e"/><stop offset="0.503" stop-color="#4a4a4a"/><stop offset="0.749" stop-color="#4d4d4d"/><stop offset="1.000" stop-color="#505050"/></linearGradient><linearGradient id="gh11"><stop offset="0.000" stop-color="#858585"/><stop offset="0.216" stop-color="#808080"/><stop offset="0.498" stop-color="#7b7b7b"/><stop offset="0.503" stop-color="#565656"/><stop offset="0.749" stop-color="#585858"/><stop offset="1.000" stop-color="#5b5b5b"/></linearGradient><linearGradient id="gh12"><stop offset="0.000" stop-color="#949494"/><stop offset="0.216" stop-color="#8f8f8f"/><stop offset="0.498" stop-color="#8a8a8a"/><stop offset="0.503" stop-color="#6c6c6c"/><stop offset="0.749" stop-color="#6e6e6e"/><stop offset="1.000" stop-color="#717171"/></linearGradient><linearGradient id="gh13"><stop offset="0.000" stop-color="#878787"/><stop offset="0.216" stop-color="#818181"/><stop offset="0.498" stop-color="#7c7c7c"/><stop offset="0.503" stop-color="#575757"/><stop offset="0.749" stop-color="#5a5a5a"/><stop offset="1.000" stop-color="#5d5d5d"/></linearGradient><linearGradient id="gh14"><stop offset="0.000" stop-color="#979797"/><stop offset="0.216" stop-color="#929292"/><stop offset="0.498" stop-color="#8d8d8d"/><stop offset="0.503" stop-color="#6e6e6e"/><stop offset="0.749" stop-color="#707070"/><stop offset="1.000" stop-color="#737373"/></linearGradient><linearGradient id="gh15"><stop offset="0.000" stop-color="#818181"/><stop offset="0.216" stop-color="#7c7c7c"/><stop offset="0.498" stop-color="#777777"/><stop offset="0.503" stop-color="#535353"/><stop offset="0.749" stop-color="#555555"/><stop offset="1.000" stop-color="#585858"/></linearGradient><linearGradient id="gh16"><stop offset="0.000" stop-color="#818181"/><stop offset="0.216" stop-color="#7b7b7b"/><stop offset="0.498" stop-color="#767676"/><stop offset="0.503" stop-color="#525252"/><stop offset="0.749" stop-color="#555555"/><stop offset="1.000" stop-color="#575757"/></linearGradient><linearGradient id="gh17"><stop offset="0.000" stop-color="#9a9a9a"/><stop offset="0.216" stop-color="#959595"/><stop offset="0.498" stop-color="#909090"/><stop offset="0.503" stop-color="#717171"/><stop offset="0.749" stop-color="#737373"/><stop offset="1.000" stop-color="#767676"/></linearGradient><linearGradient id="gh18"><stop offset="0.000" stop-color="#7d7d7d"/><stop offset="0.216" stop-color="#787878"/><stop offset="0.498" stop-color="#737373"/><stop offset="0.503" stop-color="#4f4f4f"/><stop offset="0.749" stop-color="#525252"/><stop offset="1.000" stop-color="#545454"/></linearGradient><linearGradient id="gh19"><stop offset="0.000" stop-color="#848484"/><stop offset="0.216" stop-color="#7f7f7f"/><stop offset="0.498" stop-color="#7a7a7a"/><stop offset="0.503" stop-color="#555555"/><stop offset="0.749" stop-color="#585858"/><stop offset="1.000" stop-color="#5a5a5a"/></linearGradient><linearGradient id="gh20"><stop offset="0.000" stop-color="#474747"/><stop offset="0.216" stop-color="#424242"/><stop offset="0.498" stop-color="#3d3d3d"/><stop offset="0.503" stop-color="#212121"/><stop offset="0.749" stop-color="#232323"/><stop offset="1.000" stop-color="#262626"/></linearGradient><linearGradient id="gh21"><stop offset="0.000" stop-color="#747474"/><stop offset="0.216" stop-color="#6f6f6f"/><stop offset="0.498" stop-color="#6a6a6a"/><stop offset="0.503" stop-color="#474747"/><stop offset="0.749" stop-color="#494949"/><stop offset="1.000" stop-color="#4c4c4c"/></linearGradient><linearGradient id="gh22"><stop offset="0.000" stop-color="#626262"/><stop offset="0.216" stop-color="#5d5d5d"/><stop offset="0.498" stop-color="#585858"/><stop offset="0.503" stop-color="#393939"/><stop offset="0.749" stop-color="#3c3c3c"/><stop offset="1.000" stop-color="#3e3e3e"/></linearGradient><linearGradient id="gh23"><stop offset="0.000" stop-color="#737373"/><stop offset="0.216" stop-color="#6e6e6e"/><stop offset="0.498" stop-color="#696969"/><stop offset="0.503" stop-color="#464646"/><stop offset="0.749" stop-color="#484848"/><stop offset="1.000" stop-color="#4b4b4b"/></linearGradient><linearGradient id="gh24"><stop offset="0.000" stop-color="#6e6e6e"/><stop offset="0.216" stop-color="#696969"/><stop offset="0.498" stop-color="#636363"/><stop offset="0.503" stop-color="#414141"/><stop offset="0.749" stop-color="#444444"/><stop offset="1.000" stop-color="#464646"/></linearGradient><linearGradient id="gh25"><stop offset="0.000" stop-color="#989898"/><stop offset="0.216" stop-color="#939393"/><stop offset="0.498" stop-color="#8e8e8e"/><stop offset="0.503" stop-color="#676767"/><stop offset="0.749" stop-color="#6a6a6a"/><stop offset="1.000" stop-color="#6c6c6c"/></linearGradient><linearGradient id="gh26"><stop offset="0.000" stop-color="#818181"/><stop offset="0.216" stop-color="#7c7c7c"/><stop offset="0.498" stop-color="#777777"/><stop offset="0.503" stop-color="#525252"/><stop offset="0.749" stop-color="#555555"/><stop offset="1.000" stop-color="#575757"/></linearGradient><linearGradient id="gh27"><stop offset="0.000" stop-color="#7c7c7c"/><stop offset="0.216" stop-color="#777777"/><stop offset="0.498" stop-color="#727272"/><stop offset="0.503" stop-color="#4e4e4e"/><stop offset="0.749" stop-color="#505050"/><stop offset="1.000" stop-color="#535353"/></linearGradient><linearGradient id="gh28"><stop offset="0.000" stop-color="#6f6f6f"/><stop offset="0.216" stop-color="#696969"/><stop offset="0.498" stop-color="#646464"/><stop offset="0.503" stop-color="#424242"/><stop offset="0.749" stop-color="#444444"/><stop offset="1.000" stop-color="#474747"/></linearGradient><linearGradient id="gh29"><stop offset="0.000" stop-color="#606060"/><stop offset="0.216" stop-color="#5b5b5b"/><stop offset="0.498" stop-color="#565656"/><stop offset="0.503" stop-color="#383838"/><stop offset="0.749" stop-color="#3a3a3a"/><stop offset="1.000" stop-color="#3d3d3d"/></linearGradient><linearGradient id="gh30"><stop offset="0.000" stop-color="#c7c7c7"/><stop offset="0.216" stop-color="#c2c2c2"/><stop offset="0.498" stop-color="#bdbdbd"/><stop offset="0.503" stop-color="#b2b2b2"/><stop offset="0.749" stop-color="#b5b5b5"/><stop offset="1.000" stop-color="#b8b8b8"/></linearGradient><linearGradient id="gh31"><stop offset="0.000" stop-color="#8b8b8b"/><stop offset="0.216" stop-color="#868686"/><stop offset="0.498" stop-color="#818181"/><stop offset="0.503" stop-color="#565656"/><stop offset="0.749" stop-color="#595959"/><stop offset="1.000" stop-color="#5b5b5b"/></linearGradient><linearGradient id="gh32"><stop offset="0.000" stop-color="#717171"/><stop offset="0.216" stop-color="#6c6c6c"/><stop offset="0.498" stop-color="#676767"/><stop offset="0.503" stop-color="#3f3f3f"/><stop offset="0.749" stop-color="#424242"/><stop offset="1.000" stop-color="#444444"/></linearGradient><linearGradient id="gh33"><stop offset="0.000" stop-color="#727272"/><stop offset="0.216" stop-color="#6d6d6d"/><stop offset="0.498" stop-color="#676767"/><stop offset="0.503" stop-color="#404040"/><stop offset="0.749" stop-color="#424242"/><stop offset="1.000" stop-color="#454545"/></linearGradient><linearGradient id="gh34"><stop offset="0.000" stop-color="#616161"/><stop offset="0.216" stop-color="#5c5c5c"/><stop offset="0.498" stop-color="#575757"/><stop offset="0.503" stop-color="#303030"/><stop offset="0.749" stop-color="#333333"/><stop offset="1.000" stop-color="#363636"/></linearGradient><linearGradient id="gh35"><stop offset="0.000" stop-color="#868686"/><stop offset="0.216" stop-color="#818181"/><stop offset="0.498" stop-color="#7b7b7b"/><stop offset="0.503" stop-color="#525252"/><stop offset="0.749" stop-color="#545454"/><stop offset="1.000" stop-color="#575757"/></linearGradient><linearGradient id="gh36"><stop offset="0.000" stop-color="#5d5d5d"/><stop offset="0.216" stop-color="#585858"/><stop offset="0.498" stop-color="#525252"/><stop offset="0.503" stop-color="#2d2d2d"/><stop offset="0.749" stop-color="#2f2f2f"/><stop offset="1.000" stop-color="#323232"/></linearGradient><linearGradient id="gh37"><stop offset="0.000" stop-color="#5f5f5f"/><stop offset="0.216" stop-color="#5a5a5a"/><stop offset="0.498" stop-color="#555555"/><stop offset="0.503" stop-color="#313131"/><stop offset="0.749" stop-color="#343434"/><stop offset="1.000" stop-color="#363636"/></linearGradient><linearGradient id="gh38"><stop offset="0.000" stop-color="#787878"/><stop offset="0.216" stop-color="#737373"/><stop offset="0.498" stop-color="#6e6e6e"/><stop offset="0.503" stop-color="#454545"/><stop offset="0.749" stop-color="#484848"/><stop offset="1.000" stop-color="#4a4a4a"/></linearGradient><linearGradient id="gh39"><stop offset="0.000" stop-color="#8e8e8e"/><stop offset="0.216" stop-color="#898989"/><stop offset="0.498" stop-color="#848484"/><stop offset="0.503" stop-color="#595959"/><stop offset="0.749" stop-color="#5c5c5c"/><stop offset="1.000" stop-color="#5f5f5f"/></linearGradient><linearGradient id="gh40"><stop offset="0.000" stop-color="#9a9a9a"/><stop offset="0.216" stop-color="#959595"/><stop offset="0.498" stop-color="#909090"/><stop offset="0.503" stop-color="#646464"/><stop offset="0.749" stop-color="#666666"/><stop offset="1.000" stop-color="#696969"/></linearGradient><linearGradient id="gh41"><stop offset="0.000" stop-color="#848484"/><stop offset="0.216" stop-color="#7f7f7f"/><stop offset="0.498" stop-color="#7a7a7a"/><stop offset="0.503" stop-color="#676767"/><stop offset="0.749" stop-color="#696969"/><stop offset="1.000" stop-color="#6c6c6c"/></linearGradient><linearGradient id="gh42"><stop offset="0.000" stop-color="#999999"/><stop offset="0.216" stop-color="#949494"/><stop offset="0.498" stop-color="#8f8f8f"/><stop offset="0.503" stop-color="#7a7a7a"/><stop offset="0.749" stop-color="#7c7c7c"/><stop offset="1.000" stop-color="#7f7f7f"/></linearGradient><linearGradient id="gh43"><stop offset="0.000" stop-color="#777777"/><stop offset="0.216" stop-color="#727272"/><stop offset="0.498" stop-color="#6d6d6d"/><stop offset="0.503" stop-color="#5b5b5b"/><stop offset="0.749" stop-color="#5d5d5d"/><stop offset="1.000" stop-color="#606060"/></linearGradient><linearGradient id="gh44"><stop offset="0.000" stop-color="#787878"/><stop offset="0.216" stop-color="#737373"/><stop offset="0.498" stop-color="#6e6e6e"/><stop offset="0.503" stop-color="#5c5c5c"/><stop offset="0.749" stop-color="#5f5f5f"/><stop offset="1.000" stop-color="#616161"/></linearGradient><linearGradient id="gh45"><stop offset="0.000" stop-color="#767676"/><stop offset="0.216" stop-color="#717171"/><stop offset="0.498" stop-color="#6c6c6c"/><stop offset="0.503" stop-color="#5a5a5a"/><stop offset="0.749" stop-color="#5c5c5c"/><stop offset="1.000" stop-color="#5f5f5f"/></linearGradient><linearGradient id="gh46"><stop offset="0.000" stop-color="#636363"/><stop offset="0.216" stop-color="#5e5e5e"/><stop offset="0.498" stop-color="#595959"/><stop offset="0.503" stop-color="#494949"/><stop offset="0.749" stop-color="#4b4b4b"/><stop offset="1.000" stop-color="#4e4e4e"/></linearGradient><linearGradient id="gh47"><stop offset="0.000" stop-color="#8a8a8a"/><stop offset="0.216" stop-color="#858585"/><stop offset="0.498" stop-color="#7f7f7f"/><stop offset="0.503" stop-color="#6c6c6c"/><stop offset="0.749" stop-color="#6e6e6e"/><stop offset="1.000" stop-color="#717171"/></linearGradient><linearGradient id="gh48"><stop offset="0.000" stop-color="#909090"/><stop offset="0.216" stop-color="#8b8b8b"/><stop offset="0.498" stop-color="#868686"/><stop offset="0.503" stop-color="#797979"/><stop offset="0.749" stop-color="#7c7c7c"/><stop offset="1.000" stop-color="#7e7e7e"/></linearGradient><linearGradient id="gh49"><stop offset="0.000" stop-color="#737373"/><stop offset="0.216" stop-color="#6e6e6e"/><stop offset="0.498" stop-color="#696969"/><stop offset="0.503" stop-color="#575757"/><stop offset="0.749" stop-color="#5a5a5a"/><stop offset="1.000" stop-color="#5c5c5c"/></linearGradient><linearGradient id="gh50"><stop offset="0.000" stop-color="#7f7f7f"/><stop offset="0.216" stop-color="#7a7a7a"/><stop offset="0.498" stop-color="#757575"/><stop offset="0.503" stop-color="#626262"/><stop offset="0.749" stop-color="#646464"/><stop offset="1.000" stop-color="#676767"/></linearGradient><linearGradient id="gh51"><stop offset="0.000" stop-color="#7f7f7f"/><stop offset="0.216" stop-color="#7a7a7a"/><stop offset="0.498" stop-color="#757575"/><stop offset="0.503" stop-color="#626262"/><stop offset="0.749" stop-color="#656565"/><stop offset="1.000" stop-color="#676767"/></linearGradient><linearGradient id="gh52"><stop offset="0.000" stop-color="#7e7e7e"/><stop offset="0.216" stop-color="#797979"/><stop offset="0.498" stop-color="#747474"/><stop offset="0.503" stop-color="#616161"/><stop offset="0.749" stop-color="#646464"/><stop offset="1.000" stop-color="#666666"/></linearGradient><linearGradient id="gh53"><stop offset="0.000" stop-color="#7a7a7a"/><stop offset="0.216" stop-color="#757575"/><stop offset="0.498" stop-color="#707070"/><stop offset="0.503" stop-color="#5e5e5e"/><stop offset="0.749" stop-color="#606060"/><stop offset="1.000" stop-color="#636363"/></linearGradient><linearGradient id="gh54"><stop offset="0.000" stop-color="#7b7b7b"/><stop offset="0.216" stop-color="#767676"/><stop offset="0.498" stop-color="#717171"/><stop offset="0.503" stop-color="#5f5f5f"/><stop offset="0.749" stop-color="#616161"/><stop offset="1.000" stop-color="#646464"/></linearGradient><linearGradient id="gh55"><stop offset="0.000" stop-color="#4a4a4a"/><stop offset="0.216" stop-color="#444444"/><stop offset="0.498" stop-color="#3f3f3f"/><stop offset="0.503" stop-color="#343434"/><stop offset="0.749" stop-color="#373737"/><stop offset="1.000" stop-color="#3a3a3a"/></linearGradient><linearGradient id="gh56"><stop offset="0.000" stop-color="#828282"/><stop offset="0.216" stop-color="#7c7c7c"/><stop offset="0.498" stop-color="#777777"/><stop offset="0.503" stop-color="#646464"/><stop offset="0.749" stop-color="#676767"/><stop offset="1.000" stop-color="#696969"/></linearGradient><linearGradient id="gh57"><stop offset="0.000" stop-color="#7c7c7c"/><stop offset="0.216" stop-color="#777777"/><stop offset="0.498" stop-color="#727272"/><stop offset="0.503" stop-color="#5f5f5f"/><stop offset="0.749" stop-color="#626262"/><stop offset="1.000" stop-color="#646464"/></linearGradient><linearGradient id="gh58"><stop offset="0.000" stop-color="#868686"/><stop offset="0.216" stop-color="#818181"/><stop offset="0.498" stop-color="#7c7c7c"/><stop offset="0.503" stop-color="#686868"/><stop offset="0.749" stop-color="#6b6b6b"/><stop offset="1.000" stop-color="#6d6d6d"/></linearGradient><linearGradient id="gh59"><stop offset="0.000" stop-color="#767676"/><stop offset="0.216" stop-color="#717171"/><stop offset="0.498" stop-color="#6c6c6c"/><stop offset="0.503" stop-color="#5a5a5a"/><stop offset="0.749" stop-color="#5d5d5d"/><stop offset="1.000" stop-color="#5f5f5f"/></linearGradient><linearGradient id="gh60"><stop offset="0.000" stop-color="#7e7e7e"/><stop offset="0.216" stop-color="#797979"/><stop offset="0.498" stop-color="#747474"/><stop offset="0.503" stop-color="#616161"/><stop offset="0.749" stop-color="#646464"/><stop offset="1.000" stop-color="#666666"/></linearGradient><linearGradient id="gh61"><stop offset="0.000" stop-color="#787878"/><stop offset="0.216" stop-color="#737373"/><stop offset="0.498" stop-color="#6d6d6d"/><stop offset="0.503" stop-color="#5b5b5b"/><stop offset="0.749" stop-color="#5e5e5e"/><stop offset="1.000" stop-color="#606060"/></linearGradient><linearGradient id="gh62"><stop offset="0.000" stop-color="#5e5e5e"/><stop offset="0.216" stop-color="#595959"/><stop offset="0.498" stop-color="#545454"/><stop offset="0.503" stop-color="#444444"/><stop offset="0.749" stop-color="#474747"/><stop offset="1.000" stop-color="#494949"/></linearGradient><linearGradient id="gh63"><stop offset="0.000" stop-color="#717171"/><stop offset="0.216" stop-color="#6b6b6b"/><stop offset="0.498" stop-color="#666666"/><stop offset="0.503" stop-color="#5d5d5d"/><stop offset="0.749" stop-color="#5f5f5f"/><stop offset="1.000" stop-color="#626262"/></linearGradient><linearGradient id="gh64"><stop offset="0.000" stop-color="#7a7a7a"/><stop offset="0.216" stop-color="#757575"/><stop offset="0.498" stop-color="#707070"/><stop offset="0.503" stop-color="#5e5e5e"/><stop offset="0.749" stop-color="#606060"/><stop offset="1.000" stop-color="#636363"/></linearGradient><linearGradient id="gh65"><stop offset="0.000" stop-color="#4a4a4a"/><stop offset="0.216" stop-color="#454545"/><stop offset="0.498" stop-color="#404040"/><stop offset="0.503" stop-color="#353535"/><stop offset="0.749" stop-color="#373737"/><stop offset="1.000" stop-color="#3a3a3a"/></linearGradient><linearGradient id="gh66"><stop offset="0.000" stop-color="#6e6e6e"/><stop offset="0.216" stop-color="#696969"/><stop offset="0.498" stop-color="#646464"/><stop offset="0.503" stop-color="#535353"/><stop offset="0.749" stop-color="#555555"/><stop offset="1.000" stop-color="#585858"/></linearGradient><linearGradient id="gh67"><stop offset="0.000" stop-color="#6e6e6e"/><stop offset="0.216" stop-color="#696969"/><stop offset="0.498" stop-color="#646464"/><stop offset="0.503" stop-color="#535353"/><stop offset="0.749" stop-color="#565656"/><stop offset="1.000" stop-color="#585858"/></linearGradient><linearGradient id="gh68"><stop offset="0.000" stop-color="#707070"/><stop offset="0.216" stop-color="#6b6b6b"/><stop offset="0.498" stop-color="#666666"/><stop offset="0.503" stop-color="#555555"/><stop offset="0.749" stop-color="#575757"/><stop offset="1.000" stop-color="#5a5a5a"/></linearGradient><linearGradient id="gh69"><stop offset="0.000" stop-color="#8e8e8e"/><stop offset="0.216" stop-color="#888888"/><stop offset="0.498" stop-color="#838383"/><stop offset="0.503" stop-color="#6f6f6f"/><stop offset="0.749" stop-color="#727272"/><stop offset="1.000" stop-color="#747474"/></linearGradient><linearGradient id="gh70"><stop offset="0.000" stop-color="#909090"/><stop offset="0.216" stop-color="#8a8a8a"/><stop offset="0.498" stop-color="#858585"/><stop offset="0.503" stop-color="#717171"/><stop offset="0.749" stop-color="#737373"/><stop offset="1.000" stop-color="#767676"/></linearGradient><linearGradient id="gh71"><stop offset="0.000" stop-color="#6d6d6d"/><stop offset="0.216" stop-color="#686868"/><stop offset="0.498" stop-color="#636363"/><stop offset="0.503" stop-color="#525252"/><stop offset="0.749" stop-color="#545454"/><stop offset="1.000" stop-color="#575757"/></linearGradient><linearGradient id="gh72"><stop offset="0.000" stop-color="#959595"/><stop offset="0.216" stop-color="#909090"/><stop offset="0.498" stop-color="#8a8a8a"/><stop offset="0.503" stop-color="#7d7d7d"/><stop offset="0.749" stop-color="#808080"/><stop offset="1.000" stop-color="#828282"/></linearGradient><linearGradient id="gh73"><stop offset="0.000" stop-color="#7e7e7e"/><stop offset="0.216" stop-color="#797979"/><stop offset="0.498" stop-color="#747474"/><stop offset="0.503" stop-color="#616161"/><stop offset="0.749" stop-color="#646464"/><stop offset="1.000" stop-color="#666666"/></linearGradient><linearGradient id="gh74"><stop offset="0.000" stop-color="#636363"/><stop offset="0.216" stop-color="#5e5e5e"/><stop offset="0.498" stop-color="#595959"/><stop offset="0.503" stop-color="#4b4b4b"/><stop offset="0.749" stop-color="#4e4e4e"/><stop offset="1.000" stop-color="#515151"/></linearGradient><linearGradient id="gh75"><stop offset="0.000" stop-color="#848484"/><stop offset="0.216" stop-color="#7f7f7f"/><stop offset="0.498" stop-color="#797979"/><stop offset="0.503" stop-color="#666666"/><stop offset="0.749" stop-color="#696969"/><stop offset="1.000" stop-color="#6b6b6b"/></linearGradient><linearGradient id="gh76"><stop offset="0.000" stop-color="#787878"/><stop offset="0.216" stop-color="#737373"/><stop offset="0.498" stop-color="#6e6e6e"/><stop offset="0.503" stop-color="#5e5e5e"/><stop offset="0.749" stop-color="#616161"/><stop offset="1.000" stop-color="#636363"/></linearGradient><linearGradient id="gh77"><stop offset="0.000" stop-color="#626262"/><stop offset="0.216" stop-color="#5d5d5d"/><stop offset="0.498" stop-color="#585858"/><stop offset="0.503" stop-color="#484848"/><stop offset="0.749" stop-color="#4a4a4a"/><stop offset="1.000" stop-color="#4d4d4d"/></linearGradient><linearGradient id="gh78"><stop offset="0.000" stop-color="#848484"/><stop offset="0.216" stop-color="#7f7f7f"/><stop offset="0.498" stop-color="#7a7a7a"/><stop offset="0.503" stop-color="#676767"/><stop offset="0.749" stop-color="#696969"/><stop offset="1.000" stop-color="#6c6c6c"/></linearGradient><linearGradient id="gh79"><stop offset="0.000" stop-color="#6a6a6a"/><stop offset="0.216" stop-color="#656565"/><stop offset="0.498" stop-color="#606060"/><stop offset="0.503" stop-color="#4f4f4f"/><stop offset="0.749" stop-color="#525252"/><stop offset="1.000" stop-color="#545454"/></linearGradient><linearGradient id="gh80"><stop offset="0.000" stop-color="#636363"/><stop offset="0.216" stop-color="#5e5e5e"/><stop offset="0.498" stop-color="#595959"/><stop offset="0.503" stop-color="#494949"/><stop offset="0.749" stop-color="#4b4b4b"/><stop offset="1.000" stop-color="#4e4e4e"/></linearGradient><linearGradient id="gh81"><stop offset="0.000" stop-color="#767676"/><stop offset="0.216" stop-color="#717171"/><stop offset="0.498" stop-color="#6c6c6c"/><stop offset="0.503" stop-color="#5a5a5a"/><stop offset="0.749" stop-color="#5c5c5c"/><stop offset="1.000" stop-color="#5f5f5f"/></linearGradient><linearGradient id="gh82"><stop offset="0.000" stop-color="#545454"/><stop offset="0.216" stop-color="#4f4f4f"/><stop offset="0.498" stop-color="#4a4a4a"/><stop offset="0.503" stop-color="#3c3c3c"/><stop offset="0.749" stop-color="#3e3e3e"/><stop offset="1.000" stop-color="#414141"/></linearGradient><linearGradient id="gh83"><stop offset="0.000" stop-color="#7e7e7e"/><stop offset="0.216" stop-color="#797979"/><stop offset="0.498" stop-color="#747474"/><stop offset="0.503" stop-color="#616161"/><stop offset="0.749" stop-color="#646464"/><stop offset="1.000" stop-color="#666666"/></linearGradient><linearGradient id="gh84"><stop offset="0.000" stop-color="#6c6c6c"/><stop offset="0.216" stop-color="#676767"/><stop offset="0.498" stop-color="#626262"/><stop offset="0.503" stop-color="#515151"/><stop offset="0.749" stop-color="#535353"/><stop offset="1.000" stop-color="#565656"/></linearGradient><linearGradient id="gh85"><stop offset="0.000" stop-color="#909090"/><stop offset="0.216" stop-color="#8b8b8b"/><stop offset="0.498" stop-color="#868686"/><stop offset="0.503" stop-color="#727272"/><stop offset="0.749" stop-color="#747474"/><stop offset="1.000" stop-color="#777777"/></linearGradient><linearGradient id="gh86"><stop offset="0.000" stop-color="#5a5a5a"/><stop offset="0.216" stop-color="#555555"/><stop offset="0.498" stop-color="#505050"/><stop offset="0.503" stop-color="#414141"/><stop offset="0.749" stop-color="#434343"/><stop offset="1.000" stop-color="#464646"/></linearGradient><linearGradient id="gh87"><stop offset="0.000" stop-color="#7e7e7e"/><stop offset="0.216" stop-color="#797979"/><stop offset="0.498" stop-color="#747474"/><stop offset="0.503" stop-color="#616161"/><stop offset="0.749" stop-color="#646464"/><stop offset="1.000" stop-color="#666666"/></linearGradient><linearGradient id="gh88"><stop offset="0.000" stop-color="#8a8a8a"/><stop offset="0.216" stop-color="#858585"/><stop offset="0.498" stop-color="#808080"/><stop offset="0.503" stop-color="#747474"/><stop offset="0.749" stop-color="#767676"/><stop offset="1.000" stop-color="#797979"/></linearGradient><linearGradient id="gh89"><stop offset="0.000" stop-color="#7c7c7c"/><stop offset="0.216" stop-color="#767676"/><stop offset="0.498" stop-color="#717171"/><stop offset="0.503" stop-color="#5f5f5f"/><stop offset="0.749" stop-color="#616161"/><stop offset="1.000" stop-color="#646464"/></linearGradient><linearGradient id="gh90"><stop offset="0.000" stop-color="#7f7f7f"/><stop offset="0.216" stop-color="#7a7a7a"/><stop offset="0.498" stop-color="#757575"/><stop offset="0.503" stop-color="#626262"/><stop offset="0.749" stop-color="#656565"/><stop offset="1.000" stop-color="#676767"/></linearGradient><linearGradient id="gh91"><stop offset="0.000" stop-color="#616161"/><stop offset="0.216" stop-color="#5c5c5c"/><stop offset="0.498" stop-color="#575757"/><stop offset="0.503" stop-color="#474747"/><stop offset="0.749" stop-color="#4a4a4a"/><stop offset="1.000" stop-color="#4d4d4d"/></linearGradient><linearGradient id="gh92"><stop offset="0.000" stop-color="#6e6e6e"/><stop offset="0.216" stop-color="#696969"/><stop offset="0.498" stop-color="#646464"/><stop offset="0.503" stop-color="#535353"/><stop offset="0.749" stop-color="#555555"/><stop offset="1.000" stop-color="#585858"/></linearGradient><linearGradient id="gh93"><stop offset="0.000" stop-color="#666666"/><stop offset="0.216" stop-color="#616161"/><stop offset="0.498" stop-color="#5c5c5c"/><stop offset="0.503" stop-color="#4e4e4e"/><stop offset="0.749" stop-color="#515151"/><stop offset="1.000" stop-color="#535353"/></linearGradient><linearGradient id="gh94"><stop offset="0.000" stop-color="#747474"/><stop offset="0.216" stop-color="#6f6f6f"/><stop offset="0.498" stop-color="#6a6a6a"/><stop offset="0.503" stop-color="#585858"/><stop offset="0.749" stop-color="#5b5b5b"/><stop offset="1.000" stop-color="#5d5d5d"/></linearGradient><linearGradient id="gh95"><stop offset="0.000" stop-color="#707070"/><stop offset="0.216" stop-color="#6b6b6b"/><stop offset="0.498" stop-color="#666666"/><stop offset="0.503" stop-color="#545454"/><stop offset="0.749" stop-color="#575757"/><stop offset="1.000" stop-color="#5a5a5a"/></linearGradient><linearGradient id="gh96"><stop offset="0.000" stop-color="#676767"/><stop offset="0.216" stop-color="#626262"/><stop offset="0.498" stop-color="#5d5d5d"/><stop offset="0.503" stop-color="#4c4c4c"/><stop offset="0.749" stop-color="#4f4f4f"/><stop offset="1.000" stop-color="#515151"/></linearGradient><linearGradient id="gh97"><stop offset="0.000" stop-color="#747474"/><stop offset="0.216" stop-color="#6f6f6f"/><stop offset="0.498" stop-color="#6a6a6a"/><stop offset="0.503" stop-color="#636363"/><stop offset="0.749" stop-color="#656565"/><stop offset="1.000" stop-color="#686868"/></linearGradient><linearGradient id="gh98"><stop offset="0.000" stop-color="#5d5d5d"/><stop offset="0.216" stop-color="#585858"/><stop offset="0.498" stop-color="#535353"/><stop offset="0.503" stop-color="#444444"/><stop offset="0.749" stop-color="#464646"/><stop offset="1.000" stop-color="#494949"/></linearGradient><linearGradient id="gh99"><stop offset="0.000" stop-color="#545454"/><stop offset="0.216" stop-color="#4f4f4f"/><stop offset="0.498" stop-color="#4a4a4a"/><stop offset="0.503" stop-color="#3e3e3e"/><stop offset="0.749" stop-color="#404040"/><stop offset="1.000" stop-color="#434343"/></linearGradient><linearGradient id="gh100"><stop offset="0.000" stop-color="#696969"/><stop offset="0.216" stop-color="#646464"/><stop offset="0.498" stop-color="#5f5f5f"/><stop offset="0.503" stop-color="#4e4e4e"/><stop offset="0.749" stop-color="#515151"/><stop offset="1.000" stop-color="#535353"/></linearGradient><linearGradient id="gh101"><stop offset="0.000" stop-color="#7b7b7b"/><stop offset="0.216" stop-color="#767676"/><stop offset="0.498" stop-color="#717171"/><stop offset="0.503" stop-color="#5e5e5e"/><stop offset="0.749" stop-color="#616161"/><stop offset="1.000" stop-color="#646464"/></linearGradient><linearGradient id="gh102"><stop offset="0.000" stop-color="#828282"/><stop offset="0.216" stop-color="#7d7d7d"/><stop offset="0.498" stop-color="#777777"/><stop offset="0.503" stop-color="#646464"/><stop offset="0.749" stop-color="#676767"/><stop offset="1.000" stop-color="#696969"/></linearGradient><linearGradient id="gh103"><stop offset="0.000" stop-color="#757575"/><stop offset="0.216" stop-color="#707070"/><stop offset="0.498" stop-color="#6b6b6b"/><stop offset="0.503" stop-color="#878787"/><stop offset="0.749" stop-color="#898989"/><stop offset="1.000" stop-color="#8c8c8c"/></linearGradient><linearGradient id="gh104"><stop offset="0.000" stop-color="#373737"/><stop offset="0.216" stop-color="#323232"/><stop offset="0.498" stop-color="#2d2d2d"/><stop offset="0.503" stop-color="#525252"/><stop offset="0.749" stop-color="#545454"/><stop offset="1.000" stop-color="#575757"/></linearGradient><linearGradient id="gh105"><stop offset="0.000" stop-color="#555555"/><stop offset="0.216" stop-color="#505050"/><stop offset="0.498" stop-color="#4b4b4b"/><stop offset="0.503" stop-color="#6a6a6a"/><stop offset="0.749" stop-color="#6c6c6c"/><stop offset="1.000" stop-color="#6f6f6f"/></linearGradient><linearGradient id="gh106"><stop offset="0.000" stop-color="#4f4f4f"/><stop offset="0.216" stop-color="#4a4a4a"/><stop offset="0.498" stop-color="#454545"/><stop offset="0.503" stop-color="#646464"/><stop offset="0.749" stop-color="#676767"/><stop offset="1.000" stop-color="#6a6a6a"/></linearGradient><linearGradient id="gh107"><stop offset="0.000" stop-color="#787878"/><stop offset="0.216" stop-color="#737373"/><stop offset="0.498" stop-color="#6d6d6d"/><stop offset="0.503" stop-color="#898989"/><stop offset="0.749" stop-color="#8c8c8c"/><stop offset="1.000" stop-color="#8e8e8e"/></linearGradient><linearGradient id="gh108"><stop offset="0.000" stop-color="#535353"/><stop offset="0.216" stop-color="#4e4e4e"/><stop offset="0.498" stop-color="#494949"/><stop offset="0.503" stop-color="#686868"/><stop offset="0.749" stop-color="#6b6b6b"/><stop offset="1.000" stop-color="#6d6d6d"/></linearGradient><linearGradient id="gh109"><stop offset="0.000" stop-color="#535353"/><stop offset="0.216" stop-color="#4e4e4e"/><stop offset="0.498" stop-color="#494949"/><stop offset="0.503" stop-color="#686868"/><stop offset="0.749" stop-color="#6b6b6b"/><stop offset="1.000" stop-color="#6d6d6d"/></linearGradient><linearGradient id="gh110"><stop offset="0.000" stop-color="#5c5c5c"/><stop offset="0.216" stop-color="#575757"/><stop offset="0.498" stop-color="#525252"/><stop offset="0.503" stop-color="#707070"/><stop offset="0.749" stop-color="#737373"/><stop offset="1.000" stop-color="#757575"/></linearGradient><linearGradient id="gh111"><stop offset="0.000" stop-color="#595959"/><stop offset="0.216" stop-color="#545454"/><stop offset="0.498" stop-color="#4f4f4f"/><stop offset="0.503" stop-color="#6e6e6e"/><stop offset="0.749" stop-color="#717171"/><stop offset="1.000" stop-color="#737373"/></linearGradient><linearGradient id="gh112"><stop offset="0.000" stop-color="#696969"/><stop offset="0.216" stop-color="#646464"/><stop offset="0.498" stop-color="#5f5f5f"/><stop offset="0.503" stop-color="#7c7c7c"/><stop offset="0.749" stop-color="#7e7e7e"/><stop offset="1.000" stop-color="#818181"/></linearGradient><linearGradient id="gh113"><stop offset="0.000" stop-color="#595959"/><stop offset="0.216" stop-color="#545454"/><stop offset="0.498" stop-color="#4f4f4f"/><stop offset="0.503" stop-color="#6e6e6e"/><stop offset="0.749" stop-color="#707070"/><stop offset="1.000" stop-color="#737373"/></linearGradient><linearGradient id="gh114"><stop offset="0.000" stop-color="#595959"/><stop offset="0.216" stop-color="#535353"/><stop offset="0.498" stop-color="#4e4e4e"/><stop offset="0.503" stop-color="#6d6d6d"/><stop offset="0.749" stop-color="#707070"/><stop offset="1.000" stop-color="#727272"/></linearGradient><linearGradient id="gh115"><stop offset="0.000" stop-color="#565656"/><stop offset="0.216" stop-color="#515151"/><stop offset="0.498" stop-color="#4c4c4c"/><stop offset="0.503" stop-color="#6b6b6b"/><stop offset="0.749" stop-color="#6e6e6e"/><stop offset="1.000" stop-color="#707070"/></linearGradient><linearGradient id="gh116"><stop offset="0.000" stop-color="#4d4d4d"/><stop offset="0.216" stop-color="#484848"/><stop offset="0.498" stop-color="#434343"/><stop offset="0.503" stop-color="#636363"/><stop offset="0.749" stop-color="#666666"/><stop offset="1.000" stop-color="#686868"/></linearGradient><linearGradient id="gh117"><stop offset="0.000" stop-color="#575757"/><stop offset="0.216" stop-color="#525252"/><stop offset="0.498" stop-color="#4d4d4d"/><stop offset="0.503" stop-color="#6c6c6c"/><stop offset="0.749" stop-color="#6e6e6e"/><stop offset="1.000" stop-color="#717171"/></linearGradient><linearGradient id="gh118"><stop offset="0.000" stop-color="#5b5b5b"/><stop offset="0.216" stop-color="#565656"/><stop offset="0.498" stop-color="#515151"/><stop offset="0.503" stop-color="#6f6f6f"/><stop offset="0.749" stop-color="#727272"/><stop offset="1.000" stop-color="#747474"/></linearGradient><linearGradient id="gh119"><stop offset="0.000" stop-color="#383838"/><stop offset="0.216" stop-color="#333333"/><stop offset="0.498" stop-color="#2e2e2e"/><stop offset="0.503" stop-color="#505050"/><stop offset="0.749" stop-color="#525252"/><stop offset="1.000" stop-color="#555555"/></linearGradient><linearGradient id="gh120"><stop offset="0.000" stop-color="#616161"/><stop offset="0.216" stop-color="#5b5b5b"/><stop offset="0.498" stop-color="#565656"/><stop offset="0.503" stop-color="#747474"/><stop offset="0.749" stop-color="#777777"/><stop offset="1.000" stop-color="#7a7a7a"/></linearGradient><linearGradient id="gh121"><stop offset="0.000" stop-color="#4e4e4e"/><stop offset="0.216" stop-color="#494949"/><stop offset="0.498" stop-color="#444444"/><stop offset="0.503" stop-color="#646464"/><stop offset="0.749" stop-color="#666666"/><stop offset="1.000" stop-color="#696969"/></linearGradient><linearGradient id="gh122"><stop offset="0.000" stop-color="#555555"/><stop offset="0.216" stop-color="#505050"/><stop offset="0.498" stop-color="#4b4b4b"/><stop offset="0.503" stop-color="#6a6a6a"/><stop offset="0.749" stop-color="#6d6d6d"/><stop offset="1.000" stop-color="#707070"/></linearGradient><linearGradient id="gh123"><stop offset="0.000" stop-color="#4b4b4b"/><stop offset="0.216" stop-color="#464646"/><stop offset="0.498" stop-color="#414141"/><stop offset="0.503" stop-color="#616161"/><stop offset="0.749" stop-color="#646464"/><stop offset="1.000" stop-color="#666666"/></linearGradient><linearGradient id="gh124"><stop offset="0.000" stop-color="#626262"/><stop offset="0.216" stop-color="#5d5d5d"/><stop offset="0.498" stop-color="#585858"/><stop offset="0.503" stop-color="#767676"/><stop offset="0.749" stop-color="#787878"/><stop offset="1.000" stop-color="#7b7b7b"/></linearGradient><linearGradient id="gh125"><stop offset="0.000" stop-color="#757575"/><stop offset="0.216" stop-color="#707070"/><stop offset="0.498" stop-color="#6b6b6b"/><stop offset="0.503" stop-color="#878787"/><stop offset="0.749" stop-color="#898989"/><stop offset="1.000" stop-color="#8c8c8c"/></linearGradient><linearGradient id="gh126"><stop offset="0.000" stop-color="#404040"/><stop offset="0.216" stop-color="#3b3b3b"/><stop offset="0.498" stop-color="#363636"/><stop offset="0.503" stop-color="#585858"/><stop offset="0.749" stop-color="#5a5a5a"/><stop offset="1.000" stop-color="#5d5d5d"/></linearGradient><linearGradient id="gh127"><stop offset="0.000" stop-color="#6c6c6c"/><stop offset="0.216" stop-color="#676767"/><stop offset="0.498" stop-color="#626262"/><stop offset="0.503" stop-color="#868686"/><stop offset="0.749" stop-color="#898989"/><stop offset="1.000" stop-color="#8c8c8c"/></linearGradient><linearGradient id="gh128"><stop offset="0.000" stop-color="#434343"/><stop offset="0.216" stop-color="#3e3e3e"/><stop offset="0.498" stop-color="#393939"/><stop offset="0.503" stop-color="#5a5a5a"/><stop offset="0.749" stop-color="#5d5d5d"/><stop offset="1.000" stop-color="#5f5f5f"/></linearGradient><linearGradient id="gh129"><stop offset="0.000" stop-color="#545454"/><stop offset="0.216" stop-color="#4f4f4f"/><stop offset="0.498" stop-color="#4a4a4a"/><stop offset="0.503" stop-color="#696969"/><stop offset="0.749" stop-color="#6c6c6c"/><stop offset="1.000" stop-color="#6f6f6f"/></linearGradient><linearGradient id="gh130"><stop offset="0.000" stop-color="#5b5b5b"/><stop offset="0.216" stop-color="#565656"/><stop offset="0.498" stop-color="#515151"/><stop offset="0.503" stop-color="#6f6f6f"/><stop offset="0.749" stop-color="#727272"/><stop offset="1.000" stop-color="#747474"/></linearGradient><linearGradient id="gh131"><stop offset="0.000" stop-color="#5c5c5c"/><stop offset="0.216" stop-color="#575757"/><stop offset="0.498" stop-color="#515151"/><stop offset="0.503" stop-color="#707070"/><stop offset="0.749" stop-color="#737373"/><stop offset="1.000" stop-color="#757575"/></linearGradient><linearGradient id="gh132"><stop offset="0.000" stop-color="#5e5e5e"/><stop offset="0.216" stop-color="#595959"/><stop offset="0.498" stop-color="#535353"/><stop offset="0.503" stop-color="#727272"/><stop offset="0.749" stop-color="#747474"/><stop offset="1.000" stop-color="#777777"/></linearGradient><linearGradient id="gh133"><stop offset="0.000" stop-color="#8a8a8a"/><stop offset="0.216" stop-color="#858585"/><stop offset="0.498" stop-color="#808080"/><stop offset="0.503" stop-color="#9a9a9a"/><stop offset="0.749" stop-color="#9d9d9d"/><stop offset="1.000" stop-color="#9f9f9f"/></linearGradient><linearGradient id="gh134"><stop offset="0.000" stop-color="#4a4a4a"/><stop offset="0.216" stop-color="#454545"/><stop offset="0.498" stop-color="#404040"/><stop offset="0.503" stop-color="#636363"/><stop offset="0.749" stop-color="#666666"/><stop offset="1.000" stop-color="#686868"/></linearGradient><linearGradient id="gh135"><stop offset="0.000" stop-color="#4a4a4a"/><stop offset="0.216" stop-color="#454545"/><stop offset="0.498" stop-color="#404040"/><stop offset="0.503" stop-color="#606060"/><stop offset="0.749" stop-color="#636363"/><stop offset="1.000" stop-color="#656565"/></linearGradient><linearGradient id="gh136"><stop offset="0.000" stop-color="#5b5b5b"/><stop offset="0.216" stop-color="#565656"/><stop offset="0.498" stop-color="#515151"/><stop offset="0.503" stop-color="#707070"/><stop offset="0.749" stop-color="#727272"/><stop offset="1.000" stop-color="#757575"/></linearGradient><linearGradient id="gh137"><stop offset="0.000" stop-color="#6a6a6a"/><stop offset="0.216" stop-color="#656565"/><stop offset="0.498" stop-color="#606060"/><stop offset="0.503" stop-color="#7d7d7d"/><stop offset="0.749" stop-color="#808080"/><stop offset="1.000" stop-color="#828282"/></linearGradient><linearGradient id="gh138"><stop offset="0.000" stop-color="#5d5d5d"/><stop offset="0.216" stop-color="#585858"/><stop offset="0.498" stop-color="#535353"/><stop offset="0.503" stop-color="#727272"/><stop offset="0.749" stop-color="#747474"/><stop offset="1.000" stop-color="#777777"/></linearGradient><linearGradient id="gh139"><stop offset="0.000" stop-color="#787878"/><stop offset="0.216" stop-color="#737373"/><stop offset="0.498" stop-color="#6e6e6e"/><stop offset="0.503" stop-color="#919191"/><stop offset="0.749" stop-color="#949494"/><stop offset="1.000" stop-color="#979797"/></linearGradient><linearGradient id="gh140"><stop offset="0.000" stop-color="#646464"/><stop offset="0.216" stop-color="#5f5f5f"/><stop offset="0.498" stop-color="#5a5a5a"/><stop offset="0.503" stop-color="#777777"/><stop offset="0.749" stop-color="#7a7a7a"/><stop offset="1.000" stop-color="#7d7d7d"/></linearGradient><linearGradient id="gh141"><stop offset="0.000" stop-color="#6b6b6b"/><stop offset="0.216" stop-color="#666666"/><stop offset="0.498" stop-color="#616161"/><stop offset="0.503" stop-color="#7e7e7e"/><stop offset="0.749" stop-color="#818181"/><stop offset="1.000" stop-color="#838383"/></linearGradient><linearGradient id="gh142"><stop offset="0.000" stop-color="#565656"/><stop offset="0.216" stop-color="#505050"/><stop offset="0.498" stop-color="#4b4b4b"/><stop offset="0.503" stop-color="#6b6b6b"/><stop offset="0.749" stop-color="#6d6d6d"/><stop offset="1.000" stop-color="#707070"/></linearGradient><linearGradient id="gh143"><stop offset="0.000" stop-color="#5c5c5c"/><stop offset="0.216" stop-color="#575757"/><stop offset="0.498" stop-color="#525252"/><stop offset="0.503" stop-color="#707070"/><stop offset="0.749" stop-color="#737373"/><stop offset="1.000" stop-color="#767676"/></linearGradient><linearGradient id="gh144"><stop offset="0.000" stop-color="#6b6b6b"/><stop offset="0.216" stop-color="#666666"/><stop offset="0.498" stop-color="#616161"/><stop offset="0.503" stop-color="#7e7e7e"/><stop offset="0.749" stop-color="#808080"/><stop offset="1.000" stop-color="#838383"/></linearGradient><linearGradient id="gh145"><stop offset="0.000" stop-color="#5b5b5b"/><stop offset="0.216" stop-color="#565656"/><stop offset="0.498" stop-color="#505050"/><stop offset="0.503" stop-color="#6f6f6f"/><stop offset="0.749" stop-color="#727272"/><stop offset="1.000" stop-color="#747474"/></linearGradient><linearGradient id="gh146"><stop offset="0.000" stop-color="#666666"/><stop offset="0.216" stop-color="#606060"/><stop offset="0.498" stop-color="#5b5b5b"/><stop offset="0.503" stop-color="#797979"/><stop offset="0.749" stop-color="#7c7c7c"/><stop offset="1.000" stop-color="#7e7e7e"/></linearGradient><linearGradient id="gh147"><stop offset="0.000" stop-color="#525252"/><stop offset="0.216" stop-color="#4d4d4d"/><stop offset="0.498" stop-color="#484848"/><stop offset="0.503" stop-color="#676767"/><stop offset="0.749" stop-color="#6a6a6a"/><stop offset="1.000" stop-color="#6c6c6c"/></linearGradient><linearGradient id="gh148"><stop offset="0.000" stop-color="#555555"/><stop offset="0.216" stop-color="#505050"/><stop offset="0.498" stop-color="#4a4a4a"/><stop offset="0.503" stop-color="#6a6a6a"/><stop offset="0.749" stop-color="#6c6c6c"/><stop offset="1.000" stop-color="#6f6f6f"/></linearGradient><linearGradient id="gh149"><stop offset="0.000" stop-color="#4a4a4a"/><stop offset="0.216" stop-color="#454545"/><stop offset="0.498" stop-color="#404040"/><stop offset="0.503" stop-color="#636363"/><stop offset="0.749" stop-color="#656565"/><stop offset="1.000" stop-color="#686868"/></linearGradient><linearGradient id="gh150"><stop offset="0.000" stop-color="#676767"/><stop offset="0.216" stop-color="#626262"/><stop offset="0.498" stop-color="#5d5d5d"/><stop offset="0.503" stop-color="#7a7a7a"/><stop offset="0.749" stop-color="#7d7d7d"/><stop offset="1.000" stop-color="#7f7f7f"/></linearGradient><linearGradient id="gh151"><stop offset="0.000" stop-color="#383838"/><stop offset="0.216" stop-color="#333333"/><stop offset="0.498" stop-color="#2e2e2e"/><stop offset="0.503" stop-color="#505050"/><stop offset="0.749" stop-color="#535353"/><stop offset="1.000" stop-color="#565656"/></linearGradient><linearGradient id="gh152"><stop offset="0.000" stop-color="#676767"/><stop offset="0.216" stop-color="#626262"/><stop offset="0.498" stop-color="#5d5d5d"/><stop offset="0.503" stop-color="#7a7a7a"/><stop offset="0.749" stop-color="#7d7d7d"/><stop offset="1.000" stop-color="#7f7f7f"/></linearGradient><linearGradient id="gh153"><stop offset="0.000" stop-color="#6f6f6f"/><stop offset="0.216" stop-color="#6a6a6a"/><stop offset="0.498" stop-color="#646464"/><stop offset="0.503" stop-color="#818181"/><stop offset="0.749" stop-color="#848484"/><stop offset="1.000" stop-color="#868686"/></linearGradient><linearGradient id="gh154"><stop offset="0.000" stop-color="#6a6a6a"/><stop offset="0.216" stop-color="#656565"/><stop offset="0.498" stop-color="#606060"/><stop offset="0.503" stop-color="#7d7d7d"/><stop offset="0.749" stop-color="#808080"/><stop offset="1.000" stop-color="#828282"/></linearGradient><linearGradient id="gh155"><stop offset="0.000" stop-color="#4d4d4d"/><stop offset="0.216" stop-color="#484848"/><stop offset="0.498" stop-color="#434343"/><stop offset="0.503" stop-color="#636363"/><stop offset="0.749" stop-color="#666666"/><stop offset="1.000" stop-color="#686868"/></linearGradient><linearGradient id="gh156"><stop offset="0.000" stop-color="#454545"/><stop offset="0.216" stop-color="#404040"/><stop offset="0.498" stop-color="#3b3b3b"/><stop offset="0.503" stop-color="#5c5c5c"/><stop offset="0.749" stop-color="#5e5e5e"/><stop offset="1.000" stop-color="#616161"/></linearGradient><linearGradient id="gh157"><stop offset="0.000" stop-color="#3e3e3e"/><stop offset="0.216" stop-color="#393939"/><stop offset="0.498" stop-color="#343434"/><stop offset="0.503" stop-color="#555555"/><stop offset="0.749" stop-color="#585858"/><stop offset="1.000" stop-color="#5a5a5a"/></linearGradient><linearGradient id="gh158"><stop offset="0.000" stop-color="#787878"/><stop offset="0.216" stop-color="#737373"/><stop offset="0.498" stop-color="#6d6d6d"/><stop offset="0.503" stop-color="#939393"/><stop offset="0.749" stop-color="#969696"/><stop offset="1.000" stop-color="#999999"/></linearGradient><linearGradient id="gh159"><stop offset="0.000" stop-color="#4c4c4c"/><stop offset="0.216" stop-color="#474747"/><stop offset="0.498" stop-color="#424242"/><stop offset="0.503" stop-color="#626262"/><stop offset="0.749" stop-color="#646464"/><stop offset="1.000" stop-color="#676767"/></linearGradient><linearGradient id="gh160"><stop offset="0.000" stop-color="#8a8a8a"/><stop offset="0.216" stop-color="#858585"/><stop offset="0.498" stop-color="#808080"/><stop offset="0.503" stop-color="#a2a2a2"/><stop offset="0.749" stop-color="#a4a4a4"/><stop offset="1.000" stop-color="#a7a7a7"/></linearGradient><linearGradient id="gh161"><stop offset="0.000" stop-color="#484848"/><stop offset="0.216" stop-color="#434343"/><stop offset="0.498" stop-color="#3d3d3d"/><stop offset="0.503" stop-color="#5e5e5e"/><stop offset="0.749" stop-color="#616161"/><stop offset="1.000" stop-color="#636363"/></linearGradient><linearGradient id="gh162"><stop offset="0.000" stop-color="#656565"/><stop offset="0.216" stop-color="#606060"/><stop offset="0.498" stop-color="#5b5b5b"/><stop offset="0.503" stop-color="#808080"/><stop offset="0.749" stop-color="#838383"/><stop offset="1.000" stop-color="#858585"/></linearGradient><linearGradient id="gh163"><stop offset="0.000" stop-color="#7f7f7f"/><stop offset="0.216" stop-color="#7a7a7a"/><stop offset="0.498" stop-color="#757575"/><stop offset="0.503" stop-color="#909090"/><stop offset="0.749" stop-color="#939393"/><stop offset="1.000" stop-color="#959595"/></linearGradient><linearGradient id="gh164"><stop offset="0.000" stop-color="#656565"/><stop offset="0.216" stop-color="#606060"/><stop offset="0.498" stop-color="#5b5b5b"/><stop offset="0.503" stop-color="#797979"/><stop offset="0.749" stop-color="#7b7b7b"/><stop offset="1.000" stop-color="#7e7e7e"/></linearGradient><linearGradient id="gh165"><stop offset="0.000" stop-color="#545454"/><stop offset="0.216" stop-color="#4f4f4f"/><stop offset="0.498" stop-color="#4a4a4a"/><stop offset="0.503" stop-color="#696969"/><stop offset="0.749" stop-color="#6c6c6c"/><stop offset="1.000" stop-color="#6e6e6e"/></linearGradient><linearGradient id="gh166"><stop offset="0.000" stop-color="#656565"/><stop offset="0.216" stop-color="#606060"/><stop offset="0.498" stop-color="#5b5b5b"/><stop offset="0.503" stop-color="#787878"/><stop offset="0.749" stop-color="#7b7b7b"/><stop offset="1.000" stop-color="#7d7d7d"/></linearGradient><linearGradient id="gh167"><stop offset="0.000" stop-color="#5b5b5b"/><stop offset="0.216" stop-color="#565656"/><stop offset="0.498" stop-color="#515151"/><stop offset="0.503" stop-color="#707070"/><stop offset="0.749" stop-color="#727272"/><stop offset="1.000" stop-color="#757575"/></linearGradient><linearGradient id="gh168"><stop offset="0.000" stop-color="#5d5d5d"/><stop offset="0.216" stop-color="#585858"/><stop offset="0.498" stop-color="#535353"/><stop offset="0.503" stop-color="#727272"/><stop offset="0.749" stop-color="#747474"/><stop offset="1.000" stop-color="#777777"/></linearGradient><linearGradient id="gh169"><stop offset="0.000" stop-color="#3a3a3a"/><stop offset="0.216" stop-color="#353535"/><stop offset="0.498" stop-color="#303030"/><stop offset="0.503" stop-color="#555555"/><stop offset="0.749" stop-color="#575757"/><stop offset="1.000" stop-color="#5a5a5a"/></linearGradient><linearGradient id="gh170"><stop offset="0.000" stop-color="#474747"/><stop offset="0.216" stop-color="#424242"/><stop offset="0.498" stop-color="#3c3c3c"/><stop offset="0.503" stop-color="#606060"/><stop offset="0.749" stop-color="#626262"/><stop offset="1.000" stop-color="#656565"/></linearGradient><linearGradient id="gh171"><stop offset="0.000" stop-color="#484848"/><stop offset="0.216" stop-color="#434343"/><stop offset="0.498" stop-color="#3e3e3e"/><stop offset="0.503" stop-color="#5e5e5e"/><stop offset="0.749" stop-color="#616161"/><stop offset="1.000" stop-color="#636363"/></linearGradient><linearGradient id="gh172"><stop offset="0.000" stop-color="#5b5b5b"/><stop offset="0.216" stop-color="#555555"/><stop offset="0.498" stop-color="#505050"/><stop offset="0.503" stop-color="#6f6f6f"/><stop offset="0.749" stop-color="#727272"/><stop offset="1.000" stop-color="#747474"/></linearGradient><linearGradient id="gh173"><stop offset="0.000" stop-color="#525252"/><stop offset="0.216" stop-color="#4d4d4d"/><stop offset="0.498" stop-color="#484848"/><stop offset="0.503" stop-color="#686868"/><stop offset="0.749" stop-color="#6a6a6a"/><stop offset="1.000" stop-color="#6d6d6d"/></linearGradient><linearGradient id="gh174"><stop offset="0.000" stop-color="#5d5d5d"/><stop offset="0.216" stop-color="#575757"/><stop offset="0.498" stop-color="#525252"/><stop offset="0.503" stop-color="#717171"/><stop offset="0.749" stop-color="#737373"/><stop offset="1.000" stop-color="#767676"/></linearGradient><linearGradient id="gh175"><stop offset="0.000" stop-color="#5b5b5b"/><stop offset="0.216" stop-color="#565656"/><stop offset="0.498" stop-color="#515151"/><stop offset="0.503" stop-color="#707070"/><stop offset="0.749" stop-color="#727272"/><stop offset="1.000" stop-color="#757575"/></linearGradient><linearGradient id="gh176"><stop offset="0.000" stop-color="#777777"/><stop offset="0.216" stop-color="#727272"/><stop offset="0.498" stop-color="#6c6c6c"/><stop offset="0.503" stop-color="#888888"/><stop offset="0.749" stop-color="#8b8b8b"/><stop offset="1.000" stop-color="#8d8d8d"/></linearGradient><linearGradient id="gh177"><stop offset="0.000" stop-color="#616161"/><stop offset="0.216" stop-color="#5c5c5c"/><stop offset="0.498" stop-color="#575757"/><stop offset="0.503" stop-color="#7d7d7d"/><stop offset="0.749" stop-color="#7f7f7f"/><stop offset="1.000" stop-color="#828282"/></linearGradient><linearGradient id="gh178"><stop offset="0.000" stop-color="#424242"/><stop offset="0.216" stop-color="#3d3d3d"/><stop offset="0.498" stop-color="#383838"/><stop offset="0.503" stop-color="#595959"/><stop offset="0.749" stop-color="#5b5b5b"/><stop offset="1.000" stop-color="#5e5e5e"/></linearGradient><linearGradient id="gh179"><stop offset="0.000" stop-color="#626262"/><stop offset="0.216" stop-color="#5c5c5c"/><stop offset="0.498" stop-color="#575757"/><stop offset="0.503" stop-color="#757575"/><stop offset="0.749" stop-color="#787878"/><stop offset="1.000" stop-color="#7a7a7a"/></linearGradient><linearGradient id="gh180"><stop offset="0.000" stop-color="#333333"/><stop offset="0.216" stop-color="#2e2e2e"/><stop offset="0.498" stop-color="#292929"/><stop offset="0.503" stop-color="#4e4e4e"/><stop offset="0.749" stop-color="#505050"/><stop offset="1.000" stop-color="#535353"/></linearGradient><linearGradient id="gh181"><stop offset="0.000" stop-color="#5c5c5c"/><stop offset="0.216" stop-color="#575757"/><stop offset="0.498" stop-color="#525252"/><stop offset="0.503" stop-color="#717171"/><stop offset="0.749" stop-color="#737373"/><stop offset="1.000" stop-color="#767676"/></linearGradient></defs>
<filter id="hb" x="-20%" y="-20%" width="140%" height="140%"><feGaussianBlur stdDeviation="17"/></filter>
<clipPath id="hclip"><rect x="348.8" y="258.8" width="160.59999999999997" height="181.8"/></clipPath>
<g clip-path="url(#hclip)"><g filter="url(#vfH)"><rect x="348.8" y="258.80" width="160.59999999999997" height="1.30" fill="url(#gh0)"/><rect x="348.8" y="259.80" width="160.59999999999997" height="1.30" fill="url(#gh1)"/><rect x="348.8" y="260.80" width="160.59999999999997" height="1.30" fill="url(#gh2)"/><rect x="348.8" y="261.80" width="160.59999999999997" height="1.30" fill="url(#gh3)"/><rect x="348.8" y="262.80" width="160.59999999999997" height="1.30" fill="url(#gh4)"/><rect x="348.8" y="263.79" width="160.59999999999997" height="1.30" fill="url(#gh5)"/><rect x="348.8" y="264.79" width="160.59999999999997" height="1.30" fill="url(#gh6)"/><rect x="348.8" y="265.79" width="160.59999999999997" height="1.30" fill="url(#gh7)"/><rect x="348.8" y="266.79" width="160.59999999999997" height="1.30" fill="url(#gh8)"/><rect x="348.8" y="267.79" width="160.59999999999997" height="1.30" fill="url(#gh9)"/><rect x="348.8" y="268.79" width="160.59999999999997" height="1.30" fill="url(#gh10)"/><rect x="348.8" y="269.79" width="160.59999999999997" height="1.30" fill="url(#gh11)"/><rect x="348.8" y="270.79" width="160.59999999999997" height="1.30" fill="url(#gh12)"/><rect x="348.8" y="271.79" width="160.59999999999997" height="1.30" fill="url(#gh13)"/><rect x="348.8" y="272.78" width="160.59999999999997" height="1.30" fill="url(#gh14)"/><rect x="348.8" y="273.78" width="160.59999999999997" height="1.30" fill="url(#gh15)"/><rect x="348.8" y="274.78" width="160.59999999999997" height="1.30" fill="url(#gh16)"/><rect x="348.8" y="275.78" width="160.59999999999997" height="1.30" fill="url(#gh17)"/><rect x="348.8" y="276.78" width="160.59999999999997" height="1.30" fill="url(#gh18)"/><rect x="348.8" y="277.78" width="160.59999999999997" height="1.30" fill="url(#gh19)"/><rect x="348.8" y="278.78" width="160.59999999999997" height="1.30" fill="url(#gh20)"/><rect x="348.8" y="279.78" width="160.59999999999997" height="1.30" fill="url(#gh21)"/><rect x="348.8" y="280.78" width="160.59999999999997" height="1.30" fill="url(#gh22)"/><rect x="348.8" y="281.77" width="160.59999999999997" height="1.30" fill="url(#gh23)"/><rect x="348.8" y="282.77" width="160.59999999999997" height="1.30" fill="url(#gh24)"/><rect x="348.8" y="283.77" width="160.59999999999997" height="1.30" fill="url(#gh25)"/><rect x="348.8" y="284.77" width="160.59999999999997" height="1.30" fill="url(#gh26)"/><rect x="348.8" y="285.77" width="160.59999999999997" height="1.30" fill="url(#gh27)"/><rect x="348.8" y="286.77" width="160.59999999999997" height="1.30" fill="url(#gh28)"/><rect x="348.8" y="287.77" width="160.59999999999997" height="1.30" fill="url(#gh29)"/><rect x="348.8" y="288.77" width="160.59999999999997" height="1.30" fill="url(#gh30)"/><rect x="348.8" y="289.77" width="160.59999999999997" height="1.30" fill="url(#gh31)"/><rect x="348.8" y="290.76" width="160.59999999999997" height="1.30" fill="url(#gh32)"/><rect x="348.8" y="291.76" width="160.59999999999997" height="1.30" fill="url(#gh33)"/><rect x="348.8" y="292.76" width="160.59999999999997" height="1.30" fill="url(#gh34)"/><rect x="348.8" y="293.76" width="160.59999999999997" height="1.30" fill="url(#gh35)"/><rect x="348.8" y="294.76" width="160.59999999999997" height="1.30" fill="url(#gh36)"/><rect x="348.8" y="295.76" width="160.59999999999997" height="1.30" fill="url(#gh37)"/><rect x="348.8" y="296.76" width="160.59999999999997" height="1.30" fill="url(#gh38)"/><rect x="348.8" y="297.76" width="160.59999999999997" height="1.30" fill="url(#gh39)"/><rect x="348.8" y="298.76" width="160.59999999999997" height="1.30" fill="url(#gh40)"/><rect x="348.8" y="299.75" width="160.59999999999997" height="1.30" fill="url(#gh41)"/><rect x="348.8" y="300.75" width="160.59999999999997" height="1.30" fill="url(#gh42)"/><rect x="348.8" y="301.75" width="160.59999999999997" height="1.30" fill="url(#gh43)"/><rect x="348.8" y="302.75" width="160.59999999999997" height="1.30" fill="url(#gh44)"/><rect x="348.8" y="303.75" width="160.59999999999997" height="1.30" fill="url(#gh45)"/><rect x="348.8" y="304.75" width="160.59999999999997" height="1.30" fill="url(#gh46)"/><rect x="348.8" y="305.75" width="160.59999999999997" height="1.30" fill="url(#gh47)"/><rect x="348.8" y="306.75" width="160.59999999999997" height="1.30" fill="url(#gh48)"/><rect x="348.8" y="307.75" width="160.59999999999997" height="1.30" fill="url(#gh49)"/><rect x="348.8" y="308.75" width="160.59999999999997" height="1.30" fill="url(#gh50)"/><rect x="348.8" y="309.74" width="160.59999999999997" height="1.30" fill="url(#gh51)"/><rect x="348.8" y="310.74" width="160.59999999999997" height="1.30" fill="url(#gh52)"/><rect x="348.8" y="311.74" width="160.59999999999997" height="1.30" fill="url(#gh53)"/><rect x="348.8" y="312.74" width="160.59999999999997" height="1.30" fill="url(#gh54)"/><rect x="348.8" y="313.74" width="160.59999999999997" height="1.30" fill="url(#gh55)"/><rect x="348.8" y="314.74" width="160.59999999999997" height="1.30" fill="url(#gh56)"/><rect x="348.8" y="315.74" width="160.59999999999997" height="1.30" fill="url(#gh57)"/><rect x="348.8" y="316.74" width="160.59999999999997" height="1.30" fill="url(#gh58)"/><rect x="348.8" y="317.74" width="160.59999999999997" height="1.30" fill="url(#gh59)"/><rect x="348.8" y="318.73" width="160.59999999999997" height="1.30" fill="url(#gh60)"/><rect x="348.8" y="319.73" width="160.59999999999997" height="1.30" fill="url(#gh61)"/><rect x="348.8" y="320.73" width="160.59999999999997" height="1.30" fill="url(#gh62)"/><rect x="348.8" y="321.73" width="160.59999999999997" height="1.30" fill="url(#gh63)"/><rect x="348.8" y="322.73" width="160.59999999999997" height="1.30" fill="url(#gh64)"/><rect x="348.8" y="323.73" width="160.59999999999997" height="1.30" fill="url(#gh65)"/><rect x="348.8" y="324.73" width="160.59999999999997" height="1.30" fill="url(#gh66)"/><rect x="348.8" y="325.73" width="160.59999999999997" height="1.30" fill="url(#gh67)"/><rect x="348.8" y="326.73" width="160.59999999999997" height="1.30" fill="url(#gh68)"/><rect x="348.8" y="327.72" width="160.59999999999997" height="1.30" fill="url(#gh69)"/><rect x="348.8" y="328.72" width="160.59999999999997" height="1.30" fill="url(#gh70)"/><rect x="348.8" y="329.72" width="160.59999999999997" height="1.30" fill="url(#gh71)"/><rect x="348.8" y="330.72" width="160.59999999999997" height="1.30" fill="url(#gh72)"/><rect x="348.8" y="331.72" width="160.59999999999997" height="1.30" fill="url(#gh73)"/><rect x="348.8" y="332.72" width="160.59999999999997" height="1.30" fill="url(#gh74)"/><rect x="348.8" y="333.72" width="160.59999999999997" height="1.30" fill="url(#gh75)"/><rect x="348.8" y="334.72" width="160.59999999999997" height="1.30" fill="url(#gh76)"/><rect x="348.8" y="335.72" width="160.59999999999997" height="1.30" fill="url(#gh77)"/><rect x="348.8" y="336.71" width="160.59999999999997" height="1.30" fill="url(#gh78)"/><rect x="348.8" y="337.71" width="160.59999999999997" height="1.30" fill="url(#gh79)"/><rect x="348.8" y="338.71" width="160.59999999999997" height="1.30" fill="url(#gh80)"/><rect x="348.8" y="339.71" width="160.59999999999997" height="1.30" fill="url(#gh81)"/><rect x="348.8" y="340.71" width="160.59999999999997" height="1.30" fill="url(#gh82)"/><rect x="348.8" y="341.71" width="160.59999999999997" height="1.30" fill="url(#gh83)"/><rect x="348.8" y="342.71" width="160.59999999999997" height="1.30" fill="url(#gh84)"/><rect x="348.8" y="343.71" width="160.59999999999997" height="1.30" fill="url(#gh85)"/><rect x="348.8" y="344.71" width="160.59999999999997" height="1.30" fill="url(#gh86)"/><rect x="348.8" y="345.70" width="160.59999999999997" height="1.30" fill="url(#gh87)"/><rect x="348.8" y="346.70" width="160.59999999999997" height="1.30" fill="url(#gh88)"/><rect x="348.8" y="347.70" width="160.59999999999997" height="1.30" fill="url(#gh89)"/><rect x="348.8" y="348.70" width="160.59999999999997" height="1.30" fill="url(#gh90)"/><rect x="348.8" y="349.70" width="160.59999999999997" height="1.30" fill="url(#gh91)"/><rect x="348.8" y="350.70" width="160.59999999999997" height="1.30" fill="url(#gh92)"/><rect x="348.8" y="351.70" width="160.59999999999997" height="1.30" fill="url(#gh93)"/><rect x="348.8" y="352.70" width="160.59999999999997" height="1.30" fill="url(#gh94)"/><rect x="348.8" y="353.70" width="160.59999999999997" height="1.30" fill="url(#gh95)"/><rect x="348.8" y="354.69" width="160.59999999999997" height="1.30" fill="url(#gh96)"/><rect x="348.8" y="355.69" width="160.59999999999997" height="1.30" fill="url(#gh97)"/><rect x="348.8" y="356.69" width="160.59999999999997" height="1.30" fill="url(#gh98)"/><rect x="348.8" y="357.69" width="160.59999999999997" height="1.30" fill="url(#gh99)"/><rect x="348.8" y="358.69" width="160.59999999999997" height="1.30" fill="url(#gh100)"/><rect x="348.8" y="359.69" width="160.59999999999997" height="1.30" fill="url(#gh101)"/><rect x="348.8" y="360.69" width="160.59999999999997" height="1.30" fill="url(#gh102)"/><rect x="348.8" y="361.69" width="160.59999999999997" height="1.30" fill="url(#gh103)"/><rect x="348.8" y="362.69" width="160.59999999999997" height="1.30" fill="url(#gh104)"/><rect x="348.8" y="363.68" width="160.59999999999997" height="1.30" fill="url(#gh105)"/><rect x="348.8" y="364.68" width="160.59999999999997" height="1.30" fill="url(#gh106)"/><rect x="348.8" y="365.68" width="160.59999999999997" height="1.30" fill="url(#gh107)"/><rect x="348.8" y="366.68" width="160.59999999999997" height="1.30" fill="url(#gh108)"/><rect x="348.8" y="367.68" width="160.59999999999997" height="1.30" fill="url(#gh109)"/><rect x="348.8" y="368.68" width="160.59999999999997" height="1.30" fill="url(#gh110)"/><rect x="348.8" y="369.68" width="160.59999999999997" height="1.30" fill="url(#gh111)"/><rect x="348.8" y="370.68" width="160.59999999999997" height="1.30" fill="url(#gh112)"/><rect x="348.8" y="371.68" width="160.59999999999997" height="1.30" fill="url(#gh113)"/><rect x="348.8" y="372.67" width="160.59999999999997" height="1.30" fill="url(#gh114)"/><rect x="348.8" y="373.67" width="160.59999999999997" height="1.30" fill="url(#gh115)"/><rect x="348.8" y="374.67" width="160.59999999999997" height="1.30" fill="url(#gh116)"/><rect x="348.8" y="375.67" width="160.59999999999997" height="1.30" fill="url(#gh117)"/><rect x="348.8" y="376.67" width="160.59999999999997" height="1.30" fill="url(#gh118)"/><rect x="348.8" y="377.67" width="160.59999999999997" height="1.30" fill="url(#gh119)"/><rect x="348.8" y="378.67" width="160.59999999999997" height="1.30" fill="url(#gh120)"/><rect x="348.8" y="379.67" width="160.59999999999997" height="1.30" fill="url(#gh121)"/><rect x="348.8" y="380.67" width="160.59999999999997" height="1.30" fill="url(#gh122)"/><rect x="348.8" y="381.66" width="160.59999999999997" height="1.30" fill="url(#gh123)"/><rect x="348.8" y="382.66" width="160.59999999999997" height="1.30" fill="url(#gh124)"/><rect x="348.8" y="383.66" width="160.59999999999997" height="1.30" fill="url(#gh125)"/><rect x="348.8" y="384.66" width="160.59999999999997" height="1.30" fill="url(#gh126)"/><rect x="348.8" y="385.66" width="160.59999999999997" height="1.30" fill="url(#gh127)"/><rect x="348.8" y="386.66" width="160.59999999999997" height="1.30" fill="url(#gh128)"/><rect x="348.8" y="387.66" width="160.59999999999997" height="1.30" fill="url(#gh129)"/><rect x="348.8" y="388.66" width="160.59999999999997" height="1.30" fill="url(#gh130)"/><rect x="348.8" y="389.66" width="160.59999999999997" height="1.30" fill="url(#gh131)"/><rect x="348.8" y="390.65" width="160.59999999999997" height="1.30" fill="url(#gh132)"/><rect x="348.8" y="391.65" width="160.59999999999997" height="1.30" fill="url(#gh133)"/><rect x="348.8" y="392.65" width="160.59999999999997" height="1.30" fill="url(#gh134)"/><rect x="348.8" y="393.65" width="160.59999999999997" height="1.30" fill="url(#gh135)"/><rect x="348.8" y="394.65" width="160.59999999999997" height="1.30" fill="url(#gh136)"/><rect x="348.8" y="395.65" width="160.59999999999997" height="1.30" fill="url(#gh137)"/><rect x="348.8" y="396.65" width="160.59999999999997" height="1.30" fill="url(#gh138)"/><rect x="348.8" y="397.65" width="160.59999999999997" height="1.30" fill="url(#gh139)"/><rect x="348.8" y="398.65" width="160.59999999999997" height="1.30" fill="url(#gh140)"/><rect x="348.8" y="399.65" width="160.59999999999997" height="1.30" fill="url(#gh141)"/><rect x="348.8" y="400.64" width="160.59999999999997" height="1.30" fill="url(#gh142)"/><rect x="348.8" y="401.64" width="160.59999999999997" height="1.30" fill="url(#gh143)"/><rect x="348.8" y="402.64" width="160.59999999999997" height="1.30" fill="url(#gh144)"/><rect x="348.8" y="403.64" width="160.59999999999997" height="1.30" fill="url(#gh145)"/><rect x="348.8" y="404.64" width="160.59999999999997" height="1.30" fill="url(#gh146)"/><rect x="348.8" y="405.64" width="160.59999999999997" height="1.30" fill="url(#gh147)"/><rect x="348.8" y="406.64" width="160.59999999999997" height="1.30" fill="url(#gh148)"/><rect x="348.8" y="407.64" width="160.59999999999997" height="1.30" fill="url(#gh149)"/><rect x="348.8" y="408.64" width="160.59999999999997" height="1.30" fill="url(#gh150)"/><rect x="348.8" y="409.63" width="160.59999999999997" height="1.30" fill="url(#gh151)"/><rect x="348.8" y="410.63" width="160.59999999999997" height="1.30" fill="url(#gh152)"/><rect x="348.8" y="411.63" width="160.59999999999997" height="1.30" fill="url(#gh153)"/><rect x="348.8" y="412.63" width="160.59999999999997" height="1.30" fill="url(#gh154)"/><rect x="348.8" y="413.63" width="160.59999999999997" height="1.30" fill="url(#gh155)"/><rect x="348.8" y="414.63" width="160.59999999999997" height="1.30" fill="url(#gh156)"/><rect x="348.8" y="415.63" width="160.59999999999997" height="1.30" fill="url(#gh157)"/><rect x="348.8" y="416.63" width="160.59999999999997" height="1.30" fill="url(#gh158)"/><rect x="348.8" y="417.63" width="160.59999999999997" height="1.30" fill="url(#gh159)"/><rect x="348.8" y="418.62" width="160.59999999999997" height="1.30" fill="url(#gh160)"/><rect x="348.8" y="419.62" width="160.59999999999997" height="1.30" fill="url(#gh161)"/><rect x="348.8" y="420.62" width="160.59999999999997" height="1.30" fill="url(#gh162)"/><rect x="348.8" y="421.62" width="160.59999999999997" height="1.30" fill="url(#gh163)"/><rect x="348.8" y="422.62" width="160.59999999999997" height="1.30" fill="url(#gh164)"/><rect x="348.8" y="423.62" width="160.59999999999997" height="1.30" fill="url(#gh165)"/><rect x="348.8" y="424.62" width="160.59999999999997" height="1.30" fill="url(#gh166)"/><rect x="348.8" y="425.62" width="160.59999999999997" height="1.30" fill="url(#gh167)"/><rect x="348.8" y="426.62" width="160.59999999999997" height="1.30" fill="url(#gh168)"/><rect x="348.8" y="427.61" width="160.59999999999997" height="1.30" fill="url(#gh169)"/><rect x="348.8" y="428.61" width="160.59999999999997" height="1.30" fill="url(#gh170)"/><rect x="348.8" y="429.61" width="160.59999999999997" height="1.30" fill="url(#gh171)"/><rect x="348.8" y="430.61" width="160.59999999999997" height="1.30" fill="url(#gh172)"/><rect x="348.8" y="431.61" width="160.59999999999997" height="1.30" fill="url(#gh173)"/><rect x="348.8" y="432.61" width="160.59999999999997" height="1.30" fill="url(#gh174)"/><rect x="348.8" y="433.61" width="160.59999999999997" height="1.30" fill="url(#gh175)"/><rect x="348.8" y="434.61" width="160.59999999999997" height="1.30" fill="url(#gh176)"/><rect x="348.8" y="435.61" width="160.59999999999997" height="1.30" fill="url(#gh177)"/><rect x="348.8" y="436.60" width="160.59999999999997" height="1.30" fill="url(#gh178)"/><rect x="348.8" y="437.60" width="160.59999999999997" height="1.30" fill="url(#gh179)"/><rect x="348.8" y="438.60" width="160.59999999999997" height="1.30" fill="url(#gh180)"/><rect x="348.8" y="439.60" width="160.59999999999997" height="1.30" fill="url(#gh181)"/><path d="M349.2 259.0 L350.4 260.4 L357.3 274.2 L367.7 288.1 L381.5 301.9 L395.4 314 L409.2 322.7 L419.6 333.1 L424.8 343.5 L427.2 353 L428.6 361 L431 363.5 L443.8 369.4 L461.2 379.8 L471.5 388.5 L485.4 398.8 L499.2 412.7 L504.5 421 L507.9 428.3 L509.2 437" stroke="#fff" stroke-opacity="0.5" stroke-width="50" fill="none" filter="url(#hb)"/></g></g>
<path d="M349.2 259.0 L350.4 260.4 L357.3 274.2 L367.7 288.1 L381.5 301.9 L395.4 314 L409.2 322.7 L419.6 333.1 L424.8 343.5 L427.2 353 L428.6 361 L431 363.5 L443.8 369.4 L461.2 379.8 L471.5 388.5 L485.4 398.8 L499.2 412.7 L504.5 421 L507.9 428.3 L509.2 437" stroke="#e8e437" stroke-width="1.1" fill="none" stroke-linejoin="round"/>
<rect x="348.8" y="258.8" width="160.59999999999997" height="181.8" fill="none" stroke="#1a1a1a" stroke-width="1.4"/>
<text x="342.6" y="417.5" font-size="8.6" stroke="#231f20" stroke-width="0.08" textLength="135.5" lengthAdjust="spacingAndGlyphs" transform="rotate(-90 342.6 417.5)">2050 dynamically regulated genes</text>
<rect x="348.7" y="447.3" width="160.90000000000003" height="5.0" fill="#111"/>
<rect x="349.5" y="448.2" width="34.000000000000014" height="3.20" fill="#d62728"/>
<rect x="383.5" y="448.2" width="45.89999999999998" height="3.20" fill="#1f77b4"/>
<rect x="429.4" y="448.2" width="39.10000000000002" height="3.20" fill="#23a46c"/>
<rect x="468.5" y="448.2" width="40.30" height="3.20" fill="#fb7f1c"/>
<path d="M346.09999999999997 449.8H348.7" stroke="#111" stroke-width="0.8"/>
<rect x="43.8" y="658.7" width="225.8" height="3.099999999999909" fill="#111"/>
<rect x="44.599999999999994" y="659.6" width="48.900000000000006" height="1.30" fill="#d62728"/>
<rect x="93.5" y="659.6" width="64.0" height="1.30" fill="#1f77b4"/>
<rect x="157.5" y="659.6" width="53.099999999999994" height="1.30" fill="#23a46c"/>
<rect x="210.6" y="659.6" width="58.20" height="1.30" fill="#fb7f1c"/>
<path d="M41.199999999999996 660.2H43.8" stroke="#111" stroke-width="0.8"/>
<rect x="348.8" y="653.8" width="163.99999999999994" height="4.600000000000023" fill="#111"/>
<rect x="349.6" y="654.6999999999999" width="33.89999999999999" height="2.80" fill="#d62728"/>
<rect x="383.5" y="654.6999999999999" width="46.80000000000001" height="2.80" fill="#1f77b4"/>
<rect x="430.3" y="654.6999999999999" width="39.39999999999998" height="2.80" fill="#23a46c"/>
<rect x="469.7" y="654.6999999999999" width="42.30" height="2.80" fill="#fb7f1c"/>
<path d="M346.2 656.1H348.8" stroke="#111" stroke-width="0.8"/>
<text x="357.9" y="462.3" font-size="7.8" stroke="#231f20" stroke-width="0.08" textLength="16.3" lengthAdjust="spacingAndGlyphs">MPP</text>
<text x="385.2" y="462.3" font-size="7.8" stroke="#231f20" stroke-width="0.08" textLength="40.4" lengthAdjust="spacingAndGlyphs">Intermediate</text>
<text x="437" y="462.3" font-size="7.8" stroke="#231f20" stroke-width="0.08" textLength="23.8" lengthAdjust="spacingAndGlyphs">Pop A1</text>
<text x="478" y="462.3" font-size="7.8" stroke="#231f20" stroke-width="0.08" textLength="24.3" lengthAdjust="spacingAndGlyphs">Pop A2</text>
<text x="59.6" y="670.3" font-size="7.8" stroke="#231f20" stroke-width="0.08" textLength="16.2" lengthAdjust="spacingAndGlyphs">MPP</text>
<text x="104" y="670.3" font-size="7.8" stroke="#231f20" stroke-width="0.08" textLength="41" lengthAdjust="spacingAndGlyphs">Intermediate</text>
<text x="172" y="670.3" font-size="7.8" stroke="#231f20" stroke-width="0.08" textLength="24" lengthAdjust="spacingAndGlyphs">Pop A1</text>
<text x="230" y="670.3" font-size="7.8" stroke="#231f20" stroke-width="0.08" textLength="24.6" lengthAdjust="spacingAndGlyphs">Pop A2</text>
<text x="358" y="668.5" font-size="7.8" stroke="#231f20" stroke-width="0.08" textLength="15.8" lengthAdjust="spacingAndGlyphs">MPP</text>
<text x="386.7" y="668.5" font-size="7.8" stroke="#231f20" stroke-width="0.08" textLength="40.4" lengthAdjust="spacingAndGlyphs">Intermediate</text>
<text x="439.8" y="668.5" font-size="7.8" stroke="#231f20" stroke-width="0.08" textLength="24.2" lengthAdjust="spacingAndGlyphs">Pop A1</text>
<text x="481" y="668.5" font-size="7.8" stroke="#231f20" stroke-width="0.08" textLength="24.2" lengthAdjust="spacingAndGlyphs">Pop A2</text>
<rect x="28.1" y="330.1" width="0.65" height="0.7" fill="#bcd0e6" stroke="#6d96c2" stroke-width="0.35"/>
<rect x="31.8" y="325.4" width="1.55" height="5.4" fill="#bcd0e6" stroke="#6d96c2" stroke-width="0.35"/>
<rect x="35.0" y="316.6" width="0.85" height="14.2" fill="#bcd0e6" stroke="#6d96c2" stroke-width="0.35"/>
<rect x="37.0" y="299.0" width="0.85" height="31.8" fill="#bcd0e6" stroke="#6d96c2" stroke-width="0.35"/>
<rect x="38.1" y="296.8" width="0.95" height="34.0" fill="#bcd0e6" stroke="#6d96c2" stroke-width="0.35"/>
<rect x="39.3" y="282.1" width="1.05" height="48.7" fill="#bcd0e6" stroke="#6d96c2" stroke-width="0.35"/>
<rect x="40.6" y="273.3" width="0.65" height="57.5" fill="#bcd0e6" stroke="#6d96c2" stroke-width="0.35"/>
<rect x="41.5" y="264.5" width="0.85" height="66.3" fill="#bcd0e6" stroke="#6d96c2" stroke-width="0.35"/>
<rect x="42.6" y="278.7" width="0.65" height="52.1" fill="#bcd0e6" stroke="#6d96c2" stroke-width="0.35"/>
<rect x="43.5" y="291.6" width="0.85" height="39.2" fill="#bcd0e6" stroke="#6d96c2" stroke-width="0.35"/>
<rect x="44.6" y="300.2" width="0.75" height="30.6" fill="#bcd0e6" stroke="#6d96c2" stroke-width="0.35"/>
<rect x="45.6" y="301.9" width="0.75" height="28.9" fill="#bcd0e6" stroke="#6d96c2" stroke-width="0.35"/>
<rect x="46.6" y="302.6" width="0.85" height="28.2" fill="#bcd0e6" stroke="#6d96c2" stroke-width="0.35"/>
<rect x="47.7" y="313.7" width="0.65" height="17.1" fill="#bcd0e6" stroke="#6d96c2" stroke-width="0.35"/>
<rect x="48.6" y="321.5" width="0.55" height="9.3" fill="#bcd0e6" stroke="#6d96c2" stroke-width="0.35"/>
<path d="M42.2 330.8 L42.2 275.7 L42.8 278.7 L43.5 285.5 L44.3 294.1 L45.2 301.9 L46.0 307.5 L47.0 315.6 L48.0 321.5 L49.0 325.9 L50.2 328.6 L51.6 330.1 L53.0 330.8Z" fill="#1c4d88"/>
<path d="M43.5 330.8V286.7M44.6 330.8V296.5M45.6 330.8V304.4M46.6 330.8V311.2" stroke="#4f7fb3" stroke-width="0.35"/>
<path d="M75.0 330.8 L78.2 323.5 L81.5 313.7 L82.4 311.7 L84.0 315.6 L87.3 323.5 L89.9 328.4 L92.2 330.8Z" fill="#c8102e"/>
<path d="M56.8 330.40000000000003H75.0" stroke="#5a9a5a" stroke-width="0.6" stroke-dasharray="1 1.5"/>
<rect x="25.4" y="260.4" width="71.2" height="70.4" fill="none" stroke="#111" stroke-width="1"/>
<path d="M22.799999999999997 330.8H25.4M22.799999999999997 318.6H25.4M22.799999999999997 306.3H25.4M22.799999999999997 294.1H25.4M22.799999999999997 281.8H25.4M22.799999999999997 269.6H25.4M28.8 330.8v2.6M61.3 330.8v2.6M93.8 330.8v2.6" stroke="#111" stroke-width="0.9"/>
<text x="19.8" y="333.40000000000003" font-size="7.5" text-anchor="end" stroke="#231f20" stroke-width="0.08">0</text>
<text x="19.8" y="321.16" font-size="7.5" text-anchor="end" stroke="#231f20" stroke-width="0.08">50</text>
<text x="19.8" y="308.92" font-size="7.5" text-anchor="end" stroke="#231f20" stroke-width="0.08">100</text>
<text x="19.8" y="296.68000000000006" font-size="7.5" text-anchor="end" stroke="#231f20" stroke-width="0.08">150</text>
<text x="19.8" y="284.44000000000005" font-size="7.5" text-anchor="end" stroke="#231f20" stroke-width="0.08">200</text>
<text x="19.8" y="272.20000000000005" font-size="7.5" text-anchor="end" stroke="#231f20" stroke-width="0.08">250</text>
<text x="28.8" y="342.3" font-size="7.5" text-anchor="middle" stroke="#231f20" stroke-width="0.08">0</text>
<text x="61.3" y="342.3" font-size="7.5" text-anchor="middle" stroke="#231f20" stroke-width="0.08">5</text>
<text x="93.8" y="342.3" font-size="7.5" text-anchor="middle" stroke="#231f20" stroke-width="0.08">10</text>
<text x="51" y="309" font-size="7.2" fill="#1f5a96" stroke="#1f5a96" stroke-width="0.08" textLength="13.4" lengthAdjust="spacingAndGlyphs">65.4</text>
<text x="80.8" y="309" font-size="7.2" fill="#c8102e" stroke="#c8102e" stroke-width="0.08" textLength="14.4" lengthAdjust="spacingAndGlyphs">32.5</text>
<text x="131.6" y="259" font-size="8.6" font-weight="bold" fill="#1f5a96" textLength="14.2" lengthAdjust="spacingAndGlyphs">PE<tspan dy="-2.8" font-size="6">−</tspan></text>
<text x="146.5" y="258.8" font-size="8.5" stroke="#231f20" stroke-width="0.08" textLength="67.5" lengthAdjust="spacingAndGlyphs">Lin<tspan dy="-2.8" font-size="6.4">−</tspan><tspan dy="2.8"> </tspan>CD34<tspan dy="-2.8" font-size="6.4">+</tspan><tspan dy="2.8"> </tspan>c-Kit<tspan dy="-2.8" font-size="6.4">+</tspan></text>
<text x="235.2" y="259.2" font-size="8.6" font-weight="bold" fill="#c8102e" textLength="14.4" lengthAdjust="spacingAndGlyphs">PE<tspan dy="-2.8" font-size="6">+</tspan></text>
<text x="250.5" y="259" font-size="8.2" stroke="#231f20" stroke-width="0.08" textLength="46.5" lengthAdjust="spacingAndGlyphs">Population A</text>
<path d="M140.8 267.9h0m2.2 .9h0m.3 .2h0m1.4 0h0m1.2 1.8h0" stroke="#9ec9e6" stroke-width="0.95" stroke-linecap="round" fill="none"/>
<path d="M158.3 281.5h0m10.3 .1h0m.4 .2h0m.3 .5h0m-9.5 .8h0m.5 .1h0m2.7-.2h0m2.2-.4h0m2.6 .5h0m2 .4h0m.9-.7h0m2.6-.2h0m-14.8 1.2h0m2.9 .3h0m1.2 .2h0m.2-.8h0m.4 .6h0m2.2-.6h0m.2 .6h0m1.2-.2h0m1.6 .2h0m.1-.4h0m1 .2h0m1.3-.1h0m3.9-.1h0m1 0h0m-16.4 .8h0m.1 0h0m.8 .2h0m1 .5h0m.7-.5h0m.4 .6h0m.2-.6h0m1 .5h0m.3-.5h0m.6-.2h0m5.5 .3h0m.6 .2h0m2.5 .3h0m0 0h0m1.1-.6h0m-15.3 1h0m0 .2h0m.2 .1h0m.3 .4h0m.6 0h0m2.4-.9h0m1 .3h0m.2-.1h0m1.5 .1h0m3.8-.1h0m4.2 .1h0m.3-.1h0m.8 .6h0m.6-.6h0m-18.2 1.1h0m1.2 .7h0m1.5-.5h0m.4-.1h0m4.2 .4h0m6.2 .1h0m.4-.1h0m0-.1h0m1 .3h0m4.8 0h0m-16.5 .4h0m1.1 .2h0m8.7 .4h0m.7-.6h0m1.9 .5h0m1.2-.1h0m1.5-.4h0m.2-.1h0m-18.5 1.7h0m1.1-.8h0m1.2 .3h0m.3-.1h0m.5 .2h0m1.6 .3h0m2.9-.3h0m.5-.4h0m.8 .2h0m1.9 .2h0m1 .5h0m.2-.2h0m.2-.2h0m1.2-.2h0m.7 .7h0m.6-.8h0m.2 .4h0m.8-.5h0m3.6 .9h0m-18.7 .9h0m.8-.4h0m1.7-.1h0m.5-.3h0m.3 .1h0m4.9 .6h0m.8-.3h0m1.7 .5h0m.4-.5h0m.2 .2h0m2.1-.5h0m1.6 .2h0m1.8-.3h0m.8 .8h0m2.3-.2h0m0 0h0m-17.8 .6h0m.9-.3h0m2.8 .4h0m.7-.4h0m1.9 .1h0m.7 .6h0m2.3-.7h0m0 .9h0m1.9-.7h0m.2-.3h0m2 .8h0m1.7-.2h0m1.3-.3h0m.5 0h0m.7 .4h0m-18.7 .8h0m1.5-.1h0m.6-.3h0m2.2 .8h0m1.4-.7h0m.5 .3h0m2 .3h0m1-.8h0m.4 .7h0m.9-.4h0m.4-.1h0m.3 .6h0m.7-.2h0m2.7 .1h0m.3 .2h0m4.1-.1h0m-22 .5h0m2.3 .5h0m0-.5h0m2.6 .1h0m.5 .3h0m2-.8h0m3.1 .7h0m8.6 .1h0m1.8-.3h0m.3-.4h0m-19.4 1.6h0m1-.2h0m2.6 .1h0m1.1 .2h0m4 .2h0m1.7-.1h0m1 0h0m5.2-.3h0m-13.5 .6h0m.2 .3h0m.7 .1h0m1.9-.1h0m1.6 .4h0m2.1-.4h0m1.1 .3h0m-5.8 .2h0m1.5 .5h0m.9 .1h0m.3-.3h0m.9 .2h0m-2.8 .4h0m.8-.1h0" stroke="#8c564b" stroke-width="0.95" stroke-linecap="round" fill="none"/>
<path d="M146.5 269.9h0m.1 .3h0m.2-.1h0m.1-.1h0m.1-.1h0m1.1 .5h0m.9-.1h0m.1 0h0m-2.1 1h0m.8-.2h0m.1-.1h0m0 .5h0m.3-.2h0m.1-.5h0m.6 .4h0m.1 .3h0m.1-.6h0m.1 .6h0m.5-.6h0m.1-.3h0m.4 .1h0m.4 .7h0m0-.1h0m.3 .1h0m.2 .1h0m.2-.3h0m1 .2h0m.3 .3h0m0-.3h0m15.8 .3h0m1 0h0m.1-.2h0m.6 0h0m2.6 0h0m1.7 0h0m-25.4 .4h0m.3-.3h0m.2 .8h0m.4 .1h0m.5-.1h0m.4-.4h0m.3 0h0m.2-.3h0m0 0h0m1.2 .8h0m.4-.6h0m.8 .5h0m1.6-.1h0m13.2-.1h0m.1-.4h0m.9 0h0m.6 .6h0m.6-.6h0m1.4 .1h0m.6 0h0m.1 .5h0m1-.1h0m.5-.6h0m2.9 .8h0m-27.1 .9h0m.4-.1h0m0 .2h0m.8-.2h0m.3-.3h0m.8-.1h0m1.3 .5h0m1.1-.5h0m2.4-.3h0m.4 .8h0m1.3 .1h0m.2-.3h0m1.8 .2h0m.1 .1h0m4.8 0h0m2-.4h0m1.8-.3h0m.5-.1h0m1.2 .4h0m1.4 .1h0m2.5-.1h0m.9 .4h0m-24.7 .7h0m.2-.2h0m.7 0h0m.1 .1h0m.3 .4h0m.6-.3h0m.5 .4h0m.2-.2h0m.6 0h0m.1-.5h0m.2-.1h0m2 0h0m.1 0h0m.6 0h0m1.3 0h0m.9 .5h0m0-.3h0m.1-.1h0m.4-.1h0m.4 .3h0m.3-.3h0m1.8 .6h0m1.4 .3h0m.8 0h0m1.5-.2h0m1.8-.6h0m.1 .1h0m1.3 .1h0m.7-.2h0m.5 .6h0m1.5-.4h0m1.2-.2h0m.5 0h0m.3 .6h0m1-.1h0m.1 .1h0m.4-.5h0m.9 .2h0m-24.4 .8h0m.1 .6h0m0-.3h0m.1-.3h0m.5 0h0m.4 .7h0m.8 0h0m.1 .1h0m.3-.5h0m.9 .4h0m2.1-.4h0m.3 .2h0m.2 0h0m.4 .4h0m.6 .1h0m.3-.6h0m.4 0h0m.4 .1h0m1.8 0h0m.7 .1h0m.9 .4h0m1.1-.2h0m.7-.3h0m.7 .2h0m.7 .2h0m0-.3h0m.2-.2h0m0 .3h0m1.9-.6h0m.6 .6h0m.1 .3h0m.6-.1h0m0-.2h0m.8-.2h0m1-.2h0m1.9 .2h0m1.1 0h0m.4 0h0m.4 .3h0m.9-.2h0m-23.5 1h0m.8-.2h0m.8-.1h0m.4 .5h0m1.8 .3h0m.5-.6h0m.7-.2h0m.3 0h0m.8 .4h0m.7-.1h0m.2-.4h0m0 .2h0m1.5 0h0m1.3-.2h0m.9 .6h0m.7-.5h0m1.2 .8h0m.1-.4h0m.8 .3h0m.1-.3h0m0 0h0m.6-.3h0m.5 .2h0m.6 .1h0m.3 .4h0m.1-.7h0m.5 .5h0m0-.5h0m.3 .2h0m1.8 .2h0m.7-.2h0m1.4 .6h0m1-.2h0m1.1 .1h0m.5-.7h0m-19 1.4h0m.3 0h0m1.1-.5h0m.1 .2h0m.8 .6h0m.5-.7h0m0 0h0m.1 .7h0m1.2-.2h0m.1-.1h0m.6 0h0m.4-.5h0m1.2 0h0m1.6 .7h0m.2-.5h0m.3-.3h0m.2 0h0m.1 .6h0m.9-.4h0m1-.1h0m.5 .4h0m.1 .3h0m.3-.1h0m.4 .1h0m1-.5h0m1.3-.1h0m2.8 .8h0m.6-.3h0m.2-.6h0m1.6 .1h0m-23.9 1.6h0m4.6-.5h0m1.4 .1h0m.7 .1h0m3.5 .2h0m1.6-.3h0m.4-.1h0m.3 .3h0m.7 .1h0m0 .3h0m.4-.8h0m.6 .8h0m1.4-.2h0m.5 .3h0m.1-.6h0m0 .6h0m.5-.6h0m.1 .3h0m.1-.6h0m.9 .3h0m.3-.3h0m.4 .6h0m0-.3h0m.3 .3h0m.1 .2h0m.3-.4h0m.4-.2h0m0 .5h0m1 0h0m1.5-.6h0m1.1 .3h0m.6 0h0m-16.6 1.5h0m1.1 .1h0m.1-.6h0m1.3 0h0m1.5 .6h0m.4-.2h0m2.2-.1h0m.2 .3h0m.6-.1h0m.2-.5h0m0 .4h0m.6-.4h0m.1 .2h0m.4 0h0m1.1-.1h0m.7 .1h0m.6-.5h0m.1 .6h0m.1-.1h0m.1 .2h0m.9-.6h0m.1 .7h0m1.6 0h0m.6-.5h0m.2 0h0m.3-.4h0m.4 0h0m0 .4h0m.5-.4h0m.2 .6h0m.1 0h0m-25.3 1.2h0m8.7-.2h0m.2 .1h0m1-.6h0m2.4 .4h0m.5-.4h0m.7 0h0m.3 .7h0m.8-.7h0m.8 .6h0m.2-.4h0m.1-.1h0m.3 .5h0m.3 0h0m.4-.6h0m.5-.3h0m.8 .4h0m0 .4h0m.3-.4h0m1.4-.3h0m.1 .8h0m.1-.3h0m.2-.4h0m.4 .1h0m.6-.1h0m.9-.1h0m.1 .3h0m.3 .4h0m0 .1h0m.4-.7h0m.4 .3h0m.2 .2h0m.3-.4h0m.2 .1h0m.3 .1h0m.3-.4h0m.5 .4h0m-15.9 .5h0m1.7 .7h0m.6-.1h0m2.5 .1h0m1.7 0h0m.1 .1h0m.5-.3h0m.1-.3h0m.3 .5h0m.3 .2h0m.3-.1h0m.1-.6h0m.1 .1h0m.6-.1h0m1.1-.1h0m.4 .4h0m.1 .4h0m.1-.5h0m.1 .1h0m.1-.2h0m0 .1h0m.5 .5h0m.1-.5h0m.2-.3h0m.2 .4h0m.2 .4h0m.3-.7h0m.7 .8h0m.7-.3h0m.1 .2h0m.5-.3h0m.1-.2h0m-13.1 .6h0m1 .1h0m1.1 .5h0m.4 .2h0m1.4 0h0m1.8-.9h0m.5 .5h0m0 .5h0m.4-.8h0m.5 .5h0m.4-.6h0m.1 .8h0m.2-.4h0m.1 .4h0m.6-.2h0m.1-.4h0m.3 .2h0m.5-.3h0m.1 .2h0m.9 .7h0m.1-.7h0m1.3 .2h0m0-.3h0m.7-.1h0m-23.5 1.2h0m13.8 .6h0m.3-.6h0m.6 0h0m0 .7h0m2.3-.2h0m.2-.2h0m1.2 .1h0m.1 .5h0m.7-.9h0m.6 .2h0m.6 .4h0m1.3 .4h0m.8-.5h0m.4-.4h0m.2 0h0m-25.7 1.3h0m7.3 .2h0m9.3 .1h0m.3-.2h0m2.6 .6h0m1-.3h0m1.4-.4h0m.1 .1h0m1.7-.4h0m.5 .7h0m.5 .2h0m1 0h0m.5 0h0m-6.1 .3h0m1.1 .2h0m2.7-.2h0m2.4 .5h0m-5.7 .7h0m.3 .3h0m.1-.6h0m.7 .7h0m.1-.5h0m1.2 .2h0m2.5-.5h0m1.7 .4h0m-21.8 1.2h0m16.5 0h0m.6-.4h0m3.8 .1h0m.6 .3h0m.8-.4h0m-5.4 .6h0m.4 0h0m.4 .7h0m.3 .3h0m1-.1h0m.9-.7h0m1.1 .2h0m1 .4h0m.2-.5h0m-4.6 1.2h0m.1 .3h0m2.1 .3h0m.3-.6h0m1.8 0h0m.4-.2h0m-3.1 1.1h0m.4 .5h0" stroke="#9467bd" stroke-width="0.95" stroke-linecap="round" fill="none"/>
<path d="M175.0 267.0h0m6.2 1.4h0m.5 .1h0m.3-.3h0m1.3 .3h0m1-.3h0m-7.7 1.2h0m1.6-.5h0m.7 .5h0m.2 .1h0m.5-1h0m.7 1h0m0-.1h0m.9-.4h0m1.3 .5h0m.7-.6h0m.1 .6h0m1.3-.9h0m.2 .4h0m.5 .5h0m.7-.7h0m.7 .7h0m1.2 0h0m.1-.2h0m.4 0h0m.5 .2h0m-13 .7h0m.6 .3h0m.3-.6h0m.2 .3h0m.3-.2h0m.7 .3h0m.5 .2h0m2.4-.8h0m.2 .7h0m.7 .1h0m.7-.6h0m1-.1h0m.5 0h0m.8 .2h0m1.2 .1h0m.6-.1h0m1 0h0m.5-.4h0m.6 .7h0m1.4-.1h0m-14.8 1.2h0m2-.3h0m0-.3h0m1.2 .2h0m.3 0h0m.7 0h0m.2 .4h0m1.1-.3h0m.1 .4h0m.6-.2h0m.1 .1h0m1.9 0h0m.4-.2h0m1.1-.4h0m0-.1h0m0 .3h0m1.2-.3h0m.8 .3h0m.1-.2h0m.7 0h0m.4 .3h0m.1 .3h0m.1-.3h0m.8 .3h0m.4-.2h0m.1-.6h0m1 .3h0m.7-.3h0m-17 1.8h0m.2-.8h0m.1 0h0m.7 .4h0m2.2-.2h0m.6-.3h0m2.9 .4h0m1.3 .4h0m.3-.5h0m2.4-.2h0m.2 .7h0m.6-.3h0m1.3-.5h0m1.1 .6h0m.2 0h0m1 .1h0m.2 0h0m.4 .1h0m-16.2 .4h0m.4 .6h0m1.1-.8h0m.9 .8h0m.9 0h0m.2-.5h0m.6 .4h0m1.2-.3h0m.1 .1h0m.8-.2h0m0 .1h0m.3-.4h0m.9-.1h0m.2 .7h0m0-.4h0m1 .2h0m2.4-.3h0m3.6 .2h0m.7-.2h0m.1-.1h0m1 .1h0m1.3 .6h0m.7 .2h0m-18.8 .7h0m1.1 .2h0m.7-.1h0m1.3-.2h0m.4 .3h0m.1 0h0m1.1-.1h0m.5-.1h0m.6-.1h0m2.1-.4h0m1.2 .8h0m1.6 0h0m1.6 .1h0m1.8-.2h0m1.5-.6h0m0 .7h0m.1-.4h0m.2 .4h0m2-.4h0m1.1-.1h0m1.3 .2h0m-19.1 .6h0m.3 0h0m1.6 .4h0m.2-.1h0m.5 .2h0m1.4-.5h0m2.5 0h0m.5 0h0m1.7 .8h0m.1-.5h0m.2 .1h0m.1 .4h0m.9-.1h0m.3-.1h0m1-.5h0m.3 .3h0m.4 .4h0m.1-.9h0m1.3 .2h0m1.5-.1h0m.1 .2h0m.7 .4h0m.5-.5h0m.4 .2h0m-16.8 .8h0m.4 .3h0m2.3-.2h0m.6 0h0m.3-.4h0m.5 .8h0m.3-.2h0m.7-.1h0m.2 .4h0m.1-.2h0m.5 .2h0m.7-.5h0m.3 .7h0m.3-.8h0m1.1 0h0m.2 .3h0m1-.1h0m.2 0h0m.1 .2h0m1.6-.5h0m1.1 .4h0m.4-.4h0m2.5 .8h0m.6-.5h0m.5-.2h0m.3-.2h0m.3 .1h0m2.6 .6h0m.1 .1h0m.3-.1h0m-19.3 .5h0m0 .4h0m1.8-.3h0m.3-.2h0m2.3 .7h0m.6-.7h0m1 .4h0m.7-.4h0m.4 .6h0m.1-.4h0m1.6 .7h0m.9-.1h0m.3-.2h0m.1-.4h0m.1 .5h0m.3-.5h0m.3-.3h0m.3 .2h0m1.2-.1h0m1.3 .3h0m.1 .5h0m1.4-.3h0m1.5-.4h0m0 .1h0m-16.8 1.6h0m1.5-.6h0m.4 0h0m1.3 .5h0m.7-.2h0m1.1 .4h0m.2-.5h0m2.8-.3h0m.2 .5h0m.3-.3h0m.1 .3h0m.2 .3h0m.7-.1h0m0-.5h0m1.8-.2h0m.2 .1h0m.7 .3h0m1.1 .1h0m0 .1h0m.8-.5h0m.2 0h0m0 .3h0m.1-.4h0m0 .2h0m2.1 .6h0m.1 .1h0m2.8-.4h0m-19.7 1.3h0m1.8-.5h0m.3 .5h0m.3-.7h0m.2 .4h0m.3-.4h0m.8 0h0m1 .2h0m3.4 0h0m2 .3h0m2.1-.6h0m.5 .6h0m.5 .1h0m-12.5 .5h0m.4 .2h0m0 .2h0m.3-.2h0m1.2 .3h0m2 .1h0m.2 .1h0m.3-.4h0m0 .3h0m.6-.5h0m0 .2h0m2 .5h0m.3 0h0m0-1h0m.2 .7h0m.3 0h0m1.3 .2h0m2-.7h0m1.3 .2h0m.8-.3h0m1.4 .5h0m.2 .2h0m1.5-.1h0m1.5 0h0m.2-.1h0m-15.9 1.3h0m.2-.1h0m1.9 0h0m.5 .1h0m.7-.4h0m.2 0h0m.1 0h0m1.2 .5h0m.3-.1h0m0-.7h0m.9 .8h0m3.1-.3h0m.1-.3h0m.1 .7h0m.2-.3h0m.2-.3h0m.1-.2h0m.3 .3h0m.5-.2h0m.5 .6h0m.5-.3h0m.6-.3h0m.6 .8h0m.8-.8h0m1.9 .6h0m1.4-.1h0m.5 0h0m.5-.5h0m-20 1.8h0m1.9-.7h0m.2 .5h0m1.4-.7h0m.4 .6h0m3.2 0h0m.7 .1h0m1.5-.4h0m.8 .2h0m.2 0h0m1 .1h0m2.5 .1h0m.8-.7h0m.6 .1h0m.1 .4h0m.3-.1h0m.5 .1h0m0-.7h0m.2 0h0m.8 .3h0m.1 .1h0m1.5 .5h0m.4-.6h0m.7-.3h0m-18.2 1.8h0m.4 0h0m.2-.8h0m4.8 .4h0m.7-.2h0m.6 .4h0m3-.3h0m0 .3h0m.2-.1h0m.4 .4h0m.7-.1h0m.2-.1h0m.1-.3h0m.2 .1h0m2.1 0h0m0 .1h0m.1 .2h0m1.2-.9h0m.6 .6h0m.3-.3h0m1.4-.1h0m-18.2 1.6h0m.5-.8h0m.3-.1h0m1 .7h0m1.3 .2h0m1.3-.3h0m.7-.3h0m1.9 .4h0m.8-.4h0m1.4 0h0m0-.1h0m2 .1h0m1.5-.3h0m.3 .7h0m.7 .1h0m0-.7h0m.4 .8h0m.5-.3h0m.5-.6h0m.1 .9h0m.4-.1h0m1-.2h0m2 .1h0m0-.1h0m-16.5 .7h0m.1 .1h0m.5 .3h0m.1-.4h0m.3-.1h0m.6 .1h0m.2-.3h0m.5 0h0m.5 .9h0m.8-.9h0m1.6 .3h0m.1-.1h0m1.5 .7h0m1 .1h0m1.2-.7h0m.3 .5h0m0-.2h0m0 .4h0m0-.3h0m.2-.6h0m.5 .8h0m.2-.1h0m.1-.2h0m.7-.3h0m.7 .1h0m.5-.3h0m.2 .3h0m.4-.2h0m1.6 .7h0m.2-.1h0m2.5-.2h0m-20.2 .5h0m1.3 0h0m.7 .7h0m0-.5h0m.5-.2h0m.8 0h0m.2 .4h0m.5-.3h0m1.1 .5h0m1.2-.3h0m1-.3h0m.5 .3h0m1.1-.3h0m.3 .1h0m1.2 .4h0m.2 .2h0m1.3-.3h0m.3-.1h0m.8 .2h0m2.7-.2h0m.3 .3h0m2.9 .2h0m.3-.8h0m.3 .7h0m-18 .8h0m.4-.6h0m1.7 .6h0m.1-.3h0m.6 .7h0m1.9-1h0m.3 .9h0m1.8-.8h0m.4 0h0m.9 .2h0m.2-.1h0m.2 .7h0m2-.8h0m2.5 .5h0m2.3-.5h0m.2 .1h0m.1-.2h0m-13.9 1.4h0m.3-.3h0m.3 .2h0m.2 .5h0m1.2-1h0m.4 .2h0m.7 .3h0m.1 .3h0m2.2 .1h0m.5-.3h0m.8 .1h0m.1 .1h0m.3-.2h0m.3-.2h0m1.1 .2h0m0 .1h0m1.4-.1h0m.5 .3h0m.1-.4h0m.8-.2h0m.8 .5h0m.5-.5h0m.6 .5h0m1.6-.5h0m0 .7h0m.5-.1h0m-14.6 .3h0m.7 .4h0m.1-.4h0m.1 0h0m.7 .3h0m.5-.5h0m.8 .7h0m1.9 0h0m2.5-.7h0m.4 .3h0m.3-.3h0m.4 .1h0m2 .5h0m.5-.5h0m.4 .7h0m1.2-.5h0m.3 .1h0m.6 0h0m0-.2h0m-15.1 .9h0m.1-.2h0m1.9 .9h0m.8 0h0m.4-.2h0m2.4-.4h0m.2 .4h0m0-.1h0m.1 0h0m.7-.4h0m.7 .1h0m.1 .1h0m.6 .2h0m2.3-.6h0m1 .6h0m1.2-.2h0m.4 .5h0m2.1 .1h0m-14.1 .3h0m.9 .7h0m1.3-.9h0m.8 .5h0m.4 .1h0m.5 0h0m.2 .2h0m3.4 .1h0m1.8 0h0m1.3-.6h0m.3 .1h0m1.1-.1h0m.8-.3h0m1 .1h0m0 .4h0m-13.6 1h0m.7-.2h0m.3 .7h0m.7 0h0m.1-.3h0m1.4 .1h0m.4-.3h0m0 0h0m1-.4h0m.2 .4h0m1 .3h0m1.3-.7h0m.8-.1h0m.1 .8h0m.1-.5h0m.9 .2h0m.2-.5h0m.8 .8h0m1.2-.4h0m-8.3 1.2h0m.2-.3h0m0 .1h0m.6 .2h0m.2-.5h0m.2 .1h0m2.6 .5h0m1 .1h0m.6-.6h0m.8 .3h0m.6 .3h0m.5-.5h0m-7.5 1.2h0m.7-.2h0m.8 .2h0m1.1-.1h0m.9 0h0m1.9-.3h0m.3 .4h0m3-.5h0m-7.9 1h0m2.7 .1h0m9 .3h0" stroke="#d62728" stroke-width="0.95" stroke-linecap="round" fill="none"/>
<path d="M171.1 292.5h0m2.5-.1h0m.1-.7h0m1.6 .3h0m1 .4h0m.3-.6h0m1.5-.1h0m1.1 .7h0m.7-.2h0m-14.1 1h0m1.4 0h0m1.9-.4h0m.7 .6h0m.6 0h0m.4-.2h0m.3 .1h0m.1-.5h0m1.7 0h0m1.1 .2h0m.8-.2h0m0 .5h0m.7-.7h0m.4 .5h0m.1 .2h0m.2-.2h0m1.5 .3h0m.1-.4h0m.1 .5h0m-13.5 .3h0m2.4 .3h0m1-.1h0m.1 .4h0m2-.1h0m.5-.4h0m.9-.3h0m1.9 .6h0m1.6-.2h0m.7 .4h0m.5-.9h0m.3 .7h0m1.2-.2h0m.9-.1h0m.5 .6h0m.4-.4h0m1.2 .1h0m.3-.1h0m1-.1h0m1.6-.5h0m-18.9 1.5h0m.9-.5h0m1.3 .3h0m0 .5h0m.1-.7h0m.6 .7h0m.2-.1h0m1.4-.6h0m1.2 .6h0m.3 0h0m.6-.5h0m.4-.3h0m.6 .4h0m.9-.3h0m1.2 .8h0m.5-.7h0m1-.1h0m1.9 0h0m.4 0h0m.8-.2h0m.7 .5h0m1 .1h0m4.5 .2h0m-23.5 .6h0m.2 .4h0m.9-.6h0m2.7 .5h0m.3 .1h0m0 0h0m1.8-.4h0m.2 .3h0m0-.6h0m.2-.1h0m1.7 .4h0m1.3-.4h0m2.6 .3h0m.2 .3h0m.1-.6h0m0 .6h0m.5-.6h0m.5 .6h0m1.9-.8h0m0 .2h0m.6 0h0m.7-.1h0m1.3 .4h0m.2-.4h0m.1 .5h0m.3-.2h0m.9-.1h0m.2 .4h0m.4 0h0m.3-.8h0m1 .5h0m1.1 .3h0m.4-.7h0m.2 0h0m.9 .8h0m-24.5 .5h0m.5 0h0m1.4-.2h0m.4 0h0m.6 0h0m.7 .6h0m.8-.8h0m2.1 0h0m1.1 .5h0m.1-.2h0m.7 .6h0m1-.2h0m2.1-.1h0m1.7 0h0m2.8 .3h0m1.8-.7h0m.1 .4h0m.4 .2h0m.2-.2h0m1.2-.3h0m.7 .4h0m2.6 0h0m1.6-.7h0m-24.3 1.1h0m.2 .6h0m.2-.5h0m1.8 .1h0m.1 .2h0m.7-.4h0m.1 0h0m1.5 .7h0m1.5-.4h0m.3 .1h0m1.7-.4h0m.1 .8h0m.2-.6h0m.3 .3h0m.2 .1h0m4.2-.1h0m0 .1h0m.6-.2h0m1 .1h0m1.3 .2h0m0-.4h0m.5-.3h0m.4 .3h0m2.3-.2h0m1 .8h0m0-.2h0m.2-.4h0m.2 .3h0m1.1 0h0m1.2-.5h0m1.3 .5h0m-25.2 1.3h0m1-.4h0m0-.1h0m.8 .2h0m1.1 .4h0m.3-.9h0m.1 .1h0m.4 .3h0m1-.3h0m.6 .6h0m1.3 .1h0m.7-.3h0m.2-.7h0m.4 .6h0m.2 .3h0m1.5 0h0m1.9-.9h0m.4 .9h0m.2-.4h0m.4 .4h0m.2 0h0m.9-.6h0m.1 .6h0m2.8 .1h0m1.6 0h0m1.5 0h0m.1-.3h0m3.2-.5h0m-20.2 1.5h0m1.3-.4h0m1.7 .3h0m1.1-.5h0m.3 .1h0m.2 .4h0m.3-.3h0m.2 .6h0m0-.5h0m.3-.4h0m1.8 0h0m.3 .8h0m.9-.1h0m.4-.3h0m.8 .3h0m.4-.7h0m.7 .4h0m.1 0h0m.2 .2h0m.1-.2h0m1.5-.3h0m6.2 0h0m1.4 .5h0m-22.2 .7h0m.6-.1h0m.3 .6h0m0-.2h0m.1 0h0m0 .2h0m.2 .1h0m2.5 0h0m.7-.1h0m1.4-.5h0m1.1 .2h0m.5 .1h0m.2-.6h0m.3 .5h0m.3-.5h0m1.4 .2h0m1.8 0h0m.2 .5h0m3.2-.2h0m.7-.4h0m1 .3h0m.1 .2h0m1.7 .2h0m.6-.8h0m.3 .5h0m.4 .1h0m.5-.4h0m.7 .1h0m1.1-.3h0m.2 .4h0m.2-.1h0m.1 .1h0m.3 .1h0m.1 .2h0m1-.9h0m-23.6 1.6h0m1.2-.2h0m1.5 .5h0m.4-.8h0m.3 .4h0m1.4-.3h0m1.6 .8h0m1.7 0h0m.5-.8h0m.8 .8h0m.1 0h0m.1 .1h0m1.7-.1h0m6.3-.2h0m.5 .4h0m1.7-.1h0m.2-.3h0m.4-.5h0m.4 .9h0m1.5-.6h0m1.4 .2h0m-21 1.4h0m1.9-.3h0m1-.4h0m.2 0h0m.1 .2h0m2.5 .2h0m1.7 .4h0m1.1-.9h0m.3 .9h0m1.1-.6h0m.2 .1h0m1 .3h0m.2-.8h0m.4 .7h0m1.3-.4h0m2.3-.3h0m.7 .6h0m1.6-.5h0m.2 .3h0m1.3 .3h0m.4 .2h0m-21.3 .2h0m.5 .3h0m.5-.4h0m1 .3h0m.5 0h0m.7 0h0m2.6 0h0m1.4 .3h0m.1 0h0m.5-.6h0m.1-.1h0m1.8 .3h0m.4 0h0m0 0h0m.3-.4h0m.1 .8h0m0-.5h0m1.6 0h0m4.5 .6h0m.1-.8h0m.4 .2h0m.6 .5h0m1.5-.4h0m.2 .2h0m1 .1h0m.4 0h0m.4 .1h0m-23.8 .6h0m3.7 .5h0m1-.4h0m.6 .2h0m0-.4h0m0 .7h0m0-.2h0m.7-.5h0m0 .4h0m1.4 0h0m1.3 .1h0m2-.5h0m.8 .2h0m.9-.2h0m0 .1h0m1.1-.1h0m.9 .7h0m.7-.1h0m.2 .2h0m.8-.2h0m.2-.2h0m1.5-.2h0m.7-.1h0m6.2-.2h0m.2 0h0m-20.1 1.9h0m1.2-.1h0m.2 .1h0m1.7-.4h0m1.8-.2h0m.4-.3h0m1 .8h0m1.4-.2h0m.3-.6h0m.3 0h0m.6 .5h0m2.1-.5h0m1.4 .2h0m0 0h0m.6 0h0m2.2 .3h0m.3 .2h0m.1-.1h0m1.3-.7h0m.5-.1h0m.6 .2h0m.2 0h0m.7 .6h0m-18.3 .8h0m0-.5h0m1.8 .4h0m.8-.5h0m.3 .9h0m2.9-.9h0m.7 .6h0m.2-.3h0m.8-.3h0m.6 .8h0m1.8-.1h0m.2-.7h0m.6 .5h0m.4 .1h0m.7 .2h0m1-.5h0m0 .3h0m.3-.5h0m.2 0h0m.1-.1h0m1.1 .6h0m2.4 .2h0m.1-.4h0m1.2 .3h0m.4 .1h0m.4-.8h0m0 .6h0m-17.9 .7h0m0 .5h0m.1-.2h0m.3-.6h0m.2 .9h0m2.2-.9h0m.5 .8h0m1.2-.2h0m.7-.5h0m1.1 .6h0m.5-.1h0m4.4-.1h0m.5 .2h0m1.5-.7h0m.4 .5h0m.1 .2h0m2.5 .1h0m.4-.3h0m.6 .3h0m.2-.7h0m-16.5 1.2h0m.1 .5h0m1.2-.1h0m2.1-.1h0m.1-.4h0m2.5 .6h0m1-.6h0m2.7 .4h0m2.1-.2h0m.3-.2h0m.9-.1h0m1.6-.3h0m1.7 .2h0m-15 1.5h0m1.2-.1h0m.8-.3h0m.6 .3h0m.4-.4h0m.2-.1h0m3.3 .2h0m.4 .2h0m2-.1h0m.1 .3h0m.2 0h0m.7-.3h0m.6 .5h0m1.2-.4h0m.2-.2h0m1 .7h0m1.8-.6h0m-14.1 .9h0m.4 0h0m0 .7h0m.9-.8h0m.5 .7h0m.4-.5h0m.2 .3h0m4.1-.3h0m1.3-.3h0m.1 .1h0m.3 .6h0m0-.6h0m.4 .7h0m.2-.7h0m.2 0h0m.2 .3h0m1.1-.3h0m.1 .6h0m.8-.4h0m.1-.3h0m.1 0h0m1.3 .2h0m.5 .1h0m-11.3 .8h0m1 .4h0m.7-.3h0m.2 .4h0m.1-.1h0m0 .1h0m.5-.6h0m.6 .8h0m0-.5h0m2.2 .5h0m.8-.4h0m3.3 .3h0m1.6-.2h0m-11.4 1.3h0m2.3-.7h0m4 .2h0m.4 0h0m.8 .2h0m2.5 .1h0m.4 0h0m.4-.4h0m-6.6 1.3h0m2.1 .6h0m3.8-.1h0m.5-.4h0m.3 .2h0m.3 .1h0m.3-.3h0m.1 .3h0m-4.4 .5h0m.9 .3h0m.2 .2h0m.4-.2h0m1.8-.2h0m.9 .5h0m-7.5 .6h0m1.5-.4h0m.9 .6h0m0-.7h0m2.9 .8h0m3.7-.9h0m-7.7 1.2h0m.2 0h0m1.7 .6h0m.1-.7h0m1.1 0h0m-1.1 1.2h0m.7 .3h0m.9-.2h0m.2-.2h0m7.6 .3h0m-17.2 1.6h0m9.6 0h0" stroke="#1f77b4" stroke-width="0.95" stroke-linecap="round" fill="none"/>
<path d="M168.5 315.4h0m-2 .9h0m1.2-.5h0m2.5 .4h0m.5-.4h0m-3.3 1.5h0m.1 .1h0m.6-.7h0m.4 0h0m.6 .7h0m1.1-.3h0m1.2-.1h0m.3-.4h0m-5.3 1.1h0m1.5 .5h0m.7-.7h0m2.1 .1h0m1.1 .4h0m0-.6h0m.6 .9h0m0-.4h0m.1 .1h0m.4 0h0m-6.8 1h0m2.7 .3h0m.5-.7h0m.7 .2h0m.2 .4h0m.1-.4h0m.6 .2h0m.4-.3h0m1.5-.2h0m-6.5 .9h0m.2 .8h0m.1 0h0m1.7 0h0m1.1 0h0m.2 .2h0m.7 .1h0m1.2-.4h0m.9-.3h0m.3 .1h0m.9 .1h0m-8.3 1.1h0m.4-.4h0m.3 .6h0m.9-.6h0m.3 .6h0m.1-.6h0m1.1-.1h0m.1 0h0m.4 .7h0m.1-.9h0m.2 .9h0m.9-.5h0m.1 .5h0m2.5-.7h0m.3 0h0m.1 .5h0m-9.6 1.1h0m.5-.7h0m.1 .2h0m.3 .5h0m.1-.4h0m2.5-.3h0m.1 .2h0m.1-.3h0m.1 .9h0m.1-.6h0m.4 .4h0m.2 .2h0m0-.6h0m.2-.3h0m0 .8h0m.1-.3h0m.1-.2h0m.2-.2h0m.8 .1h0m.6 0h0m1.4 .4h0m.1-.2h0m.2-.1h0m.4 0h0m0 .3h0m.9-.4h0m0 0h0m-10.2 1.7h0m.2-.1h0m0 .3h0m1.7-.3h0m0-.4h0m.3-.1h0m.1 .1h0m.7-.1h0m.4 .6h0m0-.4h0m.5-.1h0m.8-.1h0m1.2 .5h0m.9 .4h0m.4-.2h0m3.1-.1h0m-12.3 1.1h0m.8-.5h0m.2-.1h0m.5-.1h0m.2 .7h0m.1 .1h0m.8-.3h0m.1 .2h0m.7 .1h0m.5 0h0m.1-.2h0m1.3-.5h0m-6.7 1.8h0m.9-.1h0m.3-.4h0m.6 .5h0m.6-.6h0m.3 .3h0m0 .1h0m.5-.2h0m-5.5 1.4h0m.8-.1h0m.3 0h0m.4-.2h0m.8-.1h0m.6 .2h0m.7-.6h0m.4 .3h0m.4 .1h0m.5-.2h0m0 0h0m-6.2 1.5h0m.2-.3h0m1.2 .5h0m.1-.9h0m1.3 .1h0m-4.3 1.7h0m0 0h0m.3 .1h0m.2-.7h0m0 .5h0m.5-.3h0m.3 .2h0m0-.5h0m.5 .7h0m.2-.1h0m.1 .1h0m.2-.8h0m.6 .3h0m.7-.2h0m-6.3 1.8h0m1-.4h0m.4 .4h0m0-.4h0m.2-.3h0m.5 .7h0m1.5-.5h0m-3.5 .8h0m.2 .4h0m.2 .2h0m.1-.6h0m.6 .6h0m.2 0h0m.2-.7h0m.1 .1h0m.2-.2h0m.6 .2h0m-3.8 .8h0m.4 .2h0m.7 .5h0m.3-.1h0m.3-.6h0m0 .1h0" stroke="#b5bd4c" stroke-width="0.95" stroke-linecap="round" fill="none"/>
<path d="M197.1 292.0h0m6.3 .8h0m-5.8 .9h0m6.4-.1h0m-6.2 1.1h0m-3.9 1.7h0m2.2-.9h0m1.1 .8h0m15.9-.4h0m-16.7 .9h0m1.8 .3h0m8.7-.4h0m-17.5 1.1h0m6.8 .3h0m1.1-.1h0m5.3-.2h0m-5.2 1.1h0m-3.9 .9h0m4.8 0h0m.1 .2h0m-1.9 1h0m10.5-.2h0m-11.4 .8h0m2.2 .5h0m.1 .1h0m1-.2h0m4.7 .4h0m1.4 0h0m1.9-.5h0m.9 .4h0m0-.5h0m.5 .4h0m-11.2 1.1h0m.1-.5h0m.9 .2h0m1.1-.5h0m.2 .5h0m1-.4h0m.1 .1h0m.9-.1h0m.3 .8h0m.1-.9h0m1.1 0h0m.1 0h0m.5 .7h0m0-.1h0m.3-.7h0m.6 .5h0m.3-.2h0m.3 .5h0m.2-.4h0m.1-.1h0m.1 .1h0m.4 .6h0m1.9-.7h0m0 .7h0m.1-.5h0m0 .4h0m.1 .1h0m1.3-.2h0m0-.5h0m1 0h0m.4 0h0m1.5 .4h0m1.4 .3h0m-15.5 .6h0m.8 .2h0m.1 .2h0m.1-.5h0m.8 .5h0m1.1-.1h0m.5-.3h0m.2 .3h0m0-.1h0m.2 .5h0m.3-.7h0m0 .7h0m1.6-.1h0m.6-.1h0m.7-.6h0m0 .9h0m.1-.2h0m.4 .2h0m.3-.2h0m0-.5h0m.2 0h0m.1 .1h0m.5 .4h0m0-.2h0m1.5-.4h0m.1 .4h0m1.3 .1h0m.4-.4h0m.8 .3h0m.1-.3h0m.4 .2h0m.2 .4h0m1.1-.6h0m.9 .4h0m1 .3h0m-17.6 .5h0m.1-.2h0m.3 .3h0m.2-.2h0m.3 .1h0m.4 .3h0m.6-.6h0m.4 .2h0m.8 .2h0m1.3-.4h0m.2 .7h0m0-.6h0m1.2 .6h0m.4-.2h0m.2 .2h0m.5-.7h0m1.3 .2h0m.9-.1h0m.1-.1h0m.9 .7h0m.3-.9h0m.6 .1h0m.1 .1h0m.6 .2h0m.3-.3h0m1.7 .4h0m.6-.1h0m.6 .5h0m.1-.8h0m.6 .2h0m.8-.1h0m.1 .3h0m.3 .1h0m-15.9 .9h0m1.7 .1h0m.1 .1h0m.4-.2h0m.3-.4h0m.3 .6h0m.3 .1h0m1.2-.2h0m1.4 .3h0m.2-.7h0m.6-.1h0m.8 .5h0m.4 .1h0m.1 .3h0m.3-.5h0m.4-.1h0m1.3-.3h0m.1 .4h0m.1 0h0m.3-.3h0m.7 .8h0m.6-.3h0m.6-.4h0m.8-.2h0m1.7 0h0m-23.5 1.6h0m14.9-.5h0m1.6 0h0m.5 0h0m1.8-.1h0m-8.5 1.4h0m-1.4 .7h0m1 .3h0m1.4-.3h0m-6.9 1.1h0m6.2 .1h0m-8.2 .8h0m8.4-.1h0m-1.4 1h0" stroke="#e377c2" stroke-width="0.95" stroke-linecap="round" fill="none"/>
<path d="M184.6 313.3h0m-2.5 1h0m6.3 0h0m2.6-.4h0m-11 1.1h0m.7-.4h0m4.9 .1h0m1.7 0h0m.9 .2h0m-8.4 1.2h0m1-.3h0m2.7-.1h0m3-.1h0m.5 .3h0m3.8-.2h0m-9.6 1.6h0m.5-.9h0m3.8 .4h0m.7 .1h0m-9.4 .6h0m3.8 .6h0m1-.4h0m2.2 .4h0m8.2-.7h0m-11.5 .9h0m2.6 .8h0m.5-.3h0m7.4 .4h0m.8-.3h0m-15.5 1.3h0m.2-.6h0m.6-.4h0m.4 .4h0m.9-.2h0m9.3 .3h0m1.1-.4h0m2.6 .5h0m4.1 0h0m-16.4 1.2h0m.3-.2h0m10.2-.5h0m.8 .2h0m3.2 .6h0m-13.6 .5h0m2.2-.3h0m1.1-.1h0m4.6 .2h0m.4-.1h0m5.9 .8h0m.3 0h0m2.2-.5h0m-19.8 1.2h0m1.8 .2h0m.8 .1h0m.6-.5h0m2.2-.4h0m3.6 .6h0m1.5-.1h0m4.9 0h0m-15.5 .5h0m3.5 .9h0m3.9-.8h0m.9 .5h0m7.6 .2h0m1-.3h0m-16.1 .5h0m.5 .7h0m10.4 0h0m1.7-.7h0m.4 .1h0m1.9 0h0m1.1 0h0m1.7 .7h0m1.3-.7h0m-20.2 1.1h0m1.3-.3h0m7.1 .1h0m-4.3 1.2h0m4.5 0h0m1 .5h0m2.5-.4h0m3.1-.4h0m3.6 0h0m-10.6 1.7h0m1.8-.7h0m5.1 1.8h0m-15.1 .3h0m.2 .1h0m.3-.1h0m1.1 0h0m6.7 .3h0m3.9 0h0m2.5 .4h0m-13 .4h0m.4-.4h0m4.1 .6h0m-4.9 .7h0m.4 0h0m6.7 .4h0m1.3-.4h0m-7.1 1.5h0m1.4-.8h0m8 .5h0m2.9-.3h0m-10.6 1.2h0m3.5-.4h0m.4 .7h0m2.1-.3h0m.8 .4h0m-3.4 1h0m.5-.7h0m.5 .1h0m1.7 .4h0m1.8-.3h0m-6 .7h0m5.4-.1h0" stroke="#279e68" stroke-width="0.95" stroke-linecap="round" fill="none"/>
<path d="M193.8 316.6h0m4.8 .3h0m-.1 .8h0m-3.4 1.7h0m1.3-.5h0m3.7 .2h0m-9.6 .9h0m7.7 .4h0m1.6 .9h0m.1-.2h0m1.2 .4h0m1.2-.3h0m-1.8 1.5h0m.8 .5h0m2.5-.4h0m-6.2 2.6h0m-2 .9h0m.7-.4h0m5.7 .1h0m.2 .8h0m7.5 .4h0m.2 .2h0m-16.4 .4h0m1.3 0h0m5.2 .6h0m2.3 .2h0m.4 .4h0m3.3-.3h0m2.2 .6h0m-15.9 .8h0m8.6-.2h0m.5-.4h0m3.5 .9h0m-10.2 .2h0m9.6 .9h0m5.1-.2h0m-14.7 .2h0m1.9 .4h0m6.1 0h0m.6 .3h0m2.7-.1h0m-18.5 1.3h0m11.1-.7h0m1.4-.1h0m9.4 .5h0m-23.3 1.1h0m9.6-.7h0m2.6 .2h0m13-.2h0m-23.7 1.1h0m5 .2h0m4.1 .1h0m4.9 0h0m1 .4h0m2.7 .1h0m6 0h0m-27.1 .9h0m1.6-.5h0m6.3 .5h0m13.3 .1h0m1-.8h0m-18 1.1h0m.2 .5h0m13-.5h0m.7 .7h0m4.7-.7h0m-22 1.4h0m2.5 .1h0m.1-.4h0m4.1 0h0m-.2 1.4h0m2.6-.5h0m.5 .5h0m.3 .1h0m5.3-.1h0m.2-.1h0m-5.9 .6h0m.5-.1h0m5.5 .2h0m1.3-.2h0" stroke="#ff7f0e" stroke-width="0.95" stroke-linecap="round" fill="none"/>
<path d="M174.4 281.3h0m-.7 .6h0m.5 2.3h0m1.1 .5h0m1.1 .6h0m-3.3 2h0m2.1 .9h0m.8-.6h0m-1.9 1.4h0m1.2 .1h0m.1-.1h0m15.1 8.8h0m.9 0h0m-.5 4.5h0m.2 0h0m.9 1h0m.3 .1h0" stroke="#17becf" stroke-width="0.95" stroke-linecap="round" fill="none"/>
<path d="M183.7 302.9h0m-.2 1.2h0m0 1.2h0m.3 .3h0" stroke="#98df8a" stroke-width="0.95" stroke-linecap="round" fill="none"/>
<path d="M246.6 280.0h0m9.5 8.5h0m-3 4.2h0m-.7 2.2h0" stroke="#8c564b" stroke-width="0.95" stroke-linecap="round" fill="none"/>
<path d="M239.7 272.6h0m9 .8h0m6.9 4.8h0m-15.7 .7h0" stroke="#9467bd" stroke-width="0.95" stroke-linecap="round" fill="none"/>
<path d="M264.6 273.5h0m16.4 7.8h0m-12.5 .4h0m.1 .8h0m1.2 9.7h0" stroke="#d62728" stroke-width="0.95" stroke-linecap="round" fill="none"/>
<path d="M252.7 292.3h0m5.4 .5h0m-6.6 1.6h0m7.5-.3h0m13.7 3.1h0m-15.4 5.3h0m13.9-.3h0m.2 .7h0m-18.1 1.3h0m13.7 6.7h0m-.2 2.8h0" stroke="#1f77b4" stroke-width="0.95" stroke-linecap="round" fill="none"/>
<path d="M256.1 314.3h0m2.5 .4h0m1.1 .7h0m-1.2 .1h0m.5 .6h0m-2.8 .5h0m4.6-.2h0m.5 .1h0m-6.6 1.4h0m1.1 0h0m1.3-.1h0m3.7 .3h0m-5.6 1h0m3.2 .2h0m.2-.5h0m2.1-.4h0m.4 .7h0m.9-.8h0m-8.2 1.2h0m1.7 .1h0m.4 .5h0m.5 0h0m.9-.5h0m2.7 .3h0m.4 0h0m0 .3h0m1.2-.7h0m-8.7 1.1h0m.1-.4h0m4.8 .1h0m1.5 .9h0m-9.3 .8h0m1.3-.6h0m3 .5h0m.3-.4h0m2.5-.1h0m-6.3 1.9h0m1-.8h0m1.1 .1h0m-4.5 1h0m.8 .6h0m1.1-.7h0m-5 1.3h0m.7-.3h0m.6 .4h0m1.3 .2h0m-4.2 .8h0m1.1 0h0m-3.5 1.4h0m.2-.3h0m.9-.3h0m.3 .1h0m.2-.2h0m-3.1 1.2h0m1.5 .3h0m-1.7 1.5h0" stroke="#b5bd4c" stroke-width="0.95" stroke-linecap="round" fill="none"/>
<path d="M301.5 294.4h0m-19.2 .5h0m4.4 .7h0m-2 1h0m4.5 4.2h0m.8 .2h0m3.2 1.3h0m7.6-.1h0m.2-.3h0m-12.3 1.2h0m8.1-.3h0m.7 .1h0m2.7 .5h0m-8 .4h0m7.5 .6h0m-11.9 .2h0m3.7 .3h0m6.2-.2h0m-9.6 4.4h0" stroke="#e377c2" stroke-width="0.95" stroke-linecap="round" fill="none"/>
<path d="M270.2 310.7h0m-7.2 1.2h0m7.3 0h0m.2 0h0m.2 .4h0m.6-.5h0m1.5 .2h0m.1-.3h0m.3 .1h0m1.6 .2h0m1.1-.4h0m.6-.1h0m1.6 .5h0m-9.6 1h0m.1-.3h0m1.8 .1h0m1.8-.3h0m.8 0h0m.9 .8h0m1.2-.5h0m0 .2h0m.5 .3h0m.2-.8h0m.8 .4h0m.7 0h0m.5-.1h0m1 0h0m.2 0h0m.2 .3h0m1.6-.1h0m.9-.2h0m3-.1h0m-16.3 1.1h0m1.4 .7h0m.4-.2h0m1.6 .1h0m1.4 0h0m.9 .2h0m.5 0h0m.1-.3h0m1.3 .2h0m.3-.9h0m2.7 .8h0m1-.4h0m1.4 .3h0m2-.1h0m-16.9 .7h0m1.2 .2h0m.4-.5h0m1.4 .3h0m4.7 .5h0m.2 0h0m.8-.8h0m1.2 .7h0m.6 .2h0m.2-.5h0m.1-.2h0m3.1-.1h0m1.6 .4h0m1-.3h0m.5 .1h0m-18.7 1.1h0m.1 .3h0m.2 .1h0m.4-.2h0m.6-.5h0m1.5 .8h0m1.1-.2h0m.7-.4h0m.4 .5h0m1-.2h0m2.7-.2h0m.6 .4h0m.2-.9h0m.2 .5h0m1.9 .4h0m.4-.7h0m.9 .1h0m2.5 .2h0m1.4 .2h0m.1 0h0m.8-.7h0m1.5 .3h0m.3-.2h0m-20.3 1.5h0m1.8 0h0m.1-.6h0m.2 .8h0m.9-.6h0m0-.1h0m0 .3h0m1.5-.3h0m0-.3h0m2.1 .3h0m1.3-.4h0m1.3 .9h0m.5-.3h0m.5 0h0m.4-.6h0m.2 .2h0m.4 .3h0m2.9 .1h0m1.9-.8h0m.3 .1h0m.4 .1h0m2.4-.2h0m.4 .2h0m.5 .7h0m-20 .2h0m.5 .8h0m.9 0h0m.1-.7h0m.8 .5h0m1.5 0h0m.8-.5h0m1 .1h0m1.5 .1h0m0 0h0m.5-.2h0m0-.1h0m.9 .3h0m4.1 .3h0m0-.1h0m1.1-.3h0m1.3 .3h0m.8-.3h0m.2 .6h0m0-.1h0m.8-.7h0m1.7 .5h0m2.2-.1h0m-18.9 .8h0m1.9 .5h0m1.2 0h0m1.8-.3h0m.1-.3h0m1.3 .5h0m1.6 .3h0m1-.3h0m.9-.5h0m0 0h0m2.7 .7h0m1-.6h0m.6 .2h0m.9 .1h0m.9-.4h0m1.7 .1h0m.4 .7h0m.2 .1h0m-19.3 .5h0m1.4 .1h0m1.7 .3h0m0 .1h0m2.2-.3h0m0-.5h0m1 .4h0m1-.4h0m.4 .6h0m.2-.4h0m3.3 .4h0m.1 .2h0m.9-.8h0m2.8 .8h0m.1-.7h0m.5 .7h0m.2-.5h0m1.3 .2h0m1.2 0h0m.2-.4h0m.2 .4h0m.4 .2h0m-19.2 .2h0m2.9 .2h0m.1 0h0m.2 .6h0m.3-.8h0m.2 .3h0m1.8 .2h0m.1 .3h0m.2 0h0m2.8-.5h0m.5 .7h0m.5-.1h0m2.9-.1h0m.5-.6h0m1.5 .3h0m3-.2h0m1.8 .5h0m.2-.6h0m.6 0h0m.3 .5h0m-20.4 .3h0m.2 .5h0m0-.5h0m.1 .5h0m.1-.5h0m.3 .5h0m.3-.4h0m.4 .1h0m.7 0h0m.3 .7h0m.4-.2h0m0-.5h0m.4 .2h0m2.8 .4h0m.2-.3h0m.3-.6h0m.2 .7h0m2.6-.7h0m3.7 .6h0m.3-.4h0m1.1-.3h0m.6 .1h0m.6-.1h0m.6 .1h0m.2 .7h0m.5-.7h0m1.7-.2h0m1.5 .2h0m-20.8 1.3h0m1.6-.4h0m.6-.2h0m2.2 .9h0m1.3 0h0m0-.1h0m1.5-.6h0m1.9-.1h0m.1 0h0m.2 .9h0m1.4-1h0m.1 .8h0m.3-.9h0m2.7 .2h0m.4 .4h0m.6 .2h0m.3-.8h0m1.3 .8h0m.2-.1h0m.2-.4h0m.2-.2h0m.1 0h0m.6 .6h0m.1-.7h0m2.7 .3h0m-20.1 1.5h0m0 0h0m0-.6h0m.6 .7h0m.6-.7h0m.4 .5h0m.1-.6h0m1.2 .4h0m.2-.5h0m.4 .2h0m.8 0h0m2.4 .6h0m.8 .1h0m.3-.6h0m1.6-.1h0m2.8 0h0m.1-.2h0m.1 .7h0m.7-.6h0m1 .2h0m.3 0h0m.2-.4h0m.3 .8h0m4-.4h0m.7 0h0m.2-.4h0m-18.8 1.3h0m.9 .6h0m0-.7h0m1.6 .4h0m1.2-.3h0m1.1-.2h0m1.3 .7h0m1.4 .1h0m.9-.5h0m.2 0h0m.6 .5h0m3.2-.2h0m.5-.2h0m1.2 .1h0m3.6 0h0m.2 .1h0m-16.1 .3h0m2 .8h0m.1 0h0m1.1-.1h0m1-.7h0m.8 .5h0m.4-.4h0m2.3 .4h0m.4 .2h0m.3-.6h0m.4 0h0m.4-.3h0m.6 .3h0m.2 .1h0m1.1 0h0m.4 .2h0m0-.5h0m1.1 .4h0m.8-.3h0m.6-.3h0m-17.9 1.3h0m1.1 .5h0m1-.9h0m.1 .5h0m.9-.4h0m1.5-.2h0m.5 .8h0m.3-.5h0m.4 .2h0m.4-.4h0m.2 .2h0m.3-.1h0m0 .5h0m.2-.1h0m.2 .3h0m.1 0h0m.4-.5h0m.5 .5h0m1.1-.6h0m1.2-.3h0m.7 .2h0m1.8 .5h0m3.7-.4h0m-15.2 .7h0m.1 .8h0m2-.4h0m.3 .3h0m.4 .1h0m.7-.8h0m1.5 .9h0m.6 0h0m.9-.3h0m.4-.2h0m.2 .3h0m3.1 0h0m2.4-.3h0m.2 .6h0m2.1-.6h0m1.7 .3h0m.7-.1h0m-16.5 1.3h0m.1 0h0m.9-.4h0m.8-.1h0m.3-.3h0m.4-.1h0m.8 .8h0m1.4-.6h0m1.2 .7h0m.2 .1h0m.3-1h0m.7 .1h0m.5 .5h0m2.1 .1h0m.1-.4h0m2.5 .6h0m1.2-.3h0m.2-.3h0m-13.2 1.7h0m.5-.1h0m.3-.1h0m3.7-.5h0m.6 .3h0m1.3 .4h0m.3-.3h0m.6 .1h0m1.1-.4h0m2.4 0h0m.3 .2h0m.9-.4h0m.7 .8h0m1.8-.1h0m-14.1 .2h0m.3 0h0m2.9 .6h0m.2-.2h0m.3 .3h0m1-.8h0m.4 .4h0m1-.1h0m1.7 .4h0m2.2 0h0m.6-.1h0m1.8-.1h0m.1 .3h0m-12.7 .9h0m.4-.4h0m1.1 .3h0m.4-.6h0m.3 .9h0m.4-.6h0m.4 .5h0m.2 0h0m1.4-.1h0m1-.2h0m.4-.4h0m.2 .8h0m.5-.5h0m1.3-.1h0m0-.1h0m.5 .5h0m.2 0h0m.1 0h0m.3-.4h0m1.2 .1h0m.6 .3h0m2.2-.8h0m-10.9 1.6h0m.2-.2h0m3.6-.2h0m.5 .5h0m1-.2h0m.6-.6h0m1.7 .4h0m0-.2h0m.7 .7h0m-6.6 .8h0m.1 .3h0m.9-.3h0m.1 .4h0m.5-.5h0m1.1 .3h0m.1-.1h0m1.5-.3h0m.2 0h0m.9 .2h0m.5-.3h0m-4.7 1.1h0m.2-.2h0m.2 .5h0m.1-.5h0m.9 .2h0m.2 1.8h0" stroke="#279e68" stroke-width="0.95" stroke-linecap="round" fill="none"/>
<path d="M281.2 314.0h0m.9 .3h0m.7 .1h0m-3.4 .4h0m1.3 0h0m.8 .2h0m.6 .1h0m1.1 0h0m1.1-.2h0m.8 .6h0m.5-.3h0m-5.7 .5h0m1.3 0h0m.7 .1h0m0-.2h0m2.2 0h0m.6 .6h0m2-.3h0m.2 .3h0m13.6 0h0m-17.7 .5h0m.4 .3h0m1.5-.3h0m1.5-.1h0m.5 .3h0m.5 .3h0m-8.3 1.3h0m4.2-.8h0m.3 .4h0m.3-.5h0m.1 .6h0m.8-.4h0m3.1-.3h0m2 .2h0m1.5 .6h0m-18.2 .2h0m7.6 .1h0m3.9 0h0m.1 .2h0m1.1 .4h0m.8-.4h0m1.9-.2h0m.5 .4h0m.2-.5h0m.4 0h0m.5 .4h0m.7 .4h0m.5-.7h0m1.3 .8h0m-6.3 .7h0m.2 .4h0m.5-.1h0m1.3-.6h0m.1 .7h0m.1-.9h0m.4 .8h0m.8-.4h0m1.1-.2h0m.1 0h0m1.1 0h0m.5 0h0m.7 0h0m.2 .5h0m-8.3 .8h0m.7-.1h0m.8 .7h0m1.1-.3h0m.1-.3h0m0 .1h0m1.2 .4h0m.1-.8h0m.9-.1h0m.2 .5h0m.2 .1h0m1.8 .3h0m.3 0h0m0 0h0m.4-.6h0m.2 0h0m1.2 0h0m-9.9 1.7h0m0-.7h0m0 .1h0m.6-.3h0m1.8 .4h0m.7-.5h0m0 0h0m1.6 .1h0m.5 0h0m.9-.1h0m3.8 .2h0m-9.4 1.7h0m1.4-.5h0m1-.1h0m.9 .6h0m1.2-.6h0m.2 .6h0m.7-.3h0m1.1 .2h0m0 0h0m.2 .1h0m2.3-.7h0m1.3-.2h0m-10.4 1.8h0m1.3-.5h0m.2 .1h0m1.8 .2h0m.3 .2h0m1.1-.9h0m1 .9h0m.3-.3h0m.4-.3h0m2.2-.2h0m0 .3h0m.1-.3h0m.5 .8h0m.2-.8h0m.4 .5h0m1.1 .2h0m.6 .2h0m.5-.2h0m-13.4 .6h0m.9-.1h0m1.9 0h0m.1 .2h0m.7 .5h0m1.4-.1h0m.6 .1h0m1.9-.1h0m.3-.6h0m4.3 .5h0m.1 0h0m.3 .1h0m.3-.3h0m0-.4h0m.1 .4h0m.7 .5h0m.1-.9h0m.4 .3h0m0 .6h0m.2-.2h0m-15.5 1.1h0m.4-.2h0m1 .2h0m1.7-.5h0m.9 .6h0m.1-.6h0m.2 .6h0m.8-.5h0m1.5-.3h0m.2 .4h0m2.6-.4h0m.6 .6h0m0 .2h0m2.7-.1h0m.5-.3h0m1.5-.2h0m1.1-.1h0m.2 .1h0m.1 .8h0m.3-.6h0m.2 .2h0m-19.4 .7h0m2.4 .5h0m2.7-.3h0m.1 0h0m.8-.3h0m1 .1h0m.7 .1h0m.2-.4h0m1.4 .5h0m0 0h0m0-.2h0m.2 .3h0m1.2-.1h0m.8 .1h0m.4-.6h0m.5 .6h0m.3 .2h0m1.7-.8h0m.3 .5h0m.6 .2h0m1.7-.4h0m0 .1h0m.5 .2h0m.6-.6h0m.2 .4h0m2 .3h0m-18.6 1.1h0m.5-.5h0m2.5 .2h0m3.8-.2h0m.5 .3h0m.1-.5h0m.2 .3h0m.5 .1h0m1.6-.4h0m.1 .3h0m.6-.4h0m2.2 .9h0m.1-.3h0m.8-.1h0m.9-.5h0m1.1 .8h0m1.6-.7h0m.1 .6h0m.1 .1h0m1.2-.1h0m-18.7 .5h0m.3-.2h0m0 .4h0m1.4 0h0m.5 .3h0m.4-.2h0m0 .1h0m1.3 .1h0m.5-.3h0m.4 .4h0m1.2-.7h0m0 .2h0m.1 .4h0m2.3-.2h0m.6 .3h0m.1-.4h0m.8 .2h0m.4-.4h0m.2 .4h0m.6-.4h0m.3 .7h0m.8-.4h0m.8 .3h0m.2 0h0m.1 .2h0m.8-.6h0m2.3 .7h0m.4-.5h0m1.3 .2h0m.1 .2h0m-20.6 .2h0m1.1 .2h0m2.4 .2h0m1.1-.2h0m0 .3h0m.8-.6h0m.9 .3h0m1.4 .3h0m.2-.6h0m.8 .8h0m.3-.4h0m1.1-.1h0m3.2-.2h0m.6 .7h0m.4-.4h0m.2 .3h0m.3-.6h0m.7 .4h0m1.1-.6h0m1.7 .5h0m.2 0h0m.5-.5h0m.2 .9h0m.2-.6h0m.3 .3h0m.6-.2h0m-21.8 1.1h0m.7 .3h0m2.9-.4h0m.9 .5h0m.4-.3h0m.3-.5h0m1.5 0h0m.3 .2h0m.2 .4h0m1.2-.3h0m.2 .1h0m0-.5h0m.8 .8h0m.6-.2h0m.2 .2h0m.2-.2h0m.4-.3h0m.2-.4h0m.1 0h0m.5 .7h0m.3-.1h0m2 .3h0m0-.8h0m.9 .2h0m1 .1h0m1.6-.2h0m2.3 .4h0m.4-.4h0m.3 .2h0m1.4 .5h0m.2 .1h0m.3-.5h0m.1 .3h0m.1-.5h0m-23.5 1.6h0m0-.3h0m1.7-.1h0m2.4 .3h0m.6-.1h0m.2-.2h0m1 0h0m0 .1h0m.8 0h0m3.8-.2h0m.3 .5h0m1.3-.2h0m1.7 .1h0m.8 .1h0m3.8 0h0m.7-.7h0m1.8 .2h0m2.5 .2h0m.3-.2h0m.2 .3h0m.4-.4h0m-26.4 1.6h0m.9-.5h0m.5-.2h0m.3 .1h0m1.1 0h0m.4 .6h0m.4-.2h0m1.1-.1h0m.5 .5h0m.9 .1h0m1.3-.1h0m.2-.2h0m.4-.4h0m.5 .5h0m.8 0h0m.2-.2h0m.1-.4h0m.2 0h0m.2 .3h0m.2-.1h0m2.3 .6h0m1.4-.9h0m.8 .8h0m1.6 .1h0m1.1-.1h0m0 0h0m2.8-.5h0m.1 0h0m2 .2h0m1-.3h0m1.1 .2h0m-26.7 1.4h0m1.8-.3h0m.7-.5h0m.2 .6h0m.1 .2h0m.7-.5h0m.1-.1h0m1.8 .3h0m.5-.2h0m1.7 .1h0m.1 .2h0m1-.3h0m1.1-.2h0m.6 .1h0m.7-.3h0m0 .3h0m1.8 0h0m.5-.2h0m2.9 .5h0m.7-.6h0m0 0h0m.7 .8h0m.2 0h0m.8-.3h0m.1-.2h0m.4 0h0m.2-.1h0m1.7 .3h0m.6-.1h0m.3-.1h0m.9-.4h0m1.4 .4h0m1.4 0h0m.1 0h0m.8 0h0m.7 .3h0m1-.3h0m-28.2 .8h0m.2 .1h0m.3 0h0m.2-.1h0m.1 .1h0m2.1-.3h0m0 0h0m.3-.1h0m1 .7h0m0-.8h0m1.4 .4h0m0 .5h0m1.7-.7h0m1.3 .2h0m.4-.2h0m1.1 .1h0m.3-.1h0m.4 .6h0m.4-.7h0m.2 .6h0m1.6 0h0m.8 .1h0m1.8-.6h0m.2 .2h0m.6 .1h0m.4-.2h0m.3 .3h0m.9-.1h0m1.3-.3h0m.4 .1h0m2.2-.1h0m.2 0h0m.1 0h0m1.2 .3h0m2.1 .2h0m.4-.4h0m.7-.1h0m1.2-.5h0m-25.4 1.5h0m.6-.3h0m.1 .2h0m.4 .3h0m0 .1h0m.3-.2h0m.2 .1h0m1.1-.7h0m.5 .8h0m.3-.4h0m1.6 .1h0m.6 .2h0m1.1-.6h0m.6 .4h0m.3-.3h0m.5 .2h0m.4-.1h0m1.8 .5h0m.9-.2h0m4.6-.1h0m.4-.3h0m.1-.2h0m3.2 .1h0m1.7-.3h0m.3 .4h0m1 .2h0m-23.7 .5h0m.8 .2h0m1.7 0h0m.3-.1h0m.6 .7h0m.6-.4h0m.2-.1h0m2.1-.2h0m1.4 .3h0m.4-.2h0m.6 .6h0m6 0h0m.9 0h0m3-.1h0m.7-.9h0m1 0h0m-16.4 1h0m2.7 .2h0m.7 0h0m.1 .7h0m.3-.2h0m.7-.7h0m1.1 .6h0m.5-.4h0m0 .3h0m0-.3h0m.2-.2h0m.1 .1h0m.9 .4h0m.5-.1h0m2.8 .1h0m.3 .1h0m.2-.7h0m.3 .1h0m.1 .4h0m.1-.5h0m.1 .7h0m.2-.6h0m.4 .4h0m2.1-.7h0m.6 .6h0m-8.8 .4h0m1.3 .3h0m.9 .1h0m1.1-.2h0m.6 .6h0m11 1.2h0" stroke="#ff7f0e" stroke-width="0.95" stroke-linecap="round" fill="none"/>
<path d="M264.6 280.2h0m-1 3.2h0m0 4.4h0m.3 .7h0m15.7 7.9h0m.4 2.3h0m.2 3.1h0m.3 .1h0" stroke="#17becf" stroke-width="0.95" stroke-linecap="round" fill="none"/>
<path d="M272.2 304.1h0" stroke="#98df8a" stroke-width="0.95" stroke-linecap="round" fill="none"/>
<rect x="348.8" y="478.6" width="163.8" height="167.2" fill="none" stroke="#111" stroke-width="1"/>
<path d="M345.8 645.8H348.8M345.8 614.1H348.8M345.8 582.4H348.8M345.8 550.6H348.8M345.8 518.9H348.8M345.8 487.2H348.8" stroke="#111" stroke-width="0.9"/>
<text x="342.5" y="647.9" font-size="7.5" text-anchor="end" stroke="#231f20" stroke-width="0.08">0.0</text>
<text x="342.5" y="616.18" font-size="7.5" text-anchor="end" stroke="#231f20" stroke-width="0.08">0.2</text>
<text x="342.5" y="584.4599999999999" font-size="7.5" text-anchor="end" stroke="#231f20" stroke-width="0.08">0.4</text>
<text x="342.5" y="552.74" font-size="7.5" text-anchor="end" stroke="#231f20" stroke-width="0.08">0.6</text>
<text x="342.5" y="521.02" font-size="7.5" text-anchor="end" stroke="#231f20" stroke-width="0.08">0.8</text>
<text x="342.5" y="489.29999999999995" font-size="7.5" text-anchor="end" stroke="#231f20" stroke-width="0.08">1.0</text>
<text x="324.6" y="599.4" font-size="8.0" stroke="#231f20" stroke-width="0.08" textLength="65.8" lengthAdjust="spacingAndGlyphs" transform="rotate(-90 324.6 599.4)">Scaled gene expression</text>
<path d="M349.6 641.2L350.4 644.8L351.2 645.2L352.1 643.9L352.9 634.8L353.7 643.9L354.5 641.5L355.3 636.2L356.2 638.8L357.0 631.7L357.8 639.6L358.6 640.8L359.4 637.4L360.3 644.5L361.1 632.3L361.9 641.7L362.7 641.4L363.5 636.2L364.4 645.6L365.2 636.6L366.0 633.2L366.8 642.3L367.6 631.5L368.5 638.9L369.3 634.6L370.1 640.0L370.9 641.2L371.7 643.6L372.6 641.8L373.4 635.8L374.2 611.9L375.0 625.7L375.8 627.9L376.7 599.9L377.5 610.3L378.3 597.1L379.1 619.1L379.9 624.2L380.8 599.1L381.6 626.1L382.4 603.7L383.2 610.7L384.0 590.6L384.9 592.0L385.7 602.0L386.5 624.2L387.3 624.7L388.1 608.7L389.0 596.4L389.8 622.6L390.6 610.4L391.4 622.4L392.2 614.5L393.1 625.3L393.9 613.8L394.7 606.9L395.5 618.4L396.3 597.5L397.2 623.5L398.0 618.0L398.8 616.3L399.6 611.1L400.4 588.8L401.3 603.4L402.1 591.3L402.9 583.2L403.7 611.3L404.5 585.3L405.4 594.7L406.2 589.4L407.0 594.4L407.8 601.5L408.6 612.6L409.5 610.9L410.3 609.8L411.1 609.7L411.9 610.8L412.7 608.6L413.6 573.5L414.4 565.0L415.2 563.9L416.0 562.0L416.8 591.6L417.7 562.9L418.5 588.8L419.3 593.4L420.1 584.6L420.9 572.5L421.8 594.4L422.6 587.5L423.4 580.1L424.2 562.9L425.0 580.1L425.9 579.5L426.7 581.3L427.5 592.6L428.3 560.6L429.1 558.8L430.0 567.0L430.8 551.6L431.6 549.7L432.4 555.1L433.2 541.2L434.1 541.2L434.9 555.2L435.7 532.3L436.5 538.5L437.3 558.9L438.2 534.9L439.0 540.4L439.8 557.6L440.6 555.7L441.4 537.3L442.3 564.5L443.1 550.0L443.9 528.6L444.7 557.4L445.5 547.3L446.4 530.9L447.2 532.3L448.0 535.8L448.8 546.1L449.6 530.0L450.5 557.3L451.3 532.0L452.1 551.1L452.9 541.0L453.7 543.0L454.6 556.3L455.4 540.2L456.2 543.2L457.0 527.7L457.8 540.7L458.7 549.9L459.5 552.3L460.3 531.7L461.1 553.7L461.9 540.7L462.8 539.6L463.6 528.6L464.4 559.9L465.2 540.8L466.0 560.8L466.9 541.8L467.7 541.1L468.5 537.6L469.3 532.6L470.1 544.3L471.0 522.0L471.8 540.3L472.6 538.3L473.4 548.6L474.2 533.7L475.1 552.5L475.9 541.5L476.7 528.7L477.5 526.0L478.3 546.6L479.2 524.7L480.0 536.8L480.8 545.2L481.6 525.9L482.4 526.3L483.3 535.9L484.1 533.7L484.9 530.5L485.7 530.1L486.5 525.4L487.4 525.2L488.2 545.4L489.0 551.8L489.8 548.8L490.6 541.6L491.5 531.9L492.3 518.4L493.1 537.7L493.9 539.4L494.7 532.7L495.6 518.9L496.4 531.7L497.2 542.1L498.0 525.7L498.8 517.3L499.7 524.3L500.5 538.4L501.3 546.4L502.1 536.2L502.9 548.0L503.8 547.9L504.6 536.7L505.4 522.3L506.2 527.6L507.0 537.7L507.9 518.6L508.7 546.2L509.5 543.7L510.3 542.8L511.1 532.2L512.0 520.9" stroke="#d62728" stroke-width="1.0" fill="none" stroke-linejoin="round"/>
<path d="M349.6 644.8L350.4 642.6L351.2 642.0L352.1 644.3L352.9 642.2L353.7 642.2L354.5 644.3L355.3 645.8L356.2 645.8L357.0 645.5L357.8 644.4L358.6 645.8L359.4 645.1L360.3 644.2L361.1 645.0L361.9 643.0L362.7 643.9L363.5 644.0L364.4 643.5L365.2 643.8L366.0 644.7L366.8 645.8L367.6 643.8L368.5 645.8L369.3 645.8L370.1 645.0L370.9 645.6L371.7 642.9L372.6 645.8L373.4 644.5L374.2 643.2L375.0 644.6L375.8 642.7L376.7 645.8L377.5 645.8L378.3 645.4L379.1 644.9L379.9 643.9L380.8 645.7L381.6 643.9L382.4 643.2L383.2 643.4L384.0 642.6L384.9 645.8L385.7 643.3L386.5 643.1L387.3 642.6L388.1 641.6L389.0 642.6L389.8 632.3L390.6 634.1L391.4 641.4L392.2 630.6L393.1 633.0L393.9 634.5L394.7 632.3L395.5 634.6L396.3 638.7L397.2 643.1L398.0 638.7L398.8 634.4L399.6 641.0L400.4 641.2L401.3 642.2L402.1 636.3L402.9 629.2L403.7 632.8L404.5 643.7L405.4 629.9L406.2 622.1L407.0 637.0L407.8 619.3L408.6 633.5L409.5 628.2L410.3 619.3L411.1 617.3L411.9 637.4L412.7 618.7L413.6 617.2L414.4 618.2L415.2 619.8L416.0 630.0L416.8 631.5L417.7 638.3L418.5 629.4L419.3 631.8L420.1 635.4L420.9 615.5L421.8 617.1L422.6 618.9L423.4 632.0L424.2 636.3L425.0 628.6L425.9 637.6L426.7 630.5L427.5 624.1L428.3 583.7L429.1 582.8L430.0 583.2L430.8 557.7L431.6 598.1L432.4 558.5L433.2 568.8L434.1 530.1L434.9 525.7L435.7 546.3L436.5 520.6L437.3 538.0L438.2 534.7L439.0 531.2L439.8 519.4L440.6 539.9L441.4 530.9L442.3 516.6L443.1 540.4L443.9 527.1L444.7 541.8L445.5 529.6L446.4 533.6L447.2 529.6L448.0 546.0L448.8 540.7L449.6 519.4L450.5 541.4L451.3 537.7L452.1 516.7L452.9 539.1L453.7 529.2L454.6 533.7L455.4 546.7L456.2 527.2L457.0 531.5L457.8 518.3L458.7 517.1L459.5 544.6L460.3 528.9L461.1 536.4L461.9 542.8L462.8 518.9L463.6 544.1L464.4 531.5L465.2 539.8L466.0 529.4L466.9 540.5L467.7 520.8L468.5 533.5L469.3 540.7L470.1 511.3L471.0 528.2L471.8 512.9L472.6 525.3L473.4 510.3L474.2 525.1L475.1 515.1L475.9 514.5L476.7 518.8L477.5 509.5L478.3 517.8L479.2 525.7L480.0 518.3L480.8 514.2L481.6 520.9L482.4 518.3L483.3 529.8L484.1 525.3L484.9 512.1L485.7 523.1L486.5 526.8L487.4 511.5L488.2 530.9L489.0 530.6L489.8 530.0L490.6 526.8L491.5 530.3L492.3 524.2L493.1 524.8L493.9 508.2L494.7 525.1L495.6 517.0L496.4 524.1L497.2 513.2L498.0 528.7L498.8 522.9L499.7 528.0L500.5 523.9L501.3 525.0L502.1 520.1L502.9 507.7L503.8 530.9L504.6 525.7L505.4 516.2L506.2 510.4L507.0 522.0L507.9 522.5L508.7 523.5L509.5 522.1L510.3 517.9L511.1 511.8L512.0 531.1" stroke="#1f77b4" stroke-width="1.0" fill="none" stroke-linejoin="round"/>
<path d="M349.6 645.8L350.4 645.8L351.2 645.1L352.1 644.8L352.9 645.8L353.7 645.8L354.5 645.8L355.3 645.5L356.2 644.9L357.0 644.4L357.8 645.6L358.6 645.5L359.4 644.6L360.3 644.8L361.1 644.5L361.9 645.8L362.7 644.9L363.5 644.7L364.4 645.8L365.2 645.8L366.0 644.5L366.8 645.8L367.6 645.7L368.5 645.8L369.3 644.6L370.1 645.1L370.9 645.8L371.7 645.4L372.6 645.4L373.4 645.8L374.2 644.8L375.0 645.8L375.8 645.6L376.7 644.8L377.5 645.8L378.3 644.8L379.1 644.5L379.9 644.9L380.8 645.5L381.6 644.5L382.4 645.7L383.2 644.3L384.0 645.1L384.9 645.3L385.7 644.6L386.5 645.8L387.3 645.8L388.1 644.8L389.0 645.8L389.8 644.5L390.6 645.4L391.4 645.3L392.2 644.3L393.1 645.8L393.9 645.8L394.7 645.2L395.5 645.1L396.3 644.6L397.2 645.8L398.0 644.5L398.8 645.0L399.6 645.2L400.4 645.8L401.3 644.7L402.1 645.8L402.9 645.0L403.7 644.3L404.5 645.8L405.4 645.5L406.2 644.4L407.0 645.8L407.8 644.6L408.6 644.7L409.5 644.9L410.3 644.3L411.1 644.9L411.9 645.8L412.7 644.6L413.6 644.8L414.4 645.6L415.2 645.8L416.0 645.8L416.8 645.3L417.7 645.8L418.5 644.3L419.3 645.8L420.1 645.8L420.9 645.8L421.8 644.8L422.6 644.7L423.4 645.8L424.2 645.5L425.0 644.5L425.9 645.1L426.7 645.8L427.5 644.3L428.3 537.0L429.1 560.5L430.0 553.3L430.8 550.6L431.6 543.8L432.4 552.7L433.2 568.5L434.1 512.0L434.9 515.1L435.7 509.4L436.5 507.7L437.3 507.9L438.2 515.9L439.0 508.6L439.8 505.1L440.6 508.3L441.4 511.9L442.3 505.1L443.1 510.9L443.9 504.9L444.7 516.9L445.5 515.7L446.4 510.0L447.2 515.7L448.0 514.0L448.8 502.8L449.6 505.2L450.5 512.5L451.3 515.3L452.1 505.9L452.9 506.2L453.7 514.4L454.6 508.6L455.4 507.3L456.2 515.7L457.0 515.3L457.8 516.6L458.7 504.3L459.5 512.5L460.3 511.9L461.1 516.4L461.9 507.1L462.8 513.2L463.6 508.8L464.4 511.7L465.2 511.7L466.0 516.4L466.9 512.1L467.7 503.1L468.5 502.7L469.3 503.1L470.1 496.1L471.0 496.7L471.8 499.5L472.6 499.9L473.4 498.1L474.2 494.5L475.1 499.9L475.9 500.6L476.7 498.0L477.5 496.2L478.3 501.0L479.2 508.8L480.0 499.9L480.8 503.8L481.6 507.1L482.4 508.4L483.3 501.0L484.1 494.5L484.9 500.6L485.7 496.4L486.5 506.5L487.4 504.1L488.2 494.5L489.0 498.6L489.8 498.0L490.6 504.6L491.5 498.9L492.3 503.9L493.1 506.1L493.9 506.7L494.7 506.4L495.6 507.7L496.4 503.1L497.2 495.9L498.0 500.8L498.8 503.4L499.7 499.3L500.5 495.0L501.3 505.1L502.1 495.1L502.9 494.1L503.8 503.7L504.6 508.1L505.4 498.7L506.2 495.1L507.0 503.5L507.9 504.3L508.7 505.5L509.5 507.2L510.3 499.0L511.1 504.7L512.0 494.9" stroke="#2ca02c" stroke-width="1.0" fill="none" stroke-linejoin="round"/>
<path d="M349.6 645.2L350.4 645.8L351.2 644.2L352.1 642.9L352.9 645.8L353.7 642.9L354.5 644.2L355.3 643.8L356.2 643.0L357.0 644.7L357.8 644.7L358.6 645.8L359.4 645.2L360.3 644.6L361.1 645.8L361.9 645.1L362.7 645.3L363.5 643.5L364.4 645.5L365.2 643.2L366.0 645.8L366.8 644.2L367.6 644.8L368.5 645.7L369.3 643.7L370.1 642.9L370.9 645.8L371.7 643.6L372.6 645.8L373.4 645.4L374.2 643.0L375.0 643.0L375.8 643.1L376.7 645.4L377.5 643.9L378.3 642.9L379.1 645.8L379.9 643.5L380.8 643.9L381.6 643.1L382.4 645.0L383.2 644.3L384.0 643.8L384.9 644.9L385.7 644.0L386.5 645.8L387.3 645.8L388.1 645.8L389.0 642.9L389.8 645.1L390.6 643.3L391.4 642.9L392.2 643.2L393.1 644.6L393.9 645.7L394.7 644.4L395.5 643.8L396.3 643.9L397.2 645.8L398.0 645.8L398.8 645.8L399.6 645.8L400.4 645.3L401.3 645.4L402.1 643.8L402.9 643.8L403.7 645.7L404.5 645.5L405.4 643.3L406.2 644.1L407.0 645.8L407.8 645.5L408.6 643.5L409.5 644.7L410.3 645.8L411.1 645.2L411.9 644.1L412.7 645.8L413.6 645.8L414.4 643.5L415.2 645.3L416.0 645.2L416.8 642.9L417.7 643.0L418.5 645.6L419.3 645.8L420.1 645.8L420.9 633.8L421.8 638.0L422.6 645.1L423.4 634.9L424.2 635.3L425.0 637.8L425.9 645.8L426.7 640.6L427.5 645.3L428.3 644.8L429.1 642.7L430.0 563.6L430.8 539.1L431.6 564.9L432.4 575.5L433.2 576.0L434.1 526.2L434.9 530.9L435.7 516.7L436.5 522.0L437.3 519.4L438.2 533.5L439.0 523.6L439.8 520.4L440.6 536.7L441.4 527.8L442.3 521.0L443.1 534.1L443.9 513.7L444.7 532.6L445.5 535.0L446.4 520.5L447.2 512.9L448.0 518.3L448.8 524.5L449.6 529.6L450.5 532.5L451.3 536.3L452.1 532.3L452.9 522.0L453.7 531.7L454.6 512.9L455.4 534.0L456.2 531.7L457.0 527.6L457.8 513.7L458.7 529.3L459.5 533.3L460.3 519.6L461.1 535.8L461.9 526.0L462.8 532.5L463.6 513.2L464.4 526.8L465.2 525.1L466.0 513.7L466.9 521.4L467.7 512.8L468.5 527.1L469.3 515.8L470.1 509.1L471.0 512.3L471.8 498.5L472.6 505.3L473.4 515.1L474.2 506.4L475.1 503.9L475.9 515.2L476.7 508.2L477.5 509.0L478.3 514.2L479.2 504.0L480.0 508.1L480.8 505.9L481.6 507.1L482.4 505.5L483.3 502.2L484.1 508.1L484.9 498.4L485.7 499.7L486.5 508.7L487.4 515.5L488.2 508.0L489.0 510.2L489.8 499.9L490.6 511.6L491.5 516.8L492.3 514.0L493.1 500.1L493.9 515.5L494.7 499.5L495.6 509.2L496.4 507.0L497.2 502.6L498.0 500.4L498.8 515.7L499.7 506.0L500.5 514.1L501.3 498.6L502.1 502.3L502.9 512.8L503.8 510.9L504.6 498.2L505.4 498.5L506.2 502.4L507.0 517.2L507.9 513.5L508.7 505.7L509.5 513.8L510.3 507.5L511.1 517.8L512.0 508.6" stroke="#9467bd" stroke-width="1.0" fill="none" stroke-linejoin="round"/>
<path d="M349.6 645.1L350.4 644.0L351.2 645.5L352.1 643.8L352.9 645.8L353.7 645.8L354.5 645.2L355.3 645.8L356.2 643.6L357.0 644.0L357.8 643.7L358.6 645.8L359.4 643.9L360.3 643.7L361.1 645.7L361.9 644.0L362.7 645.4L363.5 645.8L364.4 644.5L365.2 645.5L366.0 645.6L366.8 644.6L367.6 644.6L368.5 645.8L369.3 645.8L370.1 644.9L370.9 645.8L371.7 645.8L372.6 643.7L373.4 643.6L374.2 644.4L375.0 643.7L375.8 644.4L376.7 643.7L377.5 645.8L378.3 645.4L379.1 645.4L379.9 645.5L380.8 645.7L381.6 645.6L382.4 644.3L383.2 643.6L384.0 643.7L384.9 645.3L385.7 644.7L386.5 645.8L387.3 645.6L388.1 643.8L389.0 644.9L389.8 645.8L390.6 645.1L391.4 644.1L392.2 644.5L393.1 645.8L393.9 645.3L394.7 645.6L395.5 645.8L396.3 645.8L397.2 644.0L398.0 644.8L398.8 644.1L399.6 645.3L400.4 644.0L401.3 645.8L402.1 645.5L402.9 645.8L403.7 645.7L404.5 644.3L405.4 645.8L406.2 643.9L407.0 644.8L407.8 643.9L408.6 645.8L409.5 645.8L410.3 645.8L411.1 643.5L411.9 645.1L412.7 645.8L413.6 645.7L414.4 645.5L415.2 645.7L416.0 645.6L416.8 645.8L417.7 645.8L418.5 645.2L419.3 645.8L420.1 644.7L420.9 644.1L421.8 645.8L422.6 644.6L423.4 644.4L424.2 645.6L425.0 639.2L425.9 645.4L426.7 633.3L427.5 624.1L428.3 629.3L429.1 643.5L430.0 638.1L430.8 636.0L431.6 641.8L432.4 562.7L433.2 565.8L434.1 581.1L434.9 588.9L435.7 570.2L436.5 578.5L437.3 571.6L438.2 565.9L439.0 562.4L439.8 569.1L440.6 589.7L441.4 577.3L442.3 571.5L443.1 590.7L443.9 561.8L444.7 587.3L445.5 566.8L446.4 596.4L447.2 593.9L448.0 596.4L448.8 593.8L449.6 594.3L450.5 594.1L451.3 571.3L452.1 564.2L452.9 568.6L453.7 567.9L454.6 569.3L455.4 590.8L456.2 583.3L457.0 595.3L457.8 590.6L458.7 590.0L459.5 580.5L460.3 564.1L461.1 584.4L461.9 572.5L462.8 573.5L463.6 586.0L464.4 595.4L465.2 589.3L466.0 589.8L466.9 578.6L467.7 585.7L468.5 573.8L469.3 575.2L470.1 568.4L471.0 534.2L471.8 554.5L472.6 563.8L473.4 571.9L474.2 551.5L475.1 568.0L475.9 539.1L476.7 564.3L477.5 565.7L478.3 554.0L479.2 569.9L480.0 531.9L480.8 534.4L481.6 569.8L482.4 562.4L483.3 535.4L484.1 538.4L484.9 549.0L485.7 542.6L486.5 553.3L487.4 545.7L488.2 545.2L489.0 539.5L489.8 529.1L490.6 549.8L491.5 567.5L492.3 538.3L493.1 529.0L493.9 548.9L494.7 530.8L495.6 539.1L496.4 539.2L497.2 537.3L498.0 545.7L498.8 568.5L499.7 567.3L500.5 533.8L501.3 544.1L502.1 565.7L502.9 562.7L503.8 533.5L504.6 567.8L505.4 546.7L506.2 538.7L507.0 560.2L507.9 572.7L508.7 555.9L509.5 542.8L510.3 533.4L511.1 546.1L512.0 570.2" stroke="#ff7f0e" stroke-width="1.0" fill="none" stroke-linejoin="round"/>
<path d="M349.6 644.8L350.4 639.3L351.2 643.9L352.1 645.8L352.9 645.6L353.7 634.5L354.5 642.1L355.3 633.2L356.2 631.3L357.0 642.2L357.8 636.4L358.6 644.6L359.4 643.4L360.3 644.4L361.1 639.3L361.9 645.8L362.7 634.0L363.5 635.9L364.4 645.8L365.2 643.4L366.0 643.8L366.8 631.6L367.6 632.4L368.5 644.5L369.3 637.3L370.1 635.0L370.9 639.1L371.7 643.4L372.6 633.2L373.4 645.8L374.2 631.7L375.0 635.0L375.8 637.3L376.7 643.5L377.5 645.8L378.3 641.4L379.1 639.2L379.9 638.2L380.8 645.1L381.6 641.7L382.4 645.6L383.2 645.8L384.0 637.6L384.9 638.2L385.7 635.7L386.5 639.2L387.3 634.5L388.1 628.9L389.0 639.9L389.8 636.2L390.6 637.5L391.4 638.1L392.2 645.8L393.1 645.8L393.9 636.3L394.7 636.1L395.5 640.5L396.3 641.0L397.2 645.8L398.0 634.3L398.8 635.0L399.6 645.6L400.4 644.7L401.3 643.1L402.1 642.2L402.9 636.6L403.7 631.8L404.5 636.5L405.4 632.0L406.2 641.7L407.0 640.2L407.8 634.4L408.6 631.0L409.5 629.5L410.3 620.1L411.1 636.6L411.9 624.0L412.7 639.4L413.6 636.4L414.4 628.7L415.2 623.0L416.0 635.6L416.8 629.0L417.7 632.9L418.5 638.8L419.3 614.9L420.1 616.8L420.9 618.1L421.8 637.6L422.6 616.8L423.4 613.7L424.2 639.9L425.0 634.5L425.9 633.1L426.7 635.9L427.5 624.9L428.3 619.7L429.1 624.1L430.0 614.7L430.8 594.0L431.6 588.8L432.4 600.3L433.2 588.3L434.1 612.8L434.9 599.7L435.7 608.3L436.5 603.3L437.3 603.1L438.2 615.5L439.0 597.6L439.8 609.8L440.6 597.4L441.4 596.8L442.3 600.6L443.1 582.9L443.9 596.9L444.7 591.1L445.5 580.5L446.4 600.6L447.2 583.5L448.0 601.9L448.8 617.8L449.6 609.4L450.5 608.4L451.3 592.2L452.1 611.6L452.9 592.2L453.7 605.8L454.6 592.1L455.4 581.7L456.2 591.8L457.0 590.2L457.8 594.8L458.7 595.3L459.5 599.1L460.3 587.9L461.1 601.8L461.9 602.1L462.8 585.7L463.6 588.2L464.4 618.1L465.2 605.7L466.0 605.5L466.9 607.6L467.7 613.6L468.5 599.3L469.3 599.9L470.1 557.0L471.0 568.9L471.8 548.8L472.6 551.1L473.4 541.3L474.2 587.3L475.1 546.9L475.9 539.6L476.7 562.7L477.5 562.2L478.3 542.7L479.2 572.6L480.0 547.1L480.8 565.2L481.6 545.4L482.4 551.2L483.3 564.7L484.1 580.8L484.9 574.1L485.7 556.5L486.5 572.0L487.4 578.9L488.2 575.0L489.0 564.4L489.8 559.3L490.6 551.6L491.5 587.0L492.3 558.4L493.1 584.3L493.9 561.8L494.7 577.7L495.6 552.4L496.4 564.6L497.2 582.8L498.0 563.3L498.8 565.8L499.7 552.6L500.5 543.1L501.3 538.0L502.1 539.5L502.9 585.7L503.8 561.9L504.6 568.8L505.4 547.3L506.2 575.8L507.0 542.2L507.9 581.8L508.7 581.5L509.5 575.6L510.3 490.4L511.1 490.4L512.0 490.4" stroke="#8c564b" stroke-width="1.0" fill="none" stroke-linejoin="round"/>
<path d="M353 487.7H362.7" stroke="#1f77b4" stroke-width="1.3"/>
<text x="365.2" y="490.2" font-size="7.2" font-style="italic" stroke="#231f20" stroke-width="0.08" textLength="27.299999999999997" lengthAdjust="spacingAndGlyphs">TPSAB1</text>
<path d="M353 496.4H362.7" stroke="#ff7f0e" stroke-width="1.3"/>
<text x="365.2" y="498.86" font-size="7.2" font-style="italic" stroke="#231f20" stroke-width="0.08" textLength="22.75" lengthAdjust="spacingAndGlyphs">TPSB2</text>
<path d="M353 505.0H362.7" stroke="#2ca02c" stroke-width="1.3"/>
<text x="365.2" y="507.52" font-size="7.2" font-style="italic" stroke="#231f20" stroke-width="0.08" textLength="14" lengthAdjust="spacingAndGlyphs">HDC</text>
<path d="M353 513.7H362.7" stroke="#d62728" stroke-width="1.3"/>
<text x="365.2" y="516.18" font-size="7.2" font-style="italic" stroke="#231f20" stroke-width="0.08" textLength="27.299999999999997" lengthAdjust="spacingAndGlyphs">FCER1A</text>
<path d="M353 522.3H362.7" stroke="#9467bd" stroke-width="1.3"/>
<text x="365.2" y="524.84" font-size="7.2" font-style="italic" stroke="#231f20" stroke-width="0.08" textLength="22.75" lengthAdjust="spacingAndGlyphs">MS4A2</text>
<path d="M353 531.0H362.7" stroke="#8c564b" stroke-width="1.3"/>
<text x="365.2" y="533.5" font-size="7.2" font-style="italic" stroke="#231f20" stroke-width="0.08" textLength="27.299999999999997" lengthAdjust="spacingAndGlyphs">FCER1G</text>
<g transform="rotate(0.02) scale(0.1)" font-size="41" font-style="italic" text-anchor="end" fill="#111" stroke="#111" stroke-width="0.3" style="text-rendering:geometricPrecision"><text x="380" y="3541">FCER1A</text><text x="380" y="3577">CNKSR3</text><text x="380" y="3613">FAM83F</text><text x="380" y="3649">RPS6</text><text x="380" y="3685">CSF1</text><text x="380" y="3722">GALC</text><text x="380" y="3758">CLEC12A</text><text x="380" y="3794">FCER1G</text><text x="380" y="3830">ACSL4</text><text x="380" y="3866">SLC18A2</text><text x="380" y="3902">VWA5A</text><text x="380" y="3939">CPA3</text><text x="380" y="3975">CLC</text><text x="380" y="4011">IKZF2</text><text x="380" y="4047">AC244102.1</text><text x="380" y="4083">CD34</text><text x="380" y="4120">CAPNS2</text><text x="380" y="4156">TPSAB1</text><text x="380" y="4192">TENT5A</text><text x="380" y="4228">HPGD</text><text x="380" y="4264">GATA2</text><text x="380" y="4301">TPSB2</text><text x="380" y="4337">KIT</text><text x="380" y="4373">HDC</text><text x="380" y="4409">MS4A2</text><text x="380" y="4445">LMO4</text><text x="380" y="4482">ENPP3</text><text x="380" y="4518">SIGLEC6</text><text x="380" y="4554">CD9</text><text x="380" y="4590">SRGN</text><text x="380" y="4626">CD69</text><text x="380" y="4662">TPSD1</text><text x="380" y="4699">MS4A3</text><text x="380" y="4735">PRG2</text><text x="380" y="4771">IL4</text><text x="380" y="4807">HPGDS</text><text x="380" y="4843">ALOX5</text><text x="380" y="4880">LTC4S</text><text x="380" y="4916">GPR183</text><text x="380" y="4952">RGS1</text><text x="380" y="4988">CD44</text><text x="380" y="5024">ITGB7</text><text x="380" y="5061">SOCS1</text><text x="380" y="5097">IL5RA</text><text x="380" y="5133">CCR3</text><text x="380" y="5169">CEBPA</text><text x="380" y="5205">CEBPE</text><text x="380" y="5242">ANXA1</text><text x="380" y="5278">LYZ</text><text x="380" y="5314">MPO</text><text x="380" y="5350">AZU1</text><text x="380" y="5386">ELANE</text><text x="380" y="5422">CTSG</text><text x="380" y="5459">RNASE2</text><text x="380" y="5495">CLU</text><text x="380" y="5531">FOS</text><text x="380" y="5567">JUN</text><text x="380" y="5603">DUSP1</text><text x="380" y="5640">NFKBIA</text><text x="380" y="5676">TNFAIP3</text><text x="380" y="5712">HPGDS</text><text x="380" y="5748">CALR</text><text x="380" y="5784">PDIA3</text><text x="380" y="5821">HSPA5</text><text x="380" y="5857">SPINK2</text><text x="380" y="5893">ERG</text><text x="380" y="5929">MEIS1</text><text x="380" y="5965">HLF</text><text x="380" y="6002">CD52</text><text x="380" y="6038">TXNIP</text><text x="380" y="6074">CCDC50</text><text x="380" y="6110">HBS1L</text><text x="380" y="6146">S100A4</text><text x="380" y="6182">S100A6</text><text x="380" y="6219">CD63</text><text x="380" y="6255">PRG2</text><text x="380" y="6291">SEC11C</text><text x="380" y="6327">LAPTM5</text><text x="380" y="6363">SEC61B</text><text x="380" y="6400">SSR4</text><text x="380" y="6436">PRSS57</text><text x="380" y="6472">CANX</text><text x="380" y="6508">FTH1</text><text x="380" y="6544">FTL</text></g>
<path d="M41 352.6H44.2M41 356.2H44.2M41 359.8H44.2M41 363.5H44.2M41 367.1H44.2M41 370.7H44.2M41 374.3H44.2M41 377.9H44.2M41 381.6H44.2M41 385.2H44.2M41 388.8H44.2M41 392.4H44.2M41 396.0H44.2M41 399.7H44.2M41 403.3H44.2M41 406.9H44.2M41 410.5H44.2M41 414.1H44.2M41 417.8H44.2M41 421.4H44.2M41 425.0H44.2M41 428.6H44.2M41 432.2H44.2M41 435.8H44.2M41 439.5H44.2M41 443.1H44.2M41 446.7H44.2M41 450.3H44.2M41 453.9H44.2M41 457.6H44.2M41 461.2H44.2M41 464.8H44.2M41 468.4H44.2M41 472.0H44.2M41 475.7H44.2M41 479.3H44.2M41 482.9H44.2M41 486.5H44.2M41 490.1H44.2M41 493.8H44.2M41 497.4H44.2M41 501.0H44.2M41 504.6H44.2M41 508.2H44.2M41 511.8H44.2M41 515.5H44.2M41 519.1H44.2M41 522.7H44.2M41 526.3H44.2M41 529.9H44.2M41 533.6H44.2M41 537.2H44.2M41 540.8H44.2M41 544.4H44.2M41 548.0H44.2M41 551.7H44.2M41 555.3H44.2M41 558.9H44.2M41 562.5H44.2M41 566.1H44.2M41 569.8H44.2M41 573.4H44.2M41 577.0H44.2M41 580.6H44.2M41 584.2H44.2M41 587.8H44.2M41 591.5H44.2M41 595.1H44.2M41 598.7H44.2M41 602.3H44.2M41 605.9H44.2M41 609.6H44.2M41 613.2H44.2M41 616.8H44.2M41 620.4H44.2M41 624.0H44.2M41 627.7H44.2M41 631.3H44.2M41 634.9H44.2M41 638.5H44.2M41 642.1H44.2M41 645.8H44.2M41 649.4H44.2M41 653.0H44.2" stroke="#111" stroke-width="0.9"/>
<rect x="0.5" y="0.5" width="519" height="676" fill="none" stroke="#000" stroke-width="1"/>
</svg></body></html>
